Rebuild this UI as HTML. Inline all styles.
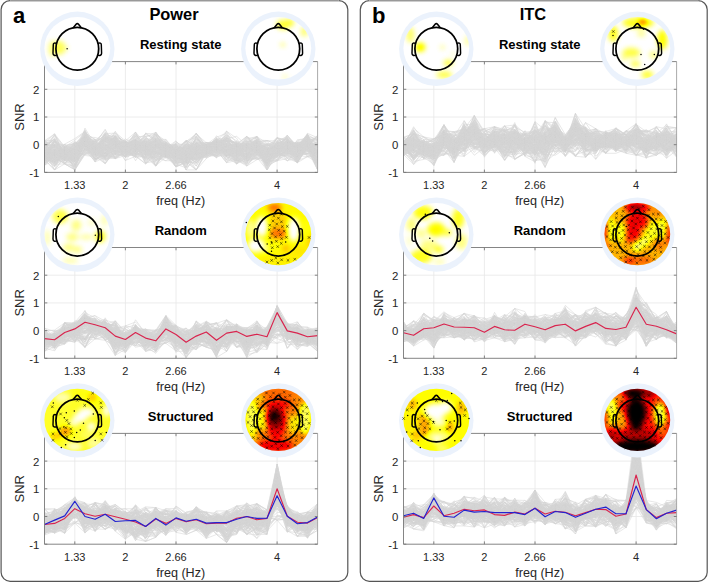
<!DOCTYPE html>
<html><head><meta charset="utf-8"><style>
html,body{margin:0;padding:0;background:#fff;}
svg{display:block;font-family:"Liberation Sans",sans-serif;}
</style></head><body>
<svg width="708" height="583" viewBox="0 0 708 583">
<defs>
<clipPath id="mapclip"><ellipse cx="0" cy="-0.5" rx="32.9" ry="31.2"/></clipPath>
<filter id="cmap" x="-20%" y="-20%" width="140%" height="140%" color-interpolation-filters="sRGB">
<feGaussianBlur stdDeviation="2.6"/>
<feComponentTransfer>
<feFuncR type="table" tableValues="1 1 1 1 1 1 0.667 0.333 0"/>
<feFuncG type="table" tableValues="1 1 1 0.667 0.333 0 0 0 0"/>
<feFuncB type="table" tableValues="1 0.5 0 0 0 0 0 0 0"/>
</feComponentTransfer>
</filter>
</defs>
<rect width="708" height="583" fill="#fff"/>

<rect x="1.1" y="0.6" width="346.7" height="580.7" rx="9" ry="9" fill="#fff" stroke="#555" stroke-width="1.2"/>
<path d="M10.1,0.6H338.8" stroke="#fff" stroke-width="1.3"/><path d="M10.1,0.6H338.8" stroke="#999" stroke-width="1.3"/>
<clipPath id="cP0"><rect x="44.5" y="61.60000000000001" width="273.1" height="110.8"/></clipPath>
<path d="M74.8,61.6V172.4M125.4,61.6V172.4M176.0,61.6V172.4M277.1,61.6V172.4M44.5,144.7H317.6M44.5,117.0H317.6M44.5,89.3H317.6" stroke="#e7e7e7" stroke-width="0.8" fill="none"/>
<g clip-path="url(#cP0)"><g transform="translate(44.50,144.70) scale(10.1148,-0.2770)" fill="none" stroke="#d4d4d4" stroke-width="0.55" stroke-linejoin="round">
<polyline vector-effect="non-scaling-stroke" points="0,-40 1,-32 2,-40 3,-29 4,3 5,-21 6,-42 7,-14 8,12 9,-19 10,-37 11,-5 12,5 13,-61 14,-40 15,-40 16,-42 17,8 18,-6 19,-15 20,-38 21,-1 22,-48 23,-16 24,-32 25,-43 26,24 27,-40"/>
<polyline vector-effect="non-scaling-stroke" points="0,-17 1,-20 2,-36 3,-39 4,28 5,-18 6,-4 7,8 8,7 9,14 10,1 11,-24 12,-38 13,-9 14,-11 15,-22 16,-10 17,11 18,17 19,5 20,-28 21,19 22,-61 23,4 24,3 25,-3 26,36 27,16"/>
<polyline vector-effect="non-scaling-stroke" points="0,-52 1,-76 2,-22 3,-60 4,8 5,-3 6,-53 7,-47 8,-13 9,-6 10,-20 11,-16 12,-34 13,-65 14,-42 15,-54 16,-42 17,2 18,-10 19,-11 20,-48 21,-24 22,-62 23,-33 24,-8 25,-38 26,6 27,-20"/>
<polyline vector-effect="non-scaling-stroke" points="0,4 1,-76 2,-25 3,-44 4,1 5,-53 6,-29 7,10 8,-24 9,-12 10,-29 11,4 12,-25 13,-80 14,-62 15,-91 16,-50 17,-22 18,15 19,-25 20,-59 21,-36 22,-21 23,-19 24,-17 25,-30 26,-6 27,-17"/>
<polyline vector-effect="non-scaling-stroke" points="0,-19 1,-23 2,-52 3,-23 4,-10 5,0 6,-45 7,-4 8,-19 9,-39 10,22 11,17 12,-29 13,-20 14,-32 15,-91 16,-18 17,-9 18,-9 19,-46 20,-32 21,-17 22,-15 23,-11 24,-14 25,1 26,-13 27,-43"/>
<polyline vector-effect="non-scaling-stroke" points="0,-74 1,5 2,-25 3,-20 4,15 5,-23 6,-11 7,-13 8,-27 9,-14 10,11 11,-12 12,-26 13,-53 14,-62 15,7 16,-18 17,-11 18,-27 19,-52 20,-34 21,-3 22,-56 23,-27 24,-24 25,-27 26,-38 27,-46"/>
<polyline vector-effect="non-scaling-stroke" points="0,-42 1,1 2,-43 3,-15 4,43 5,-21 6,-19 7,9 8,-14 9,-26 10,0 11,37 12,-21 13,-34 14,-59 15,-13 16,-34 17,-23 18,25 19,-36 20,3 21,17 22,-29 23,-3 24,27 25,-23 26,-9 27,-62"/>
<polyline vector-effect="non-scaling-stroke" points="0,-12 1,34 2,-8 3,-36 4,7 5,-12 6,21 7,14 8,0 9,17 10,-3 11,3 12,-3 13,-19 14,-10 15,41 16,-4 17,8 18,-31 19,4 20,-51 21,-23 22,-3 23,10 24,1 25,-40 26,7 27,-26"/>
<polyline vector-effect="non-scaling-stroke" points="0,-18 1,30 2,-32 3,-56 4,-21 5,-21 6,-15 7,-28 8,-17 9,-36 10,8 11,7 12,-4 13,-45 14,-29 15,-33 16,-27 17,-14 18,-44 19,-54 20,-9 21,-17 22,-36 23,-1 24,-50 25,-40 26,1 27,-22"/>
<polyline vector-effect="non-scaling-stroke" points="0,-40 1,-4 2,-33 3,-69 4,-17 5,-6 6,0 7,-47 8,2 9,2 10,12 11,-32 12,-27 13,-61 14,12 15,-36 16,-4 17,-21 18,-9 19,-61 20,-37 21,2 22,-72 23,0 24,-9 25,-46 26,-14 27,-47"/>
<polyline vector-effect="non-scaling-stroke" points="0,-21 1,-31 2,-41 3,-31 4,-6 5,-36 6,2 7,27 8,-38 9,2 10,-21 11,-33 12,0 13,-36 14,2 15,-38 16,-11 17,-3 18,-18 19,0 20,-19 21,5 22,-31 23,-29 24,-6 25,-15 26,22 27,-44"/>
<polyline vector-effect="non-scaling-stroke" points="0,-22 1,-67 2,-19 3,-53 4,-26 5,-13 6,29 7,-27 8,-31 9,-16 10,-34 11,1 12,-28 13,-41 14,-19 15,-39 16,-11 17,-18 18,-31 19,-53 20,23 21,-12 22,-26 23,-11 24,-3 25,-16 26,37 27,-49"/>
<polyline vector-effect="non-scaling-stroke" points="0,-57 1,-51 2,-52 3,-11 4,29 5,-33 6,-41 7,-3 8,8 9,-58 10,2 11,-41 12,0 13,-52 14,-41 15,-64 16,-31 17,19 18,15 19,-24 20,-40 21,-44 22,-43 23,-13 24,-10 25,-21 26,-18 27,-26"/>
<polyline vector-effect="non-scaling-stroke" points="0,-36 1,-1 2,-11 3,-45 4,-17 5,-26 6,-33 7,-24 8,-24 9,-38 10,-8 11,-29 12,-20 13,-44 14,-63 15,-63 16,-28 17,-22 18,-11 19,-27 20,-64 21,-17 22,-78 23,-34 24,-25 25,-65 26,-5 27,-34"/>
<polyline vector-effect="non-scaling-stroke" points="0,-29 1,-36 2,-37 3,-55 4,5 5,-26 6,-2 7,-24 8,-11 9,-1 10,-15 11,-25 12,-8 13,-66 14,-26 15,-16 16,-15 17,2 18,-22 19,-23 20,-7 21,-2 22,-31 23,-42 24,1 25,-1 26,18 27,-20"/>
<polyline vector-effect="non-scaling-stroke" points="0,-51 1,11 2,-28 3,-86 4,26 5,-38 6,-30 7,-2 8,11 9,-4 10,3 11,39 12,13 13,-25 14,-33 15,-49 16,-23 17,9 18,12 19,-7 20,8 21,-17 22,-29 23,5 24,8 25,4 26,14 27,-24"/>
<polyline vector-effect="non-scaling-stroke" points="0,-32 1,-71 2,-69 3,-32 4,-5 5,-22 6,-69 7,-20 8,-38 9,-39 10,-69 11,-41 12,-13 13,-36 14,-65 15,-42 16,-17 17,-47 18,-25 19,-20 20,-20 21,8 22,-25 23,-20 24,-17 25,-18 26,-21 27,-45"/>
<polyline vector-effect="non-scaling-stroke" points="0,-12 1,22 2,-37 3,-37 4,11 5,4 6,-11 7,29 8,-37 9,-13 10,-22 11,1 12,-4 13,-67 14,-62 15,-19 16,-30 17,-36 18,13 19,-11 20,-15 21,-22 22,-18 23,-22 24,7 25,-42 26,-19 27,-26"/>
<polyline vector-effect="non-scaling-stroke" points="0,-60 1,-31 2,-43 3,-79 4,-9 5,-41 6,-5 7,-32 8,-40 9,2 10,17 11,13 12,-32 13,-46 14,-23 15,-54 16,-44 17,-19 18,-18 19,-56 20,-77 21,-54 22,-42 23,-46 24,-32 25,-34 26,-5 27,-61"/>
<polyline vector-effect="non-scaling-stroke" points="0,-28 1,-67 2,-48 3,-73 4,21 5,-29 6,-42 7,-19 8,-31 9,-3 10,-66 11,-59 12,-35 13,5 14,-29 15,-44 16,-17 17,19 18,-28 19,-39 20,-9 21,-12 22,-35 23,-35 24,14 25,-3 26,0 27,-25"/>
<polyline vector-effect="non-scaling-stroke" points="0,-75 1,-31 2,-50 3,-42 4,6 5,-40 6,-69 7,-9 8,-45 9,-33 10,-49 11,-48 12,-58 13,-25 14,-51 15,-17 16,-6 17,-20 18,-65 19,-57 20,-72 21,-36 22,-55 23,-58 24,-21 25,-65 26,-10 27,-54"/>
<polyline vector-effect="non-scaling-stroke" points="0,-34 1,-29 2,-42 3,-49 4,-30 5,-18 6,40 7,42 8,5 9,9 10,-31 11,20 12,-20 13,-34 14,-45 15,-23 16,-26 17,-7 18,-36 19,-27 20,26 21,-13 22,-43 23,-6 24,2 25,-44 26,-4 27,-5"/>
<polyline vector-effect="non-scaling-stroke" points="0,-33 1,-38 2,-18 3,-64 4,-1 5,-38 6,18 7,-50 8,-39 9,-31 10,-10 11,-14 12,-5 13,-77 14,-33 15,-49 16,-36 17,-5 18,-45 19,-69 20,-45 21,-50 22,-66 23,-18 24,-16 25,-4 26,-14 27,-86"/>
<polyline vector-effect="non-scaling-stroke" points="0,-38 1,-46 2,-49 3,-16 4,0 5,-52 6,18 7,5 8,-7 9,1 10,6 11,-9 12,4 13,-20 14,-24 15,-7 16,-36 17,-4 18,-8 19,-10 20,-50 21,20 22,-30 23,-33 24,-42 25,-23 26,3 27,-42"/>
<polyline vector-effect="non-scaling-stroke" points="0,-22 1,-39 2,-22 3,-46 4,12 5,3 6,56 7,-17 8,-22 9,-21 10,8 11,-42 12,-24 13,-29 14,-56 15,-48 16,-23 17,-41 18,-40 19,-24 20,-16 21,-11 22,-75 23,-20 24,7 25,-10 26,2 27,-48"/>
<polyline vector-effect="non-scaling-stroke" points="0,-15 1,-42 2,-52 3,-53 4,39 5,-13 6,23 7,-9 8,-1 9,-20 10,-17 11,45 12,-6 13,-43 14,-39 15,-16 16,-6 17,-14 18,-52 19,-25 20,-22 21,-9 22,-9 23,-9 24,4 25,-43 26,15 27,25"/>
<polyline vector-effect="non-scaling-stroke" points="0,-36 1,-52 2,-49 3,-17 4,-39 5,-43 6,-26 7,-8 8,-46 9,-26 10,-49 11,-44 12,-41 13,-80 14,-66 15,-34 16,-48 17,-31 18,-20 19,-69 20,-47 21,-53 22,-38 23,4 24,5 25,-48 26,-8 27,-57"/>
<polyline vector-effect="non-scaling-stroke" points="0,-29 1,11 2,-57 3,-11 4,4 5,5 6,-6 7,-18 8,-14 9,6 10,-17 11,-8 12,-30 13,-80 14,-22 15,-11 16,-20 17,-7 18,12 19,-33 20,-44 21,-18 22,-16 23,-45 24,8 25,-37 26,-24 27,-1"/>
<polyline vector-effect="non-scaling-stroke" points="0,-28 1,-61 2,-37 3,-8 4,35 5,-24 6,6 7,18 8,-27 9,3 10,-12 11,-28 12,-26 13,-29 14,-35 15,-39 16,-24 17,14 18,-1 19,0 20,5 21,0 22,13 23,-29 24,5 25,-27 26,32 27,17"/>
<polyline vector-effect="non-scaling-stroke" points="0,-65 1,-49 2,-21 3,-10 4,28 5,-15 6,9 7,18 8,-15 9,19 10,-65 11,4 12,-34 13,-11 14,-39 15,-46 16,-13 17,-19 18,-27 19,-50 20,-20 21,0 22,-12 23,-15 24,11 25,-19 26,1 27,-10"/>
<polyline vector-effect="non-scaling-stroke" points="0,-20 1,-55 2,-48 3,-54 4,-4 5,-48 6,3 7,-23 8,-20 9,-40 10,-21 11,-23 12,-38 13,-7 14,-45 15,5 16,-16 17,-30 18,-34 19,-24 20,-38 21,-23 22,-60 23,-58 24,-30 25,-65 26,-6 27,-67"/>
<polyline vector-effect="non-scaling-stroke" points="0,-45 1,-36 2,-31 3,-73 4,-34 5,-41 6,-67 7,-24 8,7 9,-33 10,-2 11,-57 12,-16 13,-42 14,-42 15,-13 16,-1 17,-4 18,-8 19,-44 20,-13 21,-18 22,-22 23,-18 24,18 25,-62 26,-8 27,-9"/>
<polyline vector-effect="non-scaling-stroke" points="0,-43 1,-60 2,-44 3,-78 4,3 5,19 6,13 7,-33 8,-40 9,-24 10,0 11,-49 12,-37 13,-23 14,-27 15,-47 16,-40 17,-41 18,-35 19,-69 20,-15 21,-30 22,-35 23,10 24,3 25,-51 26,8 27,-9"/>
<polyline vector-effect="non-scaling-stroke" points="0,-49 1,-62 2,-40 3,-82 4,33 5,-62 6,-46 7,-12 8,-26 9,-9 10,-14 11,-30 12,-6 13,-80 14,-45 15,-55 16,-22 17,-7 18,-39 19,-40 20,-12 21,-10 22,-61 23,14 24,26 25,-56 26,0 27,27"/>
<polyline vector-effect="non-scaling-stroke" points="0,0 1,-3 2,-26 3,-30 4,18 5,-15 6,29 7,7 8,-13 9,-19 10,0 11,-23 12,-11 13,-1 14,-16 15,6 16,-8 17,6 18,4 19,-12 20,7 21,-19 22,5 23,-4 24,-13 25,-19 26,-1 27,-8"/>
<polyline vector-effect="non-scaling-stroke" points="0,-49 1,-4 2,-51 3,-91 4,-15 5,-62 6,-16 7,17 8,-11 9,-44 10,-40 11,21 12,-18 13,-39 14,-21 15,33 16,-8 17,-8 18,-6 19,-12 20,-45 21,-37 22,-43 23,-39 24,-19 25,-26 26,34 27,-60"/>
<polyline vector-effect="non-scaling-stroke" points="0,-28 1,-28 2,-25 3,-5 4,0 5,-32 6,-50 7,-18 8,-6 9,-3 10,-36 11,-24 12,-16 13,-21 14,-49 15,-30 16,-43 17,-25 18,32 19,-66 20,-29 21,-6 22,-44 23,-29 24,-11 25,-20 26,0 27,-78"/>
<polyline vector-effect="non-scaling-stroke" points="0,-19 1,-35 2,-33 3,-14 4,34 5,8 6,-5 7,32 8,11 9,29 10,29 11,-6 12,-12 13,-6 14,-57 15,-4 16,-19 17,-2 18,-38 19,-26 20,-11 21,13 22,-5 23,-7 24,-4 25,-27 26,16 27,-20"/>
<polyline vector-effect="non-scaling-stroke" points="0,-19 1,15 2,-36 3,-76 4,-15 5,-50 6,-45 7,25 8,-16 9,-45 10,-3 11,11 12,-28 13,-51 14,-50 15,-22 16,-14 17,11 18,16 19,1 20,2 21,-3 22,-78 23,-21 24,-9 25,-33 26,12 27,-44"/>
<polyline vector-effect="non-scaling-stroke" points="0,-46 1,13 2,-22 3,-26 4,29 5,2 6,4 7,-50 8,-28 9,-15 10,-37 11,-10 12,1 13,-41 14,-63 15,31 16,-25 17,-27 18,-1 19,-9 20,-39 21,3 22,-48 23,-32 24,-7 25,-8 26,-11 27,-19"/>
<polyline vector-effect="non-scaling-stroke" points="0,-26 1,39 2,-42 3,4 4,12 5,-16 6,16 7,23 8,7 9,4 10,-24 11,-26 12,-8 13,-18 14,-4 15,-9 16,-6 17,21 18,0 19,-48 20,-47 21,-35 22,0 23,-28 24,14 25,-9 26,31 27,1"/>
<polyline vector-effect="non-scaling-stroke" points="0,-26 1,-28 2,-29 3,-25 4,0 5,-15 6,38 7,-34 8,-10 9,-24 10,-6 11,8 12,-17 13,-15 14,-72 15,8 16,-26 17,7 18,0 19,-69 20,-38 21,-5 22,-1 23,-8 24,-4 25,-46 26,26 27,21"/>
<polyline vector-effect="non-scaling-stroke" points="0,-38 1,-47 2,-68 3,-23 4,54 5,-13 6,13 7,2 8,-44 9,11 10,-57 11,-36 12,-22 13,-25 14,-40 15,-29 16,-37 17,-39 18,-19 19,-46 20,-67 21,-45 22,-61 23,-58 24,-50 25,-63 26,-6 27,-31"/>
<polyline vector-effect="non-scaling-stroke" points="0,13 1,-65 2,-42 3,-7 4,7 5,-21 6,41 7,-3 8,-35 9,-33 10,-3 11,-5 12,-40 13,-50 14,-23 15,-6 16,-26 17,7 18,9 19,-55 20,-27 21,-2 22,-48 23,-53 24,-14 25,-7 26,29 27,-85"/>
<polyline vector-effect="non-scaling-stroke" points="0,19 1,-36 2,-8 3,16 4,46 5,0 6,-17 7,31 8,-15 9,-46 10,41 11,21 12,19 13,-35 14,11 15,39 16,7 17,7 18,-18 19,-6 20,-57 21,-28 22,-18 23,-19 24,1 25,-10 26,41 27,25"/>
<polyline vector-effect="non-scaling-stroke" points="0,-43 1,-12 2,-57 3,-59 4,14 5,-55 6,-33 7,-44 8,-27 9,14 10,-49 11,-28 12,-46 13,-71 14,-83 15,-4 16,-1 17,-9 18,-43 19,-18 20,-47 21,-9 22,-47 23,-23 24,-13 25,-46 26,-21 27,-91"/>
<polyline vector-effect="non-scaling-stroke" points="0,-25 1,-51 2,-27 3,-43 4,23 5,0 6,-31 7,-5 8,-24 9,21 10,36 11,19 12,-15 13,5 14,-61 15,30 16,-21 17,-47 18,49 19,23 20,-35 21,1 22,-30 23,-4 24,-31 25,-25 26,17 27,-9"/>
<polyline vector-effect="non-scaling-stroke" points="0,-2 1,-19 2,2 3,-47 4,18 5,-52 6,-37 7,32 8,-31 9,9 10,-11 11,-40 12,-22 13,-40 14,-45 15,0 16,-10 17,-13 18,-27 19,-10 20,-21 21,9 22,15 23,2 24,-9 25,-22 26,-13 27,-49"/>
<polyline vector-effect="non-scaling-stroke" points="0,-53 1,-44 2,-43 3,-20 4,-5 5,-25 6,-46 7,31 8,-12 9,27 10,-1 11,16 12,-27 13,-23 14,15 15,-67 16,-9 17,18 18,-3 19,-8 20,0 21,-28 22,-33 23,-36 24,-30 25,-38 26,-7 27,-30"/>
<polyline vector-effect="non-scaling-stroke" points="0,2 1,-36 2,2 3,22 4,48 5,-4 6,20 7,36 8,8 9,-20 10,28 11,45 12,-32 13,8 14,-6 15,2 16,8 17,-7 18,22 19,30 20,-3 21,1 22,-11 23,-4 24,34 25,-19 26,34 27,-33"/>
<polyline vector-effect="non-scaling-stroke" points="0,-5 1,-16 2,-69 3,-21 4,-5 5,-16 6,46 7,-13 8,-27 9,35 10,0 11,35 12,-6 13,-41 14,-28 15,22 16,-3 17,3 18,5 19,-11 20,-26 21,30 22,-27 23,-28 24,-11 25,-1 26,19 27,-19"/>
<polyline vector-effect="non-scaling-stroke" points="0,-52 1,-40 2,-69 3,-80 4,16 5,-37 6,-10 7,17 8,-14 9,-17 10,24 11,-11 12,-34 13,-27 14,-39 15,-65 16,-25 17,-18 18,-65 19,-34 20,-42 21,-29 22,-90 23,-32 24,-22 25,-30 26,-32 27,-24"/>
<polyline vector-effect="non-scaling-stroke" points="0,-51 1,-29 2,-12 3,-47 4,0 5,5 6,-13 7,-2 8,-10 9,19 10,-66 11,-35 12,-34 13,-53 14,-55 15,-46 16,-14 17,-20 18,-1 19,-8 20,-38 21,-6 22,1 23,-7 24,-22 25,-21 26,-15 27,-18"/>
<polyline vector-effect="non-scaling-stroke" points="0,-3 1,-39 2,-30 3,4 4,6 5,-7 6,-24 7,-8 8,-19 9,45 10,-14 11,-19 12,-21 13,-28 14,-15 15,-9 16,8 17,5 18,35 19,-5 20,-1 21,-31 22,-32 23,-9 24,-8 25,-55 26,21 27,-28"/>
<polyline vector-effect="non-scaling-stroke" points="0,-36 1,-33 2,-36 3,-22 4,-20 5,-35 6,1 7,5 8,-23 9,-19 10,-34 11,-17 12,0 13,-54 14,-5 15,-2 16,-25 17,7 18,-45 19,-57 20,-54 21,-19 22,-45 23,-25 24,-9 25,-63 26,9 27,-68"/>
<polyline vector-effect="non-scaling-stroke" points="0,-32 1,-25 2,-44 3,-56 4,-4 5,-9 6,20 7,23 8,-26 9,-14 10,-25 11,7 12,-46 13,0 14,-38 15,-35 16,-10 17,18 18,11 19,11 20,-10 21,17 22,-1 23,-9 24,24 25,-12 26,9 27,-41"/>
<polyline vector-effect="non-scaling-stroke" points="0,-32 1,-3 2,-53 3,-15 4,18 5,-11 6,-66 7,1 8,-5 9,-22 10,-10 11,-77 12,-7 13,-45 14,-17 15,-77 16,-11 17,-8 18,13 19,-38 20,-36 21,28 22,-55 23,-27 24,-15 25,-40 26,21 27,17"/>
<polyline vector-effect="non-scaling-stroke" points="0,-33 1,-63 2,-10 3,5 4,35 5,11 6,-18 7,7 8,-34 9,-28 10,18 11,-22 12,19 13,-22 14,-42 15,8 16,6 17,10 18,-27 19,-3 20,16 21,-12 22,-45 23,9 24,0 25,-35 26,1 27,-37"/>
<polyline vector-effect="non-scaling-stroke" points="0,-6 1,-1 2,-5 3,4 4,-8 5,5 6,37 7,28 8,13 9,0 10,-16 11,28 12,-22 13,-60 14,2 15,-22 16,-13 17,-16 18,-20 19,-26 20,-13 21,9 22,-72 23,11 24,-18 25,-26 26,25 27,-9"/>
<polyline vector-effect="non-scaling-stroke" points="0,-65 1,16 2,-51 3,-32 4,8 5,4 6,-26 7,18 8,-34 9,13 10,-38 11,-32 12,7 13,-31 14,-41 15,29 16,-18 17,-25 18,4 19,-50 20,-4 21,5 22,-57 23,-31 24,-12 25,-26 26,-23 27,-20"/>
<polyline vector-effect="non-scaling-stroke" points="0,-66 1,-33 2,-36 3,-34 4,20 5,-37 6,14 7,2 8,-25 9,-33 10,-38 11,-2 12,-32 13,-27 14,-10 15,8 16,0 17,-7 18,-30 19,6 20,-12 21,11 22,-33 23,8 24,8 25,-6 26,12 27,-13"/>
<polyline vector-effect="non-scaling-stroke" points="0,-25 1,-23 2,-20 3,-49 4,42 5,-22 6,15 7,-3 8,-23 9,33 10,-24 11,-54 12,-33 13,-42 14,6 15,-23 16,-10 17,-26 18,-2 19,-8 20,13 21,-27 22,-27 23,-12 24,-35 25,-25 26,-7 27,-91"/>
<polyline vector-effect="non-scaling-stroke" points="0,-13 1,-7 2,-37 3,-63 4,43 5,-9 6,24 7,34 8,-23 9,15 10,-15 11,-13 12,-17 13,-29 14,-10 15,-17 16,-19 17,-7 18,4 19,-35 20,-31 21,-9 22,-47 23,-14 24,-20 25,14 26,25 27,-13"/>
<polyline vector-effect="non-scaling-stroke" points="0,-39 1,19 2,-36 3,-47 4,5 5,-21 6,17 7,-10 8,9 9,-38 10,-9 11,-56 12,2 13,-50 14,-51 15,-13 16,-11 17,-35 18,-29 19,-61 20,-32 21,-22 22,-58 23,-38 24,-29 25,-46 26,1 27,-2"/>
<polyline vector-effect="non-scaling-stroke" points="0,-72 1,-35 2,-43 3,-25 4,-17 5,-24 6,-40 7,12 8,-18 9,-14 10,-9 11,-28 12,-49 13,-24 14,-35 15,-35 16,-10 17,11 18,-40 19,-40 20,6 21,10 22,-59 23,-41 24,-28 25,-35 26,-34 27,-33"/>
<polyline vector-effect="non-scaling-stroke" points="0,-54 1,-61 2,-20 3,-50 4,8 5,-6 6,15 7,-6 8,-16 9,-25 10,25 11,1 12,-38 13,-32 14,-22 15,-12 16,1 17,17 18,-21 19,-21 20,-54 21,-7 22,-34 23,26 24,-9 25,-62 26,-13 27,-25"/>
<polyline vector-effect="non-scaling-stroke" points="0,-42 1,-35 2,-30 3,-11 4,17 5,-24 6,28 7,2 8,-15 9,-25 10,-19 11,14 12,-37 13,-23 14,-10 15,-20 16,-10 17,-16 18,35 19,14 20,-6 21,-34 22,-49 23,11 24,31 25,-8 26,30 27,-30"/>
<polyline vector-effect="non-scaling-stroke" points="0,-18 1,-8 2,-17 3,-54 4,43 5,18 6,-19 7,-14 8,0 9,-5 10,-55 11,21 12,-5 13,-28 14,15 15,-3 16,-20 17,7 18,-17 19,-21 20,0 21,-9 22,-32 23,24 24,17 25,3 26,20 27,1"/>
<polyline vector-effect="non-scaling-stroke" points="0,-10 1,-43 2,-14 3,-72 4,-10 5,-56 6,-32 7,1 8,-2 9,-34 10,-27 11,-41 12,-41 13,-69 14,-49 15,-91 16,-26 17,-15 18,-39 19,-54 20,-70 21,11 22,-83 23,2 24,-10 25,-40 26,-33 27,-16"/>
<polyline vector-effect="non-scaling-stroke" points="0,0 1,-61 2,-43 3,-14 4,10 5,13 6,-30 7,7 8,-45 9,31 10,-39 11,-77 12,-26 13,-41 14,-3 15,-44 16,-24 17,0 18,22 19,-27 20,-7 21,-7 22,-52 23,-19 24,-17 25,-45 26,15 27,-75"/>
<polyline vector-effect="non-scaling-stroke" points="0,3 1,11 2,-28 3,-41 4,14 5,-1 6,23 7,16 8,6 9,-9 10,1 11,-47 12,0 13,-21 14,-37 15,18 16,-7 17,-47 18,3 19,-42 20,9 21,30 22,-40 23,-6 24,-8 25,-9 26,18 27,15"/>
<polyline vector-effect="non-scaling-stroke" points="0,-67 1,-8 2,-63 3,-49 4,15 5,-21 6,-58 7,-35 8,-42 9,-28 10,-8 11,-75 12,-26 13,-38 14,-46 15,-38 16,-12 17,-13 18,-9 19,-26 20,-4 21,-54 22,-29 23,-37 24,-36 25,-58 26,-43 27,-64"/>
<polyline vector-effect="non-scaling-stroke" points="0,-45 1,-16 2,-59 3,-1 4,12 5,-25 6,-30 7,-19 8,-40 9,-21 10,-17 11,-24 12,-45 13,-41 14,-62 15,-24 16,0 17,3 18,-19 19,-58 20,-60 21,-46 22,-25 23,-32 24,-13 25,-36 26,-1 27,4"/>
<polyline vector-effect="non-scaling-stroke" points="0,-41 1,-34 2,-45 3,-10 4,-13 5,-39 6,-43 7,-29 8,-8 9,45 10,-37 11,9 12,-13 13,-54 14,-43 15,-30 16,-28 17,26 18,-55 19,-10 20,-14 21,-21 22,-33 23,1 24,-7 25,-14 26,13 27,-83"/>
<polyline vector-effect="non-scaling-stroke" points="0,14 1,39 2,-8 3,9 4,-6 5,-6 6,-8 7,5 8,11 9,-7 10,0 11,-48 12,-9 13,-16 14,-37 15,-24 16,8 17,-14 18,-16 19,-20 20,19 21,30 22,-14 23,-15 24,-5 25,8 26,-3 27,27"/>
<polyline vector-effect="non-scaling-stroke" points="0,8 1,-12 2,-17 3,-4 4,51 5,-29 6,35 7,3 8,-22 9,6 10,-8 11,-30 12,-38 13,-43 14,3 15,40 16,-7 17,21 18,-9 19,-11 20,-7 21,-23 22,-50 23,-6 24,-8 25,-34 26,14 27,-23"/>
<polyline vector-effect="non-scaling-stroke" points="0,-9 1,-28 2,-39 3,-30 4,4 5,-32 6,-19 7,16 8,-7 9,20 10,-57 11,-28 12,-27 13,-30 14,-50 15,-42 16,-11 17,-3 18,-39 19,7 20,-3 21,-23 22,-21 23,-30 24,8 25,-27 26,-16 27,-40"/>
<polyline vector-effect="non-scaling-stroke" points="0,-45 1,-23 2,-31 3,-33 4,-6 5,-62 6,-6 7,-44 8,-14 9,16 10,-9 11,-29 12,-23 13,-37 14,-52 15,-45 16,-33 17,12 18,-10 19,-1 20,-31 21,-11 22,-43 23,-8 24,3 25,-19 26,-14 27,-52"/>
<polyline vector-effect="non-scaling-stroke" points="0,4 1,-35 2,-38 3,2 4,31 5,-8 6,-18 7,49 8,-10 9,5 10,-18 11,-55 12,-42 13,-25 14,-29 15,-33 16,-36 17,-32 18,-17 19,-52 20,-4 21,8 22,15 23,-1 24,-24 25,-39 26,-43 27,-46"/>
<polyline vector-effect="non-scaling-stroke" points="0,-14 1,23 2,-12 3,2 4,32 5,10 6,52 7,-3 8,-10 9,-18 10,41 11,38 12,6 13,-39 14,-15 15,-8 16,-9 17,6 18,25 19,-9 20,14 21,8 22,-25 23,-2 24,-3 25,6 26,10 27,1"/>
<polyline vector-effect="non-scaling-stroke" points="0,-38 1,-72 2,-21 3,-63 4,21 5,-11 6,-55 7,-23 8,-28 9,-27 10,-45 11,0 12,-25 13,-27 14,-50 15,-20 16,-31 17,-8 18,3 19,-20 20,-37 21,-34 22,-36 23,-11 24,-19 25,-39 26,7 27,32"/>
<polyline vector-effect="non-scaling-stroke" points="0,-35 1,-18 2,-28 3,-91 4,11 5,-32 6,28 7,-5 8,-32 9,-12 10,-11 11,-32 12,-20 13,-62 14,-44 15,-5 16,2 17,5 18,-2 19,4 20,-2 21,16 22,-15 23,-18 24,-7 25,-20 26,4 27,-24"/>
<polyline vector-effect="non-scaling-stroke" points="0,-38 1,-78 2,-39 3,-78 4,17 5,-12 6,-45 7,22 8,2 9,2 10,30 11,37 12,-35 13,-7 14,-22 15,-6 16,-6 17,-13 18,-16 19,-31 20,-34 21,-8 22,-65 23,-30 24,5 25,-18 26,11 27,-73"/>
<polyline vector-effect="non-scaling-stroke" points="0,-43 1,-41 2,-31 3,-46 4,29 5,-17 6,-5 7,3 8,-4 9,-16 10,12 11,-3 12,-15 13,-30 14,-25 15,3 16,-8 17,2 18,14 19,-15 20,5 21,-11 22,-86 23,8 24,-8 25,-43 26,-3 27,-52"/>
<polyline vector-effect="non-scaling-stroke" points="0,12 1,-13 2,-59 3,-19 4,0 5,17 6,-35 7,-50 8,-15 9,-14 10,-24 11,-74 12,-12 13,-1 14,-83 15,7 16,-27 17,32 18,3 19,-23 20,1 21,-2 22,-51 23,-3 24,-22 25,-56 26,34 27,-38"/>
<polyline vector-effect="non-scaling-stroke" points="0,-50 1,-29 2,-66 3,-79 4,-13 5,-37 6,-17 7,15 8,-34 9,-5 10,-10 11,-58 12,-22 13,-62 14,-24 15,-25 16,-25 17,-39 18,-16 19,-46 20,-17 21,-22 22,-68 23,-7 24,-6 25,-42 26,12 27,-49"/>
<polyline vector-effect="non-scaling-stroke" points="0,-32 1,-20 2,-44 3,-41 4,8 5,11 6,34 7,-2 8,11 9,-5 10,-3 11,9 12,-12 13,14 14,-30 15,-57 16,-4 17,-11 18,-13 19,-69 20,1 21,4 22,-18 23,3 24,22 25,-21 26,17 27,-46"/>
<polyline vector-effect="non-scaling-stroke" points="0,-37 1,-1 2,-29 3,-70 4,14 5,-23 6,-32 7,8 8,-26 9,-45 10,-44 11,25 12,-47 13,-30 14,-27 15,-11 16,-38 17,-14 18,-7 19,-5 20,-41 21,-35 22,-19 23,2 24,-6 25,-36 26,5 27,-29"/>
<polyline vector-effect="non-scaling-stroke" points="0,2 1,-42 2,-21 3,-19 4,-1 5,-1 6,12 7,8 8,1 9,-23 10,1 11,12 12,-3 13,1 14,-50 15,-49 16,-9 17,13 18,49 19,7 20,-27 21,14 22,-41 23,-30 24,34 25,-5 26,24 27,4"/>
<polyline vector-effect="non-scaling-stroke" points="0,15 1,-7 2,-9 3,-48 4,-13 5,16 6,42 7,21 8,-6 9,7 10,-20 11,33 12,-2 13,-14 14,-20 15,15 16,-9 17,14 18,-26 19,0 20,30 21,-13 22,-31 23,7 24,14 25,-4 26,-23 27,-5"/>
<polyline vector-effect="non-scaling-stroke" points="0,-50 1,-47 2,-24 3,-38 4,28 5,26 6,16 7,18 8,-31 9,-19 10,-37 11,-28 12,-36 13,-44 14,-40 15,-52 16,-37 17,-29 18,5 19,-16 20,1 21,8 22,-43 23,-2 24,-39 25,18 26,22 27,-32"/>
<polyline vector-effect="non-scaling-stroke" points="0,-42 1,-4 2,-56 3,-41 4,34 5,-8 6,-8 7,30 8,-27 9,9 10,-15 11,-27 12,-4 13,-44 14,12 15,-29 16,8 17,-17 18,17 19,-36 20,-45 21,-1 22,-13 23,-31 24,19 25,-29 26,10 27,-7"/>
<polyline vector-effect="non-scaling-stroke" points="0,-17 1,-80 2,-11 3,-20 4,-2 5,-39 6,-55 7,-31 8,-9 9,-15 10,-43 11,-32 12,4 13,-41 14,-53 15,9 16,-15 17,-6 18,-25 19,-55 20,-53 21,-21 22,-44 23,-10 24,-2 25,-19 26,3 27,-58"/>
<polyline vector-effect="non-scaling-stroke" points="0,-59 1,-23 2,-38 3,-33 4,17 5,-29 6,-20 7,13 8,-4 9,-6 10,12 11,-5 12,-25 13,-19 14,15 15,-26 16,1 17,27 18,41 19,-23 20,30 21,2 22,-29 23,-8 24,12 25,-10 26,8 27,20"/>
<polyline vector-effect="non-scaling-stroke" points="0,-40 1,-53 2,-20 3,-13 4,34 5,-36 6,24 7,14 8,13 9,-32 10,-6 11,-21 12,-45 13,-45 14,-11 15,-36 16,-28 17,10 18,18 19,3 20,-39 21,-10 22,-13 23,-26 24,-25 25,-6 26,28 27,-58"/>
<polyline vector-effect="non-scaling-stroke" points="0,-74 1,-56 2,-43 3,-26 4,30 5,-12 6,-15 7,13 8,-27 9,2 10,-20 11,45 12,0 13,-41 14,-52 15,-26 16,-36 17,-12 18,-16 19,7 20,-24 21,-18 22,-60 23,-30 24,-5 25,-19 26,26 27,-35"/>
<polyline vector-effect="non-scaling-stroke" points="0,-17 1,-34 2,-42 3,-91 4,-33 5,-13 6,15 7,-6 8,-13 9,-28 10,-36 11,-49 12,-12 13,-37 14,-56 15,-51 16,-19 17,-10 18,-43 19,4 20,-30 21,-21 22,-18 23,-7 24,-24 25,-22 26,-31 27,-61"/>
<polyline vector-effect="non-scaling-stroke" points="0,-69 1,14 2,-59 3,-9 4,-4 5,-31 6,-4 7,13 8,-2 9,37 10,1 11,13 12,-24 13,-13 14,-28 15,-30 16,-17 17,-2 18,3 19,-5 20,-28 21,-20 22,-15 23,-42 24,-18 25,9 26,-43 27,-40"/>
<polyline vector-effect="non-scaling-stroke" points="0,-29 1,-91 2,-7 3,-91 4,23 5,-3 6,-2 7,-21 8,-24 9,-44 10,-12 11,-67 12,-36 13,-27 14,-82 15,-58 16,-27 17,-44 18,2 19,-28 20,-77 21,-26 22,-74 23,-42 24,-25 25,-50 26,4 27,-69"/>
<polyline vector-effect="non-scaling-stroke" points="0,-26 1,-54 2,-34 3,-70 4,-24 5,-58 6,-16 7,2 8,3 9,2 10,-30 11,-47 12,-28 13,-52 14,-26 15,-24 16,-43 17,-35 18,3 19,-33 20,-51 21,-6 22,-69 23,-38 24,-40 25,-65 26,-1 27,-88"/>
<polyline vector-effect="non-scaling-stroke" points="0,-40 1,-49 2,-23 3,-35 4,8 5,-52 6,-10 7,-33 8,-12 9,1 10,-15 11,33 12,-11 13,-22 14,-35 15,-32 16,-9 17,12 18,-42 19,1 20,-13 21,4 22,-28 23,-40 24,-37 25,8 26,4 27,-69"/>
<polyline vector-effect="non-scaling-stroke" points="0,-27 1,-47 2,-69 3,-91 4,-36 5,-19 6,-17 7,-12 8,-18 9,0 10,-69 11,-34 12,-39 13,-66 14,-59 15,-39 16,-28 17,-39 18,-29 19,14 20,-57 21,-50 22,-39 23,-11 24,-9 25,-50 26,11 27,-60"/>
<polyline vector-effect="non-scaling-stroke" points="0,-47 1,-38 2,-31 3,-11 4,26 5,-14 6,22 7,7 8,1 9,-34 10,-48 11,8 12,-39 13,-35 14,-35 15,-34 16,-23 17,20 18,-65 19,3 20,30 21,-7 22,-34 23,0 24,26 25,-41 26,5 27,-28"/>
<polyline vector-effect="non-scaling-stroke" points="0,7 1,11 2,-6 3,-13 4,36 5,-7 6,8 7,24 8,1 9,-4 10,41 11,12 12,-21 13,12 14,-27 15,22 16,-6 17,19 18,25 19,-5 20,5 21,30 22,-61 23,7 24,20 25,-19 26,-2 27,34"/>
<polyline vector-effect="non-scaling-stroke" points="0,-42 1,21 2,-29 3,-38 4,13 5,-11 6,16 7,4 8,-20 9,-9 10,10 11,-3 12,-42 13,-52 14,-37 15,-53 16,-29 17,-29 18,-22 19,-16 20,-8 21,-17 22,0 23,-22 24,34 25,-10 26,3 27,-51"/>
<polyline vector-effect="non-scaling-stroke" points="0,-75 1,-37 2,-33 3,8 4,-28 5,13 6,-19 7,12 8,-58 9,-8 10,-27 11,-4 12,-20 13,-61 14,-22 15,-12 16,-15 17,8 18,13 19,-24 20,-61 21,-41 22,-13 23,-6 24,-13 25,-34 26,-3 27,-34"/>
<polyline vector-effect="non-scaling-stroke" points="0,-30 1,-40 2,1 3,-22 4,0 5,-39 6,-21 7,21 8,-1 9,-6 10,-8 11,-18 12,-34 13,-4 14,-25 15,41 16,-27 17,-4 18,18 19,-20 20,-51 21,-25 22,-31 23,-6 24,-9 25,-2 26,20 27,-15"/>
<polyline vector-effect="non-scaling-stroke" points="0,-20 1,-23 2,-20 3,-2 4,18 5,-3 6,-6 7,-23 8,-28 9,17 10,4 11,32 12,-12 13,-9 14,-2 15,11 16,-23 17,-2 18,4 19,-33 20,-5 21,12 22,-40 23,24 24,-10 25,-19 26,2 27,-38"/>
<polyline vector-effect="non-scaling-stroke" points="0,-19 1,-25 2,-9 3,-17 4,21 5,-21 6,-45 7,0 8,-32 9,14 10,-14 11,26 12,-7 13,-16 14,-32 15,-19 16,-12 17,10 18,-25 19,-9 20,30 21,-12 22,-43 23,-28 24,-41 25,-2 26,1 27,-20"/>
<polyline vector-effect="non-scaling-stroke" points="0,7 1,39 2,-47 3,-7 4,22 5,-10 6,6 7,1 8,9 9,7 10,-6 11,15 12,-5 13,-23 14,-30 15,22 16,-14 17,-7 18,-29 19,-26 20,-48 21,-9 22,-32 23,-54 24,-11 25,-11 26,3 27,-55"/>
<polyline vector-effect="non-scaling-stroke" points="0,5 1,-33 2,-45 3,-48 4,19 5,8 6,35 7,16 8,-30 9,-10 10,-24 11,-9 12,-41 13,-21 14,-14 15,-16 16,-9 17,-14 18,-33 19,-23 20,12 21,14 22,-37 23,13 24,-8 25,11 26,16 27,-28"/>
<polyline vector-effect="non-scaling-stroke" points="0,-5 1,-38 2,-42 3,-60 4,22 5,-11 6,1 7,1 8,13 9,-7 10,-22 11,24 12,9 13,-19 14,-70 15,-32 16,-8 17,1 18,37 19,-41 20,0 21,-16 22,-1 23,-10 24,15 25,-27 26,-20 27,-49"/>
<polyline vector-effect="non-scaling-stroke" points="0,-49 1,-68 2,-22 3,-10 4,6 5,-46 6,-21 7,-24 8,0 9,-8 10,-12 11,-38 12,-58 13,-57 14,-74 15,-26 16,-24 17,-28 18,-28 19,4 20,-56 21,-36 22,-53 23,-36 24,-29 25,-20 26,22 27,-89"/>
<polyline vector-effect="non-scaling-stroke" points="0,-26 1,-23 2,-33 3,-35 4,3 5,2 6,-18 7,0 8,-15 9,-2 10,-16 11,11 12,-17 13,-28 14,-37 15,-53 16,-30 17,-24 18,-2 19,-33 20,-47 21,-6 22,-25 23,-47 24,21 25,-20 26,-1 27,0"/>
<polyline vector-effect="non-scaling-stroke" points="0,-23 1,-40 2,0 3,-57 4,10 5,0 6,-33 7,2 8,-8 9,45 10,-33 11,-14 12,-6 13,-28 14,-63 15,-11 16,-17 17,4 18,21 19,4 20,-11 21,-4 22,-61 23,-15 24,-5 25,-27 26,4 27,-48"/>
<polyline vector-effect="non-scaling-stroke" points="0,-6 1,20 2,-46 3,-33 4,-6 5,-2 6,-6 7,-6 8,-28 9,-13 10,-49 11,-10 12,-38 13,-30 14,-45 15,-7 16,-25 17,4 18,-42 19,-15 20,-39 21,-15 22,-46 23,-6 24,-58 25,-24 26,-37 27,-9"/>
<polyline vector-effect="non-scaling-stroke" points="0,-64 1,-48 2,-56 3,12 4,-15 5,-11 6,-15 7,-34 8,-18 9,13 10,-12 11,13 12,-21 13,-27 14,-41 15,-9 16,4 17,4 18,2 19,-27 20,-35 21,17 22,-58 23,-28 24,-8 25,-26 26,37 27,-88"/>
<polyline vector-effect="non-scaling-stroke" points="0,-27 1,-16 2,-57 3,-58 4,11 5,6 6,-41 7,-42 8,-6 9,19 10,-30 11,-77 12,-1 13,-43 14,-20 15,-36 16,-29 17,-20 18,19 19,3 20,-77 21,-35 22,-7 23,-28 24,-46 25,-28 26,-8 27,-40"/>
<polyline vector-effect="non-scaling-stroke" points="0,-25 1,-18 2,-31 3,-10 4,4 5,-11 6,5 7,41 8,-1 9,4 10,12 11,9 12,7 13,-11 14,13 15,27 16,-13 17,-2 18,26 19,3 20,-12 21,-28 22,-67 23,1 24,14 25,1 26,-13 27,13"/>
<polyline vector-effect="non-scaling-stroke" points="0,-34 1,-10 2,-24 3,-48 4,0 5,-54 6,-26 7,-35 8,-6 9,0 10,11 11,-2 12,-26 13,-22 14,-42 15,-3 16,-13 17,-20 18,-3 19,-13 20,-26 21,7 22,3 23,-18 24,-14 25,-61 26,1 27,-35"/>
<polyline vector-effect="non-scaling-stroke" points="0,-70 1,-14 2,-22 3,-47 4,4 5,-33 6,17 7,-30 8,-19 9,38 10,-9 11,0 12,-18 13,-54 14,-35 15,-10 16,-31 17,3 18,25 19,5 20,-57 21,-27 22,-72 23,5 24,3 25,-8 26,-14 27,-57"/>
<polyline vector-effect="non-scaling-stroke" points="0,-30 1,-29 2,-50 3,-34 4,19 5,-16 6,-41 7,-50 8,-25 9,-7 10,-25 11,-33 12,-34 13,-22 14,-43 15,-27 16,-35 17,-20 18,-8 19,-46 20,-58 21,-21 22,-16 23,-15 24,12 25,-28 26,-10 27,-72"/>
<polyline vector-effect="non-scaling-stroke" points="0,-38 1,13 2,-27 3,-14 4,25 5,-16 6,-11 7,5 8,-5 9,5 10,-1 11,-11 12,-31 13,-37 14,-59 15,3 16,-47 17,-9 18,48 19,-25 20,-49 21,-10 22,-9 23,-17 24,1 25,-19 26,-6 27,34"/>
<polyline vector-effect="non-scaling-stroke" points="0,-45 1,-68 2,-56 3,-46 4,-2 5,-20 6,-28 7,-50 8,-23 9,-34 10,-43 11,-77 12,-44 13,-67 14,-60 15,-91 16,-31 17,-20 18,-59 19,-53 20,-65 21,-11 22,-91 23,-39 24,-58 25,-47 26,-1 27,-71"/>
<polyline vector-effect="non-scaling-stroke" points="0,-34 1,-64 2,-12 3,-21 4,23 5,-53 6,-50 7,14 8,-29 9,-23 10,-17 11,-63 12,-13 13,-42 14,-37 15,-58 16,-19 17,-27 18,4 19,-6 20,-13 21,-10 22,-34 23,-58 24,-4 25,-36 26,-7 27,-49"/>
<polyline vector-effect="non-scaling-stroke" points="0,-51 1,-33 2,-19 3,8 4,1 5,-29 6,38 7,-12 8,21 9,1 10,-28 11,16 12,12 13,-57 14,2 15,-25 16,0 17,-7 18,-40 19,-3 20,3 21,29 22,5 23,2 24,-10 25,-26 26,0 27,-43"/>
<polyline vector-effect="non-scaling-stroke" points="0,-54 1,-91 2,-46 3,-58 4,42 5,-21 6,-47 7,-8 8,-57 9,-42 10,-69 11,-4 12,-25 13,-78 14,-62 15,-26 16,-26 17,-16 18,-54 19,-55 20,-44 21,-12 22,-80 23,-55 24,-8 25,-58 26,2 27,-49"/>
<polyline vector-effect="non-scaling-stroke" points="0,-1 1,34 2,-15 3,-1 4,0 5,-20 6,24 7,44 8,14 9,45 10,5 11,3 12,5 13,-22 14,-27 15,-40 16,-2 17,-15 18,17 19,-39 20,12 21,-20 22,-8 23,-35 24,-9 25,7 26,-5 27,-13"/>
<polyline vector-effect="non-scaling-stroke" points="0,-54 1,-91 2,-41 3,-41 4,-34 5,-21 6,-50 7,-39 8,-31 9,-40 10,20 11,-77 12,-19 13,-28 14,-91 15,-91 16,-22 17,-29 18,-18 19,-11 20,-51 21,-46 22,-91 23,-26 24,-47 25,-31 26,-10 27,-88"/>
<polyline vector-effect="non-scaling-stroke" points="0,14 1,16 2,-14 3,-50 4,11 5,-18 6,-4 7,-13 8,-2 9,9 10,5 11,-16 12,9 13,-19 14,-91 15,-30 16,-14 17,18 18,-3 19,-14 20,-27 21,8 22,-37 23,-17 24,-16 25,-4 26,-1 27,-61"/>
<polyline vector-effect="non-scaling-stroke" points="0,-21 1,-56 2,-32 3,-31 4,27 5,-4 6,-31 7,-10 8,-46 9,22 10,-11 11,11 12,-30 13,-80 14,-12 15,-32 16,-22 17,-10 18,0 19,-14 20,-69 21,2 22,-58 23,-30 24,15 25,-12 26,-13 27,-89"/>
<polyline vector-effect="non-scaling-stroke" points="0,-15 1,2 2,-27 3,-52 4,2 5,-32 6,12 7,29 8,8 9,-11 10,3 11,10 12,-19 13,-25 14,15 15,-6 16,-4 17,-4 18,5 19,-46 20,-13 21,17 22,15 23,13 24,11 25,-13 26,-2 27,-20"/>
<polyline vector-effect="non-scaling-stroke" points="0,-12 1,-44 2,-17 3,-53 4,-28 5,-34 6,-48 7,-26 8,5 9,-7 10,-5 11,17 12,3 13,-39 14,-5 15,-10 16,-17 17,5 18,-40 19,-33 20,-22 21,2 22,-42 23,-14 24,10 25,4 26,16 27,8"/>
<polyline vector-effect="non-scaling-stroke" points="0,-50 1,-54 2,-39 3,-58 4,-18 5,0 6,-31 7,-36 8,-20 9,18 10,-28 11,-2 12,-38 13,-57 14,-70 15,-49 16,-6 17,-39 18,15 19,-56 20,-45 21,-8 22,-38 23,-22 24,-58 25,-28 26,-32 27,20"/>
<polyline vector-effect="non-scaling-stroke" points="0,-17 1,-1 2,-40 3,-26 4,-4 5,13 6,6 7,28 8,-15 9,-1 10,31 11,-22 12,-37 13,-11 14,-47 15,-17 16,-1 17,-7 18,30 19,-18 20,25 21,23 22,-32 23,-6 24,-13 25,-6 26,31 27,-48"/>
<polyline vector-effect="non-scaling-stroke" points="0,6 1,-40 2,-33 3,-57 4,60 5,-1 6,21 7,5 8,14 9,-35 10,6 11,45 12,-11 13,-16 14,-5 15,-24 16,-10 17,23 18,16 19,5 20,-12 21,8 22,-18 23,23 24,17 25,-12 26,-31 27,11"/>
<polyline vector-effect="non-scaling-stroke" points="0,-12 1,-50 2,-65 3,-60 4,30 5,-37 6,-17 7,8 8,4 9,-5 10,-14 11,-29 12,8 13,-11 14,-38 15,-64 16,-29 17,5 18,-24 19,0 20,-13 21,-5 22,-22 23,-5 24,-27 25,-27 26,40 27,-60"/>
<polyline vector-effect="non-scaling-stroke" points="0,-38 1,1 2,-36 3,-54 4,-22 5,-8 6,19 7,30 8,-16 9,15 10,-40 11,-12 12,-31 13,-29 14,-22 15,3 16,-33 17,14 18,-21 19,-42 20,-28 21,-40 22,-38 23,-11 24,-16 25,-13 26,-7 27,-29"/>
<polyline vector-effect="non-scaling-stroke" points="0,-57 1,-24 2,-46 3,-43 4,7 5,-13 6,-51 7,-34 8,-22 9,5 10,-5 11,7 12,2 13,-22 14,-37 15,-55 16,-32 17,-14 18,-1 19,-14 20,-22 21,-13 22,-23 23,-11 24,-5 25,-16 26,-10 27,-56"/>
<polyline vector-effect="non-scaling-stroke" points="0,-25 1,-25 2,-43 3,-53 4,48 5,-40 6,-23 7,-1 8,-45 9,-12 10,18 11,-2 12,-14 13,-28 14,-44 15,-10 16,-27 17,-20 18,-15 19,-8 20,-24 21,-6 22,-91 23,-1 24,25 25,-6 26,-13 27,-63"/>
<polyline vector-effect="non-scaling-stroke" points="0,-9 1,-35 2,-13 3,-29 4,43 5,18 6,-44 7,21 8,-17 9,-23 10,-13 11,-5 12,7 13,-50 14,-1 15,41 16,-5 17,14 18,7 19,-30 20,3 21,7 22,-8 23,26 24,14 25,-4 26,37 27,-47"/>
<polyline vector-effect="non-scaling-stroke" points="0,-55 1,-42 2,-46 3,-20 4,-2 5,10 6,28 7,14 8,-27 9,4 10,1 11,-49 12,-15 13,-22 14,-36 15,13 16,-8 17,-24 18,-9 19,-41 20,-14 21,-31 22,-21 23,-11 24,4 25,-28 26,-31 27,12"/>
<polyline vector-effect="non-scaling-stroke" points="0,-29 1,12 2,-25 3,-14 4,49 5,-10 6,31 7,-31 8,-1 9,-10 10,-15 11,-13 12,-12 13,0 14,-80 15,-22 16,-28 17,15 18,-16 19,-8 20,-31 21,2 22,-14 23,-21 24,-9 25,-48 26,7 27,-5"/>
<polyline vector-effect="non-scaling-stroke" points="0,-45 1,-4 2,-70 3,-88 4,-30 5,-33 6,-14 7,-7 8,-23 9,3 10,-32 11,-58 12,-45 13,2 14,-91 15,-39 16,-6 17,-2 18,-36 19,-25 20,-11 21,4 22,-66 23,-7 24,-12 25,-8 26,18 27,-46"/>
<polyline vector-effect="non-scaling-stroke" points="0,-62 1,-21 2,-11 3,-21 4,10 5,21 6,-41 7,16 8,-31 9,-10 10,-17 11,16 12,-39 13,-48 14,-80 15,-17 16,-29 17,-2 18,-40 19,-32 20,-5 21,-18 22,-28 23,-9 24,-23 25,-56 26,13 27,-30"/>
<polyline vector-effect="non-scaling-stroke" points="0,-19 1,-91 2,-69 3,-91 4,-24 5,-8 6,-6 7,-12 8,-24 9,-1 10,-34 11,-20 12,-25 13,-80 14,-59 15,-3 16,-32 17,-18 18,-37 19,-42 20,-10 21,-26 22,-75 23,-58 24,-34 25,-65 26,-43 27,-22"/>
<polyline vector-effect="non-scaling-stroke" points="0,0 1,-60 2,-10 3,-4 4,8 5,9 6,-31 7,-9 8,-29 9,-14 10,22 11,-32 12,-26 13,-37 14,-17 15,-14 16,-1 17,-5 18,-22 19,-14 20,-6 21,-15 22,-16 23,26 24,-8 25,-9 26,35 27,-26"/>
<polyline vector-effect="non-scaling-stroke" points="0,-45 1,-57 2,-27 3,-20 4,6 5,-16 6,26 7,20 8,-42 9,-6 10,-11 11,2 12,-22 13,-46 14,-48 15,-77 16,-20 17,-16 18,3 19,-42 20,-34 21,-30 22,-63 23,-3 24,-21 25,-15 26,-21 27,-26"/>
<polyline vector-effect="non-scaling-stroke" points="0,-51 1,-24 2,-32 3,-5 4,24 5,-10 6,29 7,17 8,1 9,21 10,-3 11,-9 12,-5 13,-29 14,-17 15,19 16,-4 17,-3 18,-26 19,-9 20,-14 21,17 22,-34 23,-9 24,12 25,-21 26,7 27,29"/>
<polyline vector-effect="non-scaling-stroke" points="0,2 1,-8 2,-28 3,-56 4,22 5,-15 6,1 7,-9 8,-15 9,-9 10,-5 11,21 12,-12 13,-66 14,-59 15,-69 16,-29 17,5 18,3 19,-31 20,-16 21,-24 22,-70 23,-41 24,-28 25,3 26,-24 27,5"/>
</g></g>
<g clip-path="url(#cP0)" fill="none" stroke-width="1.15" stroke-linejoin="round">
</g>
<path d="M317.6,61.6V172.4" stroke="#a0a0a0" stroke-width="0.9" fill="none"/>
<path d="M44.5,61.6H317.6M317.6,172.4H44.5V61.6M74.8,172.4v-2.8M74.8,61.6v2.8M125.4,172.4v-2.8M125.4,61.6v2.8M176.0,172.4v-2.8M176.0,61.6v2.8M277.1,172.4v-2.8M277.1,61.6v2.8M44.5,172.4h2.8M317.6,172.4h-2.8M44.5,144.7h2.8M317.6,144.7h-2.8M44.5,117.0h2.8M317.6,117.0h-2.8M44.5,89.3h2.8M317.6,89.3h-2.8" stroke="#777" stroke-width="0.9" fill="none"/>
<text x="39.3" y="93.7" font-size="11.4" font-weight="normal" text-anchor="end" fill="#262626" >2</text>
<text x="39.3" y="121.4" font-size="11.4" font-weight="normal" text-anchor="end" fill="#262626" >1</text>
<text x="39.3" y="149.1" font-size="11.4" font-weight="normal" text-anchor="end" fill="#262626" >0</text>
<text x="39.3" y="176.8" font-size="11.4" font-weight="normal" text-anchor="end" fill="#262626" >-1</text>
<text x="74.8" y="189.2" font-size="11" font-weight="normal" text-anchor="middle" fill="#262626" >1.33</text>
<text x="125.4" y="189.2" font-size="11" font-weight="normal" text-anchor="middle" fill="#262626" >2</text>
<text x="176.0" y="189.2" font-size="11" font-weight="normal" text-anchor="middle" fill="#262626" >2.66</text>
<text x="277.1" y="189.2" font-size="11" font-weight="normal" text-anchor="middle" fill="#262626" >4</text>
<text x="180.7" y="205.4" font-size="12.6" font-weight="normal" text-anchor="middle" fill="#262626" >freq (Hz)</text>
<text x="0" y="0" font-size="13" text-anchor="middle" fill="#262626" transform="translate(23.9,117.0) rotate(-90)">SNR</text>
<clipPath id="cP1"><rect x="44.5" y="247.5" width="273.1" height="110.80000000000001"/></clipPath>
<path d="M74.8,247.5V358.3M125.4,247.5V358.3M176.0,247.5V358.3M277.1,247.5V358.3M44.5,330.6H317.6M44.5,302.9H317.6M44.5,275.2H317.6" stroke="#e7e7e7" stroke-width="0.8" fill="none"/>
<g clip-path="url(#cP1)"><g transform="translate(44.50,330.60) scale(10.1148,-0.2770)" fill="none" stroke="#d4d4d4" stroke-width="0.55" stroke-linejoin="round">
<polyline vector-effect="non-scaling-stroke" points="0,-18 1,-48 2,-17 3,22 4,58 5,18 6,15 7,1 8,-55 9,-2 10,4 11,2 12,16 13,19 14,-41 15,-25 16,-43 17,6 18,-5 19,24 20,-9 21,3 22,-46 23,87 24,2 25,-2 26,-48 27,0"/>
<polyline vector-effect="non-scaling-stroke" points="0,-16 1,-47 2,-8 3,9 4,44 5,20 6,34 7,-32 8,-48 9,-21 10,-75 11,-56 12,23 13,-13 14,-65 15,-16 16,-56 17,-47 18,-2 19,3 20,-51 21,2 22,3 23,37 24,6 25,-52 26,-56 27,-13"/>
<polyline vector-effect="non-scaling-stroke" points="0,-30 1,-32 2,-19 3,-2 4,43 5,44 6,4 7,-72 8,-8 9,3 10,-19 11,-36 12,51 13,-15 14,-32 15,-60 16,-21 17,-56 18,-13 19,0 20,-48 21,20 22,-45 23,39 24,1 25,-43 26,-15 27,-12"/>
<polyline vector-effect="non-scaling-stroke" points="0,-42 1,-10 2,-12 3,4 4,-21 5,-24 6,-9 7,-41 8,-49 9,0 10,-75 11,-66 12,-43 13,-1 14,-64 15,-38 16,-40 17,-21 18,-31 19,-7 20,-97 21,3 22,-22 23,67 24,9 25,-23 26,-31 27,-14"/>
<polyline vector-effect="non-scaling-stroke" points="0,-23 1,-39 2,-8 3,-6 4,41 5,33 6,8 7,25 8,-64 9,-14 10,-4 11,-47 12,-31 13,4 14,-31 15,-46 16,7 17,-64 18,-49 19,-9 20,-39 21,-46 22,-31 23,14 24,-2 25,-12 26,-12 27,-31"/>
<polyline vector-effect="non-scaling-stroke" points="0,-50 1,-52 2,-7 3,28 4,50 5,13 6,28 7,-47 8,-6 9,-10 10,-13 11,-22 12,6 13,-6 14,-61 15,-16 16,18 17,28 18,11 19,1 20,-45 21,14 22,-49 23,39 24,7 25,-33 26,5 27,-2"/>
<polyline vector-effect="non-scaling-stroke" points="0,-41 1,-44 2,-32 3,-24 4,37 5,29 6,14 7,-15 8,-45 9,-1 10,-58 11,-38 12,35 13,4 14,-54 15,-28 16,17 17,11 18,-53 19,-15 20,-19 21,11 22,-40 23,71 24,-11 25,31 26,-17 27,-23"/>
<polyline vector-effect="non-scaling-stroke" points="0,-27 1,-11 2,10 3,-7 4,42 5,1 6,4 7,-46 8,-50 9,-13 10,-38 11,-21 12,31 13,-11 14,-58 15,9 16,-42 17,-75 18,15 19,9 20,-2 21,-9 22,-38 23,61 24,11 25,-17 26,-26 27,-41"/>
<polyline vector-effect="non-scaling-stroke" points="0,-41 1,-13 2,8 3,-7 4,9 5,20 6,26 7,-39 8,-25 9,-44 10,-42 11,-21 12,35 13,-32 14,-48 15,11 16,-3 17,-35 18,12 19,5 20,1 21,14 22,-23 23,69 24,5 25,-30 26,-29 27,0"/>
<polyline vector-effect="non-scaling-stroke" points="0,-58 1,-17 2,-1 3,5 4,41 5,29 6,30 7,-29 8,-34 9,-10 10,1 11,-20 12,-12 13,-20 14,-56 15,-17 16,0 17,28 18,-57 19,10 20,-14 21,-30 22,-23 23,47 24,1 25,10 26,-45 27,-1"/>
<polyline vector-effect="non-scaling-stroke" points="0,-34 1,-9 2,1 3,22 4,42 5,38 6,12 7,-42 8,-16 9,9 10,4 11,-73 12,4 13,2 14,-69 15,-23 16,33 17,6 18,-31 19,15 20,-4 21,5 22,-15 23,69 24,-21 25,-19 26,-10 27,-15"/>
<polyline vector-effect="non-scaling-stroke" points="0,0 1,-41 2,-49 3,-3 4,33 5,25 6,10 7,-47 8,-3 9,-24 10,-18 11,-44 12,-22 13,5 14,-97 15,-39 16,1 17,-47 18,5 19,-7 20,-38 21,29 22,-28 23,54 24,-32 25,-30 26,-14 27,-12"/>
<polyline vector-effect="non-scaling-stroke" points="0,-27 1,-43 2,5 3,-26 4,22 5,18 6,-4 7,-13 8,-43 9,-22 10,0 11,-23 12,33 13,-11 14,-16 15,1 16,18 17,28 18,-12 19,2 20,-20 21,-79 22,-47 23,67 24,9 25,-20 26,-3 27,-1"/>
<polyline vector-effect="non-scaling-stroke" points="0,-49 1,-21 2,10 3,3 4,-30 5,33 6,-4 7,-49 8,-41 9,-32 10,-20 11,-34 12,19 13,-14 14,-74 15,-35 16,0 17,-61 18,38 19,-23 20,-59 21,-2 22,-20 23,36 24,-23 25,-13 26,-18 27,-16"/>
<polyline vector-effect="non-scaling-stroke" points="0,-31 1,-24 2,8 3,18 4,-60 5,6 6,-1 7,-22 8,-25 9,14 10,-16 11,-36 12,10 13,13 14,-52 15,-9 16,25 17,-21 18,-61 19,3 20,-28 21,-12 22,-4 23,72 24,-3 25,10 26,-13 27,-15"/>
<polyline vector-effect="non-scaling-stroke" points="0,-23 1,-28 2,-12 3,-2 4,32 5,2 6,-13 7,14 8,-35 9,-6 10,-28 11,-35 12,8 13,-12 14,-59 15,4 16,-19 17,-5 18,-61 19,-27 20,-7 21,-15 22,-34 23,70 24,-27 25,-6 26,-56 27,-27"/>
<polyline vector-effect="non-scaling-stroke" points="0,-51 1,-32 2,-1 3,-21 4,50 5,-2 6,-35 7,-90 8,-10 9,-19 10,-50 11,-60 12,-28 13,-2 14,-55 15,11 16,-20 17,-97 18,-1 19,-23 20,-43 21,10 22,-36 23,72 24,-13 25,-39 26,-21 27,-44"/>
<polyline vector-effect="non-scaling-stroke" points="0,9 1,-3 2,10 3,27 4,59 5,32 6,40 7,1 8,3 9,-5 10,-11 11,-13 12,12 13,-5 14,-30 15,22 16,1 17,5 18,39 19,13 20,-39 21,11 22,9 23,73 24,26 25,20 26,0 27,-8"/>
<polyline vector-effect="non-scaling-stroke" points="0,-49 1,-47 2,-15 3,6 4,27 5,4 6,2 7,-24 8,-74 9,-36 10,-54 11,-51 12,-11 13,-35 14,-74 15,-16 16,-10 17,-91 18,-23 19,-42 20,-5 21,-40 22,-39 23,45 24,-20 25,-23 26,-6 27,-25"/>
<polyline vector-effect="non-scaling-stroke" points="0,-23 1,-23 2,-32 3,21 4,34 5,28 6,-15 7,-11 8,-33 9,-29 10,-1 11,-35 12,-9 13,-21 14,-31 15,-4 16,-3 17,-14 18,12 19,-44 20,-51 21,-52 22,-29 23,76 24,2 25,-46 26,-34 27,-11"/>
<polyline vector-effect="non-scaling-stroke" points="0,-37 1,-32 2,0 3,-28 4,46 5,28 6,21 7,-45 8,-45 9,-17 10,-22 11,-34 12,11 13,13 14,-8 15,-32 16,-17 17,14 18,-14 19,14 20,2 21,-24 22,-25 23,67 24,-20 25,-30 26,-26 27,-6"/>
<polyline vector-effect="non-scaling-stroke" points="0,-57 1,-54 2,-33 3,-42 4,39 5,-30 6,-21 7,-33 8,-79 9,-16 10,-23 11,-72 12,-11 13,-73 14,-53 15,-38 16,-23 17,-25 18,-23 19,1 20,-32 21,-74 22,-36 23,42 24,-64 25,-3 26,-37 27,-33"/>
<polyline vector-effect="non-scaling-stroke" points="0,-54 1,-39 2,-9 3,-9 4,18 5,-30 6,25 7,-65 8,-79 9,-38 10,-52 11,-35 12,-23 13,-17 14,-74 15,22 16,-3 17,6 18,-49 19,0 20,-65 21,-10 22,-18 23,-29 24,-42 25,-48 26,-53 27,-46"/>
<polyline vector-effect="non-scaling-stroke" points="0,-63 1,-73 2,-19 3,1 4,-50 5,-8 6,-5 7,-50 8,-62 9,-6 10,-26 11,-39 12,-16 13,3 14,-20 15,-44 16,-26 17,-24 18,-53 19,-12 20,-45 21,-55 22,-42 23,-46 24,-36 25,-68 26,0 27,-9"/>
<polyline vector-effect="non-scaling-stroke" points="0,-17 1,-37 2,0 3,15 4,39 5,27 6,-17 7,-22 8,-53 9,-45 10,-61 11,-39 12,17 13,-66 14,-13 15,2 16,-26 17,-61 18,-25 19,2 20,-50 21,-58 22,-25 23,-46 24,-11 25,2 26,-25 27,-15"/>
<polyline vector-effect="non-scaling-stroke" points="0,-22 1,-24 2,-6 3,-13 4,18 5,17 6,28 7,18 8,-25 9,-26 10,-44 11,-42 12,32 13,-11 14,-45 15,-37 16,8 17,-30 18,-13 19,-3 20,0 21,-20 22,2 23,77 24,-2 25,5 26,-26 27,-40"/>
<polyline vector-effect="non-scaling-stroke" points="0,-32 1,-47 2,3 3,8 4,43 5,34 6,-35 7,-9 8,-65 9,-1 10,-42 11,-33 12,37 13,-58 14,-34 15,-19 16,-46 17,-14 18,-6 19,-12 20,-40 21,35 22,-27 23,-13 24,-22 25,-15 26,-26 27,-17"/>
<polyline vector-effect="non-scaling-stroke" points="0,-39 1,-17 2,-6 3,-11 4,19 5,23 6,31 7,5 8,-28 9,4 10,-17 11,2 12,4 13,0 14,-13 15,-29 16,7 17,-16 18,-8 19,10 20,-1 21,21 22,-17 23,73 24,28 25,-23 26,-11 27,-1"/>
<polyline vector-effect="non-scaling-stroke" points="0,-20 1,-18 2,1 3,20 4,60 5,23 6,19 7,-12 8,-32 9,0 10,-42 11,-18 12,48 13,15 14,-3 15,-32 16,27 17,-44 18,-2 19,22 20,-43 21,12 22,-12 23,67 24,-14 25,5 26,-23 27,-1"/>
<polyline vector-effect="non-scaling-stroke" points="0,1 1,-47 2,-6 3,9 4,7 5,9 6,20 7,-11 8,-54 9,-6 10,-12 11,-49 12,-2 13,16 14,2 15,-41 16,-23 17,-10 18,-26 19,1 20,-19 21,10 22,-60 23,-12 24,-18 25,19 26,-16 27,-45"/>
<polyline vector-effect="non-scaling-stroke" points="0,-16 1,-18 2,-7 3,5 4,43 5,42 6,16 7,0 8,-27 9,-10 10,-40 11,-28 12,5 13,-14 14,-14 15,-2 16,14 17,-69 18,8 19,-11 20,-38 21,-29 22,0 23,77 24,-13 25,-31 26,-18 27,-23"/>
<polyline vector-effect="non-scaling-stroke" points="0,-6 1,-64 2,-44 3,-5 4,20 5,18 6,17 7,25 8,-44 9,-25 10,-68 11,-37 12,18 13,-29 14,-21 15,-25 16,16 17,-33 18,-46 19,-25 20,-79 21,-69 22,-22 23,71 24,20 25,-17 26,-30 27,-51"/>
<polyline vector-effect="non-scaling-stroke" points="0,-4 1,-19 2,-8 3,21 4,50 5,-8 6,30 7,-3 8,-29 9,-5 10,5 11,-3 12,54 13,-31 14,-45 15,14 16,-21 17,-40 18,-44 19,24 20,0 21,7 22,-11 23,66 24,1 25,11 26,-25 27,3"/>
<polyline vector-effect="non-scaling-stroke" points="0,-44 1,-53 2,8 3,-2 4,35 5,6 6,-35 7,-13 8,-64 9,9 10,-64 11,-78 12,7 13,-12 14,-46 15,-50 16,5 17,-81 18,-30 19,-29 20,-42 21,-1 22,-40 23,68 24,4 25,-59 26,-45 27,-34"/>
<polyline vector-effect="non-scaling-stroke" points="0,-47 1,-34 2,-47 3,11 4,37 5,10 6,-23 7,-30 8,-49 9,-3 10,-36 11,-31 12,-11 13,1 14,-97 15,-48 16,-2 17,-84 18,-1 19,-41 20,-29 21,-48 22,-37 23,57 24,-13 25,-27 26,5 27,-26"/>
<polyline vector-effect="non-scaling-stroke" points="0,-33 1,-8 2,16 3,30 4,72 5,17 6,38 7,27 8,-17 9,12 10,-73 11,-34 12,54 13,-43 14,-37 15,4 16,17 17,28 18,-37 19,6 20,0 21,-29 22,-12 23,90 24,24 25,13 26,-52 27,-11"/>
<polyline vector-effect="non-scaling-stroke" points="0,-16 1,-32 2,-2 3,35 4,33 5,8 6,19 7,-19 8,-31 9,-1 10,-11 11,-27 12,-12 13,-11 14,-22 15,-22 16,21 17,-4 18,-26 19,5 20,10 21,26 22,-17 23,78 24,-9 25,-36 26,-8 27,-11"/>
<polyline vector-effect="non-scaling-stroke" points="0,-19 1,-32 2,-1 3,-3 4,40 5,34 6,10 7,2 8,-66 9,-23 10,-6 11,-7 12,13 13,-15 14,-70 15,-10 16,10 17,-72 18,4 19,4 20,-14 21,-42 22,-13 23,-2 24,18 25,-5 26,-39 27,-1"/>
<polyline vector-effect="non-scaling-stroke" points="0,-4 1,-38 2,28 3,-7 4,42 5,42 6,-27 7,14 8,-26 9,0 10,-42 11,-26 12,-11 13,-31 14,-44 15,-38 16,28 17,-61 18,-20 19,-3 20,-16 21,10 22,-5 23,66 24,-2 25,-2 26,-5 27,-6"/>
<polyline vector-effect="non-scaling-stroke" points="0,-31 1,-62 2,28 3,23 4,42 5,32 6,8 7,-37 8,-30 9,-3 10,-31 11,-57 12,8 13,0 14,-44 15,-10 16,-44 17,-29 18,-3 19,-23 20,-63 21,4 22,-30 23,75 24,-1 25,9 26,-21 27,-44"/>
<polyline vector-effect="non-scaling-stroke" points="0,-45 1,-52 2,-8 3,-18 4,-12 5,23 6,17 7,-19 8,-25 9,-13 10,-26 11,-34 12,-1 13,-32 14,-55 15,19 16,-21 17,-60 18,-39 19,-21 20,-36 21,-65 22,-68 23,45 24,-63 25,-20 26,-31 27,-13"/>
<polyline vector-effect="non-scaling-stroke" points="0,-3 1,-29 2,-18 3,-19 4,-3 5,20 6,-31 7,-20 8,-34 9,4 10,-35 11,-37 12,-12 13,-29 14,-85 15,-19 16,20 17,-33 18,-3 19,-29 20,-3 21,-37 22,-11 23,65 24,-29 25,8 26,-23 27,-17"/>
<polyline vector-effect="non-scaling-stroke" points="0,-32 1,-44 2,-25 3,3 4,-9 5,9 6,-15 7,-83 8,-58 9,-32 10,-39 11,-28 12,-45 13,-28 14,-97 15,-54 16,-31 17,-97 18,-75 19,-14 20,-39 21,-34 22,-50 23,81 24,-22 25,-46 26,-6 27,-18"/>
<polyline vector-effect="non-scaling-stroke" points="0,-36 1,-15 2,-4 3,14 4,35 5,0 6,25 7,-15 8,-51 9,-23 10,-13 11,-43 12,8 13,-4 14,-38 15,-50 16,6 17,-9 18,9 19,16 20,-16 21,3 22,2 23,53 24,21 25,22 26,-10 27,4"/>
<polyline vector-effect="non-scaling-stroke" points="0,-21 1,-55 2,4 3,5 4,31 5,16 6,25 7,-15 8,-53 9,-5 10,-22 11,-58 12,-12 13,-35 14,-65 15,-20 16,6 17,6 18,8 19,5 20,-11 21,7 22,-36 23,68 24,-2 25,-21 26,-35 27,-39"/>
<polyline vector-effect="non-scaling-stroke" points="0,-23 1,-43 2,11 3,14 4,44 5,35 6,31 7,-18 8,-21 9,-28 10,-59 11,-61 12,51 13,-47 14,-16 15,30 16,-2 17,26 18,39 19,15 20,10 21,13 22,-23 23,78 24,2 25,-25 26,-32 27,10"/>
<polyline vector-effect="non-scaling-stroke" points="0,-35 1,-30 2,-15 3,11 4,30 5,17 6,-8 7,-55 8,-42 9,3 10,5 11,-16 12,48 13,-4 14,-38 15,-42 16,-1 17,-85 18,-10 19,19 20,-13 21,15 22,-25 23,12 24,-7 25,-13 26,0 27,8"/>
<polyline vector-effect="non-scaling-stroke" points="0,-52 1,-47 2,-17 3,-10 4,-33 5,14 6,9 7,-21 8,-64 9,-19 10,-71 11,-29 12,-26 13,-33 14,-62 15,-40 16,-39 17,-92 18,18 19,-7 20,-26 21,21 22,-32 23,67 24,-11 25,5 26,-21 27,-20"/>
<polyline vector-effect="non-scaling-stroke" points="0,-34 1,-29 2,10 3,-36 4,25 5,12 6,4 7,-79 8,-17 9,-26 10,-32 11,-47 12,-31 13,-27 14,-85 15,-39 16,-12 17,-35 18,-8 19,-6 20,7 21,-4 22,-46 23,36 24,-19 25,-14 26,-32 27,-39"/>
<polyline vector-effect="non-scaling-stroke" points="0,-12 1,-43 2,-24 3,-11 4,-1 5,32 6,8 7,-7 8,-79 9,-13 10,-21 11,-14 12,-7 13,-79 14,-42 15,-44 16,-60 17,-67 18,0 19,4 20,-19 21,-59 22,6 23,-18 24,-19 25,-60 26,-11 27,-22"/>
<polyline vector-effect="non-scaling-stroke" points="0,-14 1,-31 2,-8 3,9 4,-41 5,35 6,24 7,-31 8,-32 9,-1 10,-5 11,-29 12,8 13,-27 14,-76 15,-31 16,-3 17,-41 18,-7 19,6 20,-15 21,-7 22,-12 23,67 24,-1 25,0 26,-49 27,-3"/>
<polyline vector-effect="non-scaling-stroke" points="0,-48 1,-16 2,-2 3,23 4,36 5,7 6,31 7,-8 8,-23 9,0 10,-9 11,-19 12,17 13,-49 14,-44 15,-11 16,31 17,-17 18,-5 19,14 20,-19 21,-7 22,-15 23,9 24,14 25,4 26,-22 27,-38"/>
<polyline vector-effect="non-scaling-stroke" points="0,-23 1,-10 2,-16 3,-12 4,40 5,-10 6,-29 7,-28 8,-43 9,-10 10,-35 11,-29 12,5 13,-26 14,-49 15,-2 16,14 17,-7 18,8 19,-60 20,-48 21,-17 22,-17 23,-3 24,18 25,-1 26,-29 27,-14"/>
<polyline vector-effect="non-scaling-stroke" points="0,-54 1,-63 2,-15 3,-22 4,-60 5,-13 6,-10 7,-80 8,-25 9,-53 10,-16 11,-38 12,-35 13,-37 14,-36 15,-43 16,-55 17,-57 18,12 19,-60 20,-33 21,-39 22,-43 23,3 24,-35 25,-7 26,-27 27,-65"/>
<polyline vector-effect="non-scaling-stroke" points="0,-5 1,-58 2,1 3,7 4,49 5,24 6,24 7,-25 8,-14 9,-3 10,1 11,-53 12,28 13,-9 14,-41 15,-34 16,0 17,-77 18,-51 19,4 20,-75 21,14 22,-30 23,66 24,-2 25,-4 26,-28 27,-30"/>
<polyline vector-effect="non-scaling-stroke" points="0,-26 1,-13 2,14 3,25 4,42 5,22 6,-16 7,4 8,-8 9,-9 10,-11 11,-11 12,14 13,5 14,-28 15,-49 16,-9 17,-38 18,8 19,-16 20,-25 21,-31 22,-18 23,69 24,15 25,10 26,-15 27,-12"/>
<polyline vector-effect="non-scaling-stroke" points="0,-24 1,-28 2,19 3,-40 4,30 5,28 6,30 7,-46 8,-21 9,14 10,-32 11,-70 12,3 13,-42 14,-22 15,-33 16,29 17,-26 18,-26 19,-10 20,-50 21,-1 22,3 23,64 24,13 25,-27 26,-14 27,10"/>
<polyline vector-effect="non-scaling-stroke" points="0,-44 1,-5 2,20 3,-19 4,-1 5,14 6,34 7,-15 8,-22 9,19 10,-16 11,-23 12,12 13,11 14,-45 15,34 16,0 17,-39 18,17 19,9 20,-64 21,4 22,-36 23,56 24,16 25,-15 26,-7 27,-15"/>
<polyline vector-effect="non-scaling-stroke" points="0,-7 1,-45 2,-39 3,-29 4,-28 5,11 6,-2 7,-11 8,-41 9,-18 10,-33 11,-51 12,-1 13,-12 14,-38 15,-44 16,-60 17,-72 18,-18 19,-60 20,-56 21,-18 22,-45 23,-17 24,13 25,4 26,-36 27,-10"/>
<polyline vector-effect="non-scaling-stroke" points="0,-3 1,-48 2,28 3,-7 4,31 5,4 6,16 7,-50 8,-26 9,20 10,-20 11,-37 12,43 13,-31 14,-13 15,-20 16,4 17,-26 18,-1 19,0 20,-37 21,-21 22,-11 23,67 24,-24 25,-20 26,-29 27,-15"/>
<polyline vector-effect="non-scaling-stroke" points="0,-32 1,-37 2,-24 3,0 4,-34 5,-30 6,3 7,-78 8,-57 9,-41 10,-23 11,-66 12,5 13,-37 14,-78 15,-59 16,-3 17,-33 18,0 19,14 20,-23 21,-14 22,-31 23,54 24,-19 25,-40 26,3 27,-71"/>
<polyline vector-effect="non-scaling-stroke" points="0,-23 1,-25 2,-3 3,-12 4,26 5,13 6,-9 7,-19 8,-39 9,-18 10,-16 11,-56 12,16 13,-29 14,-30 15,-17 16,0 17,-59 18,-29 19,-22 20,-18 21,4 22,-5 23,45 24,1 25,-48 26,-57 27,-37"/>
<polyline vector-effect="non-scaling-stroke" points="0,-39 1,-58 2,-36 3,15 4,6 5,-12 6,46 7,-12 8,-35 9,9 10,-39 11,-8 12,-24 13,-46 14,-42 15,-32 16,21 17,-73 18,-25 19,1 20,-12 21,10 22,-15 23,90 24,-10 25,-3 26,-7 27,-22"/>
<polyline vector-effect="non-scaling-stroke" points="0,-29 1,-36 2,-13 3,-11 4,20 5,-6 6,20 7,-59 8,17 9,31 10,-8 11,-36 12,-1 13,7 14,-31 15,-1 16,-15 17,1 18,-24 19,1 20,-68 21,-24 22,-11 23,57 24,-6 25,9 26,-19 27,0"/>
<polyline vector-effect="non-scaling-stroke" points="0,-75 1,-30 2,-5 3,-33 4,-33 5,28 6,-17 7,-50 8,-27 9,-23 10,-26 11,-61 12,4 13,-4 14,-43 15,-68 16,0 17,-43 18,-45 19,9 20,-89 21,17 22,-42 23,78 24,-12 25,-51 26,-26 27,-19"/>
<polyline vector-effect="non-scaling-stroke" points="0,-20 1,-17 2,-23 3,12 4,43 5,15 6,-8 7,-48 8,-16 9,9 10,-44 11,-62 12,31 13,-57 14,-38 15,-36 16,-46 17,-31 18,-14 19,14 20,9 21,-18 22,-7 23,76 24,-15 25,-30 26,2 27,-27"/>
<polyline vector-effect="non-scaling-stroke" points="0,-43 1,-50 2,-21 3,-20 4,31 5,29 6,-10 7,-81 8,-44 9,-55 10,-54 11,-28 12,39 13,-22 14,-82 15,-18 16,-60 17,-71 18,8 19,-2 20,-87 21,-78 22,-19 23,31 24,-35 25,-16 26,-42 27,-75"/>
<polyline vector-effect="non-scaling-stroke" points="0,-29 1,-59 2,-39 3,-37 4,9 5,-14 6,7 7,-52 8,-26 9,-34 10,-56 11,-82 12,-36 13,-16 14,10 15,-62 16,-48 17,-47 18,-18 19,-39 20,-44 21,-79 22,-43 23,66 24,9 25,-33 26,-39 27,-26"/>
<polyline vector-effect="non-scaling-stroke" points="0,-8 1,-23 2,-17 3,13 4,51 5,10 6,-12 7,-2 8,-20 9,16 10,-23 11,-45 12,1 13,-37 14,-59 15,-27 16,-12 17,0 18,-38 19,-1 20,-33 21,21 22,-15 23,57 24,11 25,-4 26,-26 27,3"/>
<polyline vector-effect="non-scaling-stroke" points="0,-19 1,-9 2,9 3,14 4,30 5,-5 6,19 7,-21 8,-20 9,-9 10,-43 11,-58 12,18 13,3 14,-51 15,-12 16,17 17,-59 18,-21 19,-32 20,-7 21,-10 22,-33 23,-17 24,-8 25,7 26,-28 27,-31"/>
<polyline vector-effect="non-scaling-stroke" points="0,-34 1,-71 2,-22 3,0 4,-33 5,-16 6,-2 7,-49 8,-54 9,-22 10,-41 11,-71 12,-28 13,-26 14,-37 15,-9 16,-45 17,-30 18,-13 19,-25 20,-34 21,-15 22,-9 23,-26 24,-9 25,-35 26,-40 27,-15"/>
<polyline vector-effect="non-scaling-stroke" points="0,-24 1,-60 2,-21 3,1 4,-42 5,26 6,-1 7,-30 8,-35 9,18 10,-36 11,-53 12,31 13,-42 14,-66 15,-58 16,5 17,-41 18,-10 19,-11 20,-41 21,-48 22,-47 23,62 24,-11 25,11 26,-42 27,-41"/>
<polyline vector-effect="non-scaling-stroke" points="0,-50 1,-13 2,-30 3,15 4,54 5,17 6,20 7,-84 8,-41 9,-45 10,-25 11,-38 12,-12 13,-2 14,-35 15,-31 16,-18 17,-74 18,-15 19,20 20,-45 21,-5 22,-33 23,73 24,4 25,-16 26,-51 27,-31"/>
<polyline vector-effect="non-scaling-stroke" points="0,3 1,-26 2,13 3,9 4,-12 5,37 6,26 7,-16 8,-24 9,13 10,-25 11,-19 12,17 13,-59 14,-28 15,-17 16,-7 17,-5 18,-4 19,11 20,3 21,5 22,-38 23,65 24,19 25,-1 26,-23 27,-10"/>
<polyline vector-effect="non-scaling-stroke" points="0,-13 1,-22 2,10 3,-1 4,34 5,24 6,17 7,-67 8,-27 9,-26 10,-1 11,-4 12,50 13,4 14,-42 15,13 16,0 17,-6 18,-21 19,-5 20,-9 21,32 22,-15 23,90 24,28 25,-29 26,-15 27,-29"/>
<polyline vector-effect="non-scaling-stroke" points="0,-25 1,-36 2,-3 3,22 4,53 5,30 6,16 7,-8 8,-22 9,11 10,-22 11,-23 12,-15 13,2 14,7 15,-7 16,-29 17,10 18,-8 19,-60 20,-19 21,7 22,-11 23,82 24,11 25,-1 26,-48 27,-36"/>
<polyline vector-effect="non-scaling-stroke" points="0,-44 1,-38 2,-42 3,-26 4,12 5,-30 6,-35 7,-55 8,-46 9,-39 10,-75 11,-55 12,-44 13,-22 14,-66 15,-34 16,-12 17,-73 18,-13 19,0 20,-39 21,-5 22,-52 23,63 24,-19 25,-57 26,-38 27,-53"/>
<polyline vector-effect="non-scaling-stroke" points="0,-41 1,-33 2,7 3,-2 4,31 5,-12 6,10 7,6 8,-17 9,0 10,-39 11,-57 12,2 13,-54 14,-73 15,0 16,-28 17,10 18,-51 19,1 20,-61 21,-11 22,-44 23,63 24,-8 25,-22 26,-16 27,-1"/>
<polyline vector-effect="non-scaling-stroke" points="0,-37 1,-17 2,-3 3,8 4,72 5,-21 6,1 7,-67 8,-34 9,-8 10,6 11,-28 12,46 13,7 14,-48 15,-4 16,26 17,-25 18,-1 19,5 20,-63 21,-30 22,-14 23,73 24,-20 25,-12 26,-21 27,-17"/>
<polyline vector-effect="non-scaling-stroke" points="0,-15 1,-29 2,-2 3,-19 4,-4 5,28 6,-17 7,-9 8,-42 9,-22 10,-16 11,-47 12,-9 13,-28 14,-37 15,35 16,-50 17,-31 18,-11 19,10 20,-28 21,-77 22,0 23,21 24,0 25,-39 26,-37 27,-26"/>
<polyline vector-effect="non-scaling-stroke" points="0,-12 1,-18 2,-15 3,14 4,22 5,25 6,15 7,-1 8,-41 9,-7 10,-22 11,-33 12,-8 13,12 14,-49 15,1 16,1 17,2 18,-65 19,22 20,-23 21,-43 22,-18 23,90 24,7 25,-36 26,-27 27,0"/>
<polyline vector-effect="non-scaling-stroke" points="0,-60 1,-39 2,-15 3,30 4,12 5,37 6,-6 7,-49 8,-15 9,2 10,-66 11,-29 12,15 13,-36 14,-41 15,-18 16,-20 17,-55 18,-33 19,-14 20,-69 21,-19 22,-54 23,60 24,-8 25,-39 26,-12 27,3"/>
<polyline vector-effect="non-scaling-stroke" points="0,6 1,-42 2,24 3,19 4,44 5,24 6,22 7,35 8,-4 9,1 10,-25 11,-30 12,35 13,19 14,-47 15,-1 16,3 17,-33 18,16 19,13 20,-40 21,-19 22,8 23,77 24,15 25,-3 26,-15 27,-3"/>
<polyline vector-effect="non-scaling-stroke" points="0,-26 1,-40 2,3 3,25 4,17 5,45 6,31 7,-25 8,-18 9,5 10,-9 11,-15 12,-7 13,-32 14,-2 15,-1 16,14 17,-8 18,36 19,-15 20,2 21,-17 22,-1 23,86 24,-19 25,10 26,-16 27,-13"/>
<polyline vector-effect="non-scaling-stroke" points="0,-30 1,-53 2,-26 3,13 4,43 5,6 6,-20 7,35 8,-12 9,-2 10,-50 11,-50 12,9 13,-44 14,-8 15,-19 16,0 17,-65 18,-37 19,-24 20,-19 21,-23 22,-30 23,67 24,0 25,15 26,-27 27,-45"/>
<polyline vector-effect="non-scaling-stroke" points="0,-40 1,-20 2,-27 3,-4 4,-5 5,18 6,4 7,-60 8,-48 9,0 10,-20 11,-31 12,12 13,-39 14,-63 15,-12 16,-45 17,-51 18,-75 19,-25 20,-61 21,-62 22,-22 23,5 24,-26 25,-29 26,-43 27,-8"/>
<polyline vector-effect="non-scaling-stroke" points="0,-21 1,-16 2,-12 3,12 4,42 5,30 6,16 7,8 8,17 9,9 10,-15 11,-27 12,54 13,19 14,-6 15,19 16,0 17,-13 18,15 19,10 20,-19 21,-9 22,0 23,79 24,-30 25,10 26,11 27,-14"/>
<polyline vector-effect="non-scaling-stroke" points="0,-31 1,-64 2,0 3,-23 4,-30 5,7 6,40 7,-48 8,-63 9,-5 10,-29 11,-16 12,-29 13,-67 14,-57 15,-19 16,-5 17,-16 18,-59 19,-31 20,-36 21,-3 22,-20 23,30 24,-37 25,0 26,-13 27,10"/>
<polyline vector-effect="non-scaling-stroke" points="0,-23 1,-1 2,-18 3,6 4,25 5,22 6,4 7,-20 8,-22 9,-5 10,-10 11,-29 12,17 13,14 14,-22 15,-4 16,4 17,-19 18,14 19,-9 20,1 21,29 22,3 23,66 24,-28 25,-7 26,-12 27,-2"/>
<polyline vector-effect="non-scaling-stroke" points="0,-17 1,-24 2,28 3,9 4,65 5,46 6,2 7,9 8,-25 9,-8 10,-45 11,-49 12,33 13,-7 14,-15 15,-23 16,5 17,-18 18,-26 19,-20 20,-3 21,8 22,-22 23,74 24,18 25,32 26,-21 27,0"/>
<polyline vector-effect="non-scaling-stroke" points="0,-4 1,-41 2,6 3,-42 4,46 5,9 6,-35 7,-14 8,-22 9,6 10,-18 11,-48 12,-22 13,-42 14,-55 15,-23 16,-28 17,-48 18,-2 19,-8 20,2 21,19 22,-54 23,14 24,-50 25,-51 26,-22 27,-54"/>
<polyline vector-effect="non-scaling-stroke" points="0,-47 1,-36 2,6 3,1 4,20 5,35 6,18 7,-7 8,-11 9,-27 10,-23 11,-47 12,28 13,-2 14,-64 15,13 16,-30 17,-2 18,-3 19,-22 20,-54 21,-19 22,-21 23,36 24,7 25,-41 26,-21 27,-17"/>
<polyline vector-effect="non-scaling-stroke" points="0,-69 1,-32 2,-33 3,-42 4,-2 5,11 6,20 7,-41 8,-7 9,16 10,-15 11,-19 12,8 13,-36 14,-33 15,-3 16,-5 17,-48 18,-59 19,2 20,-20 21,-55 22,-25 23,70 24,-10 25,0 26,-14 27,-59"/>
<polyline vector-effect="non-scaling-stroke" points="0,-31 1,-23 2,9 3,26 4,-35 5,23 6,24 7,15 8,7 9,-23 10,-30 11,-53 12,27 13,-45 14,-10 15,6 16,7 17,-86 18,-22 19,8 20,-60 21,-14 22,-21 23,76 24,5 25,-1 26,-26 27,-16"/>
<polyline vector-effect="non-scaling-stroke" points="0,-30 1,-21 2,-8 3,20 4,-30 5,39 6,9 7,10 8,-28 9,11 10,-5 11,-46 12,10 13,-16 14,-35 15,-51 16,-7 17,-39 18,-28 19,-5 20,-67 21,17 22,-14 23,86 24,-21 25,-35 26,-16 27,-55"/>
<polyline vector-effect="non-scaling-stroke" points="0,-10 1,-30 2,2 3,20 4,47 5,54 6,34 7,-31 8,7 9,-16 10,-13 11,-43 12,8 13,17 14,-33 15,-13 16,1 17,-19 18,39 19,-9 20,-31 21,17 22,-35 23,71 24,24 25,7 26,-15 27,-15"/>
<polyline vector-effect="non-scaling-stroke" points="0,-42 1,-39 2,-2 3,24 4,51 5,14 6,1 7,3 8,-63 9,-12 10,-29 11,-54 12,-11 13,-6 14,-75 15,-34 16,-15 17,-27 18,-41 19,12 20,-24 21,-14 22,-25 23,44 24,-21 25,14 26,-16 27,-17"/>
<polyline vector-effect="non-scaling-stroke" points="0,-14 1,-47 2,1 3,4 4,-7 5,30 6,-20 7,-6 8,-51 9,-1 10,-9 11,-29 12,-9 13,-18 14,-53 15,-46 16,-33 17,-37 18,0 19,-48 20,-27 21,-5 22,-22 23,13 24,10 25,-42 26,-14 27,-1"/>
<polyline vector-effect="non-scaling-stroke" points="0,-59 1,-22 2,4 3,14 4,19 5,23 6,-8 7,-5 8,-12 9,-12 10,-36 11,-37 12,15 13,-7 14,-34 15,-8 16,-25 17,-94 18,12 19,18 20,-51 21,-19 22,-11 23,80 24,12 25,21 26,-16 27,-8"/>
<polyline vector-effect="non-scaling-stroke" points="0,-27 1,-45 2,7 3,10 4,42 5,7 6,21 7,-58 8,-29 9,-60 10,-53 11,-29 12,-10 13,-17 14,-85 15,9 16,0 17,-43 18,-6 19,-2 20,-6 21,-15 22,-55 23,41 24,11 25,-4 26,-33 27,-14"/>
<polyline vector-effect="non-scaling-stroke" points="0,-33 1,-29 2,-40 3,-18 4,36 5,10 6,10 7,20 8,-44 9,-9 10,-44 11,-55 12,-3 13,-63 14,-97 15,4 16,-15 17,-14 18,-14 19,-7 20,-17 21,-5 22,-51 23,74 24,-35 25,-12 26,10 27,-24"/>
<polyline vector-effect="non-scaling-stroke" points="0,10 1,-23 2,17 3,19 4,55 5,23 6,12 7,13 8,-42 9,-4 10,-4 11,-30 12,9 13,-16 14,-15 15,-5 16,14 17,-13 18,39 19,4 20,-50 21,10 22,-7 23,77 24,-16 25,28 26,-8 27,-7"/>
<polyline vector-effect="non-scaling-stroke" points="0,-70 1,-34 2,-18 3,16 4,-6 5,-17 6,2 7,-63 8,-35 9,-43 10,-41 11,-52 12,-7 13,-43 14,-73 15,-32 16,-31 17,-45 18,-32 19,-60 20,-40 21,3 22,-27 23,65 24,-4 25,-34 26,-52 27,-15"/>
<polyline vector-effect="non-scaling-stroke" points="0,-18 1,-30 2,-6 3,6 4,15 5,19 6,3 7,-22 8,-58 9,-29 10,-25 11,-50 12,-46 13,-21 14,-97 15,14 16,0 17,-28 18,-37 19,-38 20,-40 21,-23 22,-44 23,55 24,3 25,-5 26,-44 27,-75"/>
<polyline vector-effect="non-scaling-stroke" points="0,-31 1,-46 2,-2 3,24 4,56 5,23 6,25 7,17 8,-33 9,-4 10,-17 11,-39 12,-7 13,-37 14,-44 15,-34 16,6 17,-46 18,18 19,9 20,-62 21,6 22,-31 23,78 24,4 25,-12 26,-14 27,-33"/>
<polyline vector-effect="non-scaling-stroke" points="0,-35 1,-38 2,-21 3,0 4,-31 5,19 6,-24 7,-21 8,-36 9,-6 10,-51 11,0 12,-13 13,-28 14,-73 15,-3 16,-30 17,-27 18,-52 19,-11 20,-53 21,-8 22,-40 23,-3 24,-6 25,-53 26,-47 27,-17"/>
<polyline vector-effect="non-scaling-stroke" points="0,-75 1,-41 2,-34 3,-35 4,-5 5,9 6,-22 7,-59 8,-40 9,-17 10,-51 11,-73 12,-39 13,-62 14,-54 15,-32 16,-25 17,-30 18,-49 19,-39 20,-69 21,1 22,-68 23,25 24,-20 25,-36 26,-6 27,-19"/>
<polyline vector-effect="non-scaling-stroke" points="0,-9 1,-40 2,7 3,8 4,39 5,30 6,10 7,7 8,10 9,21 10,-17 11,-63 12,37 13,7 14,-35 15,-19 16,14 17,-42 18,16 19,-16 20,-33 21,-3 22,-39 23,70 24,11 25,-28 26,-2 27,-19"/>
<polyline vector-effect="non-scaling-stroke" points="0,-28 1,-37 2,-22 3,-13 4,-48 5,-3 6,-12 7,8 8,-21 9,-46 10,-23 11,-41 12,-11 13,-14 14,-35 15,-40 16,-21 17,-42 18,-47 19,-9 20,-37 21,-43 22,-46 23,58 24,4 25,-12 26,-42 27,-15"/>
<polyline vector-effect="non-scaling-stroke" points="0,-32 1,-29 2,5 3,-17 4,13 5,2 6,-11 7,19 8,-20 9,-51 10,-26 11,-53 12,22 13,-20 14,-53 15,-23 16,-4 17,-42 18,-23 19,-13 20,-19 21,-51 22,-28 23,45 24,-21 25,-2 26,-46 27,-34"/>
<polyline vector-effect="non-scaling-stroke" points="0,-49 1,-29 2,-19 3,2 4,33 5,-16 6,13 7,-47 8,-41 9,-14 10,-19 11,-29 12,35 13,-15 14,-57 15,-34 16,2 17,-1 18,-7 19,-21 20,-20 21,-13 22,-26 23,22 24,-64 25,-27 26,-11 27,-18"/>
<polyline vector-effect="non-scaling-stroke" points="0,-75 1,-42 2,-47 3,22 4,17 5,-15 6,13 7,-57 8,-32 9,-18 10,-60 11,-35 12,-33 13,-4 14,-53 15,-50 16,-57 17,-9 18,8 19,-44 20,-8 21,-23 22,-36 23,36 24,-22 25,5 26,-28 27,-72"/>
<polyline vector-effect="non-scaling-stroke" points="0,-6 1,-29 2,-35 3,-12 4,-24 5,10 6,6 7,-30 8,-55 9,-37 10,-24 11,-50 12,37 13,-51 14,-38 15,-31 16,-35 17,-16 18,-22 19,-37 20,-49 21,-5 22,-55 23,73 24,0 25,-30 26,-12 27,-5"/>
<polyline vector-effect="non-scaling-stroke" points="0,-19 1,-30 2,19 3,24 4,-1 5,18 6,7 7,-30 8,-59 9,10 10,-25 11,-35 12,34 13,-27 14,-42 15,-13 16,-13 17,-36 18,7 19,-3 20,-4 21,-31 22,-18 23,4 24,-3 25,-24 26,-2 27,-9"/>
<polyline vector-effect="non-scaling-stroke" points="0,-2 1,2 2,28 3,29 4,40 5,17 6,28 7,1 8,-20 9,11 10,-35 11,2 12,8 13,-6 14,-2 15,-27 16,30 17,20 18,9 19,-1 20,-11 21,-29 22,13 23,78 24,5 25,-3 26,4 27,10"/>
<polyline vector-effect="non-scaling-stroke" points="0,-46 1,-37 2,-30 3,18 4,39 5,54 6,13 7,-22 8,-39 9,15 10,-51 11,-20 12,18 13,-18 14,-54 15,11 16,31 17,-37 18,8 19,20 20,-29 21,-11 22,-38 23,67 24,2 25,-10 26,-28 27,-46"/>
<polyline vector-effect="non-scaling-stroke" points="0,-47 1,-43 2,7 3,3 4,12 5,35 6,23 7,-31 8,-37 9,12 10,-17 11,-46 12,18 13,-10 14,-9 15,-30 16,15 17,-15 18,-26 19,12 20,-5 21,-38 22,11 23,30 24,-15 25,-8 26,-6 27,-7"/>
<polyline vector-effect="non-scaling-stroke" points="0,-46 1,-25 2,-14 3,13 4,64 5,8 6,-35 7,-56 8,-68 9,-23 10,-41 11,-75 12,-36 13,-43 14,-65 15,-68 16,-3 17,-55 18,-31 19,-15 20,-78 21,-36 22,-19 23,68 24,-10 25,-36 26,-48 27,-12"/>
<polyline vector-effect="non-scaling-stroke" points="0,-21 1,-41 2,-45 3,-12 4,-43 5,37 6,12 7,-43 8,-38 9,39 10,-11 11,-63 12,2 13,-49 14,-82 15,-17 16,34 17,5 18,-9 19,-13 20,-19 21,7 22,-51 23,-23 24,21 25,-5 26,1 27,-16"/>
<polyline vector-effect="non-scaling-stroke" points="0,-15 1,-55 2,-9 3,17 4,37 5,-2 6,14 7,-58 8,-73 9,-10 10,-16 11,-34 12,-35 13,-11 14,-41 15,-42 16,-60 17,-25 18,-4 19,-6 20,-96 21,-72 22,-16 23,67 24,-5 25,-31 26,-26 27,-46"/>
<polyline vector-effect="non-scaling-stroke" points="0,-28 1,-42 2,2 3,5 4,53 5,36 6,1 7,35 8,-47 9,9 10,-7 11,-10 12,-34 13,5 14,-5 15,22 16,-48 17,-43 18,-4 19,-5 20,1 21,-22 22,2 23,75 24,-30 25,-25 26,-24 27,-13"/>
<polyline vector-effect="non-scaling-stroke" points="0,-15 1,-39 2,4 3,-29 4,-60 5,11 6,15 7,-35 8,-55 9,-2 10,-2 11,-42 12,-13 13,-42 14,0 15,-24 16,3 17,-6 18,10 19,-29 20,-10 21,1 22,-17 23,74 24,-20 25,-14 26,-33 27,-11"/>
<polyline vector-effect="non-scaling-stroke" points="0,-42 1,-27 2,-27 3,3 4,16 5,18 6,12 7,-26 8,-37 9,-54 10,-12 11,-49 12,0 13,-37 14,-19 15,-39 16,3 17,-4 18,24 19,10 20,-13 21,-47 22,-3 23,77 24,9 25,5 26,-21 27,-31"/>
<polyline vector-effect="non-scaling-stroke" points="0,-12 1,-15 2,-27 3,16 4,33 5,32 6,13 7,6 8,-12 9,9 10,-56 11,-24 12,6 13,-47 14,-27 15,-49 16,9 17,8 18,-25 19,7 20,-16 21,-1 22,-49 23,71 24,0 25,3 26,-23 27,-6"/>
<polyline vector-effect="non-scaling-stroke" points="0,-30 1,-27 2,9 3,4 4,42 5,19 6,13 7,-44 8,-22 9,11 10,-35 11,-29 12,9 13,-53 14,-41 15,4 16,-23 17,-89 18,-12 19,-25 20,0 21,-22 22,-28 23,22 24,-2 25,-30 26,-41 27,-27"/>
<polyline vector-effect="non-scaling-stroke" points="0,-59 1,-25 2,-41 3,-11 4,-25 5,-25 6,23 7,-90 8,-18 9,-55 10,-41 11,-13 12,-46 13,-73 14,-30 15,-32 16,-35 17,-56 18,-57 19,-19 20,-12 21,-45 22,-34 23,69 24,14 25,-43 26,-30 27,-50"/>
<polyline vector-effect="non-scaling-stroke" points="0,-35 1,-35 2,-13 3,-22 4,-33 5,12 6,17 7,17 8,-36 9,-4 10,-14 11,-20 12,10 13,-11 14,8 15,-21 16,-9 17,-69 18,6 19,-3 20,7 21,-14 22,-6 23,78 24,22 25,-34 26,5 27,-14"/>
<polyline vector-effect="non-scaling-stroke" points="0,-45 1,-51 2,-26 3,-15 4,-60 5,17 6,-2 7,-68 8,-47 9,23 10,-34 11,-57 12,26 13,-55 14,-62 15,-45 16,-27 17,-34 18,-13 19,-37 20,-47 21,-30 22,-43 23,31 24,-38 25,-44 26,-33 27,-59"/>
<polyline vector-effect="non-scaling-stroke" points="0,-33 1,-47 2,-34 3,-18 4,-10 5,5 6,1 7,-44 8,-61 9,9 10,-23 11,-46 12,13 13,-22 14,-62 15,-30 16,29 17,-25 18,-1 19,-27 20,-21 21,19 22,-26 23,70 24,7 25,-9 26,-8 27,-27"/>
<polyline vector-effect="non-scaling-stroke" points="0,-24 1,-47 2,28 3,8 4,28 5,38 6,-2 7,-25 8,-50 9,-10 10,-38 11,-31 12,0 13,-34 14,-52 15,-25 16,-20 17,-15 18,1 19,-3 20,-63 21,-6 22,-49 23,65 24,-4 25,-27 26,-37 27,-38"/>
<polyline vector-effect="non-scaling-stroke" points="0,-2 1,-44 2,-17 3,13 4,31 5,30 6,-19 7,-62 8,17 9,-16 10,-40 11,-41 12,18 13,-56 14,-44 15,-28 16,0 17,-40 18,-33 19,-32 20,-97 21,-1 22,-57 23,30 24,14 25,-28 26,-19 27,-32"/>
<polyline vector-effect="non-scaling-stroke" points="0,-16 1,-31 2,-13 3,24 4,25 5,-4 6,6 7,-4 8,-51 9,10 10,-15 11,-1 12,-5 13,-3 14,-76 15,-26 16,-1 17,-21 18,-7 19,-3 20,-36 21,-21 22,-16 23,72 24,8 25,10 26,-3 27,-57"/>
<polyline vector-effect="non-scaling-stroke" points="0,-29 1,-28 2,-9 3,25 4,52 5,27 6,20 7,23 8,-28 9,-3 10,-8 11,-21 12,44 13,-2 14,-13 15,-20 16,-14 17,-22 18,-66 19,7 20,-2 21,-1 22,-18 23,81 24,5 25,16 26,13 27,-4"/>
<polyline vector-effect="non-scaling-stroke" points="0,-12 1,-24 2,-2 3,11 4,33 5,37 6,-17 7,-24 8,-16 9,-22 10,-27 11,-47 12,17 13,-1 14,-7 15,-6 16,-18 17,-25 18,5 19,14 20,-83 21,-3 22,-54 23,74 24,6 25,1 26,-8 27,-12"/>
<polyline vector-effect="non-scaling-stroke" points="0,-39 1,-27 2,11 3,6 4,32 5,-2 6,28 7,-31 8,-44 9,-14 10,-42 11,-40 12,33 13,-2 14,-8 15,15 16,-23 17,-20 18,22 19,23 20,-61 21,-48 22,-14 23,54 24,-24 25,-1 26,-33 27,-68"/>
<polyline vector-effect="non-scaling-stroke" points="0,-29 1,-31 2,2 3,17 4,33 5,16 6,-2 7,-66 8,-40 9,12 10,-18 11,-5 12,3 13,-62 14,-23 15,3 16,-31 17,-75 18,-6 19,5 20,-55 21,-22 22,-36 23,12 24,-34 25,-7 26,-28 27,-33"/>
<polyline vector-effect="non-scaling-stroke" points="0,-69 1,-2 2,-16 3,10 4,5 5,32 6,-9 7,-7 8,-27 9,18 10,-40 11,-41 12,10 13,19 14,-65 15,-4 16,-10 17,-16 18,12 19,3 20,-12 21,1 22,-25 23,67 24,-32 25,-8 26,-27 27,-16"/>
<polyline vector-effect="non-scaling-stroke" points="0,-34 1,-43 2,-16 3,7 4,-60 5,9 6,-9 7,-51 8,-76 9,-17 10,-25 11,-37 12,-17 13,-24 14,-44 15,-2 16,-1 17,-57 18,-33 19,-22 20,-45 21,-53 22,-26 23,-11 24,-47 25,-24 26,-46 27,-47"/>
<polyline vector-effect="non-scaling-stroke" points="0,-65 1,-19 2,-5 3,6 4,41 5,26 6,0 7,32 8,-37 9,14 10,0 11,-45 12,11 13,-31 14,-15 15,-23 16,-26 17,3 18,12 19,-20 20,-4 21,-6 22,13 23,84 24,-11 25,-11 26,-33 27,-15"/>
<polyline vector-effect="non-scaling-stroke" points="0,-38 1,-30 2,-14 3,-33 4,-19 5,33 6,19 7,-39 8,-45 9,-22 10,-37 11,-77 12,13 13,-46 14,-50 15,-68 16,-11 17,-14 18,-75 19,8 20,-23 21,-47 22,-61 23,71 24,-8 25,-8 26,-34 27,-48"/>
<polyline vector-effect="non-scaling-stroke" points="0,-26 1,-61 2,-4 3,-40 4,-29 5,-23 6,19 7,-89 8,-67 9,-7 10,-36 11,-13 12,29 13,-16 14,-42 15,-68 16,-40 17,-60 18,-32 19,-51 20,-71 21,-54 22,-17 23,53 24,-27 25,-32 26,-28 27,-50"/>
<polyline vector-effect="non-scaling-stroke" points="0,-34 1,-63 2,2 3,17 4,36 5,27 6,15 7,28 8,-29 9,-36 10,-48 11,-26 12,26 13,-4 14,-24 15,-16 16,-39 17,-54 18,-58 19,-13 20,-64 21,-12 22,-26 23,-24 24,7 25,3 26,-44 27,-17"/>
<polyline vector-effect="non-scaling-stroke" points="0,-21 1,-42 2,2 3,5 4,44 5,20 6,3 7,-14 8,-21 9,-7 10,-41 11,-56 12,-7 13,-36 14,-43 15,-21 16,-12 17,-41 18,-11 19,12 20,-9 21,-35 22,-20 23,39 24,-10 25,-21 26,-36 27,-55"/>
<polyline vector-effect="non-scaling-stroke" points="0,-70 1,-26 2,14 3,-7 4,43 5,18 6,18 7,-36 8,-31 9,-4 10,-69 11,-29 12,8 13,-74 14,-22 15,-15 16,3 17,-19 18,-13 19,-22 20,-27 21,-18 22,13 23,86 24,-7 25,-13 26,-14 27,-9"/>
<polyline vector-effect="non-scaling-stroke" points="0,-32 1,-41 2,28 3,25 4,-8 5,-5 6,4 7,-2 8,-11 9,-4 10,-49 11,-25 12,28 13,-7 14,-42 15,5 16,3 17,-50 18,3 19,-21 20,-2 21,6 22,-31 23,72 24,20 25,-49 26,-17 27,7"/>
<polyline vector-effect="non-scaling-stroke" points="0,-75 1,-58 2,-49 3,-20 4,-60 5,-30 6,-24 7,-53 8,-49 9,-25 10,-29 11,-48 12,-5 13,-75 14,-74 15,24 16,12 17,-46 18,-23 19,-9 20,-74 21,1 22,-53 23,3 24,10 25,-68 26,-36 27,-75"/>
<polyline vector-effect="non-scaling-stroke" points="0,-43 1,-36 2,-15 3,7 4,-2 5,17 6,-14 7,-34 8,-61 9,4 10,-55 11,-27 12,-5 13,-25 14,-17 15,-20 16,-51 17,-24 18,-75 19,-1 20,-37 21,-54 22,-22 23,46 24,22 25,-22 26,5 27,-3"/>
<polyline vector-effect="non-scaling-stroke" points="0,-24 1,-31 2,26 3,16 4,49 5,30 6,5 7,-6 8,-32 9,-20 10,-18 11,2 12,54 13,-2 14,-17 15,14 16,34 17,-2 18,0 19,3 20,6 21,35 22,-17 23,13 24,20 25,6 26,-6 27,8"/>
<polyline vector-effect="non-scaling-stroke" points="0,-22 1,-50 2,-35 3,10 4,1 5,30 6,-7 7,-19 8,-54 9,-7 10,-28 11,-21 12,41 13,-11 14,-53 15,34 16,8 17,-9 18,11 19,18 20,-3 21,9 22,-5 23,43 24,-7 25,-4 26,-15 27,-13"/>
<polyline vector-effect="non-scaling-stroke" points="0,-13 1,-23 2,-3 3,-13 4,57 5,39 6,6 7,9 8,-10 9,8 10,-51 11,-47 12,8 13,18 14,-46 15,-12 16,-15 17,-30 18,12 19,-37 20,-90 21,14 22,-11 23,66 24,19 25,20 26,-45 27,-12"/>
</g></g>
<g clip-path="url(#cP1)" fill="none" stroke-width="1.15" stroke-linejoin="round">
<polyline points="44.5,338.6 54.6,339.7 64.7,332.5 74.8,328.9 85.0,322.3 95.1,324.8 105.2,327.8 115.3,336.1 125.4,339.5 135.5,332.5 145.6,338.1 155.8,340.8 165.9,328.9 176.0,334.5 186.1,342.2 196.2,336.1 206.3,332.0 216.5,340.3 226.6,333.1 236.7,331.4 246.8,336.4 256.9,334.2 267.0,336.7 277.1,312.6 287.3,330.9 297.4,333.1 307.5,336.7 317.6,335.6" stroke="#d9244e"/>
</g>
<path d="M317.6,247.5V358.3" stroke="#a0a0a0" stroke-width="0.9" fill="none"/>
<path d="M44.5,247.5H317.6M317.6,358.3H44.5V247.5M74.8,358.3v-2.8M74.8,247.5v2.8M125.4,358.3v-2.8M125.4,247.5v2.8M176.0,358.3v-2.8M176.0,247.5v2.8M277.1,358.3v-2.8M277.1,247.5v2.8M44.5,358.3h2.8M317.6,358.3h-2.8M44.5,330.6h2.8M317.6,330.6h-2.8M44.5,302.9h2.8M317.6,302.9h-2.8M44.5,275.2h2.8M317.6,275.2h-2.8" stroke="#777" stroke-width="0.9" fill="none"/>
<text x="39.3" y="279.6" font-size="11.4" font-weight="normal" text-anchor="end" fill="#262626" >2</text>
<text x="39.3" y="307.3" font-size="11.4" font-weight="normal" text-anchor="end" fill="#262626" >1</text>
<text x="39.3" y="335.0" font-size="11.4" font-weight="normal" text-anchor="end" fill="#262626" >0</text>
<text x="39.3" y="362.7" font-size="11.4" font-weight="normal" text-anchor="end" fill="#262626" >-1</text>
<text x="74.8" y="375.1" font-size="11" font-weight="normal" text-anchor="middle" fill="#262626" >1.33</text>
<text x="125.4" y="375.1" font-size="11" font-weight="normal" text-anchor="middle" fill="#262626" >2</text>
<text x="176.0" y="375.1" font-size="11" font-weight="normal" text-anchor="middle" fill="#262626" >2.66</text>
<text x="277.1" y="375.1" font-size="11" font-weight="normal" text-anchor="middle" fill="#262626" >4</text>
<text x="180.7" y="391.3" font-size="12.6" font-weight="normal" text-anchor="middle" fill="#262626" >freq (Hz)</text>
<text x="0" y="0" font-size="13" text-anchor="middle" fill="#262626" transform="translate(23.9,302.9) rotate(-90)">SNR</text>
<clipPath id="cP2"><rect x="44.5" y="433.40000000000003" width="273.1" height="110.80000000000001"/></clipPath>
<path d="M74.8,433.4V544.2M125.4,433.4V544.2M176.0,433.4V544.2M277.1,433.4V544.2M44.5,516.5H317.6M44.5,488.8H317.6M44.5,461.1H317.6" stroke="#e7e7e7" stroke-width="0.8" fill="none"/>
<g clip-path="url(#cP2)"><g transform="translate(44.50,516.50) scale(10.1148,-0.2770)" fill="none" stroke="#d4d4d4" stroke-width="0.55" stroke-linejoin="round">
<polyline vector-effect="non-scaling-stroke" points="0,-14 1,-36 2,1 3,55 4,-20 5,-24 6,23 7,-18 8,8 9,-38 10,-67 11,-16 12,20 13,-14 14,-11 15,4 16,-35 17,6 18,-11 19,11 20,-32 21,-46 22,-62 23,101 24,5 25,-3 26,10 27,2"/>
<polyline vector-effect="non-scaling-stroke" points="0,-40 1,-18 2,20 3,8 4,10 5,-18 6,-9 7,0 8,-47 9,-62 10,-28 11,-20 12,-39 13,-17 14,-16 15,-24 16,-18 17,-23 18,-3 19,9 20,10 21,-27 22,-13 23,46 24,38 25,-36 26,-20 27,17"/>
<polyline vector-effect="non-scaling-stroke" points="0,-55 1,-37 2,-17 3,8 4,-36 5,-19 6,31 7,2 8,-18 9,-22 10,-79 11,0 12,-23 13,-34 14,-18 15,-18 16,-42 17,-44 18,-49 19,-36 20,5 21,-6 22,-5 23,71 24,-14 25,7 26,-72 27,18"/>
<polyline vector-effect="non-scaling-stroke" points="0,-10 1,-9 2,-4 3,44 4,-16 5,-24 6,15 7,-32 8,9 9,23 10,-90 11,-40 12,-11 13,6 14,-10 15,6 16,-4 17,1 18,18 19,1 20,27 21,-44 22,-2 23,54 24,30 25,16 26,-7 27,-20"/>
<polyline vector-effect="non-scaling-stroke" points="0,-34 1,-22 2,-2 3,53 4,20 5,-53 6,33 7,-22 8,-34 9,15 10,-46 11,-52 12,-53 13,-8 14,-7 15,15 16,-33 17,-34 18,3 19,-23 20,27 21,-8 22,-6 23,70 24,3 25,-37 26,-43 27,-9"/>
<polyline vector-effect="non-scaling-stroke" points="0,-50 1,-25 2,-16 3,16 4,-18 5,-22 6,31 7,-21 8,-49 9,-46 10,-35 11,-32 12,-41 13,-25 14,-27 15,-15 16,-30 17,-64 18,-74 19,-65 20,3 21,1 22,2 23,66 24,9 25,-37 26,-41 27,-46"/>
<polyline vector-effect="non-scaling-stroke" points="0,-48 1,-36 2,8 3,58 4,-18 5,-5 6,6 7,-31 8,-74 9,-52 10,-78 11,-28 12,-37 13,-18 14,-29 15,-9 16,-55 17,-14 18,-85 19,-16 20,0 21,-44 22,-56 23,98 24,-25 25,-17 26,-17 27,-11"/>
<polyline vector-effect="non-scaling-stroke" points="0,-41 1,-14 2,-11 3,-4 4,-10 5,-8 6,-4 7,-19 8,-38 9,-43 10,-74 11,-69 12,-18 13,-35 14,-28 15,-47 16,-38 17,-50 18,18 19,-50 20,-46 21,-4 22,-1 23,-13 24,-10 25,-21 26,-69 27,-4"/>
<polyline vector-effect="non-scaling-stroke" points="0,-34 1,-32 2,-5 3,35 4,-27 5,50 6,3 7,-19 8,6 9,-13 10,11 11,-9 12,-14 13,0 14,-12 15,-10 16,-23 17,12 18,-36 19,-15 20,-3 21,9 22,2 23,138 24,-26 25,-15 26,-22 27,-4"/>
<polyline vector-effect="non-scaling-stroke" points="0,-41 1,-60 2,-18 3,20 4,-59 5,-25 6,21 7,-33 8,-22 9,-52 10,-75 11,-60 12,-50 13,1 14,-20 15,-38 16,-24 17,-42 18,-71 19,-20 20,-50 21,-79 22,-2 23,-13 24,-8 25,-72 26,-45 27,-25"/>
<polyline vector-effect="non-scaling-stroke" points="0,-28 1,-49 2,4 3,47 4,-7 5,5 6,38 7,-14 8,0 9,-38 10,-11 11,11 12,28 13,19 14,-5 15,25 16,-37 17,5 18,-25 19,-11 20,32 21,7 22,16 23,47 24,13 25,-25 26,-20 27,-31"/>
<polyline vector-effect="non-scaling-stroke" points="0,-28 1,-30 2,-47 3,-19 4,-42 5,7 6,-14 7,-31 8,-24 9,-43 10,-51 11,-12 12,-37 13,-6 14,-59 15,-24 16,-53 17,-36 18,-50 19,-44 20,-33 21,-8 22,-41 23,-1 24,-6 25,-22 26,-50 27,-18"/>
<polyline vector-effect="non-scaling-stroke" points="0,-43 1,-22 2,18 3,52 4,8 5,-10 6,-28 7,-3 8,-5 9,9 10,24 11,-2 12,-6 13,-29 14,-1 15,6 16,-2 17,-11 18,-15 19,20 20,-18 21,6 22,7 23,55 24,-26 25,-16 26,-21 27,10"/>
<polyline vector-effect="non-scaling-stroke" points="0,-31 1,-45 2,-13 3,46 4,-25 5,-26 6,-34 7,-8 8,7 9,-81 10,-36 11,-6 12,-50 13,-30 14,-53 15,-36 16,-38 17,-25 18,-42 19,-6 20,-15 21,-65 22,2 23,105 24,-34 25,-7 26,-30 27,-15"/>
<polyline vector-effect="non-scaling-stroke" points="0,12 1,-60 2,-44 3,48 4,-6 5,-27 6,35 7,-2 8,-54 9,-42 10,-16 11,19 12,-64 13,-4 14,-28 15,-42 16,-32 17,-53 18,-43 19,20 20,7 21,5 22,-1 23,96 24,14 25,-50 26,-35 27,11"/>
<polyline vector-effect="non-scaling-stroke" points="0,-32 1,-17 2,31 3,68 4,4 5,-10 6,31 7,8 8,-16 9,12 10,-3 11,2 12,28 13,29 14,1 15,19 16,16 17,6 18,-28 19,9 20,13 21,-10 22,4 23,121 24,9 25,-22 26,-1 27,-23"/>
<polyline vector-effect="non-scaling-stroke" points="0,5 1,-7 2,14 3,-6 4,48 5,-27 6,2 7,18 8,-12 9,-12 10,-72 11,-5 12,-9 13,18 14,-13 15,5 16,-7 17,-24 18,-27 19,38 20,-6 21,33 22,2 23,175 24,0 25,-5 26,-8 27,5"/>
<polyline vector-effect="non-scaling-stroke" points="0,-5 1,-20 2,9 3,45 4,32 5,9 6,-7 7,-2 8,-2 9,-23 10,24 11,10 12,8 13,-7 14,-14 15,22 16,-41 17,-4 18,-9 19,-4 20,16 21,-20 22,5 23,66 24,-13 25,11 26,-23 27,-31"/>
<polyline vector-effect="non-scaling-stroke" points="0,-6 1,-32 2,-60 3,40 4,22 5,3 6,43 7,-12 8,-3 9,-48 10,-32 11,17 12,-17 13,-3 14,-57 15,-17 16,-54 17,-9 18,-45 19,-1 20,-27 21,34 22,-35 23,93 24,38 25,-20 26,-44 27,9"/>
<polyline vector-effect="non-scaling-stroke" points="0,-3 1,0 2,-48 3,45 4,-50 5,41 6,11 7,-16 8,0 9,-3 10,-61 11,21 12,-31 13,-42 14,3 15,20 16,-2 17,-12 18,-47 19,12 20,40 21,12 22,15 23,59 24,18 25,-6 26,-56 27,-33"/>
<polyline vector-effect="non-scaling-stroke" points="0,-38 1,-14 2,9 3,40 4,7 5,-3 6,13 7,7 8,-1 9,-14 10,-24 11,-16 12,-6 13,-13 14,8 15,-8 16,-18 17,-34 18,-29 19,-2 20,4 21,-23 22,-31 23,96 24,6 25,-12 26,0 27,-6"/>
<polyline vector-effect="non-scaling-stroke" points="0,-56 1,-15 2,-39 3,16 4,31 5,17 6,1 7,-15 8,-8 9,-60 10,-11 11,-8 12,24 13,-21 14,1 15,-16 16,-1 17,-34 18,-3 19,-10 20,-13 21,-5 22,4 23,120 24,31 25,-4 26,-77 27,-4"/>
<polyline vector-effect="non-scaling-stroke" points="0,-64 1,-28 2,6 3,0 4,-32 5,-5 6,-2 7,22 8,-10 9,-8 10,12 11,-27 12,-31 13,-31 14,-17 15,6 16,-4 17,-26 18,-49 19,-30 20,-43 21,-11 22,9 23,-13 24,-56 25,-3 26,-65 27,1"/>
<polyline vector-effect="non-scaling-stroke" points="0,-40 1,9 2,24 3,51 4,32 5,11 6,32 7,43 8,17 9,-19 10,-40 11,-2 12,-19 13,7 14,-18 15,14 16,-14 17,-5 18,-12 19,16 20,-16 21,42 22,6 23,133 24,20 25,5 26,-1 27,15"/>
<polyline vector-effect="non-scaling-stroke" points="0,-28 1,-44 2,6 3,39 4,3 5,50 6,-29 7,-3 8,12 9,13 10,8 11,-38 12,-40 13,10 14,-19 15,27 16,-17 17,-15 18,-11 19,-9 20,7 21,-23 22,-4 23,77 24,9 25,-48 26,-53 27,11"/>
<polyline vector-effect="non-scaling-stroke" points="0,-8 1,-24 2,6 3,30 4,50 5,-23 6,57 7,-13 8,6 9,-7 10,-28 11,19 12,7 13,1 14,-23 15,35 16,11 17,-9 18,-17 19,10 20,15 21,34 22,-14 23,117 24,-2 25,9 26,16 27,9"/>
<polyline vector-effect="non-scaling-stroke" points="0,-8 1,15 2,-2 3,24 4,31 5,15 6,10 7,30 8,-3 9,-62 10,-16 11,-4 12,24 13,0 14,-16 15,4 16,-15 17,-42 18,-15 19,-8 20,36 21,46 22,-26 23,60 24,-12 25,-30 26,-32 27,5"/>
<polyline vector-effect="non-scaling-stroke" points="0,7 1,-34 2,-30 3,2 4,34 5,36 6,-17 7,-32 8,-3 9,22 10,7 11,2 12,-2 13,8 14,-21 15,34 16,-18 17,-35 18,-24 19,-35 20,9 21,26 22,-27 23,154 24,38 25,-10 26,-40 27,-12"/>
<polyline vector-effect="non-scaling-stroke" points="0,-39 1,-46 2,-40 3,26 4,-8 5,3 6,-26 7,26 8,1 9,-2 10,-57 11,17 12,-39 13,23 14,-7 15,-31 16,-42 17,6 18,-10 19,-19 20,-2 21,-12 22,-33 23,67 24,-22 25,-38 26,-20 27,-28"/>
<polyline vector-effect="non-scaling-stroke" points="0,-15 1,-19 2,10 3,51 4,26 5,7 6,20 7,-15 8,-5 9,-49 10,-45 11,3 12,-31 13,0 14,-42 15,13 16,-41 17,-18 18,-28 19,8 20,-14 21,-43 22,-57 23,69 24,-32 25,-17 26,-1 27,-50"/>
<polyline vector-effect="non-scaling-stroke" points="0,-60 1,-24 2,10 3,34 4,-2 5,-6 6,8 7,14 8,-12 9,-73 10,-60 11,-18 12,-51 13,-24 14,-40 15,-32 16,-23 17,-40 18,-73 19,-39 20,-15 21,27 22,-14 23,127 24,-1 25,-72 26,-28 27,-31"/>
<polyline vector-effect="non-scaling-stroke" points="0,-53 1,-39 2,31 3,-4 4,-14 5,21 6,20 7,-42 8,-18 9,-35 10,-42 11,4 12,-39 13,-14 14,2 15,-43 16,-35 17,-16 18,-63 19,-25 20,-38 21,-7 22,-24 23,119 24,16 25,-24 26,-34 27,1"/>
<polyline vector-effect="non-scaling-stroke" points="0,-28 1,-40 2,18 3,44 4,20 5,-33 6,26 7,37 8,-2 9,-63 10,-35 11,-10 12,-23 13,-11 14,-11 15,-19 16,-21 17,-36 18,-21 19,11 20,-14 21,6 22,-29 23,71 24,-5 25,-3 26,-42 27,22"/>
<polyline vector-effect="non-scaling-stroke" points="0,-45 1,-12 2,25 3,57 4,-9 5,-20 6,37 7,-24 8,6 9,-18 10,-21 11,32 12,21 13,19 14,-36 15,5 16,-15 17,-16 18,11 19,-38 20,17 21,5 22,-13 23,184 24,-18 25,-15 26,-14 27,-37"/>
<polyline vector-effect="non-scaling-stroke" points="0,-62 1,-46 2,2 3,47 4,6 5,-11 6,-46 7,-16 8,-45 9,-1 10,-12 11,21 12,-24 13,-1 14,-50 15,-19 16,-67 17,-17 18,-77 19,-27 20,-39 21,-40 22,-9 23,39 24,-8 25,-56 26,-9 27,-27"/>
<polyline vector-effect="non-scaling-stroke" points="0,28 1,28 2,-21 3,50 4,33 5,50 6,33 7,37 8,4 9,41 10,-22 11,32 12,-51 13,-11 14,16 15,25 16,-11 17,20 18,20 19,38 20,26 21,45 22,22 23,88 24,37 25,2 26,16 27,46"/>
<polyline vector-effect="non-scaling-stroke" points="0,-40 1,-30 2,1 3,50 4,-7 5,-7 6,21 7,0 8,8 9,-11 10,-57 11,-59 12,-8 13,-13 14,-25 15,-16 16,-62 17,-30 18,-94 19,-18 20,-25 21,35 22,-1 23,78 24,3 25,-11 26,-42 27,-8"/>
<polyline vector-effect="non-scaling-stroke" points="0,-21 1,28 2,12 3,5 4,34 5,50 6,1 7,43 8,-2 9,27 10,-33 11,-1 12,-38 13,-15 14,-48 15,25 16,-36 17,-4 18,-4 19,-8 20,15 21,4 22,-4 23,119 24,13 25,-31 26,-38 27,-7"/>
<polyline vector-effect="non-scaling-stroke" points="0,-12 1,21 2,38 3,53 4,35 5,12 6,44 7,6 8,4 9,-10 10,-19 11,32 12,-39 13,5 14,-19 15,19 16,16 17,-18 18,-92 19,16 20,25 21,-44 22,-2 23,109 24,-44 25,-2 26,-6 27,14"/>
<polyline vector-effect="non-scaling-stroke" points="0,-67 1,-53 2,-48 3,21 4,-57 5,2 6,-11 7,-53 8,-4 9,-50 10,-77 11,-40 12,-68 13,-28 14,-65 15,-49 16,-22 17,-22 18,-71 19,-62 20,-7 21,-48 22,-32 23,62 24,-57 25,-32 26,-79 27,3"/>
<polyline vector-effect="non-scaling-stroke" points="0,-58 1,-32 2,-22 3,50 4,18 5,2 6,18 7,-1 8,-18 9,-82 10,-90 11,-75 12,-31 13,-13 14,-23 15,-8 16,-33 17,-43 18,-73 19,-58 20,24 21,10 22,-44 23,71 24,7 25,3 26,-41 27,-1"/>
<polyline vector-effect="non-scaling-stroke" points="0,19 1,-37 2,-2 3,51 4,5 5,50 6,43 7,12 8,-20 9,25 10,7 11,-4 12,-21 13,-23 14,-8 15,22 16,6 17,2 18,7 19,-5 20,6 21,38 22,9 23,85 24,21 25,4 26,2 27,15"/>
<polyline vector-effect="non-scaling-stroke" points="0,-58 1,-33 2,8 3,12 4,-48 5,-22 6,-46 7,-27 8,-57 9,-24 10,-61 11,-11 12,0 13,-37 14,-60 15,-23 16,-55 17,-42 18,-78 19,-23 20,-31 21,-79 22,-43 23,51 24,1 25,-61 26,-72 27,-3"/>
<polyline vector-effect="non-scaling-stroke" points="0,-33 1,-9 2,15 3,57 4,13 5,-20 6,38 7,-10 8,-17 9,43 10,3 11,-28 12,-30 13,-3 14,-26 15,-37 16,-4 17,-1 18,-11 19,-9 20,13 21,15 22,-24 23,90 24,-4 25,-5 26,-12 27,-22"/>
<polyline vector-effect="non-scaling-stroke" points="0,-47 1,8 2,-38 3,33 4,-26 5,15 6,-4 7,-26 8,-62 9,-39 10,-24 11,-4 12,-59 13,16 14,-32 15,-37 16,-33 17,-43 18,-55 19,-35 20,-15 21,-38 22,-62 23,91 24,-24 25,-11 26,-21 27,1"/>
<polyline vector-effect="non-scaling-stroke" points="0,-30 1,3 2,-17 3,6 4,7 5,-53 6,-6 7,-10 8,-32 9,10 10,-21 11,-11 12,-39 13,11 14,-37 15,-22 16,-16 17,-16 18,11 19,-19 20,-60 21,1 22,7 23,70 24,22 25,3 26,-45 27,-18"/>
<polyline vector-effect="non-scaling-stroke" points="0,-49 1,-6 2,14 3,51 4,-27 5,-19 6,-23 7,-38 8,-50 9,-64 10,-38 11,1 12,-10 13,-4 14,-30 15,-9 16,-13 17,-27 18,-20 19,-13 20,-12 21,-6 22,-33 23,139 24,-36 25,-14 26,-54 27,31"/>
<polyline vector-effect="non-scaling-stroke" points="0,-30 1,-50 2,-37 3,-17 4,-23 5,-15 6,43 7,-53 8,-7 9,-65 10,-51 11,-9 12,-35 13,-17 14,-41 15,-27 16,-43 17,-18 18,-94 19,-43 20,-62 21,-67 22,-51 23,95 24,21 25,-16 26,-75 27,-21"/>
<polyline vector-effect="non-scaling-stroke" points="0,-47 1,-8 2,24 3,50 4,24 5,-6 6,-36 7,-46 8,-13 9,0 10,6 11,-16 12,-24 13,0 14,-1 15,-11 16,-49 17,-1 18,-14 19,1 20,-34 21,-8 22,-48 23,3 24,-3 25,-31 26,-12 27,30"/>
<polyline vector-effect="non-scaling-stroke" points="0,-35 1,11 2,-26 3,47 4,-40 5,-9 6,-7 7,-20 8,-8 9,-87 10,-41 11,-41 12,-32 13,-5 14,-32 15,-23 16,-60 17,-19 18,-54 19,-6 20,-50 21,16 22,-41 23,124 24,-19 25,-20 26,-35 27,4"/>
<polyline vector-effect="non-scaling-stroke" points="0,-35 1,-1 2,3 3,45 4,30 5,-27 6,28 7,-15 8,-69 9,-15 10,-50 11,15 12,-43 13,-13 14,-21 15,-50 16,-23 17,-48 18,-4 19,18 20,-11 21,-69 22,-12 23,78 24,6 25,-38 26,-61 27,-14"/>
<polyline vector-effect="non-scaling-stroke" points="0,-39 1,24 2,-12 3,32 4,11 5,-24 6,5 7,-5 8,-17 9,-15 10,13 11,5 12,-45 13,-8 14,-2 15,-16 16,-18 17,-17 18,-7 19,-5 20,4 21,-25 22,3 23,62 24,34 25,-18 26,-21 27,21"/>
<polyline vector-effect="non-scaling-stroke" points="0,11 1,18 2,30 3,55 4,21 5,20 6,57 7,15 8,11 9,16 10,35 11,32 12,-9 13,37 14,9 15,17 16,15 17,-15 18,20 19,31 20,15 21,46 22,24 23,189 24,5 25,1 26,-3 27,46"/>
<polyline vector-effect="non-scaling-stroke" points="0,8 1,-50 2,1 3,42 4,28 5,-2 6,-18 7,-10 8,-39 9,-37 10,-30 11,-17 12,-17 13,-36 14,16 15,17 16,-9 17,-44 18,-85 19,-25 20,-2 21,46 22,13 23,71 24,23 25,0 26,-20 27,26"/>
<polyline vector-effect="non-scaling-stroke" points="0,-14 1,-26 2,-25 3,43 4,30 5,-28 6,-24 7,9 8,-82 9,37 10,-40 11,9 12,23 13,-32 14,-34 15,35 16,-26 17,-21 18,-14 19,18 20,34 21,-1 22,-8 23,97 24,10 25,3 26,-16 27,41"/>
<polyline vector-effect="non-scaling-stroke" points="0,-44 1,-9 2,31 3,58 4,11 5,-24 6,-10 7,-13 8,-8 9,-26 10,-71 11,-31 12,-16 13,9 14,-47 15,-18 16,-65 17,-34 18,20 19,-8 20,-11 21,-28 22,-38 23,5 24,-1 25,-30 26,1 27,-37"/>
<polyline vector-effect="non-scaling-stroke" points="0,-27 1,1 2,-60 3,45 4,-51 5,-1 6,31 7,-17 8,-15 9,-51 10,-38 11,5 12,-38 13,-17 14,-18 15,-2 16,-72 17,-29 18,-55 19,-5 20,14 21,-11 22,6 23,28 24,-19 25,-52 26,-31 27,-9"/>
<polyline vector-effect="non-scaling-stroke" points="0,-30 1,-39 2,-2 3,32 4,19 5,-8 6,35 7,-2 8,-65 9,-19 10,-67 11,11 12,10 13,-4 14,-10 15,-34 16,-75 17,-31 18,-27 19,-43 20,4 21,1 22,4 23,161 24,16 25,-29 26,-19 27,12"/>
<polyline vector-effect="non-scaling-stroke" points="0,-34 1,23 2,30 3,48 4,7 5,50 6,42 7,29 8,28 9,28 10,-7 11,17 12,-31 13,22 14,-34 15,12 16,-2 17,-38 18,20 19,-18 20,38 21,-4 22,7 23,91 24,38 25,7 26,16 27,30"/>
<polyline vector-effect="non-scaling-stroke" points="0,-10 1,-14 2,-6 3,51 4,10 5,-6 6,-22 7,-13 8,0 9,-29 10,-22 11,-9 12,-44 13,-24 14,-31 15,-14 16,-29 17,0 18,-53 19,-56 20,17 21,-20 22,-7 23,189 24,26 25,-12 26,-5 27,2"/>
<polyline vector-effect="non-scaling-stroke" points="0,6 1,-22 2,-9 3,41 4,45 5,43 6,4 7,27 8,-7 9,23 10,-32 11,17 12,-20 13,-3 14,-12 15,1 16,-28 17,-40 18,17 19,-7 20,-38 21,-64 22,-65 23,81 24,30 25,-48 26,-21 27,-31"/>
<polyline vector-effect="non-scaling-stroke" points="0,-4 1,-13 2,2 3,58 4,35 5,18 6,-8 7,-36 8,-47 9,-76 10,17 11,-16 12,-27 13,-4 14,11 15,-22 16,-5 17,-19 18,-30 19,-58 20,18 21,-35 22,-20 23,94 24,1 25,-6 26,-41 27,-1"/>
<polyline vector-effect="non-scaling-stroke" points="0,9 1,7 2,36 3,55 4,50 5,9 6,4 7,19 8,28 9,3 10,-16 11,8 12,7 13,15 14,5 15,-19 16,16 17,12 18,-15 19,38 20,37 21,46 22,-5 23,189 24,22 25,-40 26,11 27,18"/>
<polyline vector-effect="non-scaling-stroke" points="0,-60 1,-37 2,-60 3,36 4,-23 5,-27 6,22 7,-24 8,-56 9,-72 10,-56 11,-3 12,-52 13,-47 14,-16 15,-23 16,-44 17,1 18,-85 19,-23 20,-65 21,-42 22,-11 23,103 24,-51 25,-23 26,-23 27,-22"/>
<polyline vector-effect="non-scaling-stroke" points="0,28 1,-13 2,-17 3,51 4,-39 5,40 6,36 7,-11 8,4 9,5 10,34 11,-17 12,-45 13,-44 14,-18 15,-32 16,-22 17,-9 18,-27 19,-24 20,32 21,-7 22,1 23,144 24,-24 25,-36 26,16 27,0"/>
<polyline vector-effect="non-scaling-stroke" points="0,-42 1,-18 2,-10 3,15 4,2 5,2 6,14 7,10 8,-56 9,-55 10,-3 11,-12 12,9 13,5 14,-41 15,6 16,-42 17,-13 18,6 19,38 20,5 21,14 22,1 23,135 24,-56 25,-26 26,-13 27,13"/>
<polyline vector-effect="non-scaling-stroke" points="0,-39 1,1 2,22 3,45 4,3 5,-9 6,14 7,21 8,17 9,-27 10,-54 11,-27 12,0 13,1 14,-11 15,2 16,-15 17,-22 18,-50 19,-19 20,6 21,4 22,-12 23,76 24,26 25,-30 26,-17 27,-6"/>
<polyline vector-effect="non-scaling-stroke" points="0,-52 1,-55 2,-29 3,3 4,11 5,-40 6,-14 7,-7 8,-32 9,-18 10,-26 11,-72 12,-44 13,-39 14,-6 15,-22 16,-26 17,-1 18,-50 19,-19 20,-3 21,-33 22,3 23,100 24,9 25,-34 26,-44 27,-21"/>
<polyline vector-effect="non-scaling-stroke" points="0,-44 1,-58 2,-7 3,45 4,-10 5,-26 6,-4 7,-15 8,-19 9,16 10,-69 11,-13 12,-24 13,-16 14,-34 15,-37 16,-51 17,-20 18,-6 19,-37 20,-2 21,-10 22,0 23,75 24,-2 25,-18 26,-64 27,-13"/>
<polyline vector-effect="non-scaling-stroke" points="0,-60 1,-55 2,-25 3,-4 4,13 5,17 6,-1 7,-14 8,-22 9,-28 10,-35 11,-4 12,-38 13,-25 14,-30 15,3 16,-37 17,2 18,-33 19,17 20,-36 21,-33 22,-2 23,104 24,-5 25,9 26,-24 27,1"/>
<polyline vector-effect="non-scaling-stroke" points="0,-37 1,16 2,15 3,48 4,-39 5,6 6,-1 7,1 8,4 9,-38 10,-27 11,8 12,-22 13,-12 14,-38 15,-21 16,-53 17,-4 18,-20 19,-36 20,1 21,-46 22,-65 23,143 24,21 25,-53 26,-39 27,3"/>
<polyline vector-effect="non-scaling-stroke" points="0,-45 1,-44 2,-30 3,18 4,-27 5,-12 6,-11 7,-35 8,-29 9,-87 10,-10 11,-75 12,-40 13,-12 14,-22 15,-17 16,-13 17,-54 18,-43 19,-19 20,-30 21,-45 22,2 23,32 24,-26 25,-42 26,-42 27,-12"/>
<polyline vector-effect="non-scaling-stroke" points="0,-41 1,-22 2,-12 3,40 4,21 5,-33 6,31 7,-28 8,-10 9,-28 10,-55 11,-75 12,-2 13,-34 14,-44 15,-1 16,-35 17,2 18,-2 19,-5 20,-8 21,-4 22,-52 23,72 24,-8 25,-44 26,-30 27,-43"/>
<polyline vector-effect="non-scaling-stroke" points="0,0 1,12 2,-27 3,47 4,40 5,12 6,-9 7,-22 8,7 9,37 10,-54 11,-2 12,-36 13,-6 14,-9 15,-6 16,-34 17,20 18,-21 19,-6 20,29 21,-2 22,-5 23,140 24,-17 25,-6 26,-1 27,17"/>
<polyline vector-effect="non-scaling-stroke" points="0,-21 1,-9 2,-31 3,47 4,20 5,28 6,22 7,-6 8,-22 9,-5 10,-16 11,21 12,-15 13,-5 14,-12 15,-10 16,-20 17,-53 18,-55 19,-24 20,20 21,1 22,2 23,160 24,-11 25,4 26,-8 27,-7"/>
<polyline vector-effect="non-scaling-stroke" points="0,0 1,-48 2,-37 3,28 4,7 5,-14 6,-46 7,-20 8,-23 9,40 10,-4 11,-13 12,-51 13,-5 14,-47 15,-12 16,-24 17,-35 18,-24 19,-23 20,-23 21,19 22,-3 23,62 24,-25 25,-26 26,-18 27,9"/>
<polyline vector-effect="non-scaling-stroke" points="0,-2 1,-17 2,-38 3,63 4,20 5,6 6,28 7,-43 8,-34 9,-44 10,-11 11,-51 12,-39 13,15 14,-14 15,-23 16,1 17,-53 18,-21 19,-22 20,3 21,-28 22,-36 23,81 24,-40 25,-21 26,-39 27,8"/>
<polyline vector-effect="non-scaling-stroke" points="0,-42 1,-37 2,-2 3,52 4,-60 5,-10 6,13 7,-42 8,-49 9,-10 10,-63 11,-36 12,3 13,-34 14,-42 15,-50 16,-58 17,-51 18,1 19,8 20,-45 21,27 22,-2 23,64 24,8 25,-23 26,-50 27,-45"/>
<polyline vector-effect="non-scaling-stroke" points="0,-21 1,6 2,15 3,48 4,47 5,0 6,52 7,8 8,11 9,-13 10,1 11,0 12,-36 13,17 14,-1 15,29 16,1 17,-19 18,-11 19,-37 20,3 21,46 22,24 23,173 24,25 25,7 26,5 27,-12"/>
<polyline vector-effect="non-scaling-stroke" points="0,-39 1,9 2,25 3,48 4,3 5,-7 6,1 7,-22 8,-62 9,-7 10,-41 11,-8 12,18 13,9 14,-27 15,5 16,-54 17,0 18,-14 19,-7 20,17 21,30 22,-12 23,56 24,37 25,-19 26,5 27,-12"/>
<polyline vector-effect="non-scaling-stroke" points="0,-21 1,-31 2,9 3,33 4,-15 5,30 6,14 7,-47 8,-21 9,-47 10,-65 11,-26 12,-37 13,-6 14,-35 15,-42 16,-38 17,-8 18,-65 19,3 20,8 21,-24 22,-3 23,54 24,-10 25,-45 26,-16 27,24"/>
<polyline vector-effect="non-scaling-stroke" points="0,-32 1,14 2,-42 3,31 4,-9 5,46 6,6 7,19 8,-58 9,-2 10,-4 11,0 12,-66 13,6 14,1 15,24 16,-10 17,-44 18,-18 19,19 20,-9 21,15 22,-6 23,113 24,21 25,-28 26,16 27,10"/>
<polyline vector-effect="non-scaling-stroke" points="0,7 1,-11 2,21 3,53 4,-4 5,-12 6,38 7,14 8,-56 9,-48 10,-11 11,10 12,14 13,-8 14,7 15,5 16,-14 17,-5 18,16 19,25 20,42 21,1 22,5 23,87 24,10 25,-11 26,-12 27,36"/>
<polyline vector-effect="non-scaling-stroke" points="0,-5 1,8 2,11 3,63 4,18 5,31 6,30 7,20 8,-4 9,-38 10,-56 11,32 12,-5 13,13 14,-12 15,-9 16,16 17,-33 18,-14 19,2 20,-15 21,-30 22,-10 23,97 24,2 25,0 26,-37 27,17"/>
<polyline vector-effect="non-scaling-stroke" points="0,-11 1,-16 2,-48 3,-24 4,7 5,-9 6,-22 7,3 8,-46 9,-37 10,-77 11,-20 12,-48 13,-33 14,-13 15,-20 16,-76 17,-24 18,-21 19,-46 20,-31 21,-30 22,-31 23,61 24,-1 25,-49 26,-1 27,-32"/>
<polyline vector-effect="non-scaling-stroke" points="0,-39 1,19 2,42 3,41 4,-2 5,-28 6,30 7,-7 8,-39 9,-8 10,3 11,3 12,23 13,14 14,-13 15,-13 16,-17 17,-2 18,-8 19,11 20,3 21,7 22,8 23,78 24,-32 25,4 26,-14 27,-13"/>
<polyline vector-effect="non-scaling-stroke" points="0,-29 1,-27 2,-49 3,30 4,-40 5,-5 6,0 7,11 8,-23 9,-13 10,-48 11,-25 12,-55 13,8 14,-19 15,-24 16,-25 17,-34 18,-51 19,-7 20,21 21,-24 22,-47 23,52 24,26 25,-45 26,-7 27,-12"/>
<polyline vector-effect="non-scaling-stroke" points="0,-16 1,-24 2,-46 3,25 4,42 5,-11 6,16 7,-19 8,-22 9,-14 10,-28 11,26 12,-32 13,-14 14,-35 15,-36 16,-66 17,-14 18,-85 19,16 20,14 21,-24 22,-40 23,81 24,-3 25,-8 26,-45 27,-14"/>
<polyline vector-effect="non-scaling-stroke" points="0,-40 1,-35 2,-33 3,-24 4,-58 5,-31 6,-12 7,-1 8,16 9,11 10,-41 11,13 12,-41 13,-31 14,6 15,-39 16,-49 17,-39 18,-8 19,-38 20,3 21,-40 22,-52 23,71 24,-10 25,-60 26,-58 27,-31"/>
<polyline vector-effect="non-scaling-stroke" points="0,-11 1,-14 2,-2 3,45 4,-14 5,2 6,-11 7,-38 8,-39 9,-17 10,-39 11,6 12,-60 13,-15 14,-15 15,-30 16,-24 17,-34 18,-63 19,10 20,-44 21,9 22,-22 23,39 24,-26 25,-43 26,-48 27,-2"/>
<polyline vector-effect="non-scaling-stroke" points="0,-68 1,-5 2,3 3,52 4,-37 5,-53 6,-19 7,-23 8,-20 9,-50 10,-51 11,-20 12,-64 13,17 14,-51 15,-16 16,-16 17,-47 18,-40 19,13 20,-23 21,2 22,-13 23,74 24,4 25,-40 26,-41 27,5"/>
<polyline vector-effect="non-scaling-stroke" points="0,-19 1,-6 2,-28 3,44 4,31 5,20 6,19 7,-16 8,-26 9,-2 10,12 11,-4 12,7 13,-9 14,2 15,-25 16,-19 17,-39 18,-8 19,6 20,-22 21,-26 22,-13 23,31 24,-18 25,-38 26,-7 27,29"/>
<polyline vector-effect="non-scaling-stroke" points="0,-36 1,-24 2,2 3,28 4,-2 5,15 6,13 7,-11 8,-29 9,21 10,-50 11,-6 12,-45 13,-18 14,-16 15,-17 16,-15 17,-21 18,-64 19,-63 20,21 21,-26 22,13 23,89 24,-17 25,-14 26,-29 27,-2"/>
<polyline vector-effect="non-scaling-stroke" points="0,-56 1,-20 2,5 3,7 4,25 5,-31 6,-3 7,-53 8,-82 9,18 10,-15 11,-1 12,-68 13,-17 14,-24 15,-22 16,-35 17,-52 18,-50 19,-53 20,-30 21,-20 22,-44 23,45 24,-27 25,-38 26,-20 27,-13"/>
<polyline vector-effect="non-scaling-stroke" points="0,-37 1,-59 2,-33 3,40 4,-43 5,-31 6,-34 7,1 8,-52 9,-67 10,-42 11,-4 12,-34 13,-4 14,-31 15,-28 16,-55 17,-48 18,-67 19,-20 20,-27 21,-33 22,-13 23,48 24,-54 25,-58 26,-70 27,-50"/>
<polyline vector-effect="non-scaling-stroke" points="0,-31 1,-44 2,-40 3,5 4,17 5,-16 6,23 7,-16 8,-33 9,-9 10,-26 11,-12 12,-50 13,-21 14,-47 15,-20 16,-29 17,-1 18,-2 19,0 20,14 21,-10 22,24 23,142 24,38 25,-21 26,-20 27,13"/>
<polyline vector-effect="non-scaling-stroke" points="0,-17 1,-7 2,-19 3,58 4,14 5,21 6,10 7,-36 8,1 9,21 10,-58 11,-27 12,-28 13,-5 14,-46 15,29 16,-2 17,-28 18,-68 19,5 20,48 21,17 22,12 23,61 24,10 25,-48 26,15 27,15"/>
<polyline vector-effect="non-scaling-stroke" points="0,-60 1,-47 2,11 3,46 4,3 5,15 6,54 7,4 8,-59 9,-15 10,-61 11,-24 12,-15 13,-5 14,-35 15,-7 16,-38 17,-9 18,-23 19,4 20,-1 21,13 22,-5 23,97 24,-7 25,-17 26,-60 27,46"/>
<polyline vector-effect="non-scaling-stroke" points="0,-41 1,-18 2,-16 3,26 4,11 5,-16 6,-3 7,-36 8,-42 9,-55 10,16 11,-48 12,-47 13,-4 14,2 15,-40 16,-62 17,-22 18,-18 19,-44 20,-51 21,-40 22,2 23,83 24,12 25,-27 26,-25 27,8"/>
<polyline vector-effect="non-scaling-stroke" points="0,-59 1,-45 2,-60 3,-23 4,-29 5,-45 6,-46 7,-29 8,-47 9,-70 10,-90 11,-31 12,-9 13,-57 14,-65 15,-50 16,-79 17,-65 18,-94 19,-29 20,-24 21,-16 22,-31 23,-6 24,-15 25,-71 26,-72 27,-50"/>
<polyline vector-effect="non-scaling-stroke" points="0,-6 1,-5 2,-21 3,25 4,-2 5,-6 6,19 7,-14 8,-11 9,-73 10,-50 11,-67 12,7 13,14 14,-12 15,5 16,5 17,-11 18,-80 19,-20 20,-65 21,-42 22,-45 23,74 24,2 25,-49 26,-37 27,-3"/>
<polyline vector-effect="non-scaling-stroke" points="0,-39 1,-30 2,-60 3,17 4,12 5,-8 6,-36 7,-22 8,-17 9,-60 10,-29 11,-43 12,-41 13,-18 14,8 15,-23 16,-48 17,-18 18,-50 19,-14 20,-65 21,-13 22,-18 23,14 24,16 25,-37 26,-38 27,-38"/>
<polyline vector-effect="non-scaling-stroke" points="0,-60 1,-33 2,-45 3,45 4,17 5,-22 6,-34 7,-21 8,-50 9,-19 10,-37 11,-27 12,-31 13,9 14,3 15,-23 16,-16 17,-31 18,-62 19,13 20,3 21,-12 22,-5 23,71 24,-31 25,2 26,-12 27,-2"/>
<polyline vector-effect="non-scaling-stroke" points="0,-22 1,-7 2,-24 3,39 4,-23 5,-5 6,-13 7,30 8,-43 9,-22 10,-41 11,-37 12,-22 13,-22 14,-40 15,-22 16,-58 17,-14 18,-25 19,-2 20,-56 21,-22 22,-42 23,62 24,10 25,-32 26,-43 27,6"/>
<polyline vector-effect="non-scaling-stroke" points="0,-11 1,12 2,-55 3,42 4,-14 5,-28 6,4 7,-36 8,-82 9,-54 10,-48 11,19 12,-45 13,-37 14,-63 15,-21 16,-37 17,-25 18,-75 19,-33 20,-65 21,-13 22,-52 23,-13 24,15 25,-20 26,-22 27,-2"/>
<polyline vector-effect="non-scaling-stroke" points="0,-53 1,-6 2,-38 3,61 4,0 5,-51 6,18 7,26 8,-32 9,0 10,-50 11,-37 12,-68 13,10 14,-35 15,-11 16,-60 17,-46 18,-10 19,-27 20,-22 21,-58 22,-11 23,104 24,-20 25,-35 26,-61 27,18"/>
<polyline vector-effect="non-scaling-stroke" points="0,-12 1,4 2,43 3,56 4,-1 5,5 6,28 7,43 8,14 9,11 10,29 11,32 12,-15 13,38 14,13 15,24 16,-49 17,5 18,20 19,12 20,49 21,23 22,-3 23,170 24,26 25,13 26,-5 27,46"/>
<polyline vector-effect="non-scaling-stroke" points="0,-33 1,-10 2,-26 3,28 4,15 5,-12 6,5 7,-7 8,-3 9,11 10,-3 11,15 12,-16 13,-11 14,-44 15,-12 16,-36 17,-50 18,13 19,-45 20,14 21,11 22,-6 23,189 24,6 25,-33 26,12 27,-13"/>
<polyline vector-effect="non-scaling-stroke" points="0,-55 1,-39 2,-22 3,39 4,9 5,-39 6,12 7,38 8,-38 9,-25 10,-19 11,10 12,-42 13,-30 14,-41 15,8 16,-12 17,-65 18,-93 19,-42 20,-46 21,-3 22,-5 23,167 24,11 25,-24 26,-6 27,-24"/>
<polyline vector-effect="non-scaling-stroke" points="0,-54 1,-20 2,15 3,-6 4,21 5,14 6,-5 7,-7 8,-23 9,-17 10,-13 11,-33 12,-5 13,9 14,-6 15,-45 16,-70 17,-11 18,-43 19,-27 20,-23 21,-52 22,-15 23,53 24,-17 25,-16 26,-53 27,19"/>
<polyline vector-effect="non-scaling-stroke" points="0,-68 1,28 2,-39 3,48 4,21 5,-7 6,22 7,-13 8,-68 9,-11 10,-4 11,-27 12,-59 13,-21 14,-15 15,-7 16,-7 17,-15 18,-15 19,-60 20,45 21,-11 22,4 23,68 24,-5 25,-24 26,2 27,27"/>
<polyline vector-effect="non-scaling-stroke" points="0,-12 1,22 2,-11 3,49 4,-6 5,27 6,10 7,14 8,19 9,-81 10,32 11,-1 12,-33 13,-47 14,-23 15,-49 16,-22 17,-25 18,12 19,-15 20,24 21,20 22,22 23,79 24,14 25,-54 26,-48 27,-7"/>
<polyline vector-effect="non-scaling-stroke" points="0,-33 1,-45 2,-19 3,48 4,-14 5,-13 6,-18 7,17 8,15 9,-18 10,-44 11,17 12,-22 13,-26 14,-50 15,-25 16,10 17,-38 18,20 19,-14 20,-12 21,17 22,-18 23,94 24,-31 25,-54 26,-46 27,-3"/>
<polyline vector-effect="non-scaling-stroke" points="0,-41 1,-55 2,6 3,36 4,-4 5,-18 6,-46 7,26 8,-28 9,-4 10,6 11,11 12,-24 13,-6 14,-14 15,7 16,-15 17,-32 18,-15 19,-1 20,14 21,-5 22,11 23,95 24,15 25,-23 26,-38 27,-23"/>
<polyline vector-effect="non-scaling-stroke" points="0,-21 1,2 2,32 3,47 4,4 5,-5 6,46 7,4 8,-13 9,15 10,-56 11,2 12,-17 13,1 14,-32 15,18 16,14 17,-38 18,-12 19,15 20,49 21,-8 22,-18 23,109 24,38 25,-14 26,-10 27,45"/>
<polyline vector-effect="non-scaling-stroke" points="0,-59 1,-51 2,23 3,57 4,-23 5,17 6,17 7,4 8,-25 9,-19 10,-47 11,0 12,-24 13,34 14,-3 15,-31 16,-11 17,11 18,-10 19,22 20,8 21,17 22,-20 23,139 24,-24 25,5 26,-50 27,-38"/>
<polyline vector-effect="non-scaling-stroke" points="0,-13 1,-20 2,2 3,49 4,7 5,-20 6,15 7,1 8,-1 9,38 10,-50 11,-5 12,-11 13,-13 14,-40 15,-18 16,-4 17,-25 18,-9 19,-23 20,12 21,-26 22,-25 23,98 24,4 25,4 26,-59 27,11"/>
<polyline vector-effect="non-scaling-stroke" points="0,27 1,22 2,3 3,40 4,8 5,18 6,26 7,13 8,9 9,-31 10,-47 11,-25 12,-40 13,4 14,-4 15,35 16,-4 17,-11 18,15 19,-10 20,21 21,29 22,12 23,133 24,6 25,-36 26,-15 27,-2"/>
<polyline vector-effect="non-scaling-stroke" points="0,-10 1,-20 2,10 3,-2 4,26 5,-21 6,-27 7,-34 8,-29 9,15 10,-11 11,-40 12,-24 13,-6 14,-48 15,-26 16,-71 17,-37 18,-94 19,-25 20,-24 21,-31 22,-25 23,143 24,-5 25,-18 26,-9 27,18"/>
<polyline vector-effect="non-scaling-stroke" points="0,-25 1,-38 2,-43 3,5 4,-23 5,-15 6,-6 7,4 8,-31 9,17 10,-20 11,-37 12,-19 13,-57 14,-5 15,-13 16,-28 17,-63 18,15 19,-27 20,-18 21,5 22,-24 23,28 24,3 25,-55 26,-19 27,-11"/>
<polyline vector-effect="non-scaling-stroke" points="0,-23 1,-56 2,5 3,25 4,26 5,-37 6,29 7,-13 8,-15 9,-68 10,-44 11,-14 12,-58 13,-51 14,-52 15,0 16,-42 17,-22 18,-41 19,-27 20,-19 21,-49 22,-2 23,56 24,-16 25,-71 26,-37 27,-35"/>
<polyline vector-effect="non-scaling-stroke" points="0,-44 1,-5 2,-39 3,25 4,10 5,14 6,-13 7,-10 8,-15 9,-64 10,-90 11,-75 12,-22 13,-12 14,-53 15,-28 16,-43 17,-36 18,-35 19,29 20,-32 21,-16 22,-35 23,44 24,-30 25,-36 26,-45 27,-3"/>
<polyline vector-effect="non-scaling-stroke" points="0,-25 1,-36 2,34 3,7 4,11 5,45 6,-10 7,19 8,11 9,-10 10,-80 11,16 12,-27 13,-19 14,0 15,-24 16,-7 17,-34 18,-14 19,-36 20,-13 21,-39 22,-26 23,93 24,-5 25,-21 26,-2 27,-6"/>
<polyline vector-effect="non-scaling-stroke" points="0,-57 1,-21 2,3 3,57 4,29 5,22 6,7 7,9 8,-51 9,21 10,-17 11,4 12,-31 13,-2 14,-28 15,4 16,-52 17,-2 18,-10 19,36 20,3 21,-7 22,-2 23,97 24,2 25,-43 26,-46 27,-11"/>
<polyline vector-effect="non-scaling-stroke" points="0,-23 1,-31 2,-19 3,45 4,29 5,3 6,33 7,24 8,10 9,-15 10,-33 11,-47 12,-31 13,13 14,-30 15,26 16,10 17,-20 18,4 19,-30 20,-15 21,-6 22,0 23,102 24,-8 25,16 26,-9 27,14"/>
<polyline vector-effect="non-scaling-stroke" points="0,-20 1,-21 2,-16 3,17 4,-50 5,24 6,-21 7,-47 8,-46 9,-77 10,16 11,-7 12,-1 13,16 14,-14 15,-6 16,-49 17,-30 18,-51 19,-14 20,-28 21,14 22,0 23,70 24,-49 25,-17 26,-13 27,-11"/>
<polyline vector-effect="non-scaling-stroke" points="0,-57 1,-19 2,10 3,-24 4,8 5,-51 6,0 7,21 8,-22 9,-15 10,-53 11,-20 12,19 13,11 14,-33 15,-25 16,-34 17,10 18,-29 19,6 20,-22 21,-60 22,5 23,66 24,-29 25,-47 26,-49 27,-24"/>
<polyline vector-effect="non-scaling-stroke" points="0,-49 1,13 2,12 3,59 4,5 5,12 6,19 7,25 8,8 9,2 10,-43 11,-32 12,-36 13,-12 14,-22 15,-26 16,11 17,-11 18,-74 19,-26 20,-27 21,5 22,12 23,61 24,17 25,-22 26,2 27,34"/>
<polyline vector-effect="non-scaling-stroke" points="0,-7 1,7 2,9 3,44 4,-12 5,16 6,18 7,-5 8,-4 9,-7 10,-47 11,-7 12,13 13,0 14,11 15,-21 16,-43 17,-10 18,2 19,-10 20,25 21,26 22,15 23,107 24,9 25,-46 26,-13 27,15"/>
<polyline vector-effect="non-scaling-stroke" points="0,-1 1,-46 2,-30 3,6 4,17 5,-53 6,-23 7,31 8,-6 9,-67 10,-43 11,2 12,-21 13,-17 14,-39 15,0 16,-31 17,-13 18,-20 19,-26 20,25 21,-32 22,-4 23,49 24,-11 25,-34 26,-45 27,-3"/>
<polyline vector-effect="non-scaling-stroke" points="0,7 1,21 2,28 3,41 4,36 5,9 6,49 7,-30 8,16 9,-31 10,4 11,-17 12,-3 13,-9 14,-53 15,-25 16,-27 17,-20 18,-86 19,-34 20,-16 21,-11 22,-2 23,59 24,-33 25,-16 26,-27 27,19"/>
<polyline vector-effect="non-scaling-stroke" points="0,-25 1,7 2,-8 3,54 4,20 5,22 6,2 7,3 8,-18 9,-4 10,3 11,32 12,-11 13,20 14,-7 15,24 16,-5 17,9 18,-4 19,38 20,43 21,-40 22,6 23,120 24,-37 25,-27 26,-19 27,-4"/>
<polyline vector-effect="non-scaling-stroke" points="0,-22 1,-48 2,15 3,53 4,15 5,-8 6,11 7,-15 8,10 9,0 10,29 11,-14 12,10 13,-15 14,-18 15,-26 16,-13 17,-21 18,-9 19,24 20,2 21,3 22,7 23,91 24,-9 25,-15 26,-12 27,16"/>
<polyline vector-effect="non-scaling-stroke" points="0,-10 1,-31 2,5 3,57 4,-9 5,3 6,-7 7,-7 8,17 9,-14 10,-59 11,-3 12,-24 13,14 14,-46 15,-27 16,-28 17,-51 18,-3 19,-58 20,-24 21,-54 22,-24 23,120 24,10 25,-9 26,-14 27,-44"/>
<polyline vector-effect="non-scaling-stroke" points="0,-42 1,-60 2,-41 3,1 4,-39 5,-16 6,-35 7,5 8,-26 9,-14 10,-43 11,-13 12,-47 13,11 14,-60 15,-21 16,-49 17,-46 18,-45 19,-52 20,-5 21,-18 22,-31 23,74 24,-51 25,-72 26,-62 27,-29"/>
<polyline vector-effect="non-scaling-stroke" points="0,28 1,-10 2,30 3,61 4,50 5,13 6,35 7,1 8,-19 9,-28 10,-39 11,27 12,-6 13,3 14,-8 15,-9 16,-14 17,-12 18,1 19,23 20,-27 21,12 22,20 23,72 24,7 25,-10 26,6 27,23"/>
<polyline vector-effect="non-scaling-stroke" points="0,-27 1,-3 2,24 3,51 4,47 5,13 6,-9 7,-18 8,-9 9,-14 10,-8 11,3 12,20 13,15 14,8 15,-18 16,-28 17,-5 18,-16 19,10 20,12 21,-18 22,20 23,150 24,-29 25,-30 26,-17 27,18"/>
<polyline vector-effect="non-scaling-stroke" points="0,-29 1,-42 2,15 3,37 4,29 5,4 6,30 7,10 8,4 9,-31 10,-3 11,-3 12,-48 13,-13 14,-23 15,-1 16,-12 17,-42 18,-9 19,-8 20,-27 21,12 22,-24 23,40 24,14 25,-7 26,-37 27,20"/>
<polyline vector-effect="non-scaling-stroke" points="0,-10 1,-32 2,31 3,33 4,5 5,-53 6,16 7,-25 8,-9 9,-77 10,-8 11,13 12,11 13,-57 14,-13 15,-9 16,-79 17,-40 18,-32 19,15 20,-29 21,-10 22,-13 23,94 24,-14 25,-12 26,-11 27,-34"/>
<polyline vector-effect="non-scaling-stroke" points="0,-17 1,-43 2,-24 3,48 4,-9 5,-5 6,12 7,-10 8,-46 9,-65 10,-34 11,-5 12,-32 13,-23 14,-14 15,-21 16,-70 17,-29 18,-26 19,-5 20,-41 21,-49 22,-13 23,43 24,-15 25,-18 26,-28 27,22"/>
<polyline vector-effect="non-scaling-stroke" points="0,-22 1,15 2,18 3,72 4,5 5,-6 6,35 7,-19 8,-26 9,-11 10,-25 11,-48 12,-22 13,-13 14,-18 15,-7 16,-29 17,-3 18,-14 19,-12 20,2 21,15 22,4 23,142 24,-2 25,-21 26,10 27,-3"/>
<polyline vector-effect="non-scaling-stroke" points="0,12 1,-2 2,-12 3,4 4,17 5,-18 6,-8 7,-41 8,8 9,-14 10,-34 11,-1 12,-22 13,-4 14,-10 15,-15 16,-79 17,-9 18,-15 19,-7 20,33 21,-49 22,-65 23,152 24,8 25,-56 26,-32 27,10"/>
<polyline vector-effect="non-scaling-stroke" points="0,-38 1,5 2,43 3,68 4,17 5,18 6,1 7,8 8,-7 9,-28 10,-52 11,32 12,-11 13,-14 14,-15 15,30 16,14 17,-22 18,-8 19,22 20,6 21,-25 22,-15 23,115 24,-2 25,-37 26,-16 27,29"/>
<polyline vector-effect="non-scaling-stroke" points="0,-25 1,-32 2,24 3,5 4,-12 5,-43 6,13 7,-22 8,-77 9,-59 10,2 11,-5 12,-35 13,0 14,-60 15,-33 16,-67 17,-47 18,-51 19,-8 20,10 21,1 22,21 23,44 24,-13 25,-24 26,-55 27,-19"/>
<polyline vector-effect="non-scaling-stroke" points="0,0 1,-20 2,22 3,68 4,-3 5,-35 6,26 7,-14 8,4 9,-8 10,-3 11,25 12,10 13,2 14,-25 15,-39 16,-56 17,-23 18,-7 19,-6 20,4 21,-33 22,-28 23,48 24,23 25,-48 26,1 27,-6"/>
<polyline vector-effect="non-scaling-stroke" points="0,-15 1,-13 2,13 3,57 4,-15 5,-24 6,-1 7,-23 8,-1 9,-20 10,-35 11,-1 12,-36 13,15 14,-54 15,-6 16,-16 17,-36 18,-43 19,10 20,-9 21,-66 22,-40 23,131 24,-20 25,-2 26,0 27,-7"/>
<polyline vector-effect="non-scaling-stroke" points="0,-2 1,-23 2,1 3,38 4,27 5,-19 6,17 7,5 8,6 9,-64 10,-63 11,-16 12,-20 13,7 14,-7 15,35 16,-4 17,-2 18,-21 19,18 20,26 21,20 22,-1 23,139 24,34 25,-28 26,-60 27,26"/>
<polyline vector-effect="non-scaling-stroke" points="0,-24 1,-32 2,-26 3,70 4,-22 5,-40 6,-15 7,-10 8,-46 9,-45 10,-41 11,-35 12,-35 13,-18 14,-50 15,-19 16,-63 17,-16 18,-67 19,-26 20,-64 21,-38 22,-50 23,128 24,-15 25,-24 26,-77 27,-38"/>
<polyline vector-effect="non-scaling-stroke" points="0,-30 1,-40 2,22 3,34 4,10 5,6 6,8 7,11 8,-28 9,-4 10,4 11,-2 12,-22 13,-10 14,-15 15,5 16,-28 17,-50 18,-18 19,-8 20,12 21,-5 22,15 23,42 24,-19 25,-11 26,-44 27,6"/>
<polyline vector-effect="non-scaling-stroke" points="0,-16 1,-43 2,21 3,66 4,20 5,-21 6,36 7,-18 8,-5 9,8 10,-40 11,-39 12,-18 13,4 14,-23 15,-14 16,-2 17,-14 18,-21 19,-8 20,15 21,6 22,-1 23,54 24,4 25,-24 26,-13 27,32"/>
</g></g>
<g clip-path="url(#cP2)" fill="none" stroke-width="1.15" stroke-linejoin="round">
<polyline points="44.5,524.5 54.6,523.4 64.7,518.4 74.8,508.7 85.0,513.7 95.1,516.2 105.2,514.3 115.3,516.8 125.4,519.3 135.5,522.0 145.6,526.5 155.8,519.0 165.9,523.4 176.0,518.4 186.1,521.8 196.2,519.8 206.3,523.7 216.5,523.1 226.6,523.1 236.7,518.2 246.8,516.5 256.9,519.8 267.0,518.4 277.1,488.8 287.3,516.2 297.4,522.3 307.5,523.1 317.6,517.6" stroke="#d9244e"/>
<polyline points="44.5,524.5 54.6,520.1 64.7,515.9 74.8,501.3 85.0,516.5 95.1,519.3 105.2,514.3 115.3,521.5 125.4,520.7 135.5,520.4 145.6,526.5 155.8,518.4 165.9,525.1 176.0,517.9 186.1,521.2 196.2,519.3 206.3,523.1 216.5,522.6 226.6,522.6 236.7,519.3 246.8,516.5 256.9,518.4 267.0,518.2 277.1,495.7 287.3,516.2 297.4,523.7 307.5,522.6 317.6,517.1" stroke="#2323d0"/>
</g>
<path d="M317.6,433.4V544.2" stroke="#a0a0a0" stroke-width="0.9" fill="none"/>
<path d="M44.5,433.4H317.6M317.6,544.2H44.5V433.4M74.8,544.2v-2.8M74.8,433.4v2.8M125.4,544.2v-2.8M125.4,433.4v2.8M176.0,544.2v-2.8M176.0,433.4v2.8M277.1,544.2v-2.8M277.1,433.4v2.8M44.5,544.2h2.8M317.6,544.2h-2.8M44.5,516.5h2.8M317.6,516.5h-2.8M44.5,488.8h2.8M317.6,488.8h-2.8M44.5,461.1h2.8M317.6,461.1h-2.8" stroke="#777" stroke-width="0.9" fill="none"/>
<text x="39.3" y="465.5" font-size="11.4" font-weight="normal" text-anchor="end" fill="#262626" >2</text>
<text x="39.3" y="493.2" font-size="11.4" font-weight="normal" text-anchor="end" fill="#262626" >1</text>
<text x="39.3" y="520.9" font-size="11.4" font-weight="normal" text-anchor="end" fill="#262626" >0</text>
<text x="39.3" y="548.6" font-size="11.4" font-weight="normal" text-anchor="end" fill="#262626" >-1</text>
<text x="74.8" y="561.0" font-size="11" font-weight="normal" text-anchor="middle" fill="#262626" >1.33</text>
<text x="125.4" y="561.0" font-size="11" font-weight="normal" text-anchor="middle" fill="#262626" >2</text>
<text x="176.0" y="561.0" font-size="11" font-weight="normal" text-anchor="middle" fill="#262626" >2.66</text>
<text x="277.1" y="561.0" font-size="11" font-weight="normal" text-anchor="middle" fill="#262626" >4</text>
<text x="180.7" y="577.2" font-size="12.6" font-weight="normal" text-anchor="middle" fill="#262626" >freq (Hz)</text>
<text x="0" y="0" font-size="13" text-anchor="middle" fill="#262626" transform="translate(23.9,488.8) rotate(-90)">SNR</text>
<text x="13.0" y="22.6" font-size="22" font-weight="bold" text-anchor="start" fill="#000" >a</text>
<text x="174.0" y="20.3" font-size="16.4" font-weight="bold" text-anchor="middle" fill="#000" >Power</text>
<g transform="translate(77.30,48.80)">
<circle r="37.2" fill="#ebf2fc"/>
<g clip-path="url(#mapclip)"><g filter="url(#cmap)">
<rect x="-45" y="-45" width="90" height="90" fill="rgb(0,0,0)"/>
<ellipse cx="-25" cy="0" rx="4" ry="8" fill="rgb(31,31,31)"/>
<ellipse cx="-18" cy="-1" rx="6" ry="7" fill="rgb(43,43,43)"/>
<ellipse cx="-13" cy="-0.5" rx="3" ry="3" fill="rgb(38,38,38)"/>
</g></g>
<circle cx="-10.2" cy="-0.1" r="0.75" fill="#000"/>
<circle r="21.4" fill="none" stroke="#000" stroke-width="1.75"/>
<path d="M-4.2,-20.9Q-2.2,-23.3 -1.2,-24.5Q0,-25.8 1.2,-24.5Q2.2,-23.3 4.2,-20.9" fill="none" stroke="#000" stroke-width="1.6" stroke-linejoin="round"/>
<path d="M-20.8,-5.4C-22.5,-6.2 -24,-5.8 -24,-4L-24.3,4.5C-24.3,6.6 -22.5,7 -20.5,6.3" fill="none" stroke="#000" stroke-width="1.45"/>
<path d="M20.8,-5.4C22.5,-6.2 24,-5.8 24,-4L24.3,4.5C24.3,6.6 22.5,7 20.5,6.3" fill="none" stroke="#000" stroke-width="1.45"/>
</g>
<g transform="translate(278.30,48.80)">
<circle r="37.2" fill="#ebf2fc"/>
<g clip-path="url(#mapclip)"><g filter="url(#cmap)">
<rect x="-45" y="-45" width="90" height="90" fill="rgb(0,0,0)"/>
<ellipse cx="5" cy="-24" rx="7" ry="5" fill="rgb(51,51,51)"/>
<ellipse cx="11" cy="-26" rx="5" ry="4" fill="rgb(51,51,51)"/>
<ellipse cx="19" cy="-20.7" rx="2.5" ry="2.5" fill="rgb(0,0,0)"/>
<ellipse cx="26" cy="-17" rx="3.5" ry="5" fill="rgb(38,38,38)"/>
<ellipse cx="4.4" cy="-4" rx="2.5" ry="2" fill="rgb(38,38,38)"/>
<ellipse cx="6.8" cy="28" rx="3" ry="2" fill="rgb(20,20,20)"/>
</g></g>
<circle r="21.4" fill="none" stroke="#000" stroke-width="1.75"/>
<path d="M-4.2,-20.9Q-2.2,-23.3 -1.2,-24.5Q0,-25.8 1.2,-24.5Q2.2,-23.3 4.2,-20.9" fill="none" stroke="#000" stroke-width="1.6" stroke-linejoin="round"/>
<path d="M-20.8,-5.4C-22.5,-6.2 -24,-5.8 -24,-4L-24.3,4.5C-24.3,6.6 -22.5,7 -20.5,6.3" fill="none" stroke="#000" stroke-width="1.45"/>
<path d="M20.8,-5.4C22.5,-6.2 24,-5.8 24,-4L24.3,4.5C24.3,6.6 22.5,7 20.5,6.3" fill="none" stroke="#000" stroke-width="1.45"/>
</g>
<text x="180.7" y="49.2" font-size="13" font-weight="bold" text-anchor="middle" fill="#000" >Resting state</text>
<g transform="translate(77.30,234.60)">
<circle r="37.2" fill="#ebf2fc"/>
<g clip-path="url(#mapclip)"><g filter="url(#cmap)">
<rect x="-45" y="-45" width="90" height="90" fill="rgb(0,0,0)"/>
<ellipse cx="-17" cy="-18" rx="8" ry="7" fill="rgb(46,46,46)"/>
<ellipse cx="-1" cy="-9" rx="5" ry="6" fill="rgb(31,31,31)"/>
<ellipse cx="-5" cy="2.5" rx="6" ry="4" fill="rgb(31,31,31)"/>
<ellipse cx="9" cy="2.5" rx="7" ry="2.5" fill="rgb(26,26,26)"/>
<ellipse cx="3" cy="-2.5" rx="3" ry="3" fill="rgb(0,0,0)"/>
<ellipse cx="-8.5" cy="13" rx="6" ry="4" fill="rgb(31,31,31)"/>
<ellipse cx="0" cy="15" rx="5" ry="3.5" fill="rgb(31,31,31)"/>
<ellipse cx="23" cy="2" rx="5" ry="6" fill="rgb(61,61,61)"/>
<ellipse cx="27" cy="-14" rx="3" ry="6" fill="rgb(20,20,20)"/>
<ellipse cx="-30" cy="3" rx="3" ry="8" fill="rgb(20,20,20)"/>
<ellipse cx="-7" cy="26" rx="8" ry="3" fill="rgb(20,20,20)"/>
<ellipse cx="14" cy="-12" rx="4" ry="4" fill="rgb(13,13,13)"/>
</g></g>
<circle cx="-19" cy="-18" r="0.75" fill="#000"/>
<circle cx="18" cy="0.6" r="0.75" fill="#000"/>
<circle r="21.4" fill="none" stroke="#000" stroke-width="1.75"/>
<path d="M-4.2,-20.9Q-2.2,-23.3 -1.2,-24.5Q0,-25.8 1.2,-24.5Q2.2,-23.3 4.2,-20.9" fill="none" stroke="#000" stroke-width="1.6" stroke-linejoin="round"/>
<path d="M-20.8,-5.4C-22.5,-6.2 -24,-5.8 -24,-4L-24.3,4.5C-24.3,6.6 -22.5,7 -20.5,6.3" fill="none" stroke="#000" stroke-width="1.45"/>
<path d="M20.8,-5.4C22.5,-6.2 24,-5.8 24,-4L24.3,4.5C24.3,6.6 22.5,7 20.5,6.3" fill="none" stroke="#000" stroke-width="1.45"/>
</g>
<g transform="translate(278.30,234.60)">
<circle r="37.2" fill="#ebf2fc"/>
<g clip-path="url(#mapclip)"><g filter="url(#cmap)">
<rect x="-45" y="-45" width="90" height="90" fill="rgb(66,66,66)"/>
<ellipse cx="-18" cy="-23" rx="9" ry="5" fill="rgb(64,64,64)"/>
<ellipse cx="-3.7" cy="-27" rx="7" ry="4" fill="rgb(120,120,120)"/>
<ellipse cx="-28" cy="-6" rx="4" ry="10" fill="rgb(26,26,26)"/>
<ellipse cx="-16.5" cy="-8" rx="6" ry="10" fill="rgb(0,0,0)"/>
<ellipse cx="15.5" cy="-5" rx="6" ry="12" fill="rgb(0,0,0)"/>
<ellipse cx="28" cy="-5" rx="4" ry="10" fill="rgb(61,61,61)"/>
<ellipse cx="32" cy="7" rx="3" ry="7" fill="rgb(84,84,84)"/>
<ellipse cx="-22" cy="11" rx="9" ry="7" fill="rgb(0,0,0)"/>
<ellipse cx="-13" cy="14" rx="4" ry="4" fill="rgb(26,26,26)"/>
<ellipse cx="-0.5" cy="-10" rx="10" ry="12" fill="rgb(82,82,82)"/>
<ellipse cx="0" cy="-1" rx="9" ry="5" fill="rgb(117,117,117)"/>
<ellipse cx="0" cy="12" rx="11" ry="5" fill="rgb(64,64,64)"/>
<ellipse cx="7.4" cy="13.6" rx="3" ry="3" fill="rgb(97,97,97)"/>
<ellipse cx="22" cy="17" rx="9" ry="6" fill="rgb(71,71,71)"/>
<ellipse cx="0" cy="25" rx="18" ry="6" fill="rgb(69,69,69)"/>
</g></g>
<path d="M0.8,-1.3l2.6,2.6M0.8,1.3l2.6,-2.6M-4.0,0.9l2.6,2.6M-4.0,3.5l2.6,-2.6M-0.9,-5.6l2.6,2.6M-0.9,-3.0l2.6,-2.6M2.1,2.7l2.6,2.6M2.1,5.3l2.6,-2.6M-7.5,-2.3l2.6,2.6M-7.5,0.3l2.6,-2.6M4.5,-4.7l2.6,2.6M4.5,-2.1l2.6,-2.6M-3.2,5.4l2.6,2.6M-3.2,8.0l2.6,-2.6M-5.0,-7.9l2.6,2.6M-5.0,-5.3l2.6,-2.6M6.8,1.4l2.6,2.6M6.8,4.0l2.6,-2.6M-9.7,1.9l2.6,2.6M-9.7,4.5l2.6,-2.6M2.7,-9.3l2.6,2.6M2.7,-6.7l2.6,-2.6M1.7,7.5l2.6,2.6M1.7,10.1l2.6,-2.6M-10.3,-6.1l2.6,2.6M-10.3,-3.5l2.6,-2.6M-7.8,7.2l2.6,2.6M-7.8,9.8l2.6,-2.6M-2.8,-11.9l2.6,2.6M-2.8,-9.3l2.6,-2.6M7.7,-9.5l2.6,2.6M7.7,-6.9l2.6,-2.6M-1.9,10.7l2.6,2.6M-1.9,13.3l2.6,-2.6M-9.8,-10.7l2.6,2.6M-9.8,-8.1l2.6,-2.6M1.8,-14.1l2.6,2.6M1.8,-11.5l2.6,-2.6M-7.3,11.8l2.6,2.6M-7.3,14.4l2.6,-2.6M-6.6,-14.9l2.6,2.6M-6.6,-12.3l2.6,-2.6M-1.2,-17.7l2.6,2.6M-1.2,-15.1l2.6,-2.6M-5.7,-20.0l2.6,2.6M-5.7,-17.4l2.6,-2.6M1.8,-21.7l2.6,2.6M1.8,-19.1l2.6,-2.6M-3.8,22.0l2.6,2.6M-3.8,24.6l2.6,-2.6M2.0,23.9l2.6,2.6M2.0,26.5l2.6,-2.6M-7.9,24.5l2.6,2.6M-7.9,27.1l2.6,-2.6M8.4,24.4l2.6,2.6M8.4,27.0l2.6,-2.6M-1.7,27.0l2.6,2.6M-1.7,29.6l2.6,-2.6M29.5,1.6l2.6,2.6M29.5,4.2l2.6,-2.6M15.2,23.3l2.6,2.6M15.2,25.9l2.6,-2.6M-12.6,26.1l2.6,2.6M-12.6,28.7l2.6,-2.6" stroke="#000" stroke-width="0.6" fill="none" opacity="0.85"/>
<circle cx="-11.1" cy="9.3" r="0.75" fill="#000"/>
<circle cx="-6.8" cy="7.4" r="0.75" fill="#000"/>
<circle cx="7.4" cy="7.4" r="0.75" fill="#000"/>
<circle cx="-6.8" cy="16.7" r="0.75" fill="#000"/>
<circle cx="-32" cy="-12" r="0.75" fill="#000"/>
<circle r="21.4" fill="none" stroke="#000" stroke-width="1.75"/>
<path d="M-4.2,-20.9Q-2.2,-23.3 -1.2,-24.5Q0,-25.8 1.2,-24.5Q2.2,-23.3 4.2,-20.9" fill="none" stroke="#000" stroke-width="1.6" stroke-linejoin="round"/>
<path d="M-20.8,-5.4C-22.5,-6.2 -24,-5.8 -24,-4L-24.3,4.5C-24.3,6.6 -22.5,7 -20.5,6.3" fill="none" stroke="#000" stroke-width="1.45"/>
<path d="M20.8,-5.4C22.5,-6.2 24,-5.8 24,-4L24.3,4.5C24.3,6.6 22.5,7 20.5,6.3" fill="none" stroke="#000" stroke-width="1.45"/>
</g>
<text x="180.7" y="235.0" font-size="13" font-weight="bold" text-anchor="middle" fill="#000" >Random</text>
<g transform="translate(77.30,420.40)">
<circle r="37.2" fill="#ebf2fc"/>
<g clip-path="url(#mapclip)"><g filter="url(#cmap)">
<rect x="-45" y="-45" width="90" height="90" fill="rgb(54,54,54)"/>
<ellipse cx="-15" cy="-23" rx="8" ry="5" fill="rgb(20,20,20)"/>
<ellipse cx="2.5" cy="-27" rx="8" ry="4" fill="rgb(61,61,61)"/>
<ellipse cx="15" cy="-23" rx="5" ry="5" fill="rgb(84,84,84)"/>
<ellipse cx="23" cy="-15" rx="5" ry="5" fill="rgb(61,61,61)"/>
<ellipse cx="29.5" cy="-10" rx="3.5" ry="6" fill="rgb(0,0,0)"/>
<ellipse cx="-13" cy="-11" rx="6" ry="7" fill="rgb(51,51,51)"/>
<ellipse cx="9" cy="-8" rx="8" ry="4.5" fill="rgb(0,0,0)"/>
<ellipse cx="3" cy="-3" rx="7" ry="4.5" fill="rgb(0,0,0)"/>
<ellipse cx="-3" cy="2" rx="5" ry="3.5" fill="rgb(8,8,8)"/>
<ellipse cx="14" cy="6" rx="4" ry="4" fill="rgb(0,0,0)"/>
<ellipse cx="10" cy="14" rx="7" ry="4" fill="rgb(41,41,41)"/>
<ellipse cx="-11.7" cy="10.9" rx="6" ry="5" fill="rgb(102,102,102)"/>
<ellipse cx="-21.6" cy="15.8" rx="6" ry="4" fill="rgb(84,84,84)"/>
<ellipse cx="-3" cy="26" rx="8" ry="4" fill="rgb(13,13,13)"/>
<ellipse cx="17" cy="23" rx="7" ry="5" fill="rgb(26,26,26)"/>
</g></g>
<path d="M-26.3,-14.9l2.6,2.6M-26.3,-12.3l2.6,-2.6M-25.6,12.2l2.6,2.6M-25.6,14.8l2.6,-2.6M-25.6,18.5l2.6,2.6M-25.6,21.1l2.6,-2.6M22.2,-18.8l2.6,2.6M22.2,-16.2l2.6,-2.6M22.7,-14.3l2.6,2.6M22.7,-11.7l2.6,-2.6M22.2,12.2l2.6,2.6M22.2,14.8l2.6,-2.6M23.5,18.5l2.6,2.6M23.5,21.1l2.6,-2.6M-1.3,-21.3l2.6,2.6M-1.3,-18.7l2.6,-2.6M6.1,-16.3l2.6,2.6M6.1,-13.7l2.6,-2.6M9.7,-22.3l2.6,2.6M9.7,-19.7l2.6,-2.6M-18.0,-7.7l2.6,2.6M-18.0,-5.1l2.6,-2.6M-11.8,-1.3l2.6,2.6M-11.8,1.3l2.6,-2.6M14.1,-28.6l2.6,2.6M14.1,-26.0l2.6,-2.6M-9.7,1.9l2.6,2.6M-9.7,4.5l2.6,-2.6M-7.8,7.2l2.6,2.6M-7.8,9.8l2.6,-2.6M-12.8,6.1l2.6,2.6M-12.8,8.7l2.6,-2.6M-7.3,11.8l2.6,2.6M-7.3,14.4l2.6,-2.6M-13.2,10.6l2.6,2.6M-13.2,13.2l2.6,-2.6M-18.6,6.9l2.6,2.6M-18.6,9.5l2.6,-2.6M-11.7,15.0l2.6,2.6M-11.7,17.6l2.6,-2.6M-18.4,11.7l2.6,2.6M-18.4,14.3l2.6,-2.6" stroke="#000" stroke-width="0.6" fill="none" opacity="0.85"/>
<circle cx="-24" cy="-17.5" r="0.75" fill="#000"/>
<circle cx="-11" cy="-7.7" r="0.75" fill="#000"/>
<circle cx="-13" cy="-2.7" r="0.75" fill="#000"/>
<circle cx="-3" cy="-9.4" r="0.75" fill="#000"/>
<circle cx="16" cy="-6.4" r="0.75" fill="#000"/>
<circle cx="6.2" cy="2.8" r="0.75" fill="#000"/>
<circle cx="3" cy="9.6" r="0.75" fill="#000"/>
<circle cx="-13.5" cy="6.5" r="0.75" fill="#000"/>
<circle cx="-0.6" cy="12" r="0.75" fill="#000"/>
<circle cx="-3" cy="17" r="0.75" fill="#000"/>
<circle cx="17.9" cy="20" r="0.75" fill="#000"/>
<circle cx="-11.7" cy="24.4" r="0.75" fill="#000"/>
<circle cx="-16" cy="27" r="0.75" fill="#000"/>
<circle cx="29" cy="12" r="0.75" fill="#000"/>
<circle r="21.4" fill="none" stroke="#000" stroke-width="1.75"/>
<path d="M-4.2,-20.9Q-2.2,-23.3 -1.2,-24.5Q0,-25.8 1.2,-24.5Q2.2,-23.3 4.2,-20.9" fill="none" stroke="#000" stroke-width="1.6" stroke-linejoin="round"/>
<path d="M-20.8,-5.4C-22.5,-6.2 -24,-5.8 -24,-4L-24.3,4.5C-24.3,6.6 -22.5,7 -20.5,6.3" fill="none" stroke="#000" stroke-width="1.45"/>
<path d="M20.8,-5.4C22.5,-6.2 24,-5.8 24,-4L24.3,4.5C24.3,6.6 22.5,7 20.5,6.3" fill="none" stroke="#000" stroke-width="1.45"/>
</g>
<g transform="translate(278.30,420.40)">
<circle r="37.2" fill="#ebf2fc"/>
<g clip-path="url(#mapclip)"><g filter="url(#cmap)">
<rect x="-45" y="-45" width="90" height="90" fill="rgb(115,115,115)"/>
<ellipse cx="-27" cy="-3" rx="7" ry="20" fill="rgb(46,46,46)"/>
<ellipse cx="-15" cy="-1" rx="6" ry="11" fill="rgb(64,64,64)"/>
<ellipse cx="27" cy="-3" rx="7" ry="17" fill="rgb(43,43,43)"/>
<ellipse cx="15" cy="4" rx="5" ry="10" fill="rgb(71,71,71)"/>
<ellipse cx="-21" cy="-22" rx="7" ry="5" fill="rgb(82,82,82)"/>
<ellipse cx="0" cy="-27" rx="14" ry="5" fill="rgb(120,120,120)"/>
<ellipse cx="22" cy="-21" rx="6" ry="6" fill="rgb(107,107,107)"/>
<ellipse cx="0" cy="-16" rx="12" ry="5" fill="rgb(158,158,158)"/>
<ellipse cx="-2" cy="3" rx="9" ry="16" fill="rgb(163,163,163)"/>
<ellipse cx="-3" cy="25" rx="17" ry="6" fill="rgb(166,166,166)"/>
<ellipse cx="20" cy="21" rx="5" ry="4" fill="rgb(107,107,107)"/>
<ellipse cx="-26" cy="16" rx="5" ry="5" fill="rgb(71,71,71)"/>
<ellipse cx="-3" cy="-3" rx="9" ry="11" fill="rgb(204,204,204)"/>
<ellipse cx="-4" cy="-4" rx="5" ry="5" fill="rgb(255,255,255)"/>
</g></g>
<path d="M0.8,-1.3l2.6,2.6M0.8,1.3l2.6,-2.6M-4.0,0.9l2.6,2.6M-4.0,3.5l2.6,-2.6M-0.9,-5.6l2.6,2.6M-0.9,-3.0l2.6,-2.6M2.1,2.7l2.6,2.6M2.1,5.3l2.6,-2.6M-7.5,-2.3l2.6,2.6M-7.5,0.3l2.6,-2.6M4.5,-4.7l2.6,2.6M4.5,-2.1l2.6,-2.6M-3.2,5.4l2.6,2.6M-3.2,8.0l2.6,-2.6M-5.0,-7.9l2.6,2.6M-5.0,-5.3l2.6,-2.6M6.8,1.4l2.6,2.6M6.8,4.0l2.6,-2.6M-9.7,1.9l2.6,2.6M-9.7,4.5l2.6,-2.6M2.7,-9.3l2.6,2.6M2.7,-6.7l2.6,-2.6M1.7,7.5l2.6,2.6M1.7,10.1l2.6,-2.6M-10.3,-6.1l2.6,2.6M-10.3,-3.5l2.6,-2.6M9.3,-3.4l2.6,2.6M9.3,-0.8l2.6,-2.6M-7.8,7.2l2.6,2.6M-7.8,9.8l2.6,-2.6M-2.8,-11.9l2.6,2.6M-2.8,-9.3l2.6,-2.6M7.8,5.8l2.6,2.6M7.8,8.4l2.6,-2.6M-13.6,-0.8l2.6,2.6M-13.6,1.8l2.6,-2.6M7.7,-9.5l2.6,2.6M7.7,-6.9l2.6,-2.6M-1.9,10.7l2.6,2.6M-1.9,13.3l2.6,-2.6M-9.8,-10.7l2.6,2.6M-9.8,-8.1l2.6,-2.6M12.2,0.4l2.6,2.6M12.2,3.0l2.6,-2.6M-12.8,6.1l2.6,2.6M-12.8,8.7l2.6,-2.6M1.8,-14.1l2.6,2.6M1.8,-11.5l2.6,-2.6M5.9,10.4l2.6,2.6M5.9,13.0l2.6,-2.6M-15.5,-5.5l2.6,2.6M-15.5,-2.9l2.6,-2.6M12.5,-7.2l2.6,2.6M12.5,-4.6l2.6,-2.6M-7.3,11.8l2.6,2.6M-7.3,14.4l2.6,-2.6M-6.6,-14.9l2.6,2.6M-6.6,-12.3l2.6,-2.6M12.9,5.6l2.6,2.6M12.9,8.2l2.6,-2.6M-17.0,2.5l2.6,2.6M-17.0,5.1l2.6,-2.6M7.6,-14.1l2.6,2.6M7.6,-11.5l2.6,-2.6M1.5,14.0l2.6,2.6M1.5,16.6l2.6,-2.6M-14.8,-10.9l2.6,2.6M-14.8,-8.3l2.6,-2.6M15.9,-2.6l2.6,2.6M15.9,-0.0l2.6,-2.6M-13.2,10.6l2.6,2.6M-13.2,13.2l2.6,-2.6M-1.2,-17.7l2.6,2.6M-1.2,-15.1l2.6,-2.6M10.8,11.0l2.6,2.6M10.8,13.6l2.6,-2.6M-19.5,-2.9l2.6,2.6M-19.5,-0.3l2.6,-2.6M13.4,-11.6l2.6,2.6M13.4,-9.0l2.6,-2.6M-4.7,15.7l2.6,2.6M-4.7,18.3l2.6,-2.6M-11.4,-16.1l2.6,2.6M-11.4,-13.5l2.6,-2.6M17.2,3.4l2.6,2.6M17.2,6.0l2.6,-2.6M-18.6,6.9l2.6,2.6M-18.6,9.5l2.6,-2.6M5.5,-18.3l2.6,2.6M5.5,-15.7l2.6,-2.6M6.2,15.7l2.6,2.6M6.2,18.3l2.6,-2.6M-19.5,-9.2l2.6,2.6M-19.5,-6.6l2.6,-2.6M18.1,-6.8l2.6,2.6M18.1,-4.2l2.6,-2.6M-11.7,15.0l2.6,2.6M-11.7,17.6l2.6,-2.6M-5.7,-20.0l2.6,2.6M-5.7,-17.4l2.6,-2.6M15.8,9.9l2.6,2.6M15.8,12.5l2.6,-2.6M-22.3,1.1l2.6,2.6M-22.3,3.7l2.6,-2.6M12.5,-16.3l2.6,2.6M12.5,-13.7l2.6,-2.6M-0.5,18.6l2.6,2.6M-0.5,21.2l2.6,-2.6M-16.6,-15.6l2.6,2.6M-16.6,-13.0l2.6,-2.6M20.6,-0.3l2.6,2.6M20.6,2.3l2.6,-2.6M-18.4,11.7l2.6,2.6M-18.4,14.3l2.6,-2.6M1.8,-21.7l2.6,2.6M1.8,-19.1l2.6,-2.6M11.5,15.8l2.6,2.6M11.5,18.4l2.6,-2.6M-23.4,-6.0l2.6,2.6M-23.4,-3.4l2.6,-2.6M18.6,-11.7l2.6,2.6M18.6,-9.1l2.6,-2.6M-8.4,19.0l2.6,2.6M-8.4,21.6l2.6,-2.6M-11.0,-20.8l2.6,2.6M-11.0,-18.2l2.6,-2.6M20.3,7.2l2.6,2.6M20.3,9.8l2.6,-2.6M-23.6,6.0l2.6,2.6M-23.6,8.6l2.6,-2.6M9.9,-20.7l2.6,2.6M9.9,-18.1l2.6,-2.6M4.7,20.1l2.6,2.6M4.7,22.7l2.6,-2.6M-21.6,-13.5l2.6,2.6M-21.6,-10.9l2.6,-2.6M22.7,-5.0l2.6,2.6M22.7,-2.4l2.6,-2.6M-16.4,16.5l2.6,2.6M-16.4,19.1l2.6,-2.6M-3.2,-24.0l2.6,2.6M-3.2,-21.4l2.6,-2.6M16.9,14.4l2.6,2.6M16.9,17.0l2.6,-2.6M-26.4,-1.5l2.6,2.6M-26.4,1.1l2.6,-2.6M17.5,-16.9l2.6,2.6M17.5,-14.3l2.6,-2.6M-3.8,22.0l2.6,2.6M-3.8,24.6l2.6,-2.6M-16.7,-20.2l2.6,2.6M-16.7,-17.6l2.6,-2.6M24.0,3.1l2.6,2.6M24.0,5.7l2.6,-2.6M-23.3,11.3l2.6,2.6M-23.3,13.9l2.6,-2.6M5.7,-24.5l2.6,2.6M5.7,-21.9l2.6,-2.6M10.6,20.3l2.6,2.6M10.6,22.9l2.6,-2.6M-26.0,-9.9l2.6,2.6M-26.0,-7.3l2.6,-2.6M23.4,-10.4l2.6,2.6M23.4,-7.8l2.6,-2.6M-12.9,20.9l2.6,2.6M-12.9,23.5l2.6,-2.6M-9.1,-25.0l2.6,2.6M-9.1,-22.4l2.6,-2.6M22.0,11.4l2.6,2.6M22.0,14.0l2.6,-2.6M-28.0,3.9l2.6,2.6M-28.0,6.5l2.6,-2.6M14.7,-21.8l2.6,2.6M14.7,-19.2l2.6,-2.6M2.0,23.9l2.6,2.6M2.0,26.5l2.6,-2.6M-22.3,-18.0l2.6,2.6M-22.3,-15.4l2.6,-2.6M26.6,-2.1l2.6,2.6M26.6,0.5l2.6,-2.6M-21.4,16.7l2.6,2.6M-21.4,19.3l2.6,-2.6M0.3,-27.2l2.6,2.6M0.3,-24.6l2.6,-2.6M16.6,18.9l2.6,2.6M16.6,21.5l2.6,-2.6M-29.5,-5.1l2.6,2.6M-29.5,-2.5l2.6,-2.6M22.4,-16.2l2.6,2.6M22.4,-13.6l2.6,-2.6M-7.9,24.5l2.6,2.6M-7.9,27.1l2.6,-2.6M-15.4,-24.6l2.6,2.6M-15.4,-22.0l2.6,-2.6M26.3,7.1l2.6,2.6M26.3,9.7l2.6,-2.6M-28.0,9.8l2.6,2.6M-28.0,12.4l2.6,-2.6M10.3,-26.2l2.6,2.6M10.3,-23.6l2.6,-2.6M8.4,24.4l2.6,2.6M8.4,27.0l2.6,-2.6M-27.4,-14.3l2.6,2.6M-27.4,-11.7l2.6,-2.6M27.6,-8.0l2.6,2.6M27.6,-5.4l2.6,-2.6M-17.8,21.8l2.6,2.6M-17.8,24.4l2.6,-2.6M-6.1,-28.7l2.6,2.6M-6.1,-26.1l2.6,-2.6M22.4,16.0l2.6,2.6M22.4,18.6l2.6,-2.6M-31.6,0.7l2.6,2.6M-31.6,3.3l2.6,-2.6M19.7,-21.8l2.6,2.6M19.7,-19.2l2.6,-2.6M-1.7,27.0l2.6,2.6M-1.7,29.6l2.6,-2.6M-21.8,-22.5l2.6,2.6M-21.8,-19.9l2.6,-2.6M29.5,1.6l2.6,2.6M29.5,4.2l2.6,-2.6M-26.3,15.8l2.6,2.6M-26.3,18.4l2.6,-2.6M4.6,-29.6l2.6,2.6M4.6,-27.0l2.6,-2.6M15.2,23.3l2.6,2.6M15.2,25.9l2.6,-2.6M-31.6,-9.3l2.6,2.6M-31.6,-6.7l2.6,-2.6M27.0,-14.4l2.6,2.6M27.0,-11.8l2.6,-2.6M-12.6,26.1l2.6,2.6M-12.6,28.7l2.6,-2.6M-13.1,-28.7l2.6,2.6M-13.1,-26.1l2.6,-2.6" stroke="#000" stroke-width="0.6" fill="none" opacity="0.85"/>
<circle r="21.4" fill="none" stroke="#000" stroke-width="1.75"/>
<path d="M-4.2,-20.9Q-2.2,-23.3 -1.2,-24.5Q0,-25.8 1.2,-24.5Q2.2,-23.3 4.2,-20.9" fill="none" stroke="#000" stroke-width="1.6" stroke-linejoin="round"/>
<path d="M-20.8,-5.4C-22.5,-6.2 -24,-5.8 -24,-4L-24.3,4.5C-24.3,6.6 -22.5,7 -20.5,6.3" fill="none" stroke="#000" stroke-width="1.45"/>
<path d="M20.8,-5.4C22.5,-6.2 24,-5.8 24,-4L24.3,4.5C24.3,6.6 22.5,7 20.5,6.3" fill="none" stroke="#000" stroke-width="1.45"/>
</g>
<text x="180.7" y="420.8" font-size="13" font-weight="bold" text-anchor="middle" fill="#000" >Structured</text>
<rect x="360.3" y="0.6" width="346.9" height="580.7" rx="9" ry="9" fill="#fff" stroke="#555" stroke-width="1.2"/>
<path d="M369.3,0.6H698.2" stroke="#fff" stroke-width="1.3"/><path d="M369.3,0.6H698.2" stroke="#999" stroke-width="1.3"/>
<clipPath id="cI0"><rect x="403.5" y="61.60000000000001" width="273.1" height="110.8"/></clipPath>
<path d="M433.8,61.6V172.4M484.4,61.6V172.4M535.0,61.6V172.4M636.1,61.6V172.4M403.5,144.7H676.6M403.5,117.0H676.6M403.5,89.3H676.6" stroke="#e7e7e7" stroke-width="0.8" fill="none"/>
<g clip-path="url(#cI0)"><g transform="translate(403.50,144.70) scale(10.1148,-0.2770)" fill="none" stroke="#d4d4d4" stroke-width="0.55" stroke-linejoin="round">
<polyline vector-effect="non-scaling-stroke" points="0,-6 1,40 2,0 3,5 4,30 5,-64 6,18 7,3 8,37 9,38 10,20 11,39 12,18 13,7 14,84 15,51 16,4 17,5 18,16 19,15 20,19 21,17 22,18 23,5 24,14 25,-8 26,5 27,4"/>
<polyline vector-effect="non-scaling-stroke" points="0,11 1,20 2,-4 3,-42 4,17 5,17 6,63 7,1 8,6 9,27 10,25 11,24 12,23 13,-26 14,66 15,8 16,5 17,63 18,55 19,31 20,33 21,45 22,14 23,44 24,41 25,6 26,-13 27,-5"/>
<polyline vector-effect="non-scaling-stroke" points="0,14 1,33 2,-16 3,-19 4,30 5,17 6,-25 7,20 8,4 9,26 10,12 11,8 12,12 13,-67 14,87 15,55 16,13 17,18 18,31 19,49 20,44 21,20 22,-9 23,26 24,-1 25,34 26,-17 27,7"/>
<polyline vector-effect="non-scaling-stroke" points="0,-3 1,-19 2,3 3,-52 4,-14 5,-19 6,41 7,21 8,-8 9,31 10,10 11,-4 12,5 13,-3 14,19 15,31 16,-17 17,16 18,4 19,9 20,17 21,-3 22,6 23,24 24,23 25,17 26,59 27,7"/>
<polyline vector-effect="non-scaling-stroke" points="0,7 1,-5 2,-25 3,-20 4,33 5,4 6,33 7,31 8,-6 9,17 10,24 11,45 12,-42 13,33 14,46 15,70 16,8 17,63 18,12 19,7 20,25 21,-1 22,1 23,29 24,-21 25,20 26,-19 27,18"/>
<polyline vector-effect="non-scaling-stroke" points="0,-8 1,-24 2,-31 3,-40 4,-38 5,-22 6,21 7,62 8,-8 9,11 10,36 11,54 12,-8 13,33 14,35 15,39 16,-22 17,-2 18,28 19,49 20,6 21,40 22,37 23,-15 24,-14 25,41 26,33 27,16"/>
<polyline vector-effect="non-scaling-stroke" points="0,-7 1,11 2,-24 3,18 4,-12 5,-53 6,24 7,71 8,-6 9,14 10,-23 11,8 12,-18 13,-28 14,-55 15,11 16,24 17,30 18,20 19,49 20,-1 21,-6 22,17 23,-13 24,8 25,35 26,-18 27,-6"/>
<polyline vector-effect="non-scaling-stroke" points="0,12 1,-44 2,-30 3,-29 4,1 5,-37 6,54 7,5 8,6 9,2 10,-9 11,-36 12,15 13,-18 14,32 15,-14 16,-16 17,39 18,11 19,-21 20,3 21,-17 22,5 23,-38 24,-1 25,34 26,27 27,19"/>
<polyline vector-effect="non-scaling-stroke" points="0,-12 1,11 2,-18 3,-27 4,16 5,-64 6,47 7,47 8,25 9,-1 10,25 11,27 12,-39 13,-47 14,5 15,12 16,-1 17,15 18,55 19,-41 20,-12 21,-3 22,-13 23,6 24,3 25,-15 26,24 27,36"/>
<polyline vector-effect="non-scaling-stroke" points="0,9 1,51 2,7 3,-26 4,56 5,8 6,71 7,28 8,-39 9,-6 10,12 11,29 12,1 13,38 14,-38 15,11 16,13 17,38 18,21 19,34 20,31 21,1 22,15 23,-21 24,4 25,23 26,-32 27,42"/>
<polyline vector-effect="non-scaling-stroke" points="0,28 1,38 2,19 3,20 4,36 5,37 6,58 7,18 8,10 9,27 10,58 11,43 12,41 13,24 14,-7 15,98 16,36 17,78 18,38 19,51 20,11 21,31 22,3 23,53 24,29 25,27 26,23 27,-3"/>
<polyline vector-effect="non-scaling-stroke" points="0,-13 1,40 2,-11 3,4 4,6 5,-2 6,20 7,37 8,30 9,-17 10,34 11,41 12,12 13,21 14,7 15,58 16,5 17,19 18,31 19,32 20,25 21,23 22,20 23,16 24,1 25,-19 26,19 27,37"/>
<polyline vector-effect="non-scaling-stroke" points="0,-13 1,-32 2,1 3,-25 4,18 5,0 6,38 7,29 8,-14 9,48 10,5 11,-11 12,7 13,40 14,-52 15,62 16,-6 17,93 18,32 19,-2 20,31 21,37 22,3 23,23 24,-11 25,30 26,-26 27,2"/>
<polyline vector-effect="non-scaling-stroke" points="0,-31 1,26 2,-42 3,-38 4,34 5,-5 6,24 7,19 8,8 9,-8 10,27 11,47 12,27 13,21 14,59 15,55 16,20 17,62 18,31 19,-3 20,-27 21,36 22,17 23,74 24,-30 25,41 26,2 27,19"/>
<polyline vector-effect="non-scaling-stroke" points="0,-22 1,2 2,-15 3,-13 4,17 5,-1 6,51 7,44 8,1 9,38 10,0 11,20 12,-4 13,-18 14,-82 15,44 16,-24 17,53 18,58 19,-32 20,24 21,11 22,16 23,-13 24,1 25,14 26,45 27,49"/>
<polyline vector-effect="non-scaling-stroke" points="0,7 1,4 2,28 3,-17 4,30 5,8 6,50 7,70 8,8 9,27 10,67 11,71 12,24 13,34 14,15 15,73 16,0 17,58 18,22 19,3 20,23 21,27 22,11 23,32 24,17 25,18 26,13 27,19"/>
<polyline vector-effect="non-scaling-stroke" points="0,10 1,39 2,-1 3,-22 4,28 5,43 6,58 7,20 8,16 9,17 10,10 11,-19 12,14 13,-19 14,-1 15,83 16,20 17,23 18,4 19,-7 20,-13 21,7 22,15 23,6 24,28 25,23 26,13 27,54"/>
<polyline vector-effect="non-scaling-stroke" points="0,24 1,41 2,28 3,21 4,37 5,33 6,52 7,38 8,58 9,65 10,15 11,67 12,4 13,83 14,53 15,65 16,36 17,84 18,50 19,57 20,34 21,59 22,35 23,73 24,47 25,61 26,28 27,61"/>
<polyline vector-effect="non-scaling-stroke" points="0,-15 1,32 2,-30 3,-41 4,1 5,7 6,-1 7,32 8,-37 9,-1 10,1 11,-2 12,-41 13,9 14,-49 15,70 16,-13 17,90 18,23 19,3 20,-5 21,5 22,11 23,-38 24,14 25,-22 26,-5 27,-45"/>
<polyline vector-effect="non-scaling-stroke" points="0,1 1,19 2,-6 3,-19 4,10 5,-3 6,55 7,22 8,19 9,33 10,2 11,22 12,10 13,-6 14,85 15,19 16,25 17,70 18,-35 19,10 20,31 21,32 22,-4 23,27 24,-22 25,-8 26,9 27,14"/>
<polyline vector-effect="non-scaling-stroke" points="0,16 1,8 2,6 3,-50 4,-9 5,-19 6,68 7,-6 8,-27 9,17 10,37 11,-32 12,1 13,-34 14,52 15,50 16,3 17,35 18,13 19,7 20,1 21,-1 22,-8 23,21 24,-14 25,33 26,-42 27,21"/>
<polyline vector-effect="non-scaling-stroke" points="0,5 1,36 2,-11 3,-52 4,1 5,22 6,21 7,28 8,0 9,21 10,7 11,-24 12,-2 13,45 14,59 15,34 16,-6 17,85 18,20 19,-19 20,15 21,33 22,39 23,13 24,19 25,12 26,48 27,19"/>
<polyline vector-effect="non-scaling-stroke" points="0,4 1,-18 2,-9 3,-23 4,-38 5,21 6,34 7,41 8,9 9,27 10,24 11,-11 12,15 13,25 14,18 15,0 16,3 17,8 18,38 19,42 20,34 21,18 22,9 23,17 24,19 25,9 26,11 27,-39"/>
<polyline vector-effect="non-scaling-stroke" points="0,-25 1,-38 2,-28 3,-11 4,-24 5,-50 6,28 7,-9 8,-5 9,13 10,-4 11,-20 12,14 13,41 14,-49 15,10 16,6 17,15 18,-20 19,-17 20,20 21,-12 22,8 23,19 24,-20 25,18 26,20 27,21"/>
<polyline vector-effect="non-scaling-stroke" points="0,3 1,-55 2,-2 3,-20 4,33 5,-35 6,39 7,36 8,-25 9,37 10,-22 11,-23 12,7 13,-21 14,5 15,15 16,-2 17,52 18,9 19,16 20,22 21,-6 22,20 23,27 24,0 25,31 26,48 27,19"/>
<polyline vector-effect="non-scaling-stroke" points="0,-25 1,16 2,-9 3,-27 4,30 5,-10 6,70 7,48 8,13 9,37 10,33 11,51 12,21 13,14 14,15 15,-26 16,-23 17,75 18,16 19,48 20,46 21,-4 22,20 23,76 24,-9 25,27 26,14 27,9"/>
<polyline vector-effect="non-scaling-stroke" points="0,-1 1,13 2,10 3,-31 4,41 5,-11 6,51 7,59 8,3 9,32 10,3 11,6 12,36 13,-32 14,41 15,65 16,-2 17,87 18,55 19,-14 20,31 21,35 22,8 23,46 24,30 25,11 26,-24 27,29"/>
<polyline vector-effect="non-scaling-stroke" points="0,-24 1,-67 2,-27 3,-75 4,-2 5,15 6,-42 7,33 8,-24 9,-1 10,-30 11,18 12,-5 13,-32 14,-62 15,4 16,9 17,-21 18,16 19,0 20,-31 21,28 22,2 23,59 24,29 25,-2 26,-3 27,-25"/>
<polyline vector-effect="non-scaling-stroke" points="0,-38 1,0 2,-28 3,-49 4,-3 5,-8 6,30 7,13 8,-12 9,6 10,41 11,-53 12,-32 13,1 14,-17 15,45 16,8 17,76 18,-22 19,2 20,-5 21,21 22,2 23,24 24,-29 25,3 26,-18 27,-13"/>
<polyline vector-effect="non-scaling-stroke" points="0,-2 1,-13 2,17 3,-8 4,56 5,-16 6,-13 7,34 8,18 9,46 10,50 11,64 12,45 13,50 14,29 15,28 16,19 17,41 18,14 19,31 20,28 21,44 22,10 23,61 24,24 25,25 26,12 27,-1"/>
<polyline vector-effect="non-scaling-stroke" points="0,-19 1,49 2,-27 3,-4 4,24 5,-9 6,24 7,46 8,36 9,39 10,20 11,-11 12,-21 13,80 14,-16 15,-1 16,23 17,3 18,49 19,35 20,26 21,43 22,-5 23,2 24,10 25,25 26,25 27,30"/>
<polyline vector-effect="non-scaling-stroke" points="0,-7 1,-47 2,5 3,-18 4,49 5,47 6,42 7,69 8,2 9,47 10,31 11,38 12,33 13,-8 14,43 15,60 16,32 17,-4 18,32 19,58 20,17 21,20 22,49 23,76 24,19 25,13 26,15 27,14"/>
<polyline vector-effect="non-scaling-stroke" points="0,-25 1,-38 2,-15 3,-33 4,20 5,-17 6,-22 7,44 8,4 9,-3 10,-11 11,12 12,-1 13,-9 14,15 15,49 16,-14 17,22 18,-23 19,-10 20,14 21,25 22,7 23,8 24,-22 25,10 26,-26 27,3"/>
<polyline vector-effect="non-scaling-stroke" points="0,-5 1,-30 2,-6 3,-31 4,31 5,-20 6,35 7,78 8,11 9,33 10,-11 11,3 12,-33 13,3 14,-39 15,33 16,-38 17,6 18,20 19,12 20,-19 21,8 22,50 23,37 24,7 25,-38 26,-11 27,20"/>
<polyline vector-effect="non-scaling-stroke" points="0,1 1,15 2,7 3,-20 4,41 5,-46 6,87 7,31 8,-3 9,50 10,27 11,45 12,-3 13,23 14,33 15,3 16,-2 17,34 18,16 19,-9 20,-7 21,28 22,18 23,50 24,6 25,4 26,-20 27,15"/>
<polyline vector-effect="non-scaling-stroke" points="0,-6 1,60 2,28 3,9 4,3 5,-34 6,25 7,15 8,42 9,26 10,4 11,22 12,33 13,-13 14,29 15,0 16,0 17,24 18,34 19,13 20,38 21,34 22,5 23,-6 24,-8 25,12 26,16 27,-2"/>
<polyline vector-effect="non-scaling-stroke" points="0,9 1,23 2,-16 3,-36 4,13 5,-8 6,23 7,-16 8,-2 9,-21 10,9 11,32 12,-16 13,14 14,-19 15,10 16,28 17,64 18,31 19,-7 20,20 21,13 22,18 23,-2 24,2 25,6 26,-24 27,45"/>
<polyline vector-effect="non-scaling-stroke" points="0,6 1,-24 2,-37 3,-40 4,-1 5,-21 6,-18 7,10 8,10 9,27 10,-45 11,15 12,-14 13,-24 14,-8 15,12 16,10 17,59 18,11 19,-11 20,43 21,51 22,18 23,17 24,25 25,45 26,1 27,48"/>
<polyline vector-effect="non-scaling-stroke" points="0,0 1,43 2,-10 3,-14 4,21 5,6 6,64 7,24 8,13 9,39 10,10 11,80 12,-13 13,83 14,-1 15,73 16,32 17,70 18,-5 19,9 20,24 21,37 22,36 23,58 24,45 25,6 26,53 27,-19"/>
<polyline vector-effect="non-scaling-stroke" points="0,-5 1,-39 2,-46 3,-11 4,14 5,11 6,-26 7,-9 8,2 9,1 10,5 11,-8 12,-5 13,-34 14,42 15,17 16,-25 17,53 18,27 19,5 20,14 21,5 22,6 23,-38 24,-35 25,-17 26,18 27,32"/>
<polyline vector-effect="non-scaling-stroke" points="0,-11 1,-17 2,4 3,-38 4,28 5,-2 6,-20 7,37 8,8 9,-11 10,-27 11,-29 12,27 13,66 14,20 15,68 16,-29 17,74 18,63 19,35 20,-9 21,33 22,5 23,40 24,-16 25,10 26,-7 27,15"/>
<polyline vector-effect="non-scaling-stroke" points="0,-9 1,24 2,0 3,-20 4,14 5,-19 6,19 7,52 8,7 9,21 10,2 11,8 12,-11 13,-58 14,17 15,42 16,-21 17,92 18,-18 19,23 20,15 21,20 22,27 23,38 24,1 25,-13 26,-23 27,10"/>
<polyline vector-effect="non-scaling-stroke" points="0,14 1,17 2,-15 3,-23 4,29 5,27 6,-4 7,50 8,10 9,-2 10,-26 11,43 12,8 13,-5 14,-1 15,53 16,-3 17,81 18,6 19,-20 20,7 21,-7 22,1 23,44 24,35 25,24 26,15 27,-17"/>
<polyline vector-effect="non-scaling-stroke" points="0,-19 1,12 2,-6 3,-35 4,10 5,30 6,53 7,40 8,15 9,45 10,20 11,24 12,-25 13,-43 14,-63 15,-33 16,1 17,51 18,-2 19,16 20,23 21,17 22,-14 23,56 24,35 25,4 26,67 27,13"/>
<polyline vector-effect="non-scaling-stroke" points="0,-18 1,-16 2,-46 3,-34 4,-22 5,17 6,31 7,-11 8,19 9,-20 10,11 11,26 12,6 13,-30 14,-3 15,24 16,-1 17,82 18,60 19,38 20,0 21,0 22,11 23,29 24,-45 25,0 26,59 27,-21"/>
<polyline vector-effect="non-scaling-stroke" points="0,-20 1,-28 2,-5 3,-30 4,6 5,-49 6,35 7,29 8,-11 9,16 10,24 11,-34 12,-30 13,-30 14,-35 15,-38 16,-15 17,66 18,5 19,23 20,-31 21,11 22,31 23,53 24,-11 25,-8 26,20 27,-23"/>
<polyline vector-effect="non-scaling-stroke" points="0,0 1,-30 2,3 3,-11 4,71 5,18 6,26 7,53 8,-5 9,34 10,21 11,46 12,36 13,-33 14,40 15,72 16,-9 17,113 18,19 19,58 20,39 21,48 22,28 23,61 24,-3 25,13 26,-19 27,37"/>
<polyline vector-effect="non-scaling-stroke" points="0,-13 1,24 2,2 3,-50 4,38 5,3 6,34 7,54 8,12 9,23 10,39 11,-9 12,-15 13,-10 14,46 15,27 16,31 17,-42 18,4 19,-2 20,21 21,45 22,11 23,-1 24,25 25,51 26,-49 27,26"/>
<polyline vector-effect="non-scaling-stroke" points="0,-2 1,-31 2,-22 3,-22 4,16 5,-16 6,-13 7,40 8,-10 9,18 10,-12 11,17 12,17 13,13 14,22 15,-14 16,4 17,42 18,-2 19,-3 20,-31 21,16 22,2 23,-38 24,12 25,-3 26,19 27,1"/>
<polyline vector-effect="non-scaling-stroke" points="0,11 1,19 2,-5 3,-3 4,51 5,-47 6,42 7,36 8,-2 9,56 10,49 11,3 12,-4 13,54 14,4 15,40 16,-25 17,53 18,64 19,8 20,22 21,61 22,36 23,68 24,31 25,53 26,-13 27,6"/>
<polyline vector-effect="non-scaling-stroke" points="0,-35 1,53 2,-12 3,-33 4,-6 5,-38 6,-42 7,93 8,1 9,15 10,-38 11,6 12,9 13,-1 14,17 15,-1 16,0 17,57 18,27 19,7 20,7 21,-9 22,17 23,5 24,-23 25,26 26,-36 27,-9"/>
<polyline vector-effect="non-scaling-stroke" points="0,6 1,25 2,-17 3,-23 4,31 5,-8 6,3 7,48 8,12 9,22 10,37 11,24 12,-3 13,15 14,72 15,11 16,-5 17,10 18,29 19,-26 20,22 21,31 22,-2 23,0 24,-29 25,17 26,-15 27,-4"/>
<polyline vector-effect="non-scaling-stroke" points="0,-12 1,-23 2,3 3,5 4,-34 5,-27 6,30 7,1 8,-5 9,23 10,43 11,46 12,-1 13,13 14,-11 15,26 16,-22 17,-24 18,8 19,26 20,26 21,-22 22,8 23,4 24,10 25,-10 26,38 27,4"/>
<polyline vector-effect="non-scaling-stroke" points="0,0 1,16 2,-51 3,-35 4,47 5,-12 6,45 7,40 8,-9 9,20 10,28 11,43 12,28 13,-36 14,24 15,-17 16,-8 17,21 18,29 19,6 20,30 21,-1 22,21 23,24 24,-1 25,-18 26,23 27,11"/>
<polyline vector-effect="non-scaling-stroke" points="0,4 1,-7 2,-18 3,-21 4,26 5,5 6,69 7,10 8,46 9,-31 10,28 11,-14 12,40 13,-25 14,35 15,-3 16,-24 17,57 18,37 19,-17 20,51 21,7 22,34 23,-9 24,-21 25,14 26,-17 27,16"/>
<polyline vector-effect="non-scaling-stroke" points="0,-38 1,5 2,-19 3,-44 4,25 5,-10 6,13 7,61 8,16 9,28 10,43 11,15 12,23 13,-2 14,27 15,48 16,-9 17,-12 18,-14 19,-17 20,24 21,16 22,7 23,33 24,21 25,45 26,1 27,23"/>
<polyline vector-effect="non-scaling-stroke" points="0,-4 1,-50 2,-20 3,-59 4,-3 5,-13 6,-42 7,-14 8,-26 9,7 10,-31 11,6 12,-26 13,-30 14,1 15,21 16,-10 17,13 18,28 19,20 20,-6 21,-12 22,-20 23,45 24,-32 25,-30 26,4 27,18"/>
<polyline vector-effect="non-scaling-stroke" points="0,-27 1,-10 2,-40 3,-43 4,51 5,-7 6,12 7,32 8,11 9,13 10,-29 11,-24 12,40 13,-21 14,39 15,5 16,17 17,54 18,9 19,45 20,-7 21,9 22,-7 23,-3 24,-8 25,-10 26,2 27,40"/>
<polyline vector-effect="non-scaling-stroke" points="0,-30 1,-34 2,-25 3,-32 4,44 5,13 6,41 7,45 8,58 9,-2 10,-19 11,19 12,13 13,7 14,-22 15,-3 16,-3 17,18 18,10 19,-19 20,39 21,28 22,43 23,12 24,9 25,13 26,20 27,7"/>
<polyline vector-effect="non-scaling-stroke" points="0,-5 1,-55 2,-12 3,-9 4,-25 5,-11 6,43 7,76 8,10 9,31 10,56 11,54 12,0 13,-5 14,44 15,42 16,-8 17,35 18,31 19,3 20,12 21,16 22,-13 23,64 24,33 25,50 26,16 27,16"/>
<polyline vector-effect="non-scaling-stroke" points="0,5 1,26 2,-41 3,-15 4,-1 5,-4 6,10 7,89 8,23 9,22 10,48 11,18 12,-5 13,9 14,-3 15,38 16,15 17,39 18,22 19,31 20,21 21,37 22,17 23,-8 24,-17 25,-19 26,48 27,22"/>
<polyline vector-effect="non-scaling-stroke" points="0,5 1,4 2,14 3,-5 4,52 5,1 6,26 7,105 8,13 9,41 10,69 11,-4 12,40 13,47 14,39 15,71 16,-1 17,1 18,80 19,24 20,48 21,58 22,35 23,58 24,43 25,65 26,57 27,61"/>
<polyline vector-effect="non-scaling-stroke" points="0,-4 1,-3 2,-3 3,-11 4,38 5,44 6,55 7,47 8,56 9,32 10,26 11,38 12,7 13,-15 14,21 15,33 16,-10 17,52 18,23 19,-1 20,-13 21,21 22,45 23,49 24,34 25,22 26,51 27,3"/>
<polyline vector-effect="non-scaling-stroke" points="0,-13 1,12 2,-37 3,-25 4,25 5,30 6,3 7,46 8,-7 9,7 10,-56 11,-13 12,26 13,24 14,8 15,98 16,7 17,-6 18,13 19,2 20,40 21,-2 22,18 23,42 24,-15 25,17 26,-41 27,11"/>
<polyline vector-effect="non-scaling-stroke" points="0,-40 1,-14 2,16 3,-18 4,19 5,-4 6,79 7,50 8,29 9,9 10,-4 11,-16 12,2 13,-14 14,37 15,49 16,-3 17,18 18,-45 19,-11 20,18 21,29 22,-31 23,-38 24,7 25,-9 26,9 27,-2"/>
<polyline vector-effect="non-scaling-stroke" points="0,4 1,-56 2,-20 3,-6 4,24 5,-26 6,37 7,44 8,-11 9,33 10,26 11,12 12,24 13,-28 14,31 15,27 16,-17 17,18 18,49 19,-8 20,8 21,4 22,-2 23,43 24,50 25,43 26,29 27,27"/>
<polyline vector-effect="non-scaling-stroke" points="0,-6 1,-9 2,-27 3,7 4,17 5,-18 6,13 7,48 8,2 9,24 10,19 11,57 12,-14 13,26 14,-13 15,26 16,27 17,64 18,15 19,21 20,18 21,42 22,7 23,38 24,5 25,21 26,18 27,1"/>
<polyline vector-effect="non-scaling-stroke" points="0,-5 1,22 2,-23 3,-36 4,25 5,-28 6,44 7,52 8,-45 9,3 10,-24 11,34 12,21 13,-33 14,-25 15,26 16,-9 17,56 18,41 19,15 20,30 21,32 22,8 23,7 24,-15 25,30 26,35 27,29"/>
<polyline vector-effect="non-scaling-stroke" points="0,1 1,9 2,6 3,13 4,44 5,16 6,23 7,70 8,35 9,15 10,69 11,11 12,37 13,27 14,36 15,31 16,3 17,83 18,34 19,14 20,41 21,44 22,27 23,44 24,54 25,28 26,44 27,35"/>
<polyline vector-effect="non-scaling-stroke" points="0,-35 1,-71 2,-17 3,-18 4,12 5,-32 6,-8 7,44 8,-10 9,-26 10,13 11,8 12,4 13,26 14,32 15,33 16,-13 17,-42 18,14 19,-11 20,27 21,31 22,11 23,41 24,-9 25,3 26,-22 27,-9"/>
<polyline vector-effect="non-scaling-stroke" points="0,3 1,37 2,-17 3,-3 4,72 5,-31 6,27 7,46 8,36 9,63 10,48 11,24 12,-4 13,18 14,15 15,48 16,-10 17,95 18,9 19,27 20,23 21,2 22,18 23,29 24,8 25,39 26,12 27,61"/>
<polyline vector-effect="non-scaling-stroke" points="0,14 1,-20 2,-50 3,4 4,31 5,2 6,5 7,-1 8,-28 9,65 10,55 11,7 12,45 13,-42 14,37 15,59 16,-11 17,31 18,-2 19,12 20,40 21,40 22,23 23,53 24,-30 25,62 26,21 27,-14"/>
<polyline vector-effect="non-scaling-stroke" points="0,-19 1,-36 2,-18 3,-30 4,-38 5,10 6,55 7,-14 8,28 9,33 10,21 11,45 12,-33 13,16 14,-53 15,82 16,-27 17,-22 18,34 19,7 20,4 21,9 22,13 23,48 24,-24 25,-9 26,-15 27,-4"/>
<polyline vector-effect="non-scaling-stroke" points="0,0 1,-30 2,0 3,-45 4,19 5,-5 6,27 7,88 8,49 9,46 10,57 11,17 12,38 13,18 14,23 15,48 16,-19 17,28 18,24 19,20 20,17 21,6 22,-4 23,29 24,-15 25,-4 26,21 27,21"/>
<polyline vector-effect="non-scaling-stroke" points="0,-13 1,-46 2,-1 3,-4 4,16 5,-9 6,-34 7,70 8,-10 9,38 10,0 11,19 12,8 13,-40 14,87 15,-6 16,6 17,19 18,21 19,42 20,-17 21,20 22,24 23,30 24,19 25,5 26,-22 27,-14"/>
<polyline vector-effect="non-scaling-stroke" points="0,-16 1,11 2,-14 3,0 4,14 5,-9 6,22 7,-28 8,15 9,-11 10,-10 11,71 12,-25 13,4 14,4 15,27 16,-6 17,8 18,63 19,-52 20,-12 21,39 22,16 23,-6 24,-23 25,3 26,75 27,15"/>
<polyline vector-effect="non-scaling-stroke" points="0,-3 1,37 2,-2 3,21 4,51 5,47 6,58 7,105 8,41 9,46 10,12 11,35 12,34 13,29 14,87 15,63 16,5 17,104 18,35 19,39 20,31 21,25 22,50 23,49 24,50 25,32 26,7 27,8"/>
<polyline vector-effect="non-scaling-stroke" points="0,-7 1,4 2,-3 3,-8 4,-3 5,7 6,0 7,25 8,58 9,50 10,8 11,73 12,39 13,48 14,67 15,35 16,3 17,20 18,43 19,-18 20,11 21,32 22,9 23,37 24,50 25,1 26,60 27,3"/>
<polyline vector-effect="non-scaling-stroke" points="0,-22 1,1 2,4 3,-43 4,-2 5,-21 6,0 7,37 8,-11 9,11 10,14 11,-1 12,25 13,-17 14,-30 15,84 16,20 17,35 18,37 19,9 20,1 21,27 22,15 23,47 24,-41 25,29 26,16 27,-10"/>
<polyline vector-effect="non-scaling-stroke" points="0,-15 1,-20 2,-38 3,-42 4,32 5,-49 6,8 7,-38 8,-10 9,23 10,1 11,10 12,-21 13,21 14,-37 15,51 16,-1 17,17 18,52 19,-10 20,27 21,15 22,8 23,39 24,9 25,11 26,6 27,10"/>
<polyline vector-effect="non-scaling-stroke" points="0,-9 1,-21 2,-36 3,-75 4,8 5,-21 6,47 7,39 8,25 9,46 10,-4 11,-19 12,15 13,-21 14,-18 15,62 16,3 17,61 18,-27 19,-3 20,27 21,-16 22,9 23,23 24,-49 25,42 26,-14 27,-1"/>
<polyline vector-effect="non-scaling-stroke" points="0,20 1,-51 2,0 3,-31 4,23 5,-23 6,64 7,5 8,19 9,32 10,10 11,12 12,4 13,46 14,25 15,34 16,-17 17,47 18,37 19,7 20,40 21,-19 22,50 23,20 24,-18 25,-21 26,41 27,25"/>
<polyline vector-effect="non-scaling-stroke" points="0,-7 1,-1 2,-7 3,-33 4,46 5,9 6,23 7,-15 8,38 9,10 10,-19 11,52 12,16 13,-55 14,-56 15,22 16,-22 17,34 18,80 19,58 20,14 21,33 22,27 23,19 24,-28 25,39 26,12 27,21"/>
<polyline vector-effect="non-scaling-stroke" points="0,-4 1,-45 2,6 3,-37 4,9 5,-33 6,26 7,46 8,-19 9,18 10,-22 11,-40 12,-14 13,8 14,0 15,44 16,-24 17,5 18,3 19,4 20,-1 21,-16 22,-29 23,33 24,13 25,-15 26,37 27,-7"/>
<polyline vector-effect="non-scaling-stroke" points="0,-5 1,21 2,-28 3,-52 4,-35 5,-10 6,24 7,47 8,12 9,11 10,26 11,-29 12,5 13,11 14,-18 15,67 16,-1 17,65 18,30 19,-11 20,39 21,29 22,4 23,6 24,-30 25,1 26,-4 27,4"/>
<polyline vector-effect="non-scaling-stroke" points="0,-16 1,6 2,-17 3,-66 4,-1 5,-36 6,-21 7,18 8,21 9,-12 10,-56 11,2 12,50 13,-20 14,3 15,10 16,8 17,73 18,7 19,24 20,-13 21,15 22,-17 23,18 24,-17 25,14 26,-24 27,8"/>
<polyline vector-effect="non-scaling-stroke" points="0,-5 1,-23 2,-28 3,-54 4,6 5,-1 6,16 7,35 8,32 9,9 10,12 11,34 12,13 13,17 14,1 15,81 16,-5 17,19 18,31 19,38 20,35 21,15 22,23 23,29 24,3 25,26 26,27 27,10"/>
<polyline vector-effect="non-scaling-stroke" points="0,17 1,-16 2,10 3,13 4,63 5,-3 6,15 7,-19 8,4 9,64 10,-39 11,-34 12,19 13,25 14,-69 15,26 16,3 17,-19 18,41 19,-32 20,31 21,19 22,-3 23,-23 24,-6 25,10 26,8 27,-7"/>
<polyline vector-effect="non-scaling-stroke" points="0,-12 1,15 2,-32 3,-35 4,23 5,-14 6,40 7,73 8,-6 9,18 10,-56 11,-3 12,13 13,-37 14,41 15,-33 16,16 17,10 18,-17 19,-14 20,3 21,-10 22,-19 23,1 24,18 25,18 26,42 27,-11"/>
<polyline vector-effect="non-scaling-stroke" points="0,-5 1,-1 2,-2 3,-9 4,66 5,17 6,38 7,85 8,-2 9,-2 10,34 11,29 12,15 13,49 14,4 15,38 16,10 17,69 18,53 19,15 20,24 21,-26 22,37 23,-10 24,11 25,65 26,16 27,-19"/>
<polyline vector-effect="non-scaling-stroke" points="0,24 1,-3 2,-5 3,-19 4,46 5,22 6,34 7,82 8,-1 9,41 10,5 11,47 12,2 13,11 14,72 15,13 16,-13 17,71 18,25 19,6 20,20 21,61 22,2 23,26 24,18 25,5 26,27 27,31"/>
<polyline vector-effect="non-scaling-stroke" points="0,-18 1,31 2,-30 3,-27 4,28 5,47 6,-24 7,45 8,58 9,8 10,38 11,23 12,-22 13,24 14,-27 15,36 16,-26 17,62 18,-45 19,2 20,36 21,28 22,6 23,17 24,-4 25,65 26,16 27,11"/>
<polyline vector-effect="non-scaling-stroke" points="0,-33 1,-47 2,-18 3,-60 4,-26 5,-46 6,-15 7,8 8,-27 9,-7 10,-41 11,21 12,-13 13,-35 14,-24 15,-1 16,-42 17,-4 18,35 19,-9 20,16 21,-18 22,-31 23,-23 24,11 25,-31 26,-35 27,12"/>
<polyline vector-effect="non-scaling-stroke" points="0,-10 1,-9 2,-5 3,-24 4,10 5,-2 6,2 7,32 8,21 9,-5 10,1 11,-20 12,19 13,27 14,35 15,59 16,14 17,58 18,-4 19,24 20,-5 21,59 22,16 23,33 24,-25 25,37 26,44 27,-28"/>
<polyline vector-effect="non-scaling-stroke" points="0,-9 1,-7 2,-17 3,7 4,72 5,-26 6,59 7,36 8,43 9,-28 10,4 11,56 12,-4 13,55 14,-4 15,71 16,13 17,33 18,6 19,7 20,38 21,22 22,5 23,76 24,-25 25,17 26,36 27,-8"/>
<polyline vector-effect="non-scaling-stroke" points="0,-5 1,-15 2,-38 3,-16 4,-10 5,-26 6,56 7,-1 8,21 9,41 10,33 11,27 12,1 13,-37 14,8 15,44 16,-10 17,3 18,41 19,-22 20,21 21,7 22,-20 23,57 24,17 25,26 26,-25 27,6"/>
<polyline vector-effect="non-scaling-stroke" points="0,1 1,-19 2,18 3,-66 4,38 5,-50 6,-17 7,-1 8,23 9,6 10,-7 11,-8 12,-22 13,-16 14,-28 15,26 16,-5 17,-41 18,4 19,34 20,7 21,18 22,0 23,6 24,5 25,-14 26,13 27,-28"/>
<polyline vector-effect="non-scaling-stroke" points="0,0 1,-49 2,0 3,-6 4,-21 5,8 6,12 7,69 8,-4 9,13 10,0 11,49 12,-35 13,32 14,6 15,16 16,-5 17,66 18,40 19,42 20,1 21,-23 22,1 23,15 24,-6 25,40 26,72 27,18"/>
<polyline vector-effect="non-scaling-stroke" points="0,-42 1,6 2,-37 3,-41 4,20 5,-17 6,-1 7,19 8,8 9,15 10,41 11,-53 12,-27 13,-36 14,5 15,14 16,0 17,-39 18,-9 19,1 20,-3 21,-8 22,2 23,40 24,-49 25,32 26,1 27,-29"/>
<polyline vector-effect="non-scaling-stroke" points="0,-15 1,-39 2,-12 3,-70 4,11 5,-61 6,-4 7,16 8,-23 9,5 10,-44 11,8 12,-31 13,-57 14,-49 15,-9 16,-39 17,20 18,-20 19,-13 20,-31 21,-31 22,-17 23,-37 24,-29 25,-2 26,10 27,14"/>
<polyline vector-effect="non-scaling-stroke" points="0,9 1,-16 2,2 3,-32 4,36 5,-27 6,65 7,54 8,7 9,-6 10,21 11,6 12,15 13,-7 14,-8 15,55 16,25 17,1 18,20 19,18 20,15 21,13 22,50 23,5 24,17 25,9 26,19 27,-39"/>
<polyline vector-effect="non-scaling-stroke" points="0,3 1,-18 2,-34 3,1 4,4 5,-30 6,-9 7,57 8,2 9,5 10,-38 11,-21 12,6 13,-2 14,-82 15,-4 16,-3 17,112 18,-11 19,-53 20,21 21,0 22,-19 23,26 24,-8 25,-14 26,-30 27,-1"/>
<polyline vector-effect="non-scaling-stroke" points="0,-2 1,-51 2,7 3,-50 4,53 5,4 6,22 7,49 8,-2 9,20 10,53 11,2 12,23 13,-16 14,8 15,62 16,-20 17,52 18,-37 19,-21 20,8 21,36 22,25 23,1 24,4 25,22 26,-25 27,22"/>
<polyline vector-effect="non-scaling-stroke" points="0,11 1,27 2,-25 3,-39 4,-10 5,-24 6,11 7,49 8,5 9,-6 10,23 11,33 12,-11 13,-6 14,-8 15,-24 16,-2 17,51 18,63 19,4 20,4 21,9 22,18 23,34 24,-20 25,15 26,26 27,-43"/>
<polyline vector-effect="non-scaling-stroke" points="0,12 1,-12 2,1 3,-29 4,9 5,-12 6,28 7,56 8,-1 9,-8 10,-15 11,-18 12,17 13,-27 14,51 15,31 16,-5 17,74 18,5 19,-7 20,24 21,28 22,-9 23,74 24,13 25,-17 26,6 27,27"/>
<polyline vector-effect="non-scaling-stroke" points="0,6 1,39 2,28 3,4 4,72 5,22 6,22 7,97 8,6 9,49 10,40 11,8 12,4 13,23 14,39 15,85 16,10 17,113 18,57 19,4 20,14 21,30 22,13 23,33 24,33 25,34 26,56 27,9"/>
<polyline vector-effect="non-scaling-stroke" points="0,-28 1,-61 2,-53 3,-47 4,6 5,-26 6,8 7,77 8,-30 9,1 10,-22 11,-29 12,20 13,-11 14,27 15,-20 16,19 17,90 18,-21 19,-10 20,0 21,17 22,-23 23,18 24,8 25,-12 26,-49 27,-20"/>
<polyline vector-effect="non-scaling-stroke" points="0,-11 1,20 2,-22 3,-50 4,33 5,2 6,43 7,36 8,30 9,29 10,-41 11,21 12,20 13,11 14,54 15,18 16,10 17,-5 18,19 19,-9 20,-6 21,-10 22,15 23,31 24,-10 25,-13 26,-9 27,26"/>
<polyline vector-effect="non-scaling-stroke" points="0,-32 1,16 2,-51 3,-30 4,22 5,9 6,-3 7,-5 8,-36 9,27 10,-10 11,-14 12,-13 13,1 14,-14 15,50 16,-42 17,48 18,-10 19,-10 20,-2 21,5 22,16 23,13 24,-41 25,2 26,-2 27,7"/>
<polyline vector-effect="non-scaling-stroke" points="0,-3 1,-2 2,7 3,-47 4,68 5,-19 6,-4 7,59 8,32 9,44 10,46 11,30 12,8 13,23 14,6 15,17 16,25 17,96 18,21 19,0 20,5 21,-17 22,0 23,9 24,5 25,-6 26,-36 27,25"/>
<polyline vector-effect="non-scaling-stroke" points="0,22 1,-58 2,-8 3,-4 4,-4 5,-36 6,32 7,36 8,0 9,55 10,53 11,40 12,10 13,7 14,44 15,33 16,26 17,85 18,10 19,27 20,45 21,34 22,-1 23,21 24,3 25,24 26,23 27,8"/>
<polyline vector-effect="non-scaling-stroke" points="0,12 1,46 2,-14 3,-49 4,35 5,2 6,45 7,26 8,22 9,8 10,46 11,71 12,-5 13,-63 14,0 15,28 16,8 17,50 18,42 19,58 20,11 21,18 22,25 23,-16 24,29 25,10 26,-13 27,0"/>
<polyline vector-effect="non-scaling-stroke" points="0,4 1,27 2,12 3,-13 4,5 5,10 6,27 7,105 8,-35 9,53 10,32 11,31 12,8 13,-3 14,-25 15,-10 16,33 17,73 18,41 19,17 20,-20 21,15 22,17 23,52 24,-14 25,25 26,14 27,15"/>
<polyline vector-effect="non-scaling-stroke" points="0,-26 1,-7 2,-19 3,-75 4,34 5,31 6,-16 7,53 8,-26 9,-4 10,39 11,5 12,24 13,2 14,21 15,11 16,13 17,77 18,23 19,-23 20,-3 21,-13 22,13 23,21 24,-24 25,24 26,-15 27,38"/>
<polyline vector-effect="non-scaling-stroke" points="0,10 1,50 2,-18 3,-41 4,-19 5,14 6,0 7,82 8,17 9,39 10,-20 11,6 12,15 13,41 14,-33 15,49 16,-11 17,72 18,21 19,4 20,26 21,43 22,12 23,55 24,-12 25,27 26,-8 27,21"/>
<polyline vector-effect="non-scaling-stroke" points="0,-10 1,16 2,9 3,-33 4,-10 5,3 6,53 7,59 8,1 9,46 10,16 11,52 12,0 13,41 14,65 15,29 16,4 17,75 18,47 19,25 20,22 21,-3 22,21 23,3 24,18 25,-25 26,66 27,61"/>
<polyline vector-effect="non-scaling-stroke" points="0,10 1,-8 2,-5 3,4 4,47 5,-8 6,72 7,74 8,32 9,24 10,24 11,13 12,21 13,9 14,66 15,50 16,12 17,67 18,43 19,-15 20,45 21,30 22,13 23,12 24,3 25,16 26,31 27,4"/>
<polyline vector-effect="non-scaling-stroke" points="0,13 1,35 2,-2 3,21 4,42 5,27 6,58 7,64 8,46 9,65 10,36 11,24 12,37 13,-23 14,49 15,59 16,22 17,25 18,38 19,8 20,24 21,49 22,27 23,34 24,52 25,39 26,-9 27,12"/>
<polyline vector-effect="non-scaling-stroke" points="0,6 1,21 2,-1 3,-13 4,6 5,0 6,1 7,20 8,-4 9,9 10,9 11,19 12,-3 13,53 14,0 15,83 16,20 17,8 18,50 19,-21 20,43 21,29 22,0 23,-26 24,3 25,-8 26,51 27,-12"/>
<polyline vector-effect="non-scaling-stroke" points="0,-16 1,0 2,-18 3,-29 4,2 5,-1 6,-15 7,38 8,-30 9,13 10,-36 11,-4 12,8 13,33 14,-79 15,-5 16,-26 17,60 18,-17 19,10 20,-5 21,-22 22,5 23,-20 24,10 25,23 26,37 27,-25"/>
<polyline vector-effect="non-scaling-stroke" points="0,13 1,19 2,-47 3,12 4,50 5,-38 6,27 7,-14 8,0 9,18 10,18 11,-16 12,1 13,-29 14,9 15,43 16,-4 17,65 18,32 19,7 20,29 21,-13 22,7 23,-30 24,-1 25,-1 26,30 27,-6"/>
<polyline vector-effect="non-scaling-stroke" points="0,-14 1,-3 2,-12 3,-14 4,-1 5,-42 6,-19 7,70 8,-19 9,10 10,-21 11,40 12,-4 13,48 14,-20 15,41 16,12 17,69 18,-12 19,-3 20,13 21,-19 22,24 23,31 24,16 25,-15 26,21 27,20"/>
<polyline vector-effect="non-scaling-stroke" points="0,16 1,-1 2,9 3,21 4,21 5,-4 6,30 7,5 8,12 9,60 10,-3 11,24 12,37 13,43 14,30 15,37 16,6 17,54 18,50 19,18 20,38 21,-10 22,33 23,21 24,16 25,18 26,45 27,19"/>
<polyline vector-effect="non-scaling-stroke" points="0,-3 1,-41 2,-17 3,-12 4,32 5,-28 6,13 7,7 8,-6 9,8 10,25 11,17 12,23 13,40 14,-62 15,25 16,-18 17,-35 18,-25 19,-21 20,33 21,8 22,-1 23,7 24,-25 25,7 26,-2 27,-41"/>
<polyline vector-effect="non-scaling-stroke" points="0,-6 1,65 2,7 3,-18 4,44 5,-19 6,39 7,74 8,-17 9,14 10,10 11,20 12,5 13,32 14,55 15,54 16,22 17,84 18,16 19,21 20,15 21,38 22,14 23,28 24,48 25,22 26,-14 27,23"/>
<polyline vector-effect="non-scaling-stroke" points="0,4 1,-6 2,-4 3,1 4,15 5,-3 6,14 7,55 8,13 9,7 10,13 11,73 12,-21 13,-24 14,27 15,1 16,34 17,-1 18,-6 19,1 20,37 21,38 22,26 23,36 24,38 25,-17 26,31 27,47"/>
<polyline vector-effect="non-scaling-stroke" points="0,-28 1,-3 2,3 3,-9 4,6 5,26 6,27 7,55 8,-24 9,-5 10,-23 11,52 12,-42 13,-62 14,18 15,25 16,-42 17,11 18,0 19,22 20,-30 21,-2 22,22 23,29 24,-25 25,0 26,-35 27,30"/>
<polyline vector-effect="non-scaling-stroke" points="0,-6 1,42 2,7 3,-36 4,23 5,15 6,44 7,88 8,38 9,32 10,34 11,5 12,1 13,38 14,27 15,9 16,3 17,22 18,14 19,40 20,3 21,11 22,26 23,30 24,15 25,-9 26,23 27,10"/>
<polyline vector-effect="non-scaling-stroke" points="0,-22 1,-27 2,-21 3,-15 4,52 5,-12 6,54 7,29 8,-32 9,14 10,32 11,43 12,-18 13,66 14,-34 15,1 16,-15 17,72 18,21 19,17 20,-31 21,10 22,4 23,29 24,-13 25,33 26,-12 27,-29"/>
<polyline vector-effect="non-scaling-stroke" points="0,-29 1,34 2,2 3,-40 4,44 5,-9 6,23 7,-8 8,-2 9,22 10,15 11,1 12,25 13,54 14,-23 15,44 16,-26 17,52 18,-5 19,2 20,18 21,14 22,29 23,4 24,-4 25,24 26,16 27,17"/>
<polyline vector-effect="non-scaling-stroke" points="0,-9 1,-27 2,-1 3,-25 4,37 5,21 6,12 7,10 8,-3 9,4 10,-47 11,56 12,12 13,76 14,-19 15,46 16,2 17,32 18,42 19,3 20,11 21,19 22,-29 23,2 24,-13 25,47 26,28 27,25"/>
<polyline vector-effect="non-scaling-stroke" points="0,6 1,-1 2,18 3,-25 4,-10 5,11 6,59 7,44 8,20 9,41 10,51 11,36 12,39 13,24 14,81 15,-2 16,16 17,52 18,27 19,-21 20,34 21,17 22,-2 23,10 24,4 25,22 26,-3 27,-6"/>
<polyline vector-effect="non-scaling-stroke" points="0,-6 1,-18 2,12 3,-44 4,24 5,20 6,5 7,49 8,4 9,10 10,35 11,-27 12,-16 13,-63 14,-18 15,45 16,-14 17,47 18,-14 19,18 20,2 21,-2 22,29 23,8 24,6 25,7 26,20 27,1"/>
<polyline vector-effect="non-scaling-stroke" points="0,-18 1,16 2,2 3,-11 4,22 5,40 6,14 7,48 8,20 9,4 10,-14 11,42 12,24 13,24 14,-41 15,33 16,8 17,67 18,57 19,22 20,35 21,52 22,-23 23,50 24,3 25,32 26,29 27,-5"/>
<polyline vector-effect="non-scaling-stroke" points="0,-34 1,-18 2,-31 3,-31 4,-14 5,18 6,-10 7,65 8,-31 9,10 10,11 11,-50 12,-33 13,-9 14,9 15,41 16,-8 17,38 18,-38 19,-30 20,21 21,-14 22,-10 23,-38 24,-22 25,-38 26,-2 27,19"/>
<polyline vector-effect="non-scaling-stroke" points="0,-2 1,0 2,-20 3,-17 4,-10 5,-21 6,75 7,-8 8,-7 9,-12 10,35 11,5 12,-22 13,-34 14,36 15,46 16,9 17,31 18,38 19,30 20,22 21,-17 22,-25 23,-18 24,7 25,-21 26,-17 27,8"/>
<polyline vector-effect="non-scaling-stroke" points="0,-22 1,-45 2,1 3,-20 4,31 5,8 6,55 7,27 8,-1 9,-22 10,-4 11,-8 12,20 13,22 14,45 15,54 16,13 17,46 18,16 19,-11 20,9 21,-7 22,14 23,13 24,-46 25,-38 26,-11 27,-6"/>
<polyline vector-effect="non-scaling-stroke" points="0,2 1,55 2,-7 3,-34 4,44 5,32 6,86 7,29 8,20 9,26 10,65 11,54 12,21 13,55 14,19 15,48 16,11 17,46 18,33 19,29 20,31 21,57 22,37 23,37 24,-26 25,1 26,23 27,19"/>
<polyline vector-effect="non-scaling-stroke" points="0,-21 1,-4 2,-4 3,-32 4,22 5,-3 6,13 7,17 8,11 9,29 10,-12 11,-35 12,-7 13,32 14,-44 15,63 16,-6 17,49 18,6 19,23 20,19 21,28 22,-18 23,43 24,-27 25,14 26,34 27,12"/>
<polyline vector-effect="non-scaling-stroke" points="0,-1 1,-4 2,-13 3,-47 4,35 5,12 6,3 7,1 8,7 9,-2 10,5 11,30 12,13 13,45 14,11 15,-5 16,-20 17,45 18,59 19,-10 20,-8 21,37 22,5 23,30 24,21 25,-12 26,-1 27,-8"/>
<polyline vector-effect="non-scaling-stroke" points="0,-4 1,4 2,-27 3,-23 4,-33 5,-9 6,21 7,21 8,-33 9,7 10,-32 11,40 12,-9 13,-12 14,-16 15,34 16,-7 17,39 18,-17 19,18 20,-4 21,22 22,8 23,34 24,-7 25,-27 26,-27 27,-6"/>
<polyline vector-effect="non-scaling-stroke" points="0,13 1,-13 2,-9 3,-2 4,6 5,0 6,31 7,17 8,13 9,38 10,33 11,6 12,50 13,20 14,-6 15,11 16,-17 17,61 18,-45 19,1 20,-11 21,14 22,11 23,-10 24,-17 25,40 26,1 27,10"/>
<polyline vector-effect="non-scaling-stroke" points="0,-15 1,12 2,3 3,-14 4,24 5,-2 6,-17 7,62 8,-11 9,-6 10,-10 11,-16 12,7 13,21 14,35 15,19 16,-16 17,17 18,-20 19,-21 20,40 21,-4 22,-2 23,27 24,3 25,24 26,-16 27,-21"/>
<polyline vector-effect="non-scaling-stroke" points="0,27 1,10 2,5 3,-1 4,2 5,13 6,36 7,80 8,24 9,-4 10,54 11,-24 12,18 13,22 14,21 15,61 16,29 17,45 18,32 19,44 20,39 21,49 22,34 23,40 24,17 25,28 26,64 27,61"/>
<polyline vector-effect="non-scaling-stroke" points="0,2 1,-71 2,-39 3,-54 4,-18 5,-64 6,43 7,37 8,-26 9,-19 10,-29 11,-53 12,-28 13,-11 14,11 15,16 16,-3 17,-42 18,-45 19,3 20,-9 21,-12 22,15 23,-36 24,-47 25,-32 26,20 27,-1"/>
<polyline vector-effect="non-scaling-stroke" points="0,-32 1,42 2,-10 3,-17 4,1 5,33 6,36 7,72 8,-13 9,32 10,11 11,9 12,-9 13,-12 14,-36 15,13 16,-1 17,55 18,-21 19,-19 20,3 21,-15 22,7 23,15 24,1 25,24 26,38 27,27"/>
<polyline vector-effect="non-scaling-stroke" points="0,-20 1,-20 2,-46 3,-70 4,5 5,-23 6,48 7,-9 8,-41 9,-1 10,-37 11,-45 12,8 13,29 14,-27 15,-23 16,-18 17,-5 18,-45 19,-5 20,-3 21,17 22,-20 23,-10 24,-26 25,-38 26,46 27,-45"/>
<polyline vector-effect="non-scaling-stroke" points="0,-14 1,3 2,-29 3,-8 4,20 5,6 6,43 7,52 8,21 9,26 10,31 11,49 12,11 13,12 14,8 15,54 16,2 17,41 18,-7 19,57 20,1 21,56 22,32 23,55 24,20 25,36 26,35 27,33"/>
<polyline vector-effect="non-scaling-stroke" points="0,1 1,29 2,-35 3,-23 4,45 5,15 6,-14 7,33 8,6 9,16 10,-56 11,28 12,-34 13,63 14,13 15,18 16,3 17,29 18,-5 19,-7 20,13 21,-6 22,17 23,38 24,19 25,32 26,38 27,17"/>
<polyline vector-effect="non-scaling-stroke" points="0,23 1,23 2,9 3,17 4,72 5,4 6,7 7,105 8,48 9,65 10,51 11,43 12,10 13,6 14,81 15,80 16,16 17,28 18,27 19,9 20,22 21,-24 22,28 23,74 24,10 25,33 26,43 27,6"/>
</g></g>
<g clip-path="url(#cI0)" fill="none" stroke-width="1.15" stroke-linejoin="round">
</g>
<path d="M676.6,61.6V172.4" stroke="#a0a0a0" stroke-width="0.9" fill="none"/>
<path d="M403.5,61.6H676.6M676.6,172.4H403.5V61.6M433.8,172.4v-2.8M433.8,61.6v2.8M484.4,172.4v-2.8M484.4,61.6v2.8M535.0,172.4v-2.8M535.0,61.6v2.8M636.1,172.4v-2.8M636.1,61.6v2.8M403.5,172.4h2.8M676.6,172.4h-2.8M403.5,144.7h2.8M676.6,144.7h-2.8M403.5,117.0h2.8M676.6,117.0h-2.8M403.5,89.3h2.8M676.6,89.3h-2.8" stroke="#777" stroke-width="0.9" fill="none"/>
<text x="398.3" y="93.7" font-size="11.4" font-weight="normal" text-anchor="end" fill="#262626" >2</text>
<text x="398.3" y="121.4" font-size="11.4" font-weight="normal" text-anchor="end" fill="#262626" >1</text>
<text x="398.3" y="149.1" font-size="11.4" font-weight="normal" text-anchor="end" fill="#262626" >0</text>
<text x="398.3" y="176.8" font-size="11.4" font-weight="normal" text-anchor="end" fill="#262626" >-1</text>
<text x="433.8" y="189.2" font-size="11" font-weight="normal" text-anchor="middle" fill="#262626" >1.33</text>
<text x="484.4" y="189.2" font-size="11" font-weight="normal" text-anchor="middle" fill="#262626" >2</text>
<text x="535.0" y="189.2" font-size="11" font-weight="normal" text-anchor="middle" fill="#262626" >2.66</text>
<text x="636.1" y="189.2" font-size="11" font-weight="normal" text-anchor="middle" fill="#262626" >4</text>
<text x="539.7" y="205.4" font-size="12.6" font-weight="normal" text-anchor="middle" fill="#262626" >freq (Hz)</text>
<text x="0" y="0" font-size="13" text-anchor="middle" fill="#262626" transform="translate(382.9,117.0) rotate(-90)">SNR</text>
<clipPath id="cI1"><rect x="403.5" y="247.5" width="273.1" height="110.80000000000001"/></clipPath>
<path d="M433.8,247.5V358.3M484.4,247.5V358.3M535.0,247.5V358.3M636.1,247.5V358.3M403.5,330.6H676.6M403.5,302.9H676.6M403.5,275.2H676.6" stroke="#e7e7e7" stroke-width="0.8" fill="none"/>
<g clip-path="url(#cI1)"><g transform="translate(403.50,330.60) scale(10.1148,-0.2770)" fill="none" stroke="#d4d4d4" stroke-width="0.55" stroke-linejoin="round">
<polyline vector-effect="non-scaling-stroke" points="0,-7 1,-11 2,21 3,7 4,-24 5,45 6,41 7,11 8,31 9,-4 10,38 11,15 12,45 13,11 14,12 15,33 16,60 17,17 18,31 19,21 20,55 21,15 22,12 23,80 24,-10 25,5 26,-13 27,-4"/>
<polyline vector-effect="non-scaling-stroke" points="0,-15 1,-20 2,-21 3,-15 4,2 5,22 6,-25 7,-31 8,14 9,14 10,-34 11,33 12,44 13,28 14,-45 15,13 16,-3 17,-16 18,-19 19,60 20,-20 21,1 22,20 23,91 24,24 25,-1 26,1 27,-21"/>
<polyline vector-effect="non-scaling-stroke" points="0,-41 1,1 2,-8 3,-13 4,11 5,-13 6,-16 7,-33 8,0 9,37 10,1 11,-28 12,44 13,3 14,-34 15,-21 16,22 17,30 18,5 19,10 20,-4 21,-23 22,-3 23,85 24,-8 25,29 26,-12 27,-3"/>
<polyline vector-effect="non-scaling-stroke" points="0,0 1,-21 2,4 3,4 4,58 5,2 6,40 7,31 8,-9 9,55 10,-39 11,14 12,28 13,17 14,26 15,13 16,22 17,31 18,15 19,9 20,25 21,5 22,3 23,105 24,1 25,-2 26,1 27,-13"/>
<polyline vector-effect="non-scaling-stroke" points="0,-8 1,-37 2,47 3,21 4,26 5,16 6,-34 7,27 8,-22 9,26 10,-20 11,33 12,11 13,9 14,38 15,36 16,-6 17,-18 18,19 19,23 20,27 21,-14 22,-25 23,52 24,16 25,25 26,23 27,11"/>
<polyline vector-effect="non-scaling-stroke" points="0,-3 1,-20 2,25 3,8 4,15 5,6 6,33 7,39 8,25 9,-12 10,30 11,-22 12,17 13,26 14,-23 15,-4 16,8 17,42 18,43 19,10 20,13 21,9 22,19 23,61 24,73 25,9 26,27 27,-35"/>
<polyline vector-effect="non-scaling-stroke" points="0,-9 1,-22 2,28 3,-63 4,26 5,18 6,-2 7,26 8,31 9,25 10,11 11,31 12,23 13,29 14,7 15,-3 16,-8 17,17 18,19 19,4 20,-3 21,30 22,-30 23,38 24,31 25,23 26,-17 27,-32"/>
<polyline vector-effect="non-scaling-stroke" points="0,1 1,23 2,16 3,-51 4,51 5,18 6,10 7,-7 8,29 9,29 10,21 11,25 12,39 13,36 14,51 15,5 16,31 17,-3 18,65 19,31 20,-24 21,13 22,5 23,71 24,20 25,-4 26,-16 27,31"/>
<polyline vector-effect="non-scaling-stroke" points="0,-17 1,-41 2,9 3,24 4,-24 5,-3 6,7 7,-20 8,-7 9,-16 10,-19 11,-13 12,21 13,4 14,-22 15,1 16,-26 17,39 18,-1 19,11 20,1 21,5 22,8 23,43 24,-50 25,1 26,-13 27,-27"/>
<polyline vector-effect="non-scaling-stroke" points="0,-1 1,-2 2,47 3,15 4,-4 5,27 6,41 7,-17 8,17 9,29 10,1 11,21 12,39 13,33 14,40 15,26 16,35 17,58 18,4 19,32 20,10 21,35 22,42 23,53 24,78 25,0 26,69 27,-16"/>
<polyline vector-effect="non-scaling-stroke" points="0,7 1,-25 2,18 3,-20 4,22 5,10 6,9 7,20 8,-16 9,5 10,-26 11,-7 12,8 13,26 14,13 15,0 16,29 17,26 18,7 19,-2 20,62 21,12 22,21 23,154 24,-12 25,17 26,-23 27,-7"/>
<polyline vector-effect="non-scaling-stroke" points="0,-11 1,-40 2,-18 3,-13 4,7 5,27 6,-4 7,-6 8,-17 9,-23 10,-17 11,-40 12,14 13,-34 14,-32 15,12 16,-26 17,-51 18,25 19,-13 20,-7 21,-3 22,-20 23,6 24,55 25,-8 26,2 27,-31"/>
<polyline vector-effect="non-scaling-stroke" points="0,-3 1,-39 2,-18 3,-24 4,10 5,2 6,5 7,17 8,-15 9,35 10,-10 11,22 12,48 13,46 14,-38 15,49 16,-15 17,33 18,14 19,36 20,-17 21,27 22,25 23,64 24,1 25,31 26,31 27,2"/>
<polyline vector-effect="non-scaling-stroke" points="0,-21 1,-25 2,17 3,16 4,36 5,7 6,-12 7,5 8,-7 9,-3 10,2 11,-28 12,18 13,-9 14,40 15,31 16,18 17,-44 18,-15 19,33 20,-9 21,-1 22,-29 23,15 24,10 25,1 26,-20 27,-30"/>
<polyline vector-effect="non-scaling-stroke" points="0,1 1,-28 2,14 3,34 4,26 5,11 6,-5 7,28 8,-31 9,-9 10,-2 11,-36 12,37 13,-4 14,9 15,7 16,12 17,-7 18,-24 19,-1 20,-11 21,55 22,23 23,98 24,-20 25,27 26,31 27,-3"/>
<polyline vector-effect="non-scaling-stroke" points="0,32 1,-40 2,-13 3,0 4,2 5,13 6,22 7,8 8,-5 9,23 10,19 11,-15 12,8 13,35 14,-5 15,1 16,29 17,-11 18,16 19,26 20,22 21,26 22,-6 23,40 24,74 25,0 26,-17 27,-40"/>
<polyline vector-effect="non-scaling-stroke" points="0,-2 1,-21 2,-18 3,-7 4,10 5,33 6,25 7,17 8,-19 9,20 10,27 11,19 12,51 13,23 14,28 15,34 16,19 17,42 18,33 19,57 20,-9 21,-14 22,16 23,69 24,56 25,30 26,48 27,6"/>
<polyline vector-effect="non-scaling-stroke" points="0,-18 1,13 2,2 3,-1 4,33 5,18 6,42 7,54 8,12 9,57 10,7 11,25 12,20 13,13 14,43 15,34 16,47 17,-11 18,66 19,34 20,1 21,14 22,33 23,119 24,85 25,2 26,2 27,24"/>
<polyline vector-effect="non-scaling-stroke" points="0,32 1,-24 2,10 3,-31 4,12 5,2 6,15 7,-11 8,20 9,19 10,3 11,40 12,22 13,-6 14,9 15,62 16,33 17,18 18,16 19,29 20,26 21,-56 22,-8 23,72 24,22 25,46 26,69 27,4"/>
<polyline vector-effect="non-scaling-stroke" points="0,-4 1,-5 2,39 3,-25 4,11 5,13 6,15 7,-34 8,0 9,-15 10,17 11,25 12,-26 13,21 14,4 15,4 16,46 17,45 18,24 19,2 20,-32 21,-29 22,-11 23,114 24,28 25,12 26,23 27,-14"/>
<polyline vector-effect="non-scaling-stroke" points="0,-18 1,-43 2,-17 3,-12 4,-17 5,26 6,0 7,-18 8,-1 9,-16 10,10 11,-13 12,45 13,-13 14,-20 15,-12 16,-19 17,-13 18,-16 19,19 20,-27 21,12 22,-34 23,72 24,-1 25,0 26,-14 27,6"/>
<polyline vector-effect="non-scaling-stroke" points="0,-15 1,-10 2,0 3,-5 4,23 5,21 6,-12 7,-3 8,-29 9,21 10,-15 11,-17 12,33 13,11 14,10 15,13 16,31 17,-2 18,-6 19,31 20,-4 21,-5 22,15 23,61 24,-16 25,35 26,51 27,-18"/>
<polyline vector-effect="non-scaling-stroke" points="0,9 1,-12 2,-7 3,-21 4,15 5,3 6,2 7,4 8,-25 9,31 10,-21 11,-25 12,38 13,25 14,33 15,17 16,6 17,23 18,10 19,23 20,-18 21,10 22,-34 23,95 24,-49 25,29 26,-18 27,-2"/>
<polyline vector-effect="non-scaling-stroke" points="0,32 1,-23 2,-15 3,42 4,13 5,-7 6,37 7,-41 8,-29 9,-9 10,-11 11,-43 12,38 13,32 14,0 15,9 16,-11 17,9 18,2 19,42 20,31 21,3 22,-31 23,49 24,66 25,20 26,41 27,-44"/>
<polyline vector-effect="non-scaling-stroke" points="0,-13 1,-24 2,-26 3,-18 4,38 5,17 6,-4 7,11 8,15 9,-8 10,4 11,27 12,3 13,33 14,-4 15,34 16,42 17,-1 18,5 19,9 20,6 21,3 22,34 23,72 24,26 25,41 26,5 27,-8"/>
<polyline vector-effect="non-scaling-stroke" points="0,15 1,-20 2,10 3,19 4,16 5,-10 6,-22 7,0 8,13 9,32 10,35 11,23 12,4 13,-21 14,-13 15,8 16,2 17,15 18,-3 19,36 20,21 21,-47 22,-1 23,115 24,42 25,13 26,-14 27,-26"/>
<polyline vector-effect="non-scaling-stroke" points="0,0 1,20 2,28 3,15 4,36 5,30 6,-15 7,-3 8,3 9,52 10,37 11,-7 12,31 13,7 14,3 15,28 16,24 17,-5 18,2 19,3 20,13 21,19 22,32 23,69 24,12 25,45 26,25 27,12"/>
<polyline vector-effect="non-scaling-stroke" points="0,-25 1,-40 2,-25 3,16 4,-14 5,-26 6,-16 7,21 8,-15 9,7 10,-7 11,-14 12,6 13,-28 14,26 15,3 16,39 17,-53 18,13 19,-12 20,-42 21,-6 22,19 23,106 24,45 25,-4 26,6 27,-30"/>
<polyline vector-effect="non-scaling-stroke" points="0,-16 1,-12 2,5 3,25 4,-15 5,29 6,1 7,37 8,20 9,-5 10,2 11,24 12,7 13,-1 14,-3 15,32 16,49 17,-11 18,35 19,63 20,30 21,-15 22,-4 23,93 24,50 25,24 26,-2 27,-25"/>
<polyline vector-effect="non-scaling-stroke" points="0,24 1,-6 2,62 3,-6 4,30 5,13 6,62 7,44 8,-3 9,-8 10,44 11,26 12,13 13,-4 14,27 15,26 16,45 17,24 18,21 19,37 20,39 21,17 22,19 23,123 24,-22 25,49 26,33 27,-14"/>
<polyline vector-effect="non-scaling-stroke" points="0,-16 1,2 2,11 3,-56 4,-5 5,10 6,42 7,17 8,-14 9,20 10,-4 11,-13 12,23 13,-34 14,18 15,21 16,6 17,-29 18,-12 19,27 20,2 21,-1 22,38 23,3 24,-13 25,-8 26,19 27,-21"/>
<polyline vector-effect="non-scaling-stroke" points="0,-28 1,-21 2,6 3,30 4,19 5,-2 6,-7 7,-18 8,-6 9,23 10,-10 11,-12 12,40 13,6 14,3 15,-11 16,1 17,-56 18,-17 19,27 20,26 21,-15 22,-20 23,71 24,45 25,2 26,15 27,-20"/>
<polyline vector-effect="non-scaling-stroke" points="0,-26 1,-34 2,1 3,48 4,33 5,7 6,16 7,12 8,-14 9,11 10,-4 11,22 12,51 13,37 14,-5 15,26 16,6 17,-29 18,15 19,41 20,4 21,23 22,26 23,104 24,15 25,-15 26,50 27,-20"/>
<polyline vector-effect="non-scaling-stroke" points="0,2 1,-10 2,-2 3,39 4,34 5,10 6,1 7,-14 8,-27 9,24 10,-8 11,-12 12,30 13,4 14,14 15,3 16,9 17,18 18,1 19,39 20,16 21,0 22,-23 23,34 24,-18 25,-14 26,22 27,-26"/>
<polyline vector-effect="non-scaling-stroke" points="0,-23 1,-23 2,8 3,-37 4,38 5,25 6,3 7,28 8,-27 9,8 10,3 11,8 12,48 13,10 14,-14 15,25 16,31 17,14 18,12 19,36 20,-3 21,22 22,2 23,68 24,66 25,3 26,7 27,1"/>
<polyline vector-effect="non-scaling-stroke" points="0,-2 1,18 2,9 3,39 4,6 5,2 6,28 7,49 8,45 9,12 10,18 11,7 12,-7 13,40 14,10 15,56 16,50 17,3 18,15 19,40 20,35 21,9 22,58 23,111 24,8 25,29 26,53 27,8"/>
<polyline vector-effect="non-scaling-stroke" points="0,-13 1,-29 2,-7 3,-28 4,12 5,16 6,0 7,39 8,1 9,6 10,1 11,47 12,-13 13,17 14,58 15,35 16,3 17,1 18,10 19,84 20,-10 21,-4 22,5 23,34 24,-56 25,10 26,16 27,-19"/>
<polyline vector-effect="non-scaling-stroke" points="0,5 1,6 2,30 3,-33 4,58 5,29 6,35 7,15 8,0 9,11 10,19 11,41 12,17 13,34 14,-1 15,34 16,27 17,27 18,69 19,41 20,3 21,1 22,30 23,77 24,65 25,26 26,36 27,-16"/>
<polyline vector-effect="non-scaling-stroke" points="0,-25 1,-34 2,10 3,-22 4,32 5,-25 6,-6 7,1 8,-37 9,0 10,-30 11,-6 12,12 13,23 14,-19 15,-17 16,6 17,-4 18,12 19,27 20,30 21,-12 22,3 23,46 24,-6 25,29 26,5 27,-45"/>
<polyline vector-effect="non-scaling-stroke" points="0,8 1,-53 2,-4 3,23 4,22 5,18 6,25 7,11 8,-28 9,18 10,-14 11,-49 12,12 13,20 14,1 15,14 16,66 17,0 18,32 19,31 20,42 21,-11 22,30 23,133 24,3 25,30 26,-16 27,-10"/>
<polyline vector-effect="non-scaling-stroke" points="0,7 1,-28 2,-21 3,14 4,21 5,18 6,22 7,28 8,32 9,29 10,-22 11,29 12,34 13,20 14,43 15,26 16,19 17,15 18,-9 19,55 20,14 21,52 22,29 23,101 24,35 25,-5 26,6 27,-3"/>
<polyline vector-effect="non-scaling-stroke" points="0,3 1,-14 2,16 3,17 4,7 5,13 6,2 7,-23 8,-32 9,27 10,29 11,38 12,0 13,36 14,32 15,-1 16,29 17,34 18,12 19,50 20,-15 21,-12 22,23 23,69 24,18 25,12 26,-13 27,10"/>
<polyline vector-effect="non-scaling-stroke" points="0,1 1,-10 2,12 3,22 4,18 5,35 6,18 7,36 8,-9 9,9 10,-2 11,30 12,9 13,41 14,10 15,46 16,31 17,35 18,9 19,19 20,37 21,6 22,45 23,82 24,61 25,12 26,-10 27,26"/>
<polyline vector-effect="non-scaling-stroke" points="0,-13 1,1 2,7 3,-47 4,28 5,26 6,36 7,37 8,-1 9,10 10,1 11,-27 12,34 13,24 14,7 15,1 16,37 17,-17 18,41 19,12 20,-9 21,-8 22,-11 23,48 24,8 25,-34 26,54 27,-8"/>
<polyline vector-effect="non-scaling-stroke" points="0,-4 1,-32 2,10 3,8 4,25 5,-12 6,9 7,-31 8,-10 9,-1 10,-9 11,-7 12,38 13,35 14,2 15,-3 16,64 17,-35 18,5 19,23 20,-12 21,37 22,19 23,115 24,11 25,30 26,0 27,-15"/>
<polyline vector-effect="non-scaling-stroke" points="0,-11 1,-19 2,9 3,-12 4,-18 5,0 6,-34 7,-7 8,-25 9,22 10,-41 11,51 12,6 13,-28 14,1 15,18 16,21 17,40 18,-8 19,24 20,-1 21,-26 22,8 23,107 24,-22 25,15 26,17 27,-9"/>
<polyline vector-effect="non-scaling-stroke" points="0,-33 1,-15 2,-3 3,28 4,17 5,38 6,-16 7,15 8,-22 9,51 10,35 11,-23 12,34 13,9 14,-34 15,-5 16,21 17,7 18,5 19,31 20,11 21,6 22,-15 23,82 24,34 25,-20 26,40 27,11"/>
<polyline vector-effect="non-scaling-stroke" points="0,-13 1,19 2,-15 3,-34 4,1 5,-7 6,41 7,1 8,-14 9,13 10,29 11,-6 12,5 13,10 14,21 15,5 16,49 17,-5 18,4 19,29 20,44 21,-14 22,29 23,86 24,12 25,7 26,12 27,-10"/>
<polyline vector-effect="non-scaling-stroke" points="0,-6 1,-7 2,-12 3,-17 4,-2 5,4 6,4 7,-3 8,1 9,-5 10,-6 11,22 12,51 13,10 14,25 15,39 16,-3 17,-1 18,-7 19,16 20,12 21,-34 22,18 23,71 24,7 25,21 26,-10 27,-39"/>
<polyline vector-effect="non-scaling-stroke" points="0,-20 1,-43 2,-11 3,-50 4,-14 5,-18 6,-29 7,-26 8,-30 9,0 10,55 11,-30 12,-26 13,8 14,-39 15,-15 16,-2 17,-20 18,1 19,15 20,-17 21,9 22,11 23,36 24,-13 25,-31 26,0 27,-27"/>
<polyline vector-effect="non-scaling-stroke" points="0,24 1,-28 2,42 3,-18 4,-11 5,-1 6,19 7,28 8,-19 9,36 10,-7 11,-10 12,17 13,44 14,7 15,23 16,-8 17,3 18,21 19,66 20,-14 21,-14 22,-6 23,62 24,45 25,-1 26,38 27,-12"/>
<polyline vector-effect="non-scaling-stroke" points="0,-9 1,-12 2,-2 3,-8 4,62 5,38 6,10 7,18 8,47 9,18 10,28 11,46 12,36 13,26 14,15 15,36 16,9 17,21 18,40 19,19 20,39 21,2 22,-22 23,48 24,54 25,41 26,15 27,-20"/>
<polyline vector-effect="non-scaling-stroke" points="0,-24 1,-18 2,-10 3,-63 4,13 5,-6 6,-10 7,-9 8,-12 9,-3 10,-32 11,-22 12,6 13,18 14,-41 15,-2 16,-15 17,-17 18,-11 19,-23 20,7 21,-37 22,-28 23,3 24,-44 25,-31 26,-11 27,-23"/>
<polyline vector-effect="non-scaling-stroke" points="0,5 1,9 2,7 3,35 4,38 5,31 6,42 7,19 8,40 9,52 10,13 11,80 12,69 13,0 14,-25 15,22 16,60 17,43 18,51 19,48 20,51 21,44 22,20 23,115 24,86 25,20 26,9 27,-12"/>
<polyline vector-effect="non-scaling-stroke" points="0,15 1,-4 2,24 3,-4 4,22 5,29 6,5 7,30 8,-7 9,13 10,14 11,26 12,55 13,6 14,40 15,3 16,4 17,-54 18,33 19,61 20,-24 21,-6 22,6 23,29 24,23 25,20 26,-4 27,-27"/>
<polyline vector-effect="non-scaling-stroke" points="0,1 1,6 2,-10 3,16 4,43 5,-25 6,28 7,49 8,-18 9,54 10,6 11,35 12,28 13,0 14,-22 15,62 16,5 17,3 18,60 19,46 20,23 21,-35 22,9 23,54 24,-21 25,30 26,38 27,-16"/>
<polyline vector-effect="non-scaling-stroke" points="0,-24 1,-18 2,15 3,-38 4,36 5,19 6,2 7,-24 8,-5 9,19 10,31 11,-22 12,43 13,-3 14,3 15,7 16,14 17,22 18,-5 19,36 20,-11 21,-10 22,-11 23,73 24,-56 25,0 26,17 27,-6"/>
<polyline vector-effect="non-scaling-stroke" points="0,-16 1,-19 2,21 3,51 4,35 5,27 6,28 7,34 8,-4 9,44 10,37 11,69 12,26 13,49 14,58 15,51 16,71 17,-34 18,72 19,84 20,61 21,43 22,48 23,157 24,33 25,27 26,62 27,11"/>
<polyline vector-effect="non-scaling-stroke" points="0,-41 1,-22 2,4 3,-35 4,21 5,8 6,-33 7,10 8,30 9,42 10,-28 11,-38 12,13 13,9 14,-35 15,-6 16,47 17,-8 18,27 19,17 20,20 21,-23 22,-8 23,34 24,-56 25,-4 26,-20 27,-26"/>
<polyline vector-effect="non-scaling-stroke" points="0,-6 1,-14 2,15 3,-3 4,22 5,29 6,8 7,10 8,-41 9,-5 10,27 11,-18 12,0 13,31 14,-23 15,36 16,20 17,-17 18,-21 19,59 20,-39 21,-28 22,26 23,40 24,38 25,14 26,-1 27,-27"/>
<polyline vector-effect="non-scaling-stroke" points="0,-6 1,6 2,3 3,34 4,43 5,32 6,33 7,35 8,20 9,51 10,29 11,37 12,20 13,-6 14,22 15,50 16,20 17,-20 18,20 19,55 20,47 21,15 22,4 23,106 24,71 25,29 26,52 27,-7"/>
<polyline vector-effect="non-scaling-stroke" points="0,-4 1,5 2,-21 3,-37 4,24 5,47 6,9 7,-5 8,9 9,2 10,-39 11,-33 12,37 13,-33 14,-39 15,21 16,13 17,13 18,-15 19,-1 20,-17 21,-44 22,-5 23,56 24,30 25,0 26,-10 27,-14"/>
<polyline vector-effect="non-scaling-stroke" points="0,-9 1,-19 2,-9 3,-38 4,-11 5,-26 6,-9 7,-16 8,5 9,-2 10,-5 11,5 12,-26 13,-23 14,-26 15,-2 16,-25 17,-8 18,10 19,14 20,-5 21,-54 22,11 23,23 24,-56 25,-6 26,-6 27,-38"/>
<polyline vector-effect="non-scaling-stroke" points="0,-32 1,-37 2,4 3,-63 4,43 5,27 6,8 7,29 8,-9 9,-6 10,17 11,18 12,3 13,-16 14,-18 15,39 16,16 17,58 18,3 19,42 20,15 21,-3 22,27 23,53 24,19 25,-10 26,-24 27,-12"/>
<polyline vector-effect="non-scaling-stroke" points="0,-29 1,-45 2,11 3,-7 4,24 5,32 6,8 7,11 8,-29 9,25 10,14 11,-30 12,28 13,12 14,-9 15,12 16,81 17,-25 18,2 19,23 20,-7 21,-52 22,17 23,100 24,68 25,-4 26,-17 27,-7"/>
<polyline vector-effect="non-scaling-stroke" points="0,-29 1,-25 2,-9 3,1 4,4 5,16 6,-16 7,45 8,0 9,-4 10,-24 11,-13 12,3 13,-13 14,24 15,27 16,-10 17,1 18,7 19,36 20,-21 21,46 22,4 23,131 24,-9 25,31 26,-4 27,10"/>
<polyline vector-effect="non-scaling-stroke" points="0,-17 1,-42 2,-20 3,-24 4,27 5,12 6,5 7,21 8,21 9,-10 10,16 11,63 12,1 13,-7 14,2 15,14 16,2 17,-13 18,43 19,40 20,-24 21,-51 22,-18 23,75 24,-18 25,-11 26,11 27,-22"/>
<polyline vector-effect="non-scaling-stroke" points="0,-23 1,-25 2,24 3,-3 4,23 5,2 6,29 7,-32 8,-33 9,-6 10,33 11,28 12,-15 13,-10 14,-1 15,6 16,28 17,-29 18,-26 19,27 20,21 21,-53 22,-34 23,44 24,-56 25,10 26,-20 27,-12"/>
<polyline vector-effect="non-scaling-stroke" points="0,-2 1,2 2,39 3,19 4,17 5,36 6,-3 7,49 8,-4 9,19 10,29 11,39 12,47 13,-2 14,-1 15,38 16,54 17,14 18,64 19,41 20,48 21,50 22,33 23,100 24,71 25,37 26,40 27,-14"/>
<polyline vector-effect="non-scaling-stroke" points="0,10 1,33 2,15 3,23 4,31 5,35 6,-16 7,51 8,19 9,24 10,24 11,59 12,42 13,38 14,45 15,33 16,62 17,51 18,44 19,29 20,42 21,65 22,18 23,117 24,58 25,43 26,9 27,-1"/>
<polyline vector-effect="non-scaling-stroke" points="0,14 1,-16 2,-15 3,12 4,11 5,26 6,-32 7,-2 8,1 9,-18 10,-23 11,-3 12,10 13,-5 14,-4 15,-20 16,-8 17,26 18,-7 19,24 20,-10 21,9 22,6 23,75 24,40 25,9 26,-26 27,-30"/>
<polyline vector-effect="non-scaling-stroke" points="0,16 1,6 2,3 3,-40 4,8 5,42 6,37 7,32 8,-30 9,-9 10,-8 11,-28 12,25 13,-9 14,13 15,13 16,11 17,14 18,25 19,31 20,-2 21,2 22,-26 23,16 24,0 25,18 26,51 27,-5"/>
<polyline vector-effect="non-scaling-stroke" points="0,-25 1,-28 2,-18 3,2 4,18 5,9 6,13 7,25 8,5 9,-8 10,18 11,-25 12,26 13,12 14,37 15,12 16,17 17,-12 18,31 19,31 20,-4 21,20 22,48 23,127 24,66 25,1 26,-1 27,-13"/>
<polyline vector-effect="non-scaling-stroke" points="0,-23 1,34 2,-8 3,27 4,10 5,23 6,41 7,30 8,-10 9,14 10,38 11,18 12,37 13,42 14,-36 15,33 16,76 17,57 18,46 19,26 20,45 21,65 22,11 23,80 24,38 25,19 26,-15 27,-36"/>
<polyline vector-effect="non-scaling-stroke" points="0,-31 1,-34 2,8 3,-18 4,20 5,27 6,62 7,19 8,-26 9,29 10,-4 11,0 12,34 13,21 14,-31 15,-10 16,20 17,7 18,56 19,34 20,-11 21,-18 22,-9 23,27 24,-33 25,-4 26,-1 27,-28"/>
<polyline vector-effect="non-scaling-stroke" points="0,6 1,-4 2,21 3,17 4,45 5,25 6,-22 7,30 8,15 9,20 10,26 11,6 12,42 13,13 14,38 15,40 16,11 17,3 18,52 19,58 20,31 21,-3 22,15 23,115 24,60 25,30 26,3 27,-1"/>
<polyline vector-effect="non-scaling-stroke" points="0,-14 1,-35 2,-11 3,-14 4,-7 5,20 6,28 7,27 8,-17 9,3 10,9 11,-8 12,17 13,8 14,-29 15,41 16,-6 17,-37 18,35 19,6 20,34 21,13 22,19 23,72 24,-23 25,-8 26,6 27,-13"/>
<polyline vector-effect="non-scaling-stroke" points="0,-30 1,-42 2,-14 3,-4 4,25 5,20 6,-3 7,29 8,1 9,39 10,-20 11,7 12,36 13,-29 14,15 15,18 16,38 17,-6 18,33 19,11 20,-15 21,12 22,18 23,26 24,49 25,29 26,20 27,-27"/>
<polyline vector-effect="non-scaling-stroke" points="0,12 1,-7 2,27 3,7 4,14 5,1 6,0 7,26 8,-18 9,4 10,10 11,-5 12,-19 13,0 14,-5 15,46 16,41 17,-24 18,-4 19,18 20,12 21,-16 22,20 23,36 24,32 25,36 26,-26 27,-13"/>
<polyline vector-effect="non-scaling-stroke" points="0,-9 1,-14 2,4 3,-1 4,24 5,10 6,8 7,33 8,10 9,29 10,-14 11,-15 12,37 13,-12 14,19 15,-12 16,74 17,22 18,1 19,13 20,-49 21,-4 22,29 23,93 24,5 25,46 26,10 27,-10"/>
<polyline vector-effect="non-scaling-stroke" points="0,6 1,21 2,62 3,37 4,14 5,32 6,62 7,53 8,8 9,49 10,-2 11,60 12,29 13,26 14,17 15,26 16,91 17,58 18,36 19,58 20,65 21,26 22,26 23,94 24,102 25,39 26,35 27,1"/>
<polyline vector-effect="non-scaling-stroke" points="0,-19 1,6 2,-5 3,-3 4,-9 5,-3 6,4 7,1 8,-27 9,6 10,2 11,-49 12,35 13,10 14,-22 15,14 16,37 17,1 18,18 19,31 20,25 21,-28 22,2 23,98 24,26 25,-4 26,0 27,-21"/>
<polyline vector-effect="non-scaling-stroke" points="0,-11 1,-48 2,-25 3,-41 4,16 5,44 6,27 7,27 8,-10 9,44 10,5 11,-3 12,39 13,-15 14,-45 15,-8 16,55 17,14 18,14 19,18 20,-3 21,7 22,-9 23,99 24,-17 25,35 26,-4 27,-28"/>
<polyline vector-effect="non-scaling-stroke" points="0,-11 1,-31 2,5 3,-43 4,15 5,15 6,21 7,3 8,21 9,-13 10,0 11,-8 12,23 13,9 14,35 15,18 16,5 17,58 18,17 19,26 20,29 21,-10 22,8 23,111 24,-15 25,7 26,29 27,21"/>
<polyline vector-effect="non-scaling-stroke" points="0,3 1,-3 2,48 3,-12 4,25 5,12 6,-13 7,-35 8,1 9,52 10,35 11,66 12,-17 13,25 14,50 15,16 16,12 17,25 18,33 19,60 20,25 21,54 22,39 23,114 24,35 25,41 26,5 27,19"/>
<polyline vector-effect="non-scaling-stroke" points="0,3 1,-7 2,-23 3,8 4,21 5,18 6,-27 7,-13 8,-14 9,35 10,-17 11,14 12,16 13,40 14,-1 15,-21 16,7 17,-7 18,33 19,33 20,-12 21,-40 22,3 23,63 24,50 25,23 26,-20 27,-45"/>
<polyline vector-effect="non-scaling-stroke" points="0,-26 1,-27 2,-24 3,-32 4,30 5,11 6,-34 7,-1 8,-16 9,-3 10,-3 11,-5 12,54 13,1 14,-29 15,-7 16,20 17,25 18,11 19,22 20,-7 21,-29 22,-3 23,14 24,19 25,8 26,-5 27,-36"/>
<polyline vector-effect="non-scaling-stroke" points="0,-1 1,-15 2,29 3,16 4,43 5,36 6,52 7,2 8,1 9,8 10,47 11,-3 12,62 13,17 14,42 15,20 16,36 17,18 18,33 19,41 20,40 21,51 22,41 23,90 24,-16 25,30 26,-23 27,13"/>
<polyline vector-effect="non-scaling-stroke" points="0,8 1,-32 2,27 3,0 4,54 5,6 6,2 7,3 8,6 9,3 10,58 11,0 12,62 13,15 14,3 15,11 16,14 17,17 18,51 19,39 20,-6 21,17 22,3 23,5 24,37 25,-14 26,-1 27,-5"/>
<polyline vector-effect="non-scaling-stroke" points="0,-17 1,-25 2,37 3,22 4,48 5,13 6,12 7,38 8,-18 9,17 10,1 11,3 12,30 13,12 14,16 15,-2 16,31 17,-30 18,35 19,46 20,-3 21,-14 22,7 23,94 24,-34 25,-10 26,22 27,-18"/>
<polyline vector-effect="non-scaling-stroke" points="0,-26 1,-54 2,-1 3,-44 4,25 5,11 6,49 7,-18 8,7 9,-6 10,-17 11,-4 12,5 13,46 14,1 15,3 16,86 17,-21 18,8 19,23 20,-13 21,17 22,33 23,39 24,5 25,7 26,-15 27,-31"/>
<polyline vector-effect="non-scaling-stroke" points="0,-5 1,-23 2,26 3,33 4,37 5,24 6,5 7,8 8,14 9,39 10,13 11,36 12,28 13,1 14,22 15,20 16,-1 17,32 18,37 19,57 20,9 21,54 22,31 23,129 24,19 25,20 26,52 27,-3"/>
<polyline vector-effect="non-scaling-stroke" points="0,-27 1,-16 2,2 3,-27 4,32 5,-26 6,-17 7,-32 8,-6 9,18 10,-32 11,-26 12,13 13,-4 14,-20 15,10 16,37 17,-31 18,-26 19,-4 20,-28 21,-41 22,-2 23,60 24,5 25,-4 26,-11 27,-45"/>
<polyline vector-effect="non-scaling-stroke" points="0,-3 1,-21 2,28 3,19 4,35 5,29 6,19 7,40 8,30 9,10 10,46 11,10 12,21 13,20 14,-9 15,35 16,74 17,-21 18,40 19,56 20,38 21,36 22,32 23,89 24,72 25,32 26,41 27,5"/>
<polyline vector-effect="non-scaling-stroke" points="0,-13 1,-20 2,18 3,25 4,-17 5,-9 6,-21 7,-4 8,-17 9,17 10,-5 11,39 12,8 13,-2 14,-15 15,10 16,24 17,-15 18,-2 19,-2 20,9 21,-12 22,-9 23,71 24,29 25,48 26,43 27,-26"/>
<polyline vector-effect="non-scaling-stroke" points="0,-10 1,-43 2,-20 3,-35 4,46 5,15 6,-9 7,3 8,-9 9,9 10,42 11,-32 12,20 13,24 14,20 15,-15 16,37 17,-22 18,11 19,2 20,33 21,65 22,37 23,84 24,-23 25,36 26,43 27,-23"/>
<polyline vector-effect="non-scaling-stroke" points="0,6 1,-46 2,-15 3,11 4,-6 5,22 6,39 7,10 8,3 9,48 10,13 11,41 12,49 13,-7 14,50 15,38 16,26 17,17 18,21 19,33 20,-17 21,-7 22,5 23,115 24,37 25,22 26,1 27,10"/>
<polyline vector-effect="non-scaling-stroke" points="0,-19 1,-2 2,62 3,30 4,65 5,47 6,61 7,13 8,24 9,25 10,50 11,80 12,49 13,52 14,35 15,62 16,71 17,43 18,66 19,84 20,61 21,43 22,43 23,147 24,94 25,37 26,31 27,13"/>
<polyline vector-effect="non-scaling-stroke" points="0,-6 1,-29 2,-16 3,-9 4,8 5,17 6,-4 7,-5 8,27 9,18 10,-19 11,29 12,9 13,-8 14,10 15,-13 16,15 17,5 18,25 19,11 20,-12 21,-6 22,28 23,15 24,39 25,16 26,31 27,-31"/>
<polyline vector-effect="non-scaling-stroke" points="0,20 1,-21 2,27 3,13 4,-14 5,20 6,32 7,36 8,-7 9,6 10,32 11,8 12,53 13,50 14,11 15,25 16,20 17,-33 18,29 19,58 20,46 21,18 22,57 23,86 24,41 25,17 26,7 27,-6"/>
<polyline vector-effect="non-scaling-stroke" points="0,-35 1,-45 2,-11 3,-27 4,-24 5,0 6,-28 7,-9 8,-24 9,-26 10,-39 11,-7 12,-16 13,-25 14,-32 15,-4 16,8 17,-38 18,23 19,-11 20,-36 21,-33 22,-10 23,87 24,55 25,-18 26,-15 27,-22"/>
<polyline vector-effect="non-scaling-stroke" points="0,-9 1,2 2,-10 3,25 4,-19 5,21 6,26 7,54 8,-18 9,31 10,18 11,-17 12,29 13,-2 14,-19 15,-8 16,19 17,-24 18,-19 19,36 20,-33 21,22 22,17 23,58 24,-27 25,-2 26,-13 27,-17"/>
<polyline vector-effect="non-scaling-stroke" points="0,-7 1,36 2,-21 3,5 4,42 5,33 6,48 7,-2 8,20 9,-26 10,7 11,42 12,44 13,-6 14,-5 15,-13 16,16 17,-23 18,31 19,22 20,32 21,11 22,13 23,149 24,74 25,-3 26,52 27,9"/>
<polyline vector-effect="non-scaling-stroke" points="0,1 1,-23 2,-34 3,-25 4,-26 5,-22 6,-16 7,19 8,-17 9,5 10,2 11,-34 12,29 13,3 14,-32 15,-7 16,2 17,-5 18,30 19,5 20,-17 21,29 22,58 23,114 24,3 25,-8 26,2 27,-19"/>
<polyline vector-effect="non-scaling-stroke" points="0,-33 1,-10 2,41 3,-47 4,-14 5,-12 6,-32 7,5 8,-41 9,9 10,-9 11,-5 12,-26 13,-4 14,-12 15,15 16,9 17,-38 18,17 19,37 20,15 21,-41 22,2 23,18 24,-17 25,10 26,-26 27,20"/>
<polyline vector-effect="non-scaling-stroke" points="0,13 1,-29 2,-2 3,9 4,22 5,-6 6,10 7,-22 8,-14 9,56 10,3 11,-6 12,54 13,21 14,18 15,8 16,55 17,-7 18,37 19,45 20,50 21,31 22,13 23,50 24,15 25,3 26,47 27,-17"/>
<polyline vector-effect="non-scaling-stroke" points="0,-33 1,3 2,38 3,-2 4,47 5,0 6,28 7,17 8,12 9,36 10,0 11,45 12,23 13,26 14,48 15,10 16,40 17,51 18,58 19,25 20,5 21,31 22,9 23,102 24,-5 25,36 26,-10 27,0"/>
<polyline vector-effect="non-scaling-stroke" points="0,14 1,-18 2,-10 3,-11 4,-4 5,47 6,-14 7,-5 8,15 9,30 10,41 11,65 12,43 13,24 14,4 15,26 16,67 17,29 18,45 19,5 20,4 21,2 22,13 23,68 24,66 25,45 26,69 27,-11"/>
<polyline vector-effect="non-scaling-stroke" points="0,-14 1,-21 2,1 3,-27 4,33 5,-26 6,-4 7,-39 8,0 9,-15 10,-25 11,-7 12,-6 13,12 14,-12 15,48 16,-9 17,-28 18,21 19,24 20,10 21,-12 22,24 23,84 24,56 25,-20 26,2 27,-20"/>
<polyline vector-effect="non-scaling-stroke" points="0,2 1,-30 2,30 3,-26 4,44 5,23 6,-20 7,21 8,-32 9,32 10,-24 11,5 12,21 13,-16 14,-31 15,31 16,17 17,31 18,18 19,84 20,17 21,54 22,22 23,92 24,47 25,4 26,-3 27,22"/>
<polyline vector-effect="non-scaling-stroke" points="0,-20 1,-48 2,4 3,-38 4,11 5,19 6,25 7,31 8,5 9,14 10,0 11,-7 12,8 13,44 14,-12 15,37 16,6 17,13 18,-26 19,18 20,-25 21,27 22,28 23,40 24,-2 25,21 26,-1 27,-20"/>
<polyline vector-effect="non-scaling-stroke" points="0,24 1,-23 2,62 3,34 4,-17 5,13 6,30 7,54 8,15 9,5 10,57 11,47 12,42 13,52 14,17 15,34 16,80 17,35 18,63 19,43 20,65 21,-7 22,4 23,130 24,46 25,37 26,32 27,4"/>
<polyline vector-effect="non-scaling-stroke" points="0,-25 1,-14 2,34 3,-21 4,57 5,33 6,-8 7,22 8,-25 9,10 10,-20 11,-14 12,-19 13,8 14,-22 15,-2 16,-21 17,-4 18,58 19,17 20,0 21,-29 22,0 23,49 24,-35 25,-6 26,-5 27,-9"/>
<polyline vector-effect="non-scaling-stroke" points="0,-1 1,6 2,55 3,39 4,30 5,-4 6,24 7,26 8,33 9,35 10,58 11,15 12,51 13,11 14,-2 15,26 16,50 17,35 18,-26 19,73 20,62 21,58 22,43 23,103 24,66 25,52 26,0 27,14"/>
<polyline vector-effect="non-scaling-stroke" points="0,0 1,-20 2,48 3,-13 4,2 5,11 6,-1 7,34 8,-31 9,-9 10,9 11,24 12,-3 13,37 14,-37 15,36 16,3 17,-13 18,58 19,26 20,-10 21,9 22,48 23,84 24,-5 25,19 26,-13 27,-23"/>
<polyline vector-effect="non-scaling-stroke" points="0,-17 1,-5 2,-3 3,17 4,44 5,34 6,-23 7,7 8,-25 9,27 10,6 11,-1 12,10 13,-8 14,-34 15,34 16,17 17,-3 18,20 19,45 20,51 21,-3 22,23 23,24 24,6 25,-1 26,-6 27,7"/>
<polyline vector-effect="non-scaling-stroke" points="0,9 1,4 2,29 3,21 4,36 5,16 6,19 7,18 8,9 9,-2 10,25 11,29 12,48 13,9 14,2 15,49 16,27 17,33 18,20 19,22 20,-7 21,11 22,20 23,72 24,99 25,32 26,3 27,32"/>
<polyline vector-effect="non-scaling-stroke" points="0,-1 1,-36 2,-17 3,-8 4,30 5,-16 6,28 7,-7 8,4 9,6 10,5 11,9 12,40 13,-8 14,38 15,-13 16,21 17,6 18,9 19,41 20,-42 21,-7 22,24 23,71 24,-26 25,11 26,1 27,-31"/>
<polyline vector-effect="non-scaling-stroke" points="0,26 1,-13 2,2 3,24 4,25 5,21 6,32 7,16 8,23 9,38 10,48 11,-5 12,38 13,32 14,26 15,-7 16,16 17,25 18,47 19,47 20,30 21,54 22,19 23,83 24,97 25,40 26,19 27,-12"/>
<polyline vector-effect="non-scaling-stroke" points="0,17 1,-23 2,-9 3,30 4,-9 5,9 6,23 7,2 8,-15 9,22 10,-21 11,-6 12,35 13,-10 14,32 15,12 16,19 17,-14 18,26 19,16 20,11 21,33 22,34 23,29 24,64 25,3 26,8 27,-12"/>
<polyline vector-effect="non-scaling-stroke" points="0,-9 1,-33 2,12 3,21 4,4 5,7 6,21 7,23 8,-7 9,13 10,5 11,-14 12,22 13,1 14,-11 15,-26 16,-21 17,-1 18,24 19,30 20,1 21,-13 22,15 23,57 24,10 25,35 26,-18 27,-26"/>
<polyline vector-effect="non-scaling-stroke" points="0,-16 1,-54 2,-20 3,22 4,27 5,5 6,32 7,-19 8,28 9,8 10,-15 11,24 12,26 13,11 14,-7 15,-22 16,-26 17,-10 18,29 19,4 20,1 21,-45 22,-24 23,69 24,33 25,22 26,25 27,-28"/>
<polyline vector-effect="non-scaling-stroke" points="0,0 1,14 2,0 3,15 4,36 5,21 6,43 7,29 8,-2 9,-14 10,35 11,54 12,45 13,32 14,27 15,51 16,26 17,12 18,8 19,38 20,3 21,-1 22,-14 23,100 24,76 25,-34 26,55 27,-2"/>
<polyline vector-effect="non-scaling-stroke" points="0,-18 1,-11 2,2 3,7 4,50 5,15 6,19 7,4 8,-9 9,-1 10,0 11,-16 12,44 13,9 14,19 15,41 16,51 17,-17 18,55 19,-13 20,41 21,-56 22,-6 23,80 24,-2 25,-29 26,-15 27,-8"/>
<polyline vector-effect="non-scaling-stroke" points="0,-34 1,-7 2,29 3,30 4,25 5,9 6,1 7,54 8,17 9,25 10,7 11,31 12,-20 13,27 14,-12 15,-26 16,49 17,-23 18,21 19,9 20,-6 21,41 22,15 23,91 24,-35 25,29 26,-7 27,-7"/>
<polyline vector-effect="non-scaling-stroke" points="0,-33 1,-24 2,3 3,-58 4,15 5,-14 6,22 7,2 8,-16 9,66 10,5 11,-23 12,25 13,4 14,17 15,-14 16,57 17,-30 18,-4 19,-3 20,-19 21,33 22,1 23,22 24,-7 25,5 26,9 27,-27"/>
<polyline vector-effect="non-scaling-stroke" points="0,6 1,36 2,18 3,23 4,12 5,35 6,15 7,54 8,34 9,47 10,6 11,10 12,27 13,27 14,9 15,19 16,43 17,14 18,21 19,64 20,48 21,6 22,58 23,114 24,84 25,58 26,-7 27,9"/>
<polyline vector-effect="non-scaling-stroke" points="0,17 1,22 2,38 3,37 4,4 5,6 6,36 7,-22 8,-6 9,23 10,24 11,49 12,38 13,8 14,-5 15,36 16,55 17,22 18,32 19,44 20,-13 21,17 22,37 23,65 24,56 25,38 26,69 27,-3"/>
<polyline vector-effect="non-scaling-stroke" points="0,-9 1,-34 2,-9 3,-34 4,-10 5,26 6,16 7,19 8,-27 9,-17 10,-26 11,61 12,48 13,-9 14,10 15,25 16,7 17,-12 18,43 19,50 20,34 21,17 22,18 23,105 24,24 25,49 26,15 27,2"/>
<polyline vector-effect="non-scaling-stroke" points="0,-2 1,-21 2,16 3,12 4,16 5,31 6,62 7,23 8,1 9,10 10,-16 11,36 12,42 13,7 14,15 15,10 16,76 17,13 18,36 19,78 20,-37 21,26 22,26 23,89 24,38 25,46 26,0 27,-15"/>
<polyline vector-effect="non-scaling-stroke" points="0,-6 1,-27 2,-12 3,-14 4,-8 5,-18 6,-22 7,-17 8,-36 9,-26 10,-29 11,-26 12,-12 13,-4 14,-23 15,6 16,-7 17,-42 18,-2 19,14 20,-43 21,-56 22,7 23,12 24,-17 25,-27 26,-14 27,-15"/>
<polyline vector-effect="non-scaling-stroke" points="0,17 1,-41 2,-21 3,-63 4,31 5,32 6,13 7,0 8,8 9,-4 10,13 11,39 12,43 13,23 14,-11 15,8 16,0 17,40 18,40 19,23 20,1 21,5 22,-5 23,94 24,33 25,20 26,1 27,-45"/>
<polyline vector-effect="non-scaling-stroke" points="0,-9 1,-37 2,-19 3,51 4,17 5,12 6,9 7,-5 8,33 9,-14 10,17 11,-8 12,50 13,32 14,8 15,-7 16,49 17,26 18,34 19,26 20,26 21,-12 22,19 23,99 24,20 25,-2 26,2 27,-22"/>
<polyline vector-effect="non-scaling-stroke" points="0,-23 1,8 2,6 3,-3 4,15 5,20 6,8 7,-3 8,2 9,20 10,-12 11,-19 12,50 13,10 14,33 15,31 16,24 17,-4 18,57 19,17 20,0 21,-14 22,11 23,55 24,30 25,-8 26,20 27,-4"/>
<polyline vector-effect="non-scaling-stroke" points="0,-9 1,-31 2,30 3,40 4,16 5,-4 6,20 7,0 8,-8 9,24 10,-27 11,16 12,-4 13,-16 14,-10 15,40 16,5 17,4 18,-5 19,37 20,9 21,27 22,10 23,75 24,-47 25,17 26,18 27,-13"/>
<polyline vector-effect="non-scaling-stroke" points="0,-2 1,-1 2,30 3,-13 4,25 5,21 6,20 7,-7 8,-33 9,26 10,23 11,61 12,34 13,-1 14,17 15,19 16,12 17,-31 18,-14 19,17 20,1 21,9 22,15 23,95 24,91 25,17 26,45 27,-21"/>
<polyline vector-effect="non-scaling-stroke" points="0,-23 1,-31 2,-30 3,32 4,22 5,18 6,41 7,12 8,22 9,-26 10,24 11,0 12,4 13,27 14,-4 15,-1 16,-24 17,34 18,-26 19,23 20,38 21,12 22,-7 23,63 24,-9 25,14 26,-2 27,-35"/>
<polyline vector-effect="non-scaling-stroke" points="0,-33 1,1 2,-20 3,-35 4,62 5,-6 6,-20 7,-18 8,4 9,-4 10,-6 11,-49 12,3 13,8 14,-3 15,39 16,28 17,-56 18,-19 19,2 20,-8 21,-3 22,17 23,14 24,-56 25,24 26,-14 27,-45"/>
<polyline vector-effect="non-scaling-stroke" points="0,-30 1,-35 2,-25 3,-47 4,31 5,-16 6,5 7,0 8,-21 9,54 10,-34 11,65 12,-11 13,-5 14,-4 15,26 16,24 17,-24 18,-2 19,41 20,29 21,-26 22,23 23,81 24,10 25,-21 26,-20 27,-15"/>
<polyline vector-effect="non-scaling-stroke" points="0,-41 1,-24 2,18 3,-40 4,56 5,38 6,-8 7,9 8,-7 9,7 10,-5 11,19 12,57 13,17 14,7 15,22 16,10 17,16 18,7 19,9 20,25 21,-42 22,3 23,73 24,21 25,-15 26,-8 27,-13"/>
<polyline vector-effect="non-scaling-stroke" points="0,-4 1,-25 2,-3 3,-27 4,17 5,-26 6,18 7,21 8,-12 9,-8 10,25 11,-21 12,42 13,1 14,-20 15,7 16,1 17,-13 18,18 19,15 20,-13 21,-6 22,12 23,71 24,29 25,20 26,2 27,-6"/>
<polyline vector-effect="non-scaling-stroke" points="0,-11 1,3 2,10 3,20 4,15 5,-14 6,-2 7,5 8,-3 9,10 10,31 11,-32 12,-19 13,5 14,-16 15,14 16,34 17,58 18,-12 19,0 20,0 21,-39 22,-8 23,115 24,13 25,10 26,26 27,-39"/>
<polyline vector-effect="non-scaling-stroke" points="0,6 1,-2 2,29 3,1 4,29 5,22 6,42 7,10 8,23 9,-9 10,29 11,50 12,19 13,22 14,19 15,36 16,77 17,21 18,27 19,41 20,31 21,42 22,31 23,89 24,35 25,14 26,1 27,-8"/>
<polyline vector-effect="non-scaling-stroke" points="0,-16 1,-1 2,-14 3,11 4,-1 5,24 6,18 7,33 8,5 9,-3 10,3 11,-12 12,12 13,-7 14,-4 15,19 16,28 17,58 18,12 19,30 20,5 21,-3 22,6 23,85 24,16 25,28 26,14 27,-24"/>
<polyline vector-effect="non-scaling-stroke" points="0,-8 1,-11 2,2 3,3 4,22 5,21 6,15 7,-2 8,-7 9,42 10,-14 11,22 12,18 13,58 14,17 15,19 16,21 17,-35 18,6 19,74 20,16 21,-3 22,12 23,85 24,-8 25,18 26,16 27,-32"/>
<polyline vector-effect="non-scaling-stroke" points="0,-22 1,-56 2,-34 3,10 4,32 5,28 6,-27 7,-8 8,-22 9,21 10,-6 11,-14 12,19 13,-11 14,7 15,-2 16,31 17,-15 18,5 19,-12 20,-49 21,-54 22,6 23,3 24,41 25,-7 26,-22 27,-18"/>
<polyline vector-effect="non-scaling-stroke" points="0,-28 1,-21 2,-2 3,25 4,35 5,22 6,-2 7,27 8,-11 9,12 10,7 11,1 12,-9 13,21 14,-33 15,21 16,16 17,-5 18,-8 19,45 20,-2 21,18 22,-7 23,52 24,16 25,29 26,-16 27,-23"/>
<polyline vector-effect="non-scaling-stroke" points="0,-8 1,-12 2,9 3,36 4,46 5,21 6,40 7,38 8,-7 9,12 10,30 11,80 12,-13 13,12 14,32 15,13 16,61 17,17 18,3 19,30 20,29 21,-5 22,33 23,109 24,30 25,32 26,7 27,1"/>
<polyline vector-effect="non-scaling-stroke" points="0,-17 1,20 2,8 3,34 4,68 5,39 6,18 7,18 8,-1 9,28 10,-6 11,-30 12,34 13,20 14,44 15,55 16,2 17,-15 18,40 19,62 20,18 21,13 22,-17 23,157 24,10 25,31 26,20 27,-20"/>
<polyline vector-effect="non-scaling-stroke" points="0,6 1,15 2,7 3,13 4,37 5,27 6,30 7,-8 8,-19 9,6 10,-41 11,-25 12,20 13,2 14,-13 15,34 16,33 17,19 18,13 19,21 20,-12 21,11 22,-21 23,57 24,43 25,31 26,3 27,-27"/>
</g></g>
<g clip-path="url(#cI1)" fill="none" stroke-width="1.15" stroke-linejoin="round">
<polyline points="403.5,332.8 413.6,335.3 423.7,328.7 433.8,327.8 444.0,324.0 454.1,327.0 464.2,327.3 474.3,327.8 484.4,332.3 494.5,326.4 504.6,329.8 514.8,330.3 524.9,324.2 535.0,326.7 545.1,329.8 555.2,325.6 565.3,324.2 575.5,330.9 585.6,326.4 595.7,322.6 605.8,328.4 615.9,329.5 626.0,327.3 636.1,307.3 646.3,324.2 656.4,326.2 666.5,329.8 676.6,333.9" stroke="#d9244e"/>
</g>
<path d="M676.6,247.5V358.3" stroke="#a0a0a0" stroke-width="0.9" fill="none"/>
<path d="M403.5,247.5H676.6M676.6,358.3H403.5V247.5M433.8,358.3v-2.8M433.8,247.5v2.8M484.4,358.3v-2.8M484.4,247.5v2.8M535.0,358.3v-2.8M535.0,247.5v2.8M636.1,358.3v-2.8M636.1,247.5v2.8M403.5,358.3h2.8M676.6,358.3h-2.8M403.5,330.6h2.8M676.6,330.6h-2.8M403.5,302.9h2.8M676.6,302.9h-2.8M403.5,275.2h2.8M676.6,275.2h-2.8" stroke="#777" stroke-width="0.9" fill="none"/>
<text x="398.3" y="279.6" font-size="11.4" font-weight="normal" text-anchor="end" fill="#262626" >2</text>
<text x="398.3" y="307.3" font-size="11.4" font-weight="normal" text-anchor="end" fill="#262626" >1</text>
<text x="398.3" y="335.0" font-size="11.4" font-weight="normal" text-anchor="end" fill="#262626" >0</text>
<text x="398.3" y="362.7" font-size="11.4" font-weight="normal" text-anchor="end" fill="#262626" >-1</text>
<text x="433.8" y="375.1" font-size="11" font-weight="normal" text-anchor="middle" fill="#262626" >1.33</text>
<text x="484.4" y="375.1" font-size="11" font-weight="normal" text-anchor="middle" fill="#262626" >2</text>
<text x="535.0" y="375.1" font-size="11" font-weight="normal" text-anchor="middle" fill="#262626" >2.66</text>
<text x="636.1" y="375.1" font-size="11" font-weight="normal" text-anchor="middle" fill="#262626" >4</text>
<text x="539.7" y="391.3" font-size="12.6" font-weight="normal" text-anchor="middle" fill="#262626" >freq (Hz)</text>
<text x="0" y="0" font-size="13" text-anchor="middle" fill="#262626" transform="translate(382.9,302.9) rotate(-90)">SNR</text>
<clipPath id="cI2"><rect x="403.5" y="433.40000000000003" width="273.1" height="110.80000000000001"/></clipPath>
<path d="M433.8,433.4V544.2M484.4,433.4V544.2M535.0,433.4V544.2M636.1,433.4V544.2M403.5,516.5H676.6M403.5,488.8H676.6M403.5,461.1H676.6" stroke="#e7e7e7" stroke-width="0.8" fill="none"/>
<g clip-path="url(#cI2)"><g transform="translate(403.50,516.50) scale(10.1148,-0.2770)" fill="none" stroke="#d4d4d4" stroke-width="0.55" stroke-linejoin="round">
<polyline vector-effect="non-scaling-stroke" points="0,-3 1,47 2,-30 3,67 4,-10 5,17 6,13 7,26 8,29 9,0 10,-7 11,6 12,14 13,59 14,40 15,-7 16,37 17,-5 18,19 19,38 20,51 21,21 22,15 23,286 24,33 25,0 26,38 27,-3"/>
<polyline vector-effect="non-scaling-stroke" points="0,-22 1,27 2,-17 3,-10 4,11 5,22 6,-3 7,-20 8,10 9,10 10,-8 11,-13 12,11 13,34 14,-23 15,-8 16,-2 17,-26 18,10 19,29 20,59 21,5 22,20 23,53 24,4 25,9 26,-16 27,36"/>
<polyline vector-effect="non-scaling-stroke" points="0,8 1,10 2,-10 3,17 4,-15 5,-7 6,13 7,42 8,-6 9,-4 10,-22 11,17 12,7 13,56 14,39 15,26 16,-8 17,3 18,17 19,22 20,-3 21,11 22,-17 23,123 24,18 25,-49 26,22 27,57"/>
<polyline vector-effect="non-scaling-stroke" points="0,-14 1,-15 2,3 3,0 4,-5 5,0 6,-1 7,5 8,-13 9,-12 10,13 11,-14 12,-10 13,3 14,4 15,3 16,-18 17,-5 18,-34 19,-36 20,23 21,36 22,-11 23,123 24,-12 25,-13 26,7 27,20"/>
<polyline vector-effect="non-scaling-stroke" points="0,3 1,51 2,-7 3,83 4,0 5,41 6,68 7,69 8,39 9,-5 10,51 11,20 12,5 13,38 14,4 15,48 16,48 17,33 18,48 19,37 20,62 21,54 22,58 23,221 24,34 25,-6 26,22 27,36"/>
<polyline vector-effect="non-scaling-stroke" points="0,16 1,-3 2,1 3,59 4,5 5,8 6,46 7,13 8,48 9,4 10,32 11,7 12,47 13,69 14,44 15,17 16,1 17,-14 18,23 19,62 20,59 21,38 22,0 23,285 24,45 25,-1 26,-15 27,17"/>
<polyline vector-effect="non-scaling-stroke" points="0,-9 1,28 2,-10 3,38 4,26 5,29 6,23 7,22 8,39 9,-13 10,8 11,-3 12,-16 13,32 14,17 15,44 16,25 17,14 18,1 19,-24 20,-1 21,5 22,-11 23,256 24,36 25,-17 26,36 27,23"/>
<polyline vector-effect="non-scaling-stroke" points="0,17 1,-7 2,-2 3,29 4,-6 5,17 6,50 7,8 8,14 9,-20 10,-5 11,13 12,-23 13,7 14,-19 15,12 16,24 17,-6 18,-3 19,-15 20,-33 21,-10 22,28 23,96 24,12 25,-24 26,-14 27,28"/>
<polyline vector-effect="non-scaling-stroke" points="0,11 1,-23 2,-31 3,69 4,-11 5,3 6,0 7,25 8,1 9,-2 10,-11 11,59 12,58 13,35 14,16 15,28 16,14 17,-3 18,6 19,42 20,-6 21,-18 22,23 23,74 24,46 25,-11 26,15 27,43"/>
<polyline vector-effect="non-scaling-stroke" points="0,5 1,17 2,-11 3,63 4,24 5,-6 6,44 7,45 8,39 9,2 10,40 11,55 12,5 13,-4 14,-1 15,25 16,65 17,32 18,33 19,18 20,52 21,13 22,-5 23,72 24,43 25,-29 26,42 27,65"/>
<polyline vector-effect="non-scaling-stroke" points="0,11 1,5 2,-5 3,51 4,24 5,40 6,22 7,25 8,21 9,53 10,49 11,11 12,15 13,51 14,-12 15,20 16,39 17,-20 18,30 19,40 20,31 21,44 22,3 23,221 24,30 25,34 26,10 27,42"/>
<polyline vector-effect="non-scaling-stroke" points="0,10 1,28 2,26 3,8 4,1 5,-16 6,43 7,46 8,13 9,16 10,41 11,19 12,5 13,-8 14,-6 15,36 16,-21 17,6 18,17 19,25 20,45 21,-16 22,37 23,112 24,38 25,-17 26,17 27,9"/>
<polyline vector-effect="non-scaling-stroke" points="0,17 1,-27 2,-31 3,63 4,6 5,-8 6,4 7,-25 8,-1 9,5 10,24 11,23 12,25 13,25 14,-14 15,1 16,43 17,-13 18,29 19,-31 20,-2 21,-34 22,2 23,74 24,-13 25,-18 26,-26 27,-13"/>
<polyline vector-effect="non-scaling-stroke" points="0,10 1,-13 2,-3 3,31 4,-1 5,13 6,37 7,31 8,6 9,51 10,21 11,4 12,39 13,25 14,45 15,37 16,16 17,-8 18,0 19,10 20,26 21,41 22,16 23,137 24,33 25,-9 26,-5 27,-16"/>
<polyline vector-effect="non-scaling-stroke" points="0,26 1,7 2,30 3,79 4,11 5,25 6,20 7,19 8,27 9,14 10,50 11,17 12,30 13,38 14,19 15,55 16,-20 17,28 18,4 19,34 20,24 21,-3 22,-16 23,32 24,57 25,18 26,11 27,-26"/>
<polyline vector-effect="non-scaling-stroke" points="0,-1 1,24 2,-12 3,-19 4,-17 5,-5 6,4 7,26 8,-23 9,-19 10,-34 11,24 12,6 13,2 14,-30 15,21 16,-40 17,-54 18,-34 19,-33 20,-21 21,-48 22,17 23,128 24,11 25,-30 26,-1 27,-37"/>
<polyline vector-effect="non-scaling-stroke" points="0,5 1,-15 2,-19 3,55 4,-13 5,-25 6,43 7,-26 8,-16 9,-18 10,-6 11,9 12,-34 13,15 14,30 15,38 16,39 17,-6 18,15 19,7 20,-24 21,11 22,29 23,146 24,22 25,12 26,16 27,38"/>
<polyline vector-effect="non-scaling-stroke" points="0,-10 1,-36 2,2 3,63 4,-12 5,7 6,37 7,-38 8,75 9,26 10,3 11,-14 12,-23 13,95 14,-3 15,29 16,-6 17,-13 18,24 19,-4 20,23 21,-5 22,17 23,195 24,18 25,25 26,2 27,4"/>
<polyline vector-effect="non-scaling-stroke" points="0,-7 1,-7 2,1 3,-19 4,-33 5,-41 6,44 7,26 8,-10 9,9 10,-32 11,-3 12,30 13,35 14,38 15,0 16,37 17,-10 18,10 19,20 20,36 21,27 22,1 23,127 24,13 25,-9 26,-9 27,29"/>
<polyline vector-effect="non-scaling-stroke" points="0,14 1,17 2,-3 3,36 4,-11 5,-15 6,8 7,41 8,34 9,-18 10,-7 11,52 12,47 13,57 14,49 15,8 16,33 17,-14 18,62 19,38 20,42 21,18 22,-2 23,138 24,-19 25,-11 26,-2 27,37"/>
<polyline vector-effect="non-scaling-stroke" points="0,33 1,24 2,-16 3,36 4,31 5,11 6,31 7,6 8,40 9,30 10,44 11,7 12,20 13,10 14,20 15,29 16,21 17,32 18,-1 19,72 20,51 21,34 22,27 23,125 24,25 25,32 26,23 27,37"/>
<polyline vector-effect="non-scaling-stroke" points="0,4 1,35 2,20 3,30 4,54 5,42 6,54 7,38 8,33 9,46 10,69 11,27 12,-2 13,45 14,17 15,47 16,-2 17,3 18,18 19,59 20,66 21,24 22,44 23,190 24,34 25,-38 26,6 27,3"/>
<polyline vector-effect="non-scaling-stroke" points="0,2 1,3 2,-37 3,43 4,-6 5,5 6,1 7,-8 8,41 9,-4 10,25 11,-14 12,-3 13,13 14,-16 15,25 16,-30 17,-4 18,-34 19,33 20,19 21,23 22,43 23,85 24,17 25,-37 26,-2 27,10"/>
<polyline vector-effect="non-scaling-stroke" points="0,-4 1,19 2,0 3,62 4,-12 5,2 6,-8 7,8 8,-41 9,3 10,5 11,-1 12,-4 13,-17 14,-9 15,2 16,13 17,4 18,-1 19,15 20,31 21,-28 22,25 23,288 24,27 25,-20 26,11 27,36"/>
<polyline vector-effect="non-scaling-stroke" points="0,28 1,-13 2,8 3,41 4,1 5,19 6,43 7,20 8,8 9,14 10,-3 11,66 12,-13 13,56 14,13 15,25 16,-3 17,-4 18,13 19,21 20,32 21,16 22,7 23,200 24,40 25,-10 26,33 27,26"/>
<polyline vector-effect="non-scaling-stroke" points="0,-12 1,15 2,14 3,38 4,-28 5,19 6,42 7,-12 8,13 9,18 10,-34 11,30 12,20 13,48 14,30 15,-4 16,40 17,45 18,-34 19,11 20,41 21,-20 22,-33 23,142 24,25 25,-22 26,13 27,33"/>
<polyline vector-effect="non-scaling-stroke" points="0,14 1,14 2,-36 3,37 4,-34 5,-20 6,24 7,26 8,15 9,6 10,-30 11,-18 12,-16 13,11 14,-7 15,55 16,41 17,-33 18,-4 19,6 20,6 21,-16 22,-39 23,216 24,32 25,4 26,10 27,23"/>
<polyline vector-effect="non-scaling-stroke" points="0,11 1,-13 2,18 3,66 4,-3 5,-19 6,69 7,18 8,40 9,18 10,69 11,4 12,52 13,-6 14,43 15,28 16,-17 17,23 18,32 19,9 20,59 21,29 22,40 23,114 24,29 25,-5 26,34 27,28"/>
<polyline vector-effect="non-scaling-stroke" points="0,-40 1,11 2,-45 3,47 4,-5 5,-34 6,-34 7,-8 8,5 9,8 10,-7 11,-4 12,-26 13,-18 14,43 15,16 16,-45 17,-26 18,-4 19,-38 20,-18 21,-15 22,17 23,161 24,-8 25,-35 26,-16 27,-10"/>
<polyline vector-effect="non-scaling-stroke" points="0,9 1,-23 2,-17 3,24 4,-15 5,-12 6,55 7,48 8,47 9,-34 10,8 11,66 12,9 13,4 14,9 15,7 16,-5 17,-3 18,16 19,12 20,18 21,-35 22,1 23,162 24,20 25,-16 26,-17 27,34"/>
<polyline vector-effect="non-scaling-stroke" points="0,-28 1,14 2,-23 3,57 4,15 5,-10 6,-34 7,-38 8,-17 9,-20 10,6 11,53 12,13 13,16 14,22 15,7 16,28 17,-2 18,-34 19,37 20,58 21,-17 22,16 23,138 24,11 25,-21 26,23 27,-11"/>
<polyline vector-effect="non-scaling-stroke" points="0,-10 1,24 2,13 3,73 4,-8 5,-22 6,46 7,-20 8,9 9,5 10,52 11,15 12,-15 13,28 14,30 15,-17 16,-20 17,21 18,15 19,-3 20,22 21,6 22,-16 23,104 24,45 25,1 26,33 27,16"/>
<polyline vector-effect="non-scaling-stroke" points="0,4 1,29 2,-8 3,68 4,13 5,16 6,35 7,15 8,72 9,-5 10,35 11,4 12,44 13,46 14,24 15,42 16,52 17,21 18,37 19,50 20,37 21,18 22,21 23,137 24,29 25,45 26,2 27,65"/>
<polyline vector-effect="non-scaling-stroke" points="0,-11 1,19 2,-7 3,44 4,12 5,41 6,19 7,16 8,4 9,59 10,37 11,40 12,7 13,-17 14,12 15,-17 16,-4 17,19 18,0 19,5 20,-37 21,21 22,16 23,106 24,29 25,-37 26,-5 27,21"/>
<polyline vector-effect="non-scaling-stroke" points="0,12 1,5 2,-35 3,33 4,23 5,-10 6,26 7,24 8,2 9,8 10,-27 11,-2 12,6 13,43 14,27 15,6 16,25 17,-8 18,-6 19,0 20,23 21,1 22,-10 23,340 24,21 25,6 26,5 27,65"/>
<polyline vector-effect="non-scaling-stroke" points="0,-38 1,2 2,-1 3,69 4,2 5,-14 6,58 7,34 8,15 9,6 10,5 11,20 12,-22 13,35 14,-4 15,28 16,27 17,-27 18,42 19,43 20,4 21,-24 22,-4 23,164 24,43 25,-22 26,0 27,29"/>
<polyline vector-effect="non-scaling-stroke" points="0,-4 1,4 2,-12 3,37 4,36 5,22 6,12 7,41 8,60 9,18 10,12 11,0 12,7 13,31 14,26 15,-3 16,-31 17,-18 18,17 19,-33 20,18 21,-23 22,-18 23,128 24,39 25,-34 26,13 27,9"/>
<polyline vector-effect="non-scaling-stroke" points="0,13 1,12 2,-16 3,66 4,14 5,-13 6,-21 7,5 8,29 9,33 10,1 11,9 12,-22 13,22 14,9 15,10 16,15 17,-23 18,-2 19,34 20,-13 21,9 22,36 23,112 24,18 25,-19 26,-7 27,6"/>
<polyline vector-effect="non-scaling-stroke" points="0,-2 1,26 2,7 3,53 4,28 5,53 6,64 7,37 8,47 9,13 10,32 11,59 12,48 13,95 14,-1 15,62 16,64 17,51 18,37 19,76 20,53 21,8 22,39 23,186 24,40 25,34 26,49 27,54"/>
<polyline vector-effect="non-scaling-stroke" points="0,9 1,-36 2,9 3,15 4,-3 5,-12 6,-14 7,28 8,-17 9,-11 10,35 11,-38 12,-29 13,44 14,-8 15,25 16,3 17,-24 18,18 19,-5 20,0 21,0 22,-23 23,53 24,-17 25,6 26,41 27,33"/>
<polyline vector-effect="non-scaling-stroke" points="0,-14 1,-7 2,-31 3,47 4,20 5,-1 6,19 7,-38 8,24 9,-20 10,1 11,19 12,7 13,45 14,31 15,-26 16,-29 17,32 18,19 19,2 20,16 21,1 22,27 23,109 24,21 25,-33 26,37 27,24"/>
<polyline vector-effect="non-scaling-stroke" points="0,-10 1,-24 2,-8 3,63 4,50 5,46 6,13 7,6 8,-7 9,20 10,-6 11,27 12,13 13,39 14,-11 15,38 16,7 17,-35 18,11 19,28 20,29 21,26 22,33 23,326 24,22 25,22 26,-26 27,54"/>
<polyline vector-effect="non-scaling-stroke" points="0,-19 1,13 2,-33 3,37 4,-4 5,-27 6,-16 7,-38 8,8 9,-16 10,-14 11,19 12,-4 13,11 14,-30 15,2 16,-19 17,-2 18,-18 19,-36 20,-9 21,25 22,-32 23,152 24,0 25,-49 26,5 27,45"/>
<polyline vector-effect="non-scaling-stroke" points="0,12 1,-9 2,-5 3,34 4,54 5,23 6,-28 7,42 8,38 9,-6 10,3 11,20 12,50 13,24 14,-3 15,41 16,5 17,-21 18,16 19,49 20,38 21,2 22,45 23,278 24,-2 25,-22 26,1 27,19"/>
<polyline vector-effect="non-scaling-stroke" points="0,2 1,6 2,-5 3,58 4,-19 5,-39 6,29 7,44 8,24 9,0 10,22 11,6 12,-16 13,20 14,18 15,24 16,35 17,-15 18,24 19,55 20,18 21,-10 22,34 23,135 24,0 25,-14 26,37 27,25"/>
<polyline vector-effect="non-scaling-stroke" points="0,15 1,2 2,-20 3,54 4,-22 5,7 6,-1 7,-10 8,6 9,-21 10,-29 11,-27 12,0 13,14 14,-9 15,14 16,-32 17,-36 18,27 19,-26 20,37 21,-30 22,0 23,100 24,1 25,-21 26,12 27,-26"/>
<polyline vector-effect="non-scaling-stroke" points="0,-19 1,22 2,-17 3,43 4,-3 5,-6 6,-23 7,13 8,5 9,-22 10,-4 11,18 12,42 13,14 14,28 15,8 16,25 17,-10 18,26 19,26 20,14 21,-43 22,27 23,63 24,10 25,33 26,14 27,17"/>
<polyline vector-effect="non-scaling-stroke" points="0,4 1,15 2,-11 3,58 4,1 5,0 6,36 7,34 8,31 9,36 10,58 11,59 12,12 13,6 14,29 15,22 16,42 17,-7 18,33 19,-1 20,35 21,-30 22,53 23,124 24,-15 25,27 26,33 27,47"/>
<polyline vector-effect="non-scaling-stroke" points="0,-26 1,9 2,13 3,35 4,2 5,-7 6,7 7,39 8,-9 9,3 10,14 11,7 12,17 13,-26 14,19 15,-11 16,-1 17,-19 18,15 19,10 20,5 21,12 22,43 23,89 24,4 25,-24 26,-14 27,-24"/>
<polyline vector-effect="non-scaling-stroke" points="0,2 1,32 2,-4 3,45 4,12 5,0 6,73 7,63 8,35 9,-14 10,9 11,7 12,2 13,-8 14,5 15,18 16,12 17,-19 18,32 19,18 20,-20 21,-8 22,37 23,283 24,13 25,3 26,33 27,47"/>
<polyline vector-effect="non-scaling-stroke" points="0,-13 1,10 2,-21 3,-10 4,16 5,-2 6,27 7,7 8,-9 9,-6 10,10 11,-19 12,34 13,84 14,-30 15,30 16,-3 17,7 18,11 19,14 20,42 21,0 22,34 23,134 24,-9 25,-14 26,8 27,-4"/>
<polyline vector-effect="non-scaling-stroke" points="0,-33 1,31 2,-22 3,30 4,-33 5,1 6,4 7,26 8,43 9,-19 10,-17 11,26 12,16 13,21 14,4 15,0 16,-4 17,-19 18,-34 19,27 20,31 21,-41 22,-17 23,113 24,25 25,-18 26,-6 27,11"/>
<polyline vector-effect="non-scaling-stroke" points="0,9 1,-3 2,-4 3,53 4,25 5,-12 6,15 7,19 8,31 9,69 10,15 11,50 12,33 13,76 14,46 15,36 16,1 17,1 18,52 19,76 20,65 21,62 22,32 23,113 24,32 25,11 26,38 27,43"/>
<polyline vector-effect="non-scaling-stroke" points="0,-16 1,29 2,-18 3,56 4,15 5,19 6,34 7,5 8,17 9,32 10,0 11,-12 12,-34 13,29 14,-9 15,18 16,-13 17,-13 18,5 19,45 20,2 21,-30 22,11 23,197 24,6 25,5 26,11 27,27"/>
<polyline vector-effect="non-scaling-stroke" points="0,-30 1,13 2,-9 3,56 4,-7 5,4 6,-27 7,20 8,54 9,17 10,13 11,25 12,39 13,16 14,-16 15,-1 16,0 17,4 18,31 19,8 20,2 21,28 22,33 23,101 24,36 25,-8 26,5 27,17"/>
<polyline vector-effect="non-scaling-stroke" points="0,-28 1,-45 2,-52 3,6 4,-5 5,-3 6,26 7,-19 8,0 9,-38 10,-23 11,21 12,-8 13,60 14,2 15,-5 16,-23 17,-63 18,24 19,30 20,80 21,36 22,0 23,54 24,-23 25,-27 26,-1 27,-42"/>
<polyline vector-effect="non-scaling-stroke" points="0,0 1,15 2,-41 3,24 4,-30 5,12 6,-14 7,-25 8,-41 9,-27 10,-34 11,24 12,7 13,-15 14,-19 15,4 16,0 17,-46 18,27 19,25 20,58 21,-63 22,-39 23,133 24,16 25,-24 26,-18 27,14"/>
<polyline vector-effect="non-scaling-stroke" points="0,-18 1,25 2,7 3,58 4,-34 5,1 6,50 7,47 8,38 9,26 10,-14 11,39 12,37 13,28 14,4 15,6 16,7 17,-21 18,13 19,8 20,-31 21,-27 22,8 23,118 24,39 25,5 26,28 27,4"/>
<polyline vector-effect="non-scaling-stroke" points="0,17 1,-9 2,-22 3,63 4,6 5,-12 6,43 7,48 8,37 9,41 10,31 11,36 12,-8 13,-16 14,-2 15,-26 16,-2 17,-32 18,14 19,4 20,27 21,-23 22,2 23,256 24,2 25,-40 26,38 27,32"/>
<polyline vector-effect="non-scaling-stroke" points="0,-2 1,-2 2,-1 3,39 4,22 5,-3 6,7 7,29 8,-2 9,22 10,-14 11,1 12,10 13,11 14,22 15,15 16,19 17,-55 18,23 19,26 20,-33 21,10 22,15 23,97 24,1 25,-33 26,11 27,17"/>
<polyline vector-effect="non-scaling-stroke" points="0,7 1,51 2,7 3,63 4,-12 5,26 6,57 7,13 8,76 9,12 10,29 11,22 12,13 13,-23 14,34 15,-11 16,76 17,-13 18,15 19,76 20,20 21,16 22,-4 23,170 24,40 25,48 26,-20 27,30"/>
<polyline vector-effect="non-scaling-stroke" points="0,22 1,38 2,-7 3,63 4,54 5,29 6,73 7,7 8,21 9,29 10,3 11,49 12,1 13,59 14,-7 15,16 16,46 17,29 18,8 19,4 20,57 21,-3 22,33 23,311 24,44 25,-21 26,50 27,55"/>
<polyline vector-effect="non-scaling-stroke" points="0,-10 1,1 2,25 3,57 4,13 5,31 6,37 7,69 8,55 9,16 10,14 11,10 12,35 13,3 14,23 15,9 16,-31 17,23 18,23 19,34 20,22 21,7 22,-3 23,256 24,45 25,-5 26,14 27,26"/>
<polyline vector-effect="non-scaling-stroke" points="0,15 1,13 2,-16 3,44 4,8 5,1 6,14 7,44 8,30 9,33 10,-8 11,35 12,8 13,23 14,-6 15,6 16,2 17,2 18,11 19,68 20,39 21,11 22,7 23,96 24,8 25,2 26,-13 27,50"/>
<polyline vector-effect="non-scaling-stroke" points="0,40 1,-3 2,39 3,80 4,48 5,42 6,73 7,22 8,32 9,49 10,35 11,4 12,46 13,85 14,19 15,43 16,77 17,-31 18,21 19,28 20,47 21,-3 22,3 23,234 24,58 25,-11 26,58 27,56"/>
<polyline vector-effect="non-scaling-stroke" points="0,18 1,34 2,-13 3,69 4,-20 5,-10 6,33 7,37 8,-13 9,-30 10,21 11,24 12,24 13,30 14,-14 15,41 16,42 17,5 18,60 19,33 20,64 21,4 22,-41 23,85 24,-23 25,-9 26,36 27,-26"/>
<polyline vector-effect="non-scaling-stroke" points="0,21 1,14 2,24 3,65 4,-5 5,30 6,35 7,49 8,76 9,19 10,65 11,26 12,32 13,50 14,2 15,31 16,17 17,24 18,3 19,14 20,60 21,31 22,32 23,229 24,47 25,19 26,41 27,12"/>
<polyline vector-effect="non-scaling-stroke" points="0,6 1,-12 2,-36 3,40 4,12 5,2 6,58 7,29 8,27 9,9 10,-19 11,12 12,5 13,74 14,-10 15,13 16,-8 17,-1 18,-25 19,29 20,25 21,6 22,58 23,119 24,29 25,-9 26,30 27,59"/>
<polyline vector-effect="non-scaling-stroke" points="0,29 1,16 2,-33 3,58 4,-23 5,-12 6,10 7,-8 8,21 9,3 10,-4 11,25 12,-5 13,66 14,17 15,10 16,29 17,-18 18,1 19,48 20,-18 21,17 22,49 23,37 24,58 25,-41 26,-24 27,-39"/>
<polyline vector-effect="non-scaling-stroke" points="0,-22 1,-6 2,-49 3,44 4,18 5,-12 6,25 7,30 8,60 9,7 10,25 11,25 12,7 13,20 14,9 15,30 16,-22 17,-13 18,18 19,30 20,35 21,43 22,29 23,73 24,46 25,-21 26,-3 27,38"/>
<polyline vector-effect="non-scaling-stroke" points="0,-11 1,-37 2,1 3,55 4,7 5,-29 6,35 7,-4 8,35 9,-24 10,-14 11,-37 12,-12 13,52 14,3 15,2 16,50 17,-3 18,23 19,27 20,17 21,1 22,12 23,205 24,29 25,8 26,-11 27,-42"/>
<polyline vector-effect="non-scaling-stroke" points="0,9 1,16 2,8 3,28 4,10 5,-13 6,30 7,21 8,22 9,23 10,3 11,19 12,27 13,78 14,16 15,38 16,40 17,41 18,62 19,14 20,49 21,18 22,47 23,35 24,16 25,-35 26,43 27,28"/>
<polyline vector-effect="non-scaling-stroke" points="0,5 1,10 2,-7 3,53 4,-10 5,-41 6,23 7,8 8,-4 9,-11 10,33 11,-11 12,-18 13,38 14,26 15,-14 16,-21 17,-39 18,13 19,30 20,52 21,-7 22,-4 23,89 24,36 25,-24 26,-8 27,2"/>
<polyline vector-effect="non-scaling-stroke" points="0,-1 1,16 2,-20 3,76 4,44 5,-18 6,27 7,-7 8,12 9,-18 10,3 11,21 12,11 13,-4 14,-26 15,-18 16,53 17,-6 18,14 19,57 20,-2 21,15 22,-6 23,143 24,-15 25,-14 26,10 27,20"/>
<polyline vector-effect="non-scaling-stroke" points="0,-22 1,8 2,17 3,54 4,26 5,24 6,34 7,14 8,28 9,-6 10,32 11,28 12,38 13,95 14,25 15,33 16,28 17,23 18,47 19,24 20,-3 21,-29 22,35 23,191 24,36 25,-34 26,6 27,-19"/>
<polyline vector-effect="non-scaling-stroke" points="0,-3 1,17 2,1 3,84 4,-2 5,13 6,30 7,42 8,62 9,16 10,-3 11,29 12,38 13,28 14,44 15,18 16,26 17,12 18,62 19,65 20,59 21,5 22,7 23,157 24,58 25,51 26,35 27,24"/>
<polyline vector-effect="non-scaling-stroke" points="0,-41 1,-22 2,-14 3,42 4,-6 5,-27 6,15 7,-7 8,21 9,-4 10,7 11,2 12,-17 13,38 14,-24 15,14 16,-20 17,-34 18,0 19,-13 20,-29 21,-49 22,-35 23,93 24,13 25,-24 26,-26 27,-2"/>
<polyline vector-effect="non-scaling-stroke" points="0,17 1,-16 2,-24 3,66 4,0 5,30 6,17 7,-16 8,21 9,10 10,18 11,-3 12,0 13,88 14,-4 15,49 16,-13 17,6 18,22 19,46 20,30 21,-12 22,13 23,69 24,-23 25,-34 26,44 27,36"/>
<polyline vector-effect="non-scaling-stroke" points="0,37 1,24 2,-30 3,32 4,16 5,-6 6,9 7,0 8,9 9,-25 10,28 11,6 12,42 13,85 14,9 15,44 16,61 17,12 18,16 19,60 20,51 21,9 22,6 23,159 24,43 25,19 26,8 27,22"/>
<polyline vector-effect="non-scaling-stroke" points="0,0 1,-4 2,-11 3,18 4,-13 5,7 6,26 7,7 8,68 9,3 10,23 11,18 12,-3 13,45 14,23 15,16 16,26 17,51 18,-8 19,16 20,39 21,1 22,-11 23,103 24,17 25,-14 26,10 27,47"/>
<polyline vector-effect="non-scaling-stroke" points="0,11 1,11 2,18 3,67 4,-8 5,1 6,8 7,35 8,51 9,16 10,52 11,12 12,11 13,40 14,16 15,57 16,-3 17,22 18,24 19,60 20,3 21,-15 22,54 23,281 24,46 25,2 26,41 27,27"/>
<polyline vector-effect="non-scaling-stroke" points="0,-14 1,12 2,-5 3,29 4,-3 5,-4 6,41 7,45 8,53 9,45 10,-5 11,36 12,31 13,49 14,-6 15,-26 16,29 17,-15 18,37 19,-7 20,47 21,1 22,-13 23,123 24,27 25,21 26,33 27,48"/>
<polyline vector-effect="non-scaling-stroke" points="0,17 1,5 2,-10 3,58 4,1 5,-23 6,-20 7,40 8,29 9,66 10,4 11,47 12,16 13,50 14,10 15,43 16,39 17,-6 18,16 19,26 20,37 21,17 22,6 23,116 24,28 25,-34 26,25 27,31"/>
<polyline vector-effect="non-scaling-stroke" points="0,-41 1,-20 2,-10 3,-19 4,7 5,23 6,30 7,35 8,13 9,27 10,22 11,8 12,6 13,-14 14,-18 15,34 16,42 17,-27 18,-21 19,-33 20,50 21,9 22,45 23,226 24,51 25,9 26,0 27,4"/>
<polyline vector-effect="non-scaling-stroke" points="0,17 1,-26 2,4 3,37 4,28 5,-8 6,4 7,37 8,-41 9,34 10,14 11,-1 12,20 13,16 14,14 15,18 16,36 17,-28 18,-3 19,63 20,34 21,-3 22,-12 23,104 24,27 25,-30 26,10 27,9"/>
<polyline vector-effect="non-scaling-stroke" points="0,-36 1,7 2,17 3,36 4,-3 5,8 6,7 7,-26 8,19 9,-2 10,-5 11,46 12,8 13,10 14,-8 15,46 16,37 17,-51 18,23 19,9 20,9 21,30 22,22 23,90 24,22 25,7 26,8 27,24"/>
<polyline vector-effect="non-scaling-stroke" points="0,-21 1,24 2,15 3,18 4,-27 5,-14 6,32 7,12 8,7 9,4 10,-27 11,3 12,-2 13,3 14,10 15,-3 16,-14 17,5 18,16 19,15 20,22 21,3 22,6 23,69 24,30 25,31 26,11 27,-2"/>
<polyline vector-effect="non-scaling-stroke" points="0,21 1,22 2,-20 3,52 4,-6 5,30 6,-6 7,47 8,5 9,20 10,3 11,27 12,35 13,50 14,-12 15,15 16,22 17,43 18,4 19,17 20,9 21,6 22,25 23,92 24,46 25,27 26,29 27,33"/>
<polyline vector-effect="non-scaling-stroke" points="0,33 1,-27 2,-28 3,75 4,-25 5,1 6,8 7,-16 8,-17 9,-5 10,5 11,15 12,10 13,20 14,-3 15,20 16,-14 17,-49 18,20 19,-38 20,31 21,24 22,-28 23,32 24,-3 25,-10 26,-12 27,29"/>
<polyline vector-effect="non-scaling-stroke" points="0,3 1,-24 2,1 3,-5 4,-12 5,0 6,43 7,26 8,46 9,-31 10,69 11,-15 12,5 13,61 14,5 15,33 16,-28 17,-42 18,-5 19,-2 20,19 21,-17 22,-25 23,120 24,-13 25,-27 26,10 27,-18"/>
<polyline vector-effect="non-scaling-stroke" points="0,-12 1,9 2,11 3,60 4,7 5,1 6,-24 7,-18 8,-20 9,-16 10,-6 11,-22 12,-12 13,42 14,-12 15,-26 16,-10 17,-22 18,-8 19,57 20,35 21,30 22,-18 23,138 24,16 25,-20 26,-13 27,6"/>
<polyline vector-effect="non-scaling-stroke" points="0,-25 1,36 2,43 3,79 4,-22 5,21 6,18 7,16 8,27 9,53 10,41 11,7 12,31 13,48 14,51 15,0 16,27 17,-12 18,23 19,-16 20,17 21,15 22,7 23,114 24,30 25,-7 26,5 27,24"/>
<polyline vector-effect="non-scaling-stroke" points="0,-5 1,10 2,-49 3,31 4,21 5,-29 6,20 7,-1 8,39 9,33 10,8 11,-3 12,-26 13,10 14,-13 15,13 16,55 17,35 18,13 19,21 20,16 21,5 22,-1 23,260 24,4 25,-9 26,-3 27,31"/>
<polyline vector-effect="non-scaling-stroke" points="0,23 1,13 2,-11 3,40 4,5 5,-13 6,49 7,47 8,34 9,20 10,-6 11,49 12,-24 13,3 14,37 15,3 16,-17 17,-55 18,26 19,42 20,23 21,-54 22,-1 23,80 24,32 25,19 26,12 27,19"/>
<polyline vector-effect="non-scaling-stroke" points="0,33 1,46 2,-22 3,64 4,-10 5,-2 6,56 7,2 8,27 9,51 10,31 11,-12 12,15 13,35 14,-3 15,62 16,30 17,10 18,43 19,38 20,3 21,16 22,27 23,182 24,46 25,25 26,30 27,24"/>
<polyline vector-effect="non-scaling-stroke" points="0,-2 1,41 2,-43 3,65 4,9 5,-11 6,21 7,28 8,-19 9,11 10,20 11,-8 12,8 13,64 14,5 15,0 16,-28 17,-50 18,30 19,17 20,23 21,-4 22,-9 23,273 24,33 25,26 26,-9 27,28"/>
<polyline vector-effect="non-scaling-stroke" points="0,15 1,-11 2,-19 3,35 4,29 5,15 6,13 7,38 8,10 9,19 10,13 11,1 12,33 13,38 14,-25 15,19 16,70 17,-53 18,36 19,36 20,0 21,11 22,-9 23,77 24,34 25,6 26,-13 27,11"/>
<polyline vector-effect="non-scaling-stroke" points="0,0 1,-27 2,16 3,30 4,10 5,19 6,1 7,25 8,23 9,20 10,1 11,38 12,23 13,71 14,25 15,-7 16,0 17,9 18,33 19,7 20,29 21,12 22,7 23,217 24,5 25,6 26,-1 27,26"/>
<polyline vector-effect="non-scaling-stroke" points="0,-12 1,9 2,18 3,31 4,9 5,24 6,27 7,18 8,27 9,-3 10,34 11,38 12,49 13,44 14,30 15,14 16,38 17,-17 18,23 19,24 20,55 21,-45 22,11 23,128 24,38 25,-14 26,9 27,48"/>
<polyline vector-effect="non-scaling-stroke" points="0,-8 1,5 2,21 3,-5 4,14 5,16 6,33 7,-19 8,-11 9,-4 10,-3 11,35 12,3 13,73 14,7 15,33 16,2 17,-11 18,25 19,48 20,15 21,39 22,8 23,280 24,4 25,-9 26,28 27,20"/>
<polyline vector-effect="non-scaling-stroke" points="0,-27 1,2 2,-7 3,11 4,-1 5,-22 6,-19 7,25 8,-19 9,-21 10,5 11,-28 12,-26 13,1 14,-9 15,17 16,-15 17,-43 18,-31 19,-9 20,-13 21,8 22,-41 23,32 24,-23 25,-28 26,3 27,30"/>
<polyline vector-effect="non-scaling-stroke" points="0,-14 1,26 2,-2 3,84 4,26 5,56 6,40 7,57 8,47 9,14 10,52 11,26 12,-17 13,48 14,-2 15,42 16,88 17,23 18,40 19,14 20,29 21,10 22,58 23,162 24,39 25,-25 26,17 27,36"/>
<polyline vector-effect="non-scaling-stroke" points="0,7 1,14 2,14 3,66 4,-8 5,-10 6,47 7,47 8,0 9,40 10,-6 11,24 12,46 13,5 14,14 15,24 16,0 17,28 18,5 19,23 20,13 21,28 22,32 23,296 24,29 25,-11 26,51 27,16"/>
<polyline vector-effect="non-scaling-stroke" points="0,0 1,26 2,-3 3,-19 4,-24 5,-23 6,28 7,-16 8,23 9,0 10,0 11,-1 12,-17 13,49 14,-4 15,33 16,-25 17,-63 18,28 19,-24 20,12 21,-25 22,-9 23,88 24,-11 25,-40 26,4 27,-19"/>
<polyline vector-effect="non-scaling-stroke" points="0,36 1,19 2,32 3,51 4,29 5,1 6,12 7,23 8,26 9,69 10,-7 11,10 12,32 13,37 14,15 15,40 16,24 17,-8 18,-5 19,33 20,50 21,20 22,42 23,131 24,35 25,-13 26,-12 27,38"/>
<polyline vector-effect="non-scaling-stroke" points="0,-10 1,19 2,-21 3,2 4,-14 5,-4 6,4 7,9 8,31 9,7 10,18 11,9 12,-6 13,4 14,-29 15,27 16,45 17,-30 18,-8 19,-1 20,34 21,4 22,2 23,122 24,-11 25,-11 26,7 27,25"/>
<polyline vector-effect="non-scaling-stroke" points="0,-12 1,-2 2,-1 3,84 4,-7 5,51 6,2 7,20 8,-3 9,45 10,13 11,21 12,30 13,66 14,-5 15,24 16,3 17,26 18,-28 19,73 20,24 21,-53 22,16 23,97 24,26 25,-2 26,33 27,-29"/>
<polyline vector-effect="non-scaling-stroke" points="0,17 1,40 2,-20 3,70 4,33 5,6 6,-8 7,35 8,24 9,64 10,19 11,47 12,28 13,52 14,-5 15,16 16,37 17,11 18,23 19,55 20,43 21,37 22,24 23,217 24,26 25,-22 26,40 27,47"/>
<polyline vector-effect="non-scaling-stroke" points="0,19 1,2 2,27 3,60 4,16 5,1 6,24 7,15 8,40 9,6 10,20 11,13 12,-6 13,44 14,16 15,28 16,-45 17,32 18,23 19,13 20,80 21,17 22,34 23,183 24,-12 25,34 26,1 27,49"/>
<polyline vector-effect="non-scaling-stroke" points="0,6 1,0 2,-48 3,52 4,-6 5,16 6,9 7,43 8,19 9,11 10,69 11,45 12,5 13,53 14,-12 15,13 16,24 17,-7 18,2 19,49 20,25 21,-5 22,6 23,122 24,42 25,12 26,-5 27,53"/>
<polyline vector-effect="non-scaling-stroke" points="0,34 1,21 2,-6 3,65 4,10 5,37 6,43 7,65 8,4 9,19 10,40 11,26 12,19 13,26 14,51 15,33 16,67 17,4 18,23 19,44 20,80 21,60 22,58 23,340 24,58 25,12 26,17 27,62"/>
<polyline vector-effect="non-scaling-stroke" points="0,-3 1,28 2,-8 3,37 4,14 5,-3 6,29 7,48 8,28 9,47 10,11 11,36 12,-1 13,79 14,-18 15,33 16,48 17,-55 18,-9 19,-1 20,38 21,11 22,13 23,228 24,58 25,-15 26,29 27,29"/>
<polyline vector-effect="non-scaling-stroke" points="0,13 1,-45 2,-46 3,11 4,-19 5,3 6,5 7,-36 8,-7 9,-31 10,-10 11,4 12,-11 13,54 14,41 15,22 16,-32 17,23 18,49 19,12 20,30 21,23 22,7 23,211 24,28 25,-23 26,-1 27,3"/>
<polyline vector-effect="non-scaling-stroke" points="0,-23 1,21 2,-13 3,27 4,5 5,-7 6,32 7,38 8,8 9,-16 10,-24 11,42 12,3 13,1 14,-7 15,-15 16,36 17,-9 18,-7 19,-31 20,60 21,-10 22,-41 23,79 24,11 25,-15 26,-16 27,28"/>
<polyline vector-effect="non-scaling-stroke" points="0,16 1,17 2,-11 3,11 4,1 5,8 6,5 7,32 8,48 9,8 10,8 11,23 12,50 13,78 14,-14 15,16 16,91 17,1 18,56 19,44 20,64 21,6 22,19 23,210 24,30 25,2 26,46 27,23"/>
<polyline vector-effect="non-scaling-stroke" points="0,7 1,-24 2,-30 3,48 4,-3 5,7 6,4 7,-3 8,-14 9,-41 10,-14 11,19 12,-8 13,14 14,11 15,-15 16,2 17,-37 18,18 19,-36 20,-6 21,-34 22,-16 23,72 24,39 25,-25 26,-4 27,-42"/>
<polyline vector-effect="non-scaling-stroke" points="0,-26 1,-12 2,-35 3,56 4,-10 5,-8 6,16 7,-7 8,-17 9,-8 10,9 11,8 12,-10 13,67 14,7 15,27 16,56 17,-29 18,28 19,27 20,31 21,-43 22,-12 23,122 24,20 25,25 26,3 27,19"/>
<polyline vector-effect="non-scaling-stroke" points="0,-9 1,-24 2,-17 3,49 4,35 5,27 6,7 7,-7 8,15 9,-6 10,65 11,30 12,4 13,13 14,-14 15,13 16,-45 17,-15 18,0 19,53 20,-27 21,22 22,-2 23,180 24,7 25,-1 26,24 27,63"/>
<polyline vector-effect="non-scaling-stroke" points="0,-20 1,-1 2,-15 3,25 4,-5 5,-2 6,8 7,-30 8,19 9,-28 10,1 11,30 12,-20 13,19 14,2 15,11 16,-6 17,-9 18,19 19,-10 20,14 21,14 22,-10 23,67 24,30 25,2 26,23 27,9"/>
<polyline vector-effect="non-scaling-stroke" points="0,0 1,47 2,32 3,71 4,6 5,22 6,20 7,10 8,38 9,34 10,39 11,33 12,58 13,23 14,42 15,23 16,65 17,-6 18,62 19,69 20,3 21,51 22,27 23,266 24,34 25,7 26,1 27,23"/>
<polyline vector-effect="non-scaling-stroke" points="0,2 1,-24 2,-22 3,55 4,15 5,-1 6,56 7,11 8,39 9,46 10,-2 11,47 12,9 13,15 14,39 15,51 16,12 17,26 18,37 19,30 20,79 21,7 22,0 23,150 24,26 25,-10 26,11 27,-11"/>
<polyline vector-effect="non-scaling-stroke" points="0,9 1,-22 2,15 3,61 4,-5 5,-4 6,7 7,17 8,59 9,17 10,0 11,55 12,0 13,21 14,44 15,29 16,50 17,12 18,23 19,39 20,44 21,55 22,-16 23,32 24,18 25,-33 26,14 27,-14"/>
<polyline vector-effect="non-scaling-stroke" points="0,9 1,37 2,-6 3,46 4,30 5,0 6,33 7,26 8,1 9,45 10,-1 11,48 12,26 13,17 14,7 15,43 16,21 17,51 18,4 19,61 20,-4 21,11 22,39 23,73 24,35 25,-17 26,-1 27,12"/>
<polyline vector-effect="non-scaling-stroke" points="0,-12 1,-5 2,-21 3,22 4,-34 5,31 6,63 7,25 8,10 9,-14 10,12 11,18 12,-10 13,22 14,15 15,21 16,9 17,-1 18,-4 19,20 20,27 21,-20 22,4 23,195 24,37 25,-48 26,-13 27,34"/>
<polyline vector-effect="non-scaling-stroke" points="0,17 1,28 2,-22 3,62 4,28 5,28 6,22 7,20 8,42 9,30 10,57 11,-21 12,9 13,80 14,-3 15,32 16,80 17,-10 18,32 19,76 20,11 21,-33 22,43 23,142 24,33 25,10 26,47 27,25"/>
<polyline vector-effect="non-scaling-stroke" points="0,34 1,40 2,15 3,80 4,31 5,25 6,73 7,-4 8,18 9,11 10,24 11,44 12,25 13,95 14,14 15,18 16,48 17,13 18,24 19,67 20,58 21,56 22,9 23,273 24,39 25,4 26,3 27,37"/>
<polyline vector-effect="non-scaling-stroke" points="0,-21 1,21 2,3 3,58 4,54 5,32 6,-26 7,30 8,25 9,15 10,-1 11,36 12,-34 13,-2 14,15 15,21 16,42 17,-11 18,2 19,41 20,32 21,-45 22,28 23,83 24,36 25,-3 26,22 27,37"/>
<polyline vector-effect="non-scaling-stroke" points="0,-19 1,20 2,-8 3,43 4,1 5,-6 6,24 7,22 8,3 9,35 10,10 11,-11 12,16 13,42 14,-17 15,22 16,3 17,4 18,8 19,33 20,32 21,-62 22,10 23,172 24,34 25,22 26,17 27,43"/>
<polyline vector-effect="non-scaling-stroke" points="0,24 1,11 2,-8 3,77 4,30 5,-18 6,13 7,55 8,38 9,-14 10,34 11,53 12,34 13,44 14,11 15,19 16,16 17,18 18,62 19,76 20,38 21,-21 22,19 23,156 24,29 25,-26 26,22 27,16"/>
<polyline vector-effect="non-scaling-stroke" points="0,-15 1,-45 2,-25 3,-12 4,-25 5,-26 6,-12 7,-17 8,-18 9,-23 10,-21 11,-19 12,-15 13,55 14,4 15,-10 16,-43 17,4 18,-6 19,10 20,34 21,-63 22,-23 23,99 24,31 25,-25 26,-2 27,-8"/>
<polyline vector-effect="non-scaling-stroke" points="0,-11 1,-1 2,-30 3,13 4,-13 5,5 6,36 7,7 8,-2 9,26 10,8 11,18 12,-5 13,6 14,2 15,4 16,33 17,-39 18,8 19,10 20,-18 21,-22 22,-25 23,91 24,8 25,43 26,-14 27,19"/>
<polyline vector-effect="non-scaling-stroke" points="0,-16 1,7 2,-23 3,14 4,22 5,19 6,-30 7,3 8,-1 9,-34 10,3 11,15 12,0 13,29 14,29 15,1 16,39 17,36 18,-34 19,7 20,48 21,1 22,-14 23,213 24,31 25,-44 26,19 27,1"/>
<polyline vector-effect="non-scaling-stroke" points="0,-10 1,-35 2,-10 3,34 4,-24 5,-17 6,38 7,35 8,-38 9,5 10,-10 11,-13 12,-1 13,50 14,1 15,-14 16,-3 17,-8 18,20 19,4 20,11 21,-10 22,7 23,32 24,34 25,-14 26,0 27,-31"/>
<polyline vector-effect="non-scaling-stroke" points="0,5 1,44 2,-17 3,5 4,12 5,6 6,24 7,-17 8,31 9,27 10,-34 11,20 12,25 13,10 14,-26 15,21 16,84 17,8 18,60 19,34 20,24 21,-16 22,39 23,77 24,13 25,-13 26,18 27,20"/>
<polyline vector-effect="non-scaling-stroke" points="0,-22 1,-13 2,33 3,56 4,6 5,1 6,34 7,5 8,51 9,36 10,13 11,42 12,8 13,24 14,27 15,20 16,-1 17,38 18,13 19,39 20,65 21,-26 22,7 23,231 24,23 25,-11 26,13 27,15"/>
<polyline vector-effect="non-scaling-stroke" points="0,-5 1,17 2,-3 3,76 4,10 5,43 6,28 7,56 8,18 9,41 10,14 11,55 12,-5 13,20 14,12 15,1 16,63 17,-4 18,25 19,48 20,43 21,-15 22,-18 23,63 24,8 25,-19 26,0 27,28"/>
<polyline vector-effect="non-scaling-stroke" points="0,-23 1,-27 2,-1 3,77 4,-11 5,3 6,24 7,42 8,42 9,2 10,33 11,17 12,25 13,80 14,-27 15,-8 16,-19 17,-32 18,16 19,29 20,67 21,40 22,16 23,126 24,35 25,5 26,5 27,32"/>
<polyline vector-effect="non-scaling-stroke" points="0,0 1,16 2,1 3,49 4,-1 5,17 6,32 7,1 8,70 9,64 10,62 11,55 12,16 13,19 14,-4 15,-5 16,19 17,-33 18,25 19,41 20,27 21,3 22,18 23,220 24,27 25,45 26,5 27,14"/>
<polyline vector-effect="non-scaling-stroke" points="0,1 1,15 2,10 3,67 4,6 5,52 6,-8 7,35 8,34 9,-7 10,-7 11,30 12,43 13,55 14,13 15,22 16,15 17,2 18,36 19,59 20,52 21,1 22,31 23,264 24,-1 25,14 26,12 27,31"/>
<polyline vector-effect="non-scaling-stroke" points="0,-12 1,-1 2,4 3,53 4,4 5,-1 6,45 7,53 8,11 9,31 10,13 11,35 12,43 13,53 14,13 15,10 16,68 17,47 18,-13 19,50 20,38 21,-14 22,56 23,226 24,58 25,-10 26,14 27,-5"/>
<polyline vector-effect="non-scaling-stroke" points="0,-1 1,-31 2,-14 3,66 4,11 5,23 6,25 7,32 8,15 9,-19 10,18 11,11 12,-8 13,2 14,25 15,-14 16,-9 17,5 18,23 19,29 20,-17 21,28 22,5 23,66 24,38 25,-10 26,-18 27,-45"/>
<polyline vector-effect="non-scaling-stroke" points="0,-3 1,-5 2,-1 3,54 4,-10 5,13 6,28 7,-7 8,38 9,15 10,5 11,23 12,-6 13,11 14,2 15,1 16,61 17,5 18,27 19,62 20,59 21,54 22,-9 23,271 24,17 25,-10 26,16 27,20"/>
<polyline vector-effect="non-scaling-stroke" points="0,11 1,27 2,39 3,9 4,-9 5,-6 6,45 7,36 8,46 9,69 10,28 11,0 12,32 13,95 14,51 15,30 16,42 17,22 18,40 19,38 20,35 21,59 22,55 23,195 24,27 25,-3 26,5 27,5"/>
<polyline vector-effect="non-scaling-stroke" points="0,-1 1,-2 2,4 3,43 4,-9 5,1 6,-31 7,30 8,20 9,48 10,5 11,16 12,-4 13,91 14,13 15,44 16,11 17,17 18,-1 19,15 20,26 21,-14 22,28 23,219 24,44 25,-19 26,6 27,21"/>
<polyline vector-effect="non-scaling-stroke" points="0,21 1,-4 2,2 3,74 4,18 5,16 6,13 7,25 8,51 9,50 10,-10 11,40 12,13 13,23 14,51 15,42 16,3 17,-10 18,29 19,3 20,38 21,31 22,-5 23,198 24,39 25,-7 26,31 27,43"/>
<polyline vector-effect="non-scaling-stroke" points="0,2 1,-12 2,6 3,34 4,1 5,0 6,17 7,-35 8,38 9,15 10,6 11,23 12,-4 13,20 14,8 15,-26 16,-11 17,-23 18,1 19,4 20,-2 21,4 22,19 23,144 24,35 25,-1 26,34 27,43"/>
<polyline vector-effect="non-scaling-stroke" points="0,-9 1,-10 2,-19 3,40 4,16 5,14 6,27 7,1 8,8 9,5 10,12 11,-38 12,12 13,41 14,-7 15,43 16,36 17,13 18,-19 19,41 20,31 21,8 22,-40 23,64 24,17 25,-31 26,35 27,-13"/>
<polyline vector-effect="non-scaling-stroke" points="0,6 1,9 2,43 3,43 4,26 5,-11 6,-12 7,18 8,42 9,-9 10,26 11,20 12,2 13,26 14,1 15,1 16,9 17,1 18,-8 19,-38 20,35 21,-24 22,14 23,81 24,25 25,-16 26,1 27,8"/>
<polyline vector-effect="non-scaling-stroke" points="0,5 1,-31 2,18 3,65 4,8 5,-27 6,40 7,17 8,57 9,0 10,5 11,37 12,-30 13,20 14,1 15,-25 16,-10 17,4 18,19 19,59 20,48 21,-34 22,24 23,159 24,26 25,-27 26,47 27,51"/>
<polyline vector-effect="non-scaling-stroke" points="0,8 1,-5 2,-26 3,25 4,25 5,-24 6,51 7,19 8,33 9,33 10,69 11,37 12,8 13,45 14,10 15,22 16,24 17,-21 18,23 19,-5 20,57 21,0 22,-11 23,203 24,37 25,1 26,-9 27,-11"/>
</g></g>
<g clip-path="url(#cI2)" fill="none" stroke-width="1.15" stroke-linejoin="round">
<polyline points="403.5,517.3 413.6,514.6 423.7,517.6 433.8,506.0 444.0,515.7 454.1,513.2 464.2,509.3 474.3,510.7 484.4,509.9 494.5,514.6 504.6,515.4 514.8,512.1 524.9,514.0 535.0,508.2 545.1,514.0 555.2,511.2 565.3,512.3 575.5,515.7 585.6,512.6 595.7,509.3 605.8,509.6 615.9,516.2 626.0,514.0 636.1,475.0 646.3,509.6 656.4,517.6 666.5,513.2 676.6,512.6" stroke="#d9244e"/>
<polyline points="403.5,515.7 413.6,513.2 423.7,518.4 433.8,497.9 444.0,516.2 454.1,517.3 464.2,510.1 474.3,512.1 484.4,511.5 494.5,512.6 504.6,512.6 514.8,512.6 524.9,514.6 535.0,508.2 545.1,516.8 555.2,511.5 565.3,512.6 575.5,517.3 585.6,513.2 595.7,509.3 605.8,507.1 615.9,513.7 626.0,513.7 636.1,486.0 646.3,509.6 656.4,518.7 666.5,513.2 676.6,510.1" stroke="#2323d0"/>
</g>
<path d="M676.6,433.4V544.2" stroke="#a0a0a0" stroke-width="0.9" fill="none"/>
<path d="M403.5,433.4H676.6M676.6,544.2H403.5V433.4M433.8,544.2v-2.8M433.8,433.4v2.8M484.4,544.2v-2.8M484.4,433.4v2.8M535.0,544.2v-2.8M535.0,433.4v2.8M636.1,544.2v-2.8M636.1,433.4v2.8M403.5,544.2h2.8M676.6,544.2h-2.8M403.5,516.5h2.8M676.6,516.5h-2.8M403.5,488.8h2.8M676.6,488.8h-2.8M403.5,461.1h2.8M676.6,461.1h-2.8" stroke="#777" stroke-width="0.9" fill="none"/>
<text x="398.3" y="465.5" font-size="11.4" font-weight="normal" text-anchor="end" fill="#262626" >2</text>
<text x="398.3" y="493.2" font-size="11.4" font-weight="normal" text-anchor="end" fill="#262626" >1</text>
<text x="398.3" y="520.9" font-size="11.4" font-weight="normal" text-anchor="end" fill="#262626" >0</text>
<text x="398.3" y="548.6" font-size="11.4" font-weight="normal" text-anchor="end" fill="#262626" >-1</text>
<text x="433.8" y="561.0" font-size="11" font-weight="normal" text-anchor="middle" fill="#262626" >1.33</text>
<text x="484.4" y="561.0" font-size="11" font-weight="normal" text-anchor="middle" fill="#262626" >2</text>
<text x="535.0" y="561.0" font-size="11" font-weight="normal" text-anchor="middle" fill="#262626" >2.66</text>
<text x="636.1" y="561.0" font-size="11" font-weight="normal" text-anchor="middle" fill="#262626" >4</text>
<text x="539.7" y="577.2" font-size="12.6" font-weight="normal" text-anchor="middle" fill="#262626" >freq (Hz)</text>
<text x="0" y="0" font-size="13" text-anchor="middle" fill="#262626" transform="translate(382.9,488.8) rotate(-90)">SNR</text>
<text x="372.0" y="22.6" font-size="22" font-weight="bold" text-anchor="start" fill="#000" >b</text>
<text x="533.0" y="20.3" font-size="16.4" font-weight="bold" text-anchor="middle" fill="#000" >ITC</text>
<g transform="translate(436.30,48.80)">
<circle r="37.2" fill="#ebf2fc"/>
<g clip-path="url(#mapclip)"><g filter="url(#cmap)">
<rect x="-45" y="-45" width="90" height="90" fill="rgb(0,0,0)"/>
<ellipse cx="-26" cy="-14" rx="4" ry="8" fill="rgb(38,38,38)"/>
<ellipse cx="-16" cy="-1.6" rx="5" ry="4.5" fill="rgb(76,76,76)"/>
<ellipse cx="6.2" cy="-1.6" rx="1.8" ry="1.8" fill="rgb(46,46,46)"/>
<ellipse cx="12" cy="14" rx="5" ry="3" fill="rgb(51,51,51)"/>
<ellipse cx="8" cy="26" rx="8" ry="3.5" fill="rgb(46,46,46)"/>
<ellipse cx="16.7" cy="5.2" rx="2" ry="2" fill="rgb(20,20,20)"/>
<ellipse cx="31" cy="-8" rx="2" ry="5" fill="rgb(31,31,31)"/>
</g></g>
<circle r="21.4" fill="none" stroke="#000" stroke-width="1.75"/>
<path d="M-4.2,-20.9Q-2.2,-23.3 -1.2,-24.5Q0,-25.8 1.2,-24.5Q2.2,-23.3 4.2,-20.9" fill="none" stroke="#000" stroke-width="1.6" stroke-linejoin="round"/>
<path d="M-20.8,-5.4C-22.5,-6.2 -24,-5.8 -24,-4L-24.3,4.5C-24.3,6.6 -22.5,7 -20.5,6.3" fill="none" stroke="#000" stroke-width="1.45"/>
<path d="M20.8,-5.4C22.5,-6.2 24,-5.8 24,-4L24.3,4.5C24.3,6.6 22.5,7 20.5,6.3" fill="none" stroke="#000" stroke-width="1.45"/>
</g>
<g transform="translate(637.30,48.80)">
<circle r="37.2" fill="#ebf2fc"/>
<g clip-path="url(#mapclip)"><g filter="url(#cmap)">
<rect x="-45" y="-45" width="90" height="90" fill="rgb(0,0,0)"/>
<ellipse cx="1" cy="-26" rx="16" ry="5.5" fill="rgb(56,56,56)"/>
<ellipse cx="5.5" cy="-27" rx="4" ry="3.5" fill="rgb(120,120,120)"/>
<ellipse cx="-24" cy="-15" rx="5" ry="8" fill="rgb(56,56,56)"/>
<ellipse cx="25" cy="-9" rx="5" ry="10" fill="rgb(64,64,64)"/>
<ellipse cx="-6" cy="4" rx="9" ry="5" fill="rgb(46,46,46)"/>
<ellipse cx="-1.9" cy="15" rx="5" ry="3" fill="rgb(46,46,46)"/>
<ellipse cx="-13" cy="9" rx="3" ry="3" fill="rgb(31,31,31)"/>
<ellipse cx="16" cy="6" rx="4" ry="4" fill="rgb(31,31,31)"/>
<ellipse cx="4" cy="-15" rx="4" ry="3" fill="rgb(31,31,31)"/>
<ellipse cx="10" cy="26" rx="6" ry="4" fill="rgb(51,51,51)"/>
</g></g>
<path d="M-25.3,-18.6l2.6,2.6M-25.3,-16.0l2.6,-2.6" stroke="#000" stroke-width="0.6" fill="none" opacity="0.85"/>
<circle cx="-24.3" cy="-13.3" r="0.75" fill="#000"/>
<circle cx="6.2" cy="-19.5" r="0.75" fill="#000"/>
<circle cx="3.7" cy="5.8" r="0.75" fill="#000"/>
<circle cx="17" cy="5.8" r="0.75" fill="#000"/>
<circle cx="7.4" cy="15.7" r="0.75" fill="#000"/>
<circle r="21.4" fill="none" stroke="#000" stroke-width="1.75"/>
<path d="M-4.2,-20.9Q-2.2,-23.3 -1.2,-24.5Q0,-25.8 1.2,-24.5Q2.2,-23.3 4.2,-20.9" fill="none" stroke="#000" stroke-width="1.6" stroke-linejoin="round"/>
<path d="M-20.8,-5.4C-22.5,-6.2 -24,-5.8 -24,-4L-24.3,4.5C-24.3,6.6 -22.5,7 -20.5,6.3" fill="none" stroke="#000" stroke-width="1.45"/>
<path d="M20.8,-5.4C22.5,-6.2 24,-5.8 24,-4L24.3,4.5C24.3,6.6 22.5,7 20.5,6.3" fill="none" stroke="#000" stroke-width="1.45"/>
</g>
<text x="539.7" y="49.2" font-size="13" font-weight="bold" text-anchor="middle" fill="#000" >Resting state</text>
<g transform="translate(436.30,234.60)">
<circle r="37.2" fill="#ebf2fc"/>
<g clip-path="url(#mapclip)"><g filter="url(#cmap)">
<rect x="-45" y="-45" width="90" height="90" fill="rgb(0,0,0)"/>
<ellipse cx="-13" cy="-22" rx="10" ry="7" fill="rgb(61,61,61)"/>
<ellipse cx="-25" cy="-10" rx="5" ry="7" fill="rgb(33,33,33)"/>
<ellipse cx="0" cy="-5" rx="9" ry="7" fill="rgb(66,66,66)"/>
<ellipse cx="10" cy="-2" rx="6" ry="3.5" fill="rgb(51,51,51)"/>
<ellipse cx="10" cy="6" rx="6" ry="4" fill="rgb(0,0,0)"/>
<ellipse cx="-7" cy="11" rx="9" ry="6" fill="rgb(31,31,31)"/>
<ellipse cx="2.4" cy="15" rx="5" ry="3.5" fill="rgb(56,56,56)"/>
<ellipse cx="-15" cy="-1" rx="5" ry="5" fill="rgb(26,26,26)"/>
<ellipse cx="-3" cy="-17" rx="4" ry="3" fill="rgb(0,0,0)"/>
<ellipse cx="22" cy="-16" rx="6" ry="10" fill="rgb(56,56,56)"/>
<ellipse cx="25" cy="7" rx="6" ry="8" fill="rgb(31,31,31)"/>
<ellipse cx="-15" cy="22" rx="11" ry="7" fill="rgb(56,56,56)"/>
<ellipse cx="3" cy="27" rx="6" ry="3" fill="rgb(18,18,18)"/>
<ellipse cx="-27" cy="6" rx="3" ry="6" fill="rgb(13,13,13)"/>
</g></g>
<circle cx="-11" cy="-20.4" r="0.75" fill="#000"/>
<circle cx="-6.5" cy="3.7" r="0.75" fill="#000"/>
<circle cx="-3.7" cy="6.5" r="0.75" fill="#000"/>
<circle cx="13" cy="-1.9" r="0.75" fill="#000"/>
<circle r="21.4" fill="none" stroke="#000" stroke-width="1.75"/>
<path d="M-4.2,-20.9Q-2.2,-23.3 -1.2,-24.5Q0,-25.8 1.2,-24.5Q2.2,-23.3 4.2,-20.9" fill="none" stroke="#000" stroke-width="1.6" stroke-linejoin="round"/>
<path d="M-20.8,-5.4C-22.5,-6.2 -24,-5.8 -24,-4L-24.3,4.5C-24.3,6.6 -22.5,7 -20.5,6.3" fill="none" stroke="#000" stroke-width="1.45"/>
<path d="M20.8,-5.4C22.5,-6.2 24,-5.8 24,-4L24.3,4.5C24.3,6.6 22.5,7 20.5,6.3" fill="none" stroke="#000" stroke-width="1.45"/>
</g>
<g transform="translate(637.30,234.60)">
<circle r="37.2" fill="#ebf2fc"/>
<g clip-path="url(#mapclip)"><g filter="url(#cmap)">
<rect x="-45" y="-45" width="90" height="90" fill="rgb(92,92,92)"/>
<ellipse cx="-21" cy="-23" rx="8" ry="5" fill="rgb(89,89,89)"/>
<ellipse cx="20" cy="-23" rx="7" ry="5" fill="rgb(107,107,107)"/>
<ellipse cx="0" cy="-27" rx="13" ry="5" fill="rgb(168,168,168)"/>
<ellipse cx="-2" cy="-28" rx="7" ry="3" fill="rgb(204,204,204)"/>
<ellipse cx="-32.5" cy="-4" rx="3" ry="10" fill="rgb(158,158,158)"/>
<ellipse cx="-26" cy="-5" rx="4" ry="12" fill="rgb(51,51,51)"/>
<ellipse cx="-16" cy="-2" rx="5" ry="10" fill="rgb(56,56,56)"/>
<ellipse cx="14" cy="-4" rx="7" ry="10" fill="rgb(56,56,56)"/>
<ellipse cx="25" cy="-6" rx="5" ry="10" fill="rgb(51,51,51)"/>
<ellipse cx="7" cy="7" rx="4" ry="4" fill="rgb(26,26,26)"/>
<ellipse cx="32" cy="0" rx="3" ry="11" fill="rgb(153,153,153)"/>
<ellipse cx="22" cy="10" rx="5" ry="6" fill="rgb(115,115,115)"/>
<ellipse cx="0" cy="12" rx="4" ry="4" fill="rgb(20,20,20)"/>
<ellipse cx="-22" cy="13" rx="9" ry="6" fill="rgb(92,92,92)"/>
<ellipse cx="-31" cy="11" rx="2" ry="3" fill="rgb(153,153,153)"/>
<ellipse cx="0" cy="26" rx="16" ry="5" fill="rgb(120,120,120)"/>
<ellipse cx="-8" cy="27" rx="4" ry="3" fill="rgb(153,153,153)"/>
<ellipse cx="0" cy="-14" rx="11" ry="8" fill="rgb(168,168,168)"/>
<ellipse cx="6" cy="-11" rx="5" ry="5" fill="rgb(158,158,158)"/>
<ellipse cx="-4" cy="-3" rx="7" ry="9" fill="rgb(166,166,166)"/>
<ellipse cx="-7" cy="4" rx="5" ry="4" fill="rgb(153,153,153)"/>
</g></g>
<path d="M0.8,-1.3l2.6,2.6M0.8,1.3l2.6,-2.6M-4.0,0.9l2.6,2.6M-4.0,3.5l2.6,-2.6M-0.9,-5.6l2.6,2.6M-0.9,-3.0l2.6,-2.6M2.1,2.7l2.6,2.6M2.1,5.3l2.6,-2.6M-7.5,-2.3l2.6,2.6M-7.5,0.3l2.6,-2.6M4.5,-4.7l2.6,2.6M4.5,-2.1l2.6,-2.6M-3.2,5.4l2.6,2.6M-3.2,8.0l2.6,-2.6M-5.0,-7.9l2.6,2.6M-5.0,-5.3l2.6,-2.6M6.8,1.4l2.6,2.6M6.8,4.0l2.6,-2.6M-9.7,1.9l2.6,2.6M-9.7,4.5l2.6,-2.6M2.7,-9.3l2.6,2.6M2.7,-6.7l2.6,-2.6M1.7,7.5l2.6,2.6M1.7,10.1l2.6,-2.6M-10.3,-6.1l2.6,2.6M-10.3,-3.5l2.6,-2.6M9.3,-3.4l2.6,2.6M9.3,-0.8l2.6,-2.6M-7.8,7.2l2.6,2.6M-7.8,9.8l2.6,-2.6M-2.8,-11.9l2.6,2.6M-2.8,-9.3l2.6,-2.6M7.8,5.8l2.6,2.6M7.8,8.4l2.6,-2.6M-13.6,-0.8l2.6,2.6M-13.6,1.8l2.6,-2.6M7.7,-9.5l2.6,2.6M7.7,-6.9l2.6,-2.6M-1.9,10.7l2.6,2.6M-1.9,13.3l2.6,-2.6M-9.8,-10.7l2.6,2.6M-9.8,-8.1l2.6,-2.6M12.2,0.4l2.6,2.6M12.2,3.0l2.6,-2.6M-12.8,6.1l2.6,2.6M-12.8,8.7l2.6,-2.6M1.8,-14.1l2.6,2.6M1.8,-11.5l2.6,-2.6M5.9,10.4l2.6,2.6M5.9,13.0l2.6,-2.6M-15.5,-5.5l2.6,2.6M-15.5,-2.9l2.6,-2.6M12.5,-7.2l2.6,2.6M12.5,-4.6l2.6,-2.6M-7.3,11.8l2.6,2.6M-7.3,14.4l2.6,-2.6M-6.6,-14.9l2.6,2.6M-6.6,-12.3l2.6,-2.6M12.9,5.6l2.6,2.6M12.9,8.2l2.6,-2.6M-17.0,2.5l2.6,2.6M-17.0,5.1l2.6,-2.6M7.6,-14.1l2.6,2.6M7.6,-11.5l2.6,-2.6M1.5,14.0l2.6,2.6M1.5,16.6l2.6,-2.6M-14.8,-10.9l2.6,2.6M-14.8,-8.3l2.6,-2.6M15.9,-2.6l2.6,2.6M15.9,-0.0l2.6,-2.6M-13.2,10.6l2.6,2.6M-13.2,13.2l2.6,-2.6M-1.2,-17.7l2.6,2.6M-1.2,-15.1l2.6,-2.6M10.8,11.0l2.6,2.6M10.8,13.6l2.6,-2.6M-19.5,-2.9l2.6,2.6M-19.5,-0.3l2.6,-2.6M13.4,-11.6l2.6,2.6M13.4,-9.0l2.6,-2.6M-4.7,15.7l2.6,2.6M-4.7,18.3l2.6,-2.6M-11.4,-16.1l2.6,2.6M-11.4,-13.5l2.6,-2.6M17.2,3.4l2.6,2.6M17.2,6.0l2.6,-2.6M-18.6,6.9l2.6,2.6M-18.6,9.5l2.6,-2.6M5.5,-18.3l2.6,2.6M5.5,-15.7l2.6,-2.6M6.2,15.7l2.6,2.6M6.2,18.3l2.6,-2.6M-19.5,-9.2l2.6,2.6M-19.5,-6.6l2.6,-2.6M18.1,-6.8l2.6,2.6M18.1,-4.2l2.6,-2.6M-11.7,15.0l2.6,2.6M-11.7,17.6l2.6,-2.6M-5.7,-20.0l2.6,2.6M-5.7,-17.4l2.6,-2.6M15.8,9.9l2.6,2.6M15.8,12.5l2.6,-2.6M-22.3,1.1l2.6,2.6M-22.3,3.7l2.6,-2.6M12.5,-16.3l2.6,2.6M12.5,-13.7l2.6,-2.6M-0.5,18.6l2.6,2.6M-0.5,21.2l2.6,-2.6M-16.6,-15.6l2.6,2.6M-16.6,-13.0l2.6,-2.6M20.6,-0.3l2.6,2.6M20.6,2.3l2.6,-2.6M-18.4,11.7l2.6,2.6M-18.4,14.3l2.6,-2.6M1.8,-21.7l2.6,2.6M1.8,-19.1l2.6,-2.6M11.5,15.8l2.6,2.6M11.5,18.4l2.6,-2.6M-23.4,-6.0l2.6,2.6M-23.4,-3.4l2.6,-2.6M18.6,-11.7l2.6,2.6M18.6,-9.1l2.6,-2.6M-8.4,19.0l2.6,2.6M-8.4,21.6l2.6,-2.6M-11.0,-20.8l2.6,2.6M-11.0,-18.2l2.6,-2.6M20.3,7.2l2.6,2.6M20.3,9.8l2.6,-2.6M-23.6,6.0l2.6,2.6M-23.6,8.6l2.6,-2.6M9.9,-20.7l2.6,2.6M9.9,-18.1l2.6,-2.6M4.7,20.1l2.6,2.6M4.7,22.7l2.6,-2.6M-21.6,-13.5l2.6,2.6M-21.6,-10.9l2.6,-2.6M22.7,-5.0l2.6,2.6M22.7,-2.4l2.6,-2.6M-16.4,16.5l2.6,2.6M-16.4,19.1l2.6,-2.6M-3.2,-24.0l2.6,2.6M-3.2,-21.4l2.6,-2.6M16.9,14.4l2.6,2.6M16.9,17.0l2.6,-2.6M-26.4,-1.5l2.6,2.6M-26.4,1.1l2.6,-2.6M17.5,-16.9l2.6,2.6M17.5,-14.3l2.6,-2.6M-3.8,22.0l2.6,2.6M-3.8,24.6l2.6,-2.6M-16.7,-20.2l2.6,2.6M-16.7,-17.6l2.6,-2.6M24.0,3.1l2.6,2.6M24.0,5.7l2.6,-2.6M-23.3,11.3l2.6,2.6M-23.3,13.9l2.6,-2.6M5.7,-24.5l2.6,2.6M5.7,-21.9l2.6,-2.6M10.6,20.3l2.6,2.6M10.6,22.9l2.6,-2.6M-26.0,-9.9l2.6,2.6M-26.0,-7.3l2.6,-2.6M23.4,-10.4l2.6,2.6M23.4,-7.8l2.6,-2.6M-12.9,20.9l2.6,2.6M-12.9,23.5l2.6,-2.6M-9.1,-25.0l2.6,2.6M-9.1,-22.4l2.6,-2.6M22.0,11.4l2.6,2.6M22.0,14.0l2.6,-2.6M-28.0,3.9l2.6,2.6M-28.0,6.5l2.6,-2.6M14.7,-21.8l2.6,2.6M14.7,-19.2l2.6,-2.6M2.0,23.9l2.6,2.6M2.0,26.5l2.6,-2.6M-22.3,-18.0l2.6,2.6M-22.3,-15.4l2.6,-2.6M26.6,-2.1l2.6,2.6M26.6,0.5l2.6,-2.6M-21.4,16.7l2.6,2.6M-21.4,19.3l2.6,-2.6M0.3,-27.2l2.6,2.6M0.3,-24.6l2.6,-2.6M16.6,18.9l2.6,2.6M16.6,21.5l2.6,-2.6M-29.5,-5.1l2.6,2.6M-29.5,-2.5l2.6,-2.6M22.4,-16.2l2.6,2.6M22.4,-13.6l2.6,-2.6M-7.9,24.5l2.6,2.6M-7.9,27.1l2.6,-2.6M-15.4,-24.6l2.6,2.6M-15.4,-22.0l2.6,-2.6M26.3,7.1l2.6,2.6M26.3,9.7l2.6,-2.6M-28.0,9.8l2.6,2.6M-28.0,12.4l2.6,-2.6M10.3,-26.2l2.6,2.6M10.3,-23.6l2.6,-2.6M8.4,24.4l2.6,2.6M8.4,27.0l2.6,-2.6M-27.4,-14.3l2.6,2.6M-27.4,-11.7l2.6,-2.6M27.6,-8.0l2.6,2.6M27.6,-5.4l2.6,-2.6M-17.8,21.8l2.6,2.6M-17.8,24.4l2.6,-2.6M-6.1,-28.7l2.6,2.6M-6.1,-26.1l2.6,-2.6M22.4,16.0l2.6,2.6M22.4,18.6l2.6,-2.6M-31.6,0.7l2.6,2.6M-31.6,3.3l2.6,-2.6M19.7,-21.8l2.6,2.6M19.7,-19.2l2.6,-2.6M-1.7,27.0l2.6,2.6M-1.7,29.6l2.6,-2.6M-21.8,-22.5l2.6,2.6M-21.8,-19.9l2.6,-2.6M29.5,1.6l2.6,2.6M29.5,4.2l2.6,-2.6M-26.3,15.8l2.6,2.6M-26.3,18.4l2.6,-2.6M4.6,-29.6l2.6,2.6M4.6,-27.0l2.6,-2.6M15.2,23.3l2.6,2.6M15.2,25.9l2.6,-2.6M-31.6,-9.3l2.6,2.6M-31.6,-6.7l2.6,-2.6M27.0,-14.4l2.6,2.6M27.0,-11.8l2.6,-2.6M-12.6,26.1l2.6,2.6M-12.6,28.7l2.6,-2.6M-13.1,-28.7l2.6,2.6M-13.1,-26.1l2.6,-2.6" stroke="#000" stroke-width="0.6" fill="none" opacity="0.85"/>
<circle cx="-11" cy="-8" r="0.75" fill="#000"/>
<circle r="21.4" fill="none" stroke="#000" stroke-width="1.75"/>
<path d="M-4.2,-20.9Q-2.2,-23.3 -1.2,-24.5Q0,-25.8 1.2,-24.5Q2.2,-23.3 4.2,-20.9" fill="none" stroke="#000" stroke-width="1.6" stroke-linejoin="round"/>
<path d="M-20.8,-5.4C-22.5,-6.2 -24,-5.8 -24,-4L-24.3,4.5C-24.3,6.6 -22.5,7 -20.5,6.3" fill="none" stroke="#000" stroke-width="1.45"/>
<path d="M20.8,-5.4C22.5,-6.2 24,-5.8 24,-4L24.3,4.5C24.3,6.6 22.5,7 20.5,6.3" fill="none" stroke="#000" stroke-width="1.45"/>
</g>
<text x="539.7" y="235.0" font-size="13" font-weight="bold" text-anchor="middle" fill="#000" >Random</text>
<g transform="translate(436.30,420.40)">
<circle r="37.2" fill="#ebf2fc"/>
<g clip-path="url(#mapclip)"><g filter="url(#cmap)">
<rect x="-45" y="-45" width="90" height="90" fill="rgb(64,64,64)"/>
<ellipse cx="-24" cy="-16" rx="4" ry="5" fill="rgb(97,97,97)"/>
<ellipse cx="25" cy="-12" rx="4" ry="7" fill="rgb(92,92,92)"/>
<ellipse cx="-28" cy="5" rx="4" ry="14" fill="rgb(69,69,69)"/>
<ellipse cx="-20" cy="15" rx="4" ry="5" fill="rgb(89,89,89)"/>
<ellipse cx="-12" cy="2" rx="6" ry="10" fill="rgb(97,97,97)"/>
<ellipse cx="-11.5" cy="11.5" rx="4" ry="4" fill="rgb(107,107,107)"/>
<ellipse cx="-1" cy="-9" rx="11" ry="8" fill="rgb(0,0,0)"/>
<ellipse cx="9" cy="-13" rx="7" ry="6" fill="rgb(0,0,0)"/>
<ellipse cx="3" cy="2" rx="7" ry="4" fill="rgb(13,13,13)"/>
<ellipse cx="2" cy="16" rx="12" ry="5" fill="rgb(31,31,31)"/>
<ellipse cx="1" cy="19" rx="4" ry="4" fill="rgb(5,5,5)"/>
<ellipse cx="13.6" cy="6.8" rx="3" ry="6" fill="rgb(102,102,102)"/>
<ellipse cx="27" cy="10" rx="5" ry="8" fill="rgb(64,64,64)"/>
<ellipse cx="6" cy="28" rx="6" ry="3" fill="rgb(31,31,31)"/>
</g></g>
<path d="M-25.3,-18.6l2.6,2.6M-25.3,-16.0l2.6,-2.6M-25.9,-14.3l2.6,2.6M-25.9,-11.7l2.6,-2.6M-30.3,-11.8l2.6,2.6M-30.3,-9.2l2.6,-2.6M-34.0,-3.2l2.6,2.6M-34.0,-0.6l2.6,-2.6M-25.3,12.3l2.6,2.6M-25.3,14.9l2.6,-2.6M-25.9,19.1l2.6,2.6M-25.9,21.7l2.6,-2.6M12.3,0.6l2.6,2.6M12.3,3.2l2.6,-2.6M12.3,5.5l2.6,2.6M12.3,8.1l2.6,-2.6M9.7,7.3l2.6,2.6M9.7,9.9l2.6,-2.6M22.7,-18.6l2.6,2.6M22.7,-16.0l2.6,-2.6M23.4,-14.3l2.6,2.6M23.4,-11.7l2.6,-2.6M27.7,-11.8l2.6,2.6M27.7,-9.2l2.6,-2.6M27.1,-6.2l2.6,2.6M27.1,-3.6l2.6,-2.6M-1.3,-21.1l2.6,2.6M-1.3,-18.5l2.6,-2.6M-4.0,0.9l2.6,2.6M-4.0,3.5l2.6,-2.6M-7.5,-2.3l2.6,2.6M-7.5,0.3l2.6,-2.6M-9.7,1.9l2.6,2.6M-9.7,4.5l2.6,-2.6M-10.3,-6.1l2.6,2.6M-10.3,-3.5l2.6,-2.6M-7.8,7.2l2.6,2.6M-7.8,9.8l2.6,-2.6M-13.6,-0.8l2.6,2.6M-13.6,1.8l2.6,-2.6M-12.8,6.1l2.6,2.6M-12.8,8.7l2.6,-2.6M-15.5,-5.5l2.6,2.6M-15.5,-2.9l2.6,-2.6M-17.0,2.5l2.6,2.6M-17.0,5.1l2.6,-2.6M-13.2,10.6l2.6,2.6M-13.2,13.2l2.6,-2.6M-19.5,-2.9l2.6,2.6M-19.5,-0.3l2.6,-2.6M-18.6,6.9l2.6,2.6M-18.6,9.5l2.6,-2.6" stroke="#000" stroke-width="0.6" fill="none" opacity="0.85"/>
<circle cx="-19" cy="-17.3" r="0.75" fill="#000"/>
<circle cx="-11.7" cy="-11" r="0.75" fill="#000"/>
<circle cx="-11" cy="-7.4" r="0.75" fill="#000"/>
<circle cx="-3" cy="1.2" r="0.75" fill="#000"/>
<circle cx="3.7" cy="9.3" r="0.75" fill="#000"/>
<circle cx="9.9" cy="0" r="0.75" fill="#000"/>
<circle cx="18" cy="0.6" r="0.75" fill="#000"/>
<circle cx="11" cy="-20" r="0.75" fill="#000"/>
<circle cx="6.2" cy="-19" r="0.75" fill="#000"/>
<circle cx="15.4" cy="-27" r="0.75" fill="#000"/>
<circle cx="-28.6" cy="-5" r="0.75" fill="#000"/>
<circle cx="-29.6" cy="11.7" r="0.75" fill="#000"/>
<circle cx="-18" cy="20.4" r="0.75" fill="#000"/>
<circle cx="-16" cy="27" r="0.75" fill="#000"/>
<circle cx="18.5" cy="20.4" r="0.75" fill="#000"/>
<circle cx="24.7" cy="20.4" r="0.75" fill="#000"/>
<circle cx="32.7" cy="-1.9" r="0.75" fill="#000"/>
<circle r="21.4" fill="none" stroke="#000" stroke-width="1.75"/>
<path d="M-4.2,-20.9Q-2.2,-23.3 -1.2,-24.5Q0,-25.8 1.2,-24.5Q2.2,-23.3 4.2,-20.9" fill="none" stroke="#000" stroke-width="1.6" stroke-linejoin="round"/>
<path d="M-20.8,-5.4C-22.5,-6.2 -24,-5.8 -24,-4L-24.3,4.5C-24.3,6.6 -22.5,7 -20.5,6.3" fill="none" stroke="#000" stroke-width="1.45"/>
<path d="M20.8,-5.4C22.5,-6.2 24,-5.8 24,-4L24.3,4.5C24.3,6.6 22.5,7 20.5,6.3" fill="none" stroke="#000" stroke-width="1.45"/>
</g>
<g transform="translate(637.30,420.40)">
<circle r="37.2" fill="#ebf2fc"/>
<g clip-path="url(#mapclip)"><g filter="url(#cmap)">
<rect x="-45" y="-45" width="90" height="90" fill="rgb(153,153,153)"/>
<ellipse cx="-26" cy="-8" rx="7" ry="14" fill="rgb(51,51,51)"/>
<ellipse cx="-27" cy="-17" rx="4" ry="5" fill="rgb(38,38,38)"/>
<ellipse cx="-18" cy="-23" rx="7" ry="4" fill="rgb(107,107,107)"/>
<ellipse cx="-16" cy="0" rx="6" ry="10" fill="rgb(97,97,97)"/>
<ellipse cx="-31" cy="2" rx="3" ry="12" fill="rgb(128,128,128)"/>
<ellipse cx="23" cy="-6" rx="7" ry="12" fill="rgb(51,51,51)"/>
<ellipse cx="22" cy="-8" rx="3" ry="5" fill="rgb(38,38,38)"/>
<ellipse cx="32" cy="-11" rx="3" ry="7" fill="rgb(217,217,217)"/>
<ellipse cx="20" cy="-20" rx="4" ry="4" fill="rgb(128,128,128)"/>
<ellipse cx="24" cy="11" rx="7" ry="5" fill="rgb(122,122,122)"/>
<ellipse cx="12" cy="0" rx="5" ry="10" fill="rgb(153,153,153)"/>
<ellipse cx="0" cy="14" rx="21" ry="6" fill="rgb(184,184,184)"/>
<ellipse cx="-1" cy="26" rx="24" ry="7" fill="rgb(255,255,255)"/>
<ellipse cx="-27" cy="16" rx="6" ry="6" fill="rgb(191,191,191)"/>
<ellipse cx="-3" cy="-27" rx="10" ry="5" fill="rgb(255,255,255)"/>
<ellipse cx="12" cy="-27" rx="6" ry="4" fill="rgb(204,204,204)"/>
<ellipse cx="-1" cy="-8" rx="10" ry="14" fill="rgb(255,255,255)"/>
<ellipse cx="-1" cy="4" rx="6" ry="6" fill="rgb(255,255,255)"/>
</g></g>
<path d="M0.8,-1.3l2.6,2.6M0.8,1.3l2.6,-2.6M-4.0,0.9l2.6,2.6M-4.0,3.5l2.6,-2.6M-0.9,-5.6l2.6,2.6M-0.9,-3.0l2.6,-2.6M2.1,2.7l2.6,2.6M2.1,5.3l2.6,-2.6M-7.5,-2.3l2.6,2.6M-7.5,0.3l2.6,-2.6M4.5,-4.7l2.6,2.6M4.5,-2.1l2.6,-2.6M-3.2,5.4l2.6,2.6M-3.2,8.0l2.6,-2.6M-5.0,-7.9l2.6,2.6M-5.0,-5.3l2.6,-2.6M6.8,1.4l2.6,2.6M6.8,4.0l2.6,-2.6M-9.7,1.9l2.6,2.6M-9.7,4.5l2.6,-2.6M2.7,-9.3l2.6,2.6M2.7,-6.7l2.6,-2.6M1.7,7.5l2.6,2.6M1.7,10.1l2.6,-2.6M-10.3,-6.1l2.6,2.6M-10.3,-3.5l2.6,-2.6M9.3,-3.4l2.6,2.6M9.3,-0.8l2.6,-2.6M-7.8,7.2l2.6,2.6M-7.8,9.8l2.6,-2.6M-2.8,-11.9l2.6,2.6M-2.8,-9.3l2.6,-2.6M7.8,5.8l2.6,2.6M7.8,8.4l2.6,-2.6M-13.6,-0.8l2.6,2.6M-13.6,1.8l2.6,-2.6M7.7,-9.5l2.6,2.6M7.7,-6.9l2.6,-2.6M-1.9,10.7l2.6,2.6M-1.9,13.3l2.6,-2.6M-9.8,-10.7l2.6,2.6M-9.8,-8.1l2.6,-2.6M12.2,0.4l2.6,2.6M12.2,3.0l2.6,-2.6M-12.8,6.1l2.6,2.6M-12.8,8.7l2.6,-2.6M1.8,-14.1l2.6,2.6M1.8,-11.5l2.6,-2.6M5.9,10.4l2.6,2.6M5.9,13.0l2.6,-2.6M-15.5,-5.5l2.6,2.6M-15.5,-2.9l2.6,-2.6M12.5,-7.2l2.6,2.6M12.5,-4.6l2.6,-2.6M-7.3,11.8l2.6,2.6M-7.3,14.4l2.6,-2.6M-6.6,-14.9l2.6,2.6M-6.6,-12.3l2.6,-2.6M12.9,5.6l2.6,2.6M12.9,8.2l2.6,-2.6M-17.0,2.5l2.6,2.6M-17.0,5.1l2.6,-2.6M7.6,-14.1l2.6,2.6M7.6,-11.5l2.6,-2.6M1.5,14.0l2.6,2.6M1.5,16.6l2.6,-2.6M-14.8,-10.9l2.6,2.6M-14.8,-8.3l2.6,-2.6M15.9,-2.6l2.6,2.6M15.9,-0.0l2.6,-2.6M-13.2,10.6l2.6,2.6M-13.2,13.2l2.6,-2.6M-1.2,-17.7l2.6,2.6M-1.2,-15.1l2.6,-2.6M10.8,11.0l2.6,2.6M10.8,13.6l2.6,-2.6M-19.5,-2.9l2.6,2.6M-19.5,-0.3l2.6,-2.6M13.4,-11.6l2.6,2.6M13.4,-9.0l2.6,-2.6M-4.7,15.7l2.6,2.6M-4.7,18.3l2.6,-2.6M-11.4,-16.1l2.6,2.6M-11.4,-13.5l2.6,-2.6M17.2,3.4l2.6,2.6M17.2,6.0l2.6,-2.6M-18.6,6.9l2.6,2.6M-18.6,9.5l2.6,-2.6M5.5,-18.3l2.6,2.6M5.5,-15.7l2.6,-2.6M6.2,15.7l2.6,2.6M6.2,18.3l2.6,-2.6M-19.5,-9.2l2.6,2.6M-19.5,-6.6l2.6,-2.6M18.1,-6.8l2.6,2.6M18.1,-4.2l2.6,-2.6M-11.7,15.0l2.6,2.6M-11.7,17.6l2.6,-2.6M-5.7,-20.0l2.6,2.6M-5.7,-17.4l2.6,-2.6M15.8,9.9l2.6,2.6M15.8,12.5l2.6,-2.6M-22.3,1.1l2.6,2.6M-22.3,3.7l2.6,-2.6M12.5,-16.3l2.6,2.6M12.5,-13.7l2.6,-2.6M-0.5,18.6l2.6,2.6M-0.5,21.2l2.6,-2.6M-16.6,-15.6l2.6,2.6M-16.6,-13.0l2.6,-2.6M20.6,-0.3l2.6,2.6M20.6,2.3l2.6,-2.6M-18.4,11.7l2.6,2.6M-18.4,14.3l2.6,-2.6M1.8,-21.7l2.6,2.6M1.8,-19.1l2.6,-2.6M11.5,15.8l2.6,2.6M11.5,18.4l2.6,-2.6M-23.4,-6.0l2.6,2.6M-23.4,-3.4l2.6,-2.6M18.6,-11.7l2.6,2.6M18.6,-9.1l2.6,-2.6M-8.4,19.0l2.6,2.6M-8.4,21.6l2.6,-2.6M-11.0,-20.8l2.6,2.6M-11.0,-18.2l2.6,-2.6M20.3,7.2l2.6,2.6M20.3,9.8l2.6,-2.6M-23.6,6.0l2.6,2.6M-23.6,8.6l2.6,-2.6M9.9,-20.7l2.6,2.6M9.9,-18.1l2.6,-2.6M4.7,20.1l2.6,2.6M4.7,22.7l2.6,-2.6M-21.6,-13.5l2.6,2.6M-21.6,-10.9l2.6,-2.6M22.7,-5.0l2.6,2.6M22.7,-2.4l2.6,-2.6M-16.4,16.5l2.6,2.6M-16.4,19.1l2.6,-2.6M-3.2,-24.0l2.6,2.6M-3.2,-21.4l2.6,-2.6M16.9,14.4l2.6,2.6M16.9,17.0l2.6,-2.6M-26.4,-1.5l2.6,2.6M-26.4,1.1l2.6,-2.6M17.5,-16.9l2.6,2.6M17.5,-14.3l2.6,-2.6M-3.8,22.0l2.6,2.6M-3.8,24.6l2.6,-2.6M-16.7,-20.2l2.6,2.6M-16.7,-17.6l2.6,-2.6M24.0,3.1l2.6,2.6M24.0,5.7l2.6,-2.6M-23.3,11.3l2.6,2.6M-23.3,13.9l2.6,-2.6M5.7,-24.5l2.6,2.6M5.7,-21.9l2.6,-2.6M10.6,20.3l2.6,2.6M10.6,22.9l2.6,-2.6M-26.0,-9.9l2.6,2.6M-26.0,-7.3l2.6,-2.6M23.4,-10.4l2.6,2.6M23.4,-7.8l2.6,-2.6M-12.9,20.9l2.6,2.6M-12.9,23.5l2.6,-2.6M-9.1,-25.0l2.6,2.6M-9.1,-22.4l2.6,-2.6M22.0,11.4l2.6,2.6M22.0,14.0l2.6,-2.6M-28.0,3.9l2.6,2.6M-28.0,6.5l2.6,-2.6M14.7,-21.8l2.6,2.6M14.7,-19.2l2.6,-2.6M2.0,23.9l2.6,2.6M2.0,26.5l2.6,-2.6M-22.3,-18.0l2.6,2.6M-22.3,-15.4l2.6,-2.6M26.6,-2.1l2.6,2.6M26.6,0.5l2.6,-2.6M-21.4,16.7l2.6,2.6M-21.4,19.3l2.6,-2.6M0.3,-27.2l2.6,2.6M0.3,-24.6l2.6,-2.6M16.6,18.9l2.6,2.6M16.6,21.5l2.6,-2.6M-29.5,-5.1l2.6,2.6M-29.5,-2.5l2.6,-2.6M22.4,-16.2l2.6,2.6M22.4,-13.6l2.6,-2.6M-7.9,24.5l2.6,2.6M-7.9,27.1l2.6,-2.6M-15.4,-24.6l2.6,2.6M-15.4,-22.0l2.6,-2.6M26.3,7.1l2.6,2.6M26.3,9.7l2.6,-2.6M-28.0,9.8l2.6,2.6M-28.0,12.4l2.6,-2.6M10.3,-26.2l2.6,2.6M10.3,-23.6l2.6,-2.6M8.4,24.4l2.6,2.6M8.4,27.0l2.6,-2.6M-27.4,-14.3l2.6,2.6M-27.4,-11.7l2.6,-2.6M27.6,-8.0l2.6,2.6M27.6,-5.4l2.6,-2.6M-17.8,21.8l2.6,2.6M-17.8,24.4l2.6,-2.6M-6.1,-28.7l2.6,2.6M-6.1,-26.1l2.6,-2.6M22.4,16.0l2.6,2.6M22.4,18.6l2.6,-2.6M-31.6,0.7l2.6,2.6M-31.6,3.3l2.6,-2.6M19.7,-21.8l2.6,2.6M19.7,-19.2l2.6,-2.6M-1.7,27.0l2.6,2.6M-1.7,29.6l2.6,-2.6M-21.8,-22.5l2.6,2.6M-21.8,-19.9l2.6,-2.6M29.5,1.6l2.6,2.6M29.5,4.2l2.6,-2.6M-26.3,15.8l2.6,2.6M-26.3,18.4l2.6,-2.6M4.6,-29.6l2.6,2.6M4.6,-27.0l2.6,-2.6M15.2,23.3l2.6,2.6M15.2,25.9l2.6,-2.6M-31.6,-9.3l2.6,2.6M-31.6,-6.7l2.6,-2.6M27.0,-14.4l2.6,2.6M27.0,-11.8l2.6,-2.6M-12.6,26.1l2.6,2.6M-12.6,28.7l2.6,-2.6M-13.1,-28.7l2.6,2.6M-13.1,-26.1l2.6,-2.6" stroke="#000" stroke-width="0.6" fill="none" opacity="0.85"/>
<circle r="21.4" fill="none" stroke="#000" stroke-width="1.75"/>
<path d="M-4.2,-20.9Q-2.2,-23.3 -1.2,-24.5Q0,-25.8 1.2,-24.5Q2.2,-23.3 4.2,-20.9" fill="none" stroke="#000" stroke-width="1.6" stroke-linejoin="round"/>
<path d="M-20.8,-5.4C-22.5,-6.2 -24,-5.8 -24,-4L-24.3,4.5C-24.3,6.6 -22.5,7 -20.5,6.3" fill="none" stroke="#000" stroke-width="1.45"/>
<path d="M20.8,-5.4C22.5,-6.2 24,-5.8 24,-4L24.3,4.5C24.3,6.6 22.5,7 20.5,6.3" fill="none" stroke="#000" stroke-width="1.45"/>
</g>
<text x="539.7" y="420.8" font-size="13" font-weight="bold" text-anchor="middle" fill="#000" >Structured</text>
</svg></body></html>
